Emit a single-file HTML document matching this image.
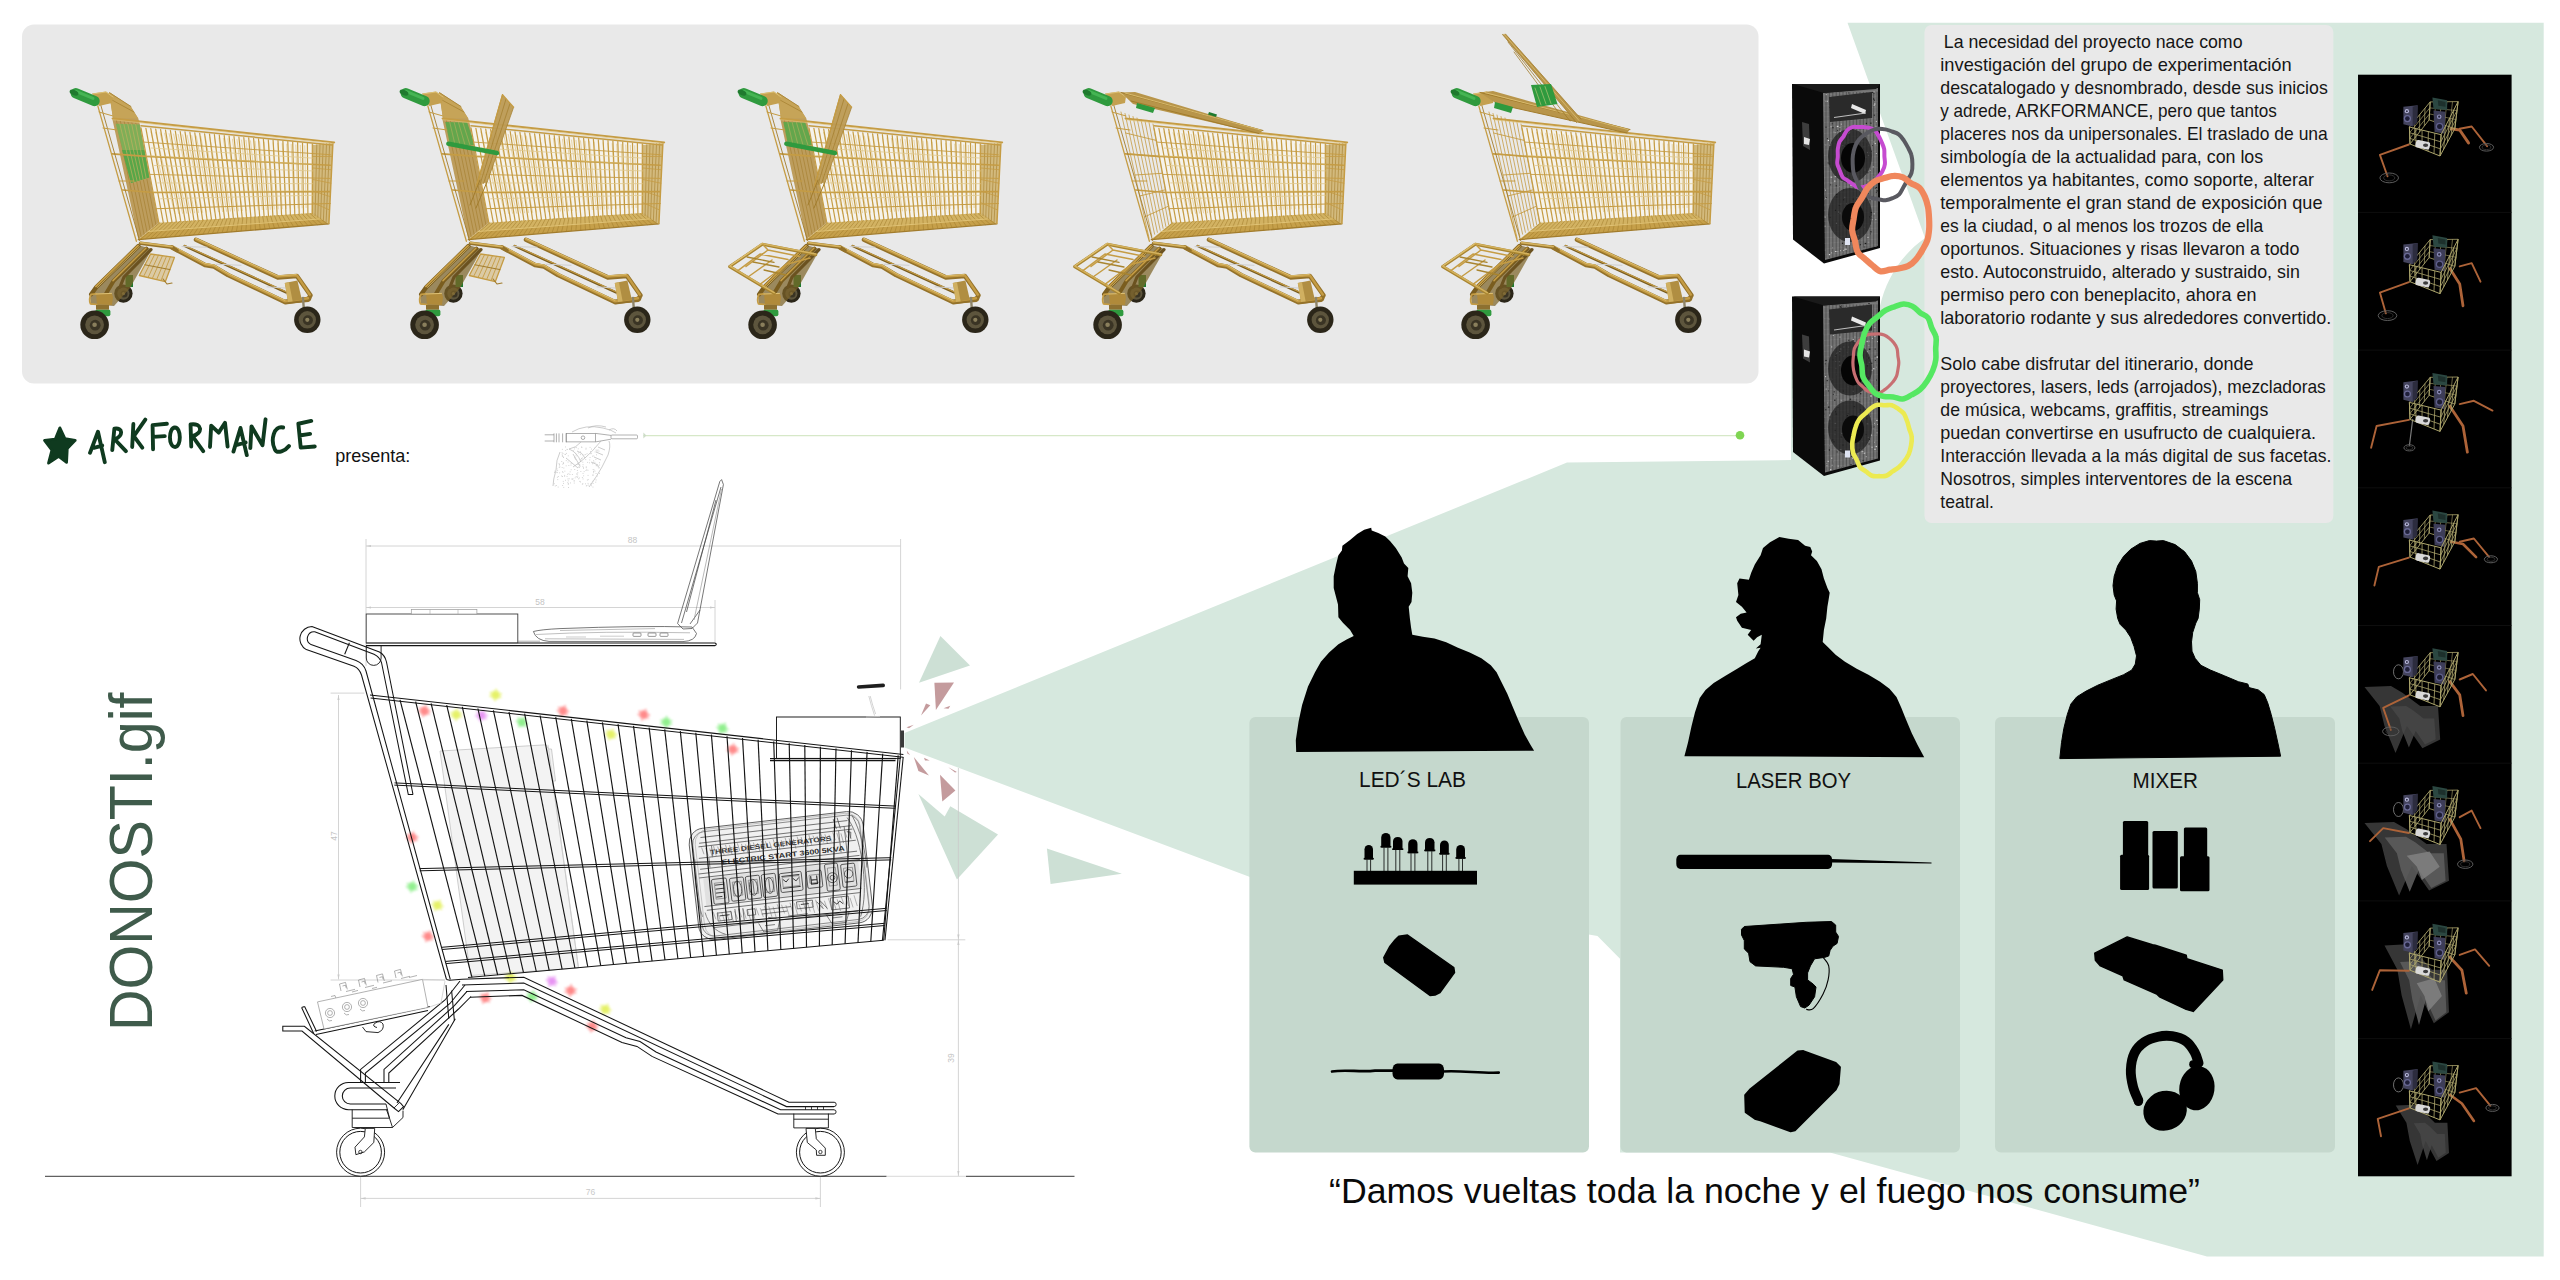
<!DOCTYPE html>
<html><head><meta charset="utf-8"><title>DONOSTI.gif - ARKFORMANCE</title>
<style>html,body{margin:0;padding:0;background:#fff;}body{width:2560px;height:1280px;overflow:hidden;}svg{display:block;font-family:"Liberation Sans", sans-serif;}</style></head><body>
<svg width="2560" height="1280" viewBox="0 0 2560 1280">
<defs><filter id="blur1" x="-20%" y="-20%" width="140%" height="140%"><feGaussianBlur stdDeviation="1.0"/></filter><filter id="blur2"><feGaussianBlur stdDeviation="0.6"/></filter></defs>
<rect width="2560" height="1280" fill="#fff"/>
<rect x="22" y="24.5" width="1736.5" height="359" rx="12" ry="12" fill="#e9e9e9"/>
<path d="M904.5,733 L1567,462.6 L1791,460 L1791,330 L1880,306 C1886,280 1900,256 1925,238 L1847.5,22.8 L2543.7,22.8 L2543.7,1256.6 L2207,1256.6 L1830,1152.5 L1620,1152.5 L1620,958.8 L1597.5,936 L1588.8,934.5 L1588.8,1000 L1250,1000 L1250,877 L904.5,747.5 Z" fill="#d6e8de"/>
<rect x="1249.4" y="716.9" width="339.6" height="435.6" rx="6" ry="6" fill="#c5d8cd"/>
<rect x="1620.5" y="716.9" width="339.5" height="435.6" rx="6" ry="6" fill="#c5d8cd"/>
<rect x="1995.0" y="716.9" width="340.0" height="435.6" rx="6" ry="6" fill="#c5d8cd"/>
<rect x="1924.5" y="25" width="408.8" height="498" rx="7" ry="7" fill="#e9e9e9"/>
<rect x="2358" y="74.7" width="153.6" height="1101.6" fill="#000"/>
<g transform="translate(0.0,0)">
<circle cx="123.4" cy="293.6" r="9.2" fill="#2b2619"/>
<circle cx="123.4" cy="293.6" r="6.1" fill="#5d553d"/>
<circle cx="124.0" cy="294.0" r="3.5" fill="#3a3424"/>
<circle cx="123.4" cy="293.6" r="1.5" fill="#8a7f5c"/>
<rect x="125.5" y="275" width="7.5" height="12" fill="#1f7a2e"/>
<polygon points="109,92 130.4,105.9 138.3,118.5 139.7,123.8 158.9,222.7 138.3,239.3 112.5,119.8 113,118.5" fill="#b89650" opacity="0.92"/>
<path d="M116.4,120.4 L141.2,236.9" stroke="#a27c2c" stroke-width="0.60" fill="none" stroke-linecap="round" stroke-linejoin="round" />
<path d="M120.3,120.9 L144.2,234.6" stroke="#a27c2c" stroke-width="0.60" fill="none" stroke-linecap="round" stroke-linejoin="round" />
<path d="M124.2,121.5 L147.1,232.2" stroke="#a27c2c" stroke-width="0.60" fill="none" stroke-linecap="round" stroke-linejoin="round" />
<path d="M128.0,122.1 L150.1,229.8" stroke="#a27c2c" stroke-width="0.60" fill="none" stroke-linecap="round" stroke-linejoin="round" />
<path d="M131.9,122.7 L153.0,227.4" stroke="#a27c2c" stroke-width="0.60" fill="none" stroke-linecap="round" stroke-linejoin="round" />
<path d="M135.8,123.2 L156.0,225.1" stroke="#a27c2c" stroke-width="0.60" fill="none" stroke-linecap="round" stroke-linejoin="round" />
<polygon points="109,92 130.4,105.9 138.3,118.5 113,118.5" fill="#c6a458"/>
<path d="M110,93 L131,106.5 M112,100 L134,112" stroke="#a27c2c" stroke-width="0.70" fill="none" stroke-linecap="round" stroke-linejoin="round" />
<polygon points="115.8,123.8 139.7,124.5 149.2,177.6 131,183" fill="#7fae57"/>
<polygon points="122,150 144.3,150 149.2,177.6 131,183" fill="#58a648"/>
<path d="M119.8,123.9 L134.0,182.1" stroke="#c2b060" stroke-width="0.70" fill="none" stroke-linecap="round" stroke-linejoin="round" />
<path d="M123.8,124.0 L137.1,181.2" stroke="#c2b060" stroke-width="0.70" fill="none" stroke-linecap="round" stroke-linejoin="round" />
<path d="M127.8,124.2 L140.1,180.3" stroke="#c2b060" stroke-width="0.70" fill="none" stroke-linecap="round" stroke-linejoin="round" />
<path d="M131.7,124.3 L143.1,179.4" stroke="#c2b060" stroke-width="0.70" fill="none" stroke-linecap="round" stroke-linejoin="round" />
<path d="M135.7,124.4 L146.2,178.5" stroke="#c2b060" stroke-width="0.70" fill="none" stroke-linecap="round" stroke-linejoin="round" />
<polygon points="141.0,127.8 312.3,143.9 312.3,213.5 158.9,223.0" fill="#f6f3ea" opacity="0.92"/>
<path d="M151.0,132.0 L170.7,213.9" stroke="#e2cc96" stroke-width="0.80" fill="none" stroke-linecap="round" stroke-linejoin="round" />
<path d="M155.6,132.4 L174.7,213.7" stroke="#e2cc96" stroke-width="0.80" fill="none" stroke-linecap="round" stroke-linejoin="round" />
<path d="M160.1,132.8 L178.7,213.5" stroke="#e2cc96" stroke-width="0.80" fill="none" stroke-linecap="round" stroke-linejoin="round" />
<path d="M164.6,133.2 L182.6,213.4" stroke="#e2cc96" stroke-width="0.80" fill="none" stroke-linecap="round" stroke-linejoin="round" />
<path d="M169.1,133.6 L186.6,213.2" stroke="#e2cc96" stroke-width="0.80" fill="none" stroke-linecap="round" stroke-linejoin="round" />
<path d="M173.6,134.0 L190.6,213.0" stroke="#e2cc96" stroke-width="0.80" fill="none" stroke-linecap="round" stroke-linejoin="round" />
<path d="M178.2,134.4 L194.6,212.8" stroke="#e2cc96" stroke-width="0.80" fill="none" stroke-linecap="round" stroke-linejoin="round" />
<path d="M182.7,134.8 L198.6,212.6" stroke="#e2cc96" stroke-width="0.80" fill="none" stroke-linecap="round" stroke-linejoin="round" />
<path d="M187.2,135.2 L202.6,212.4" stroke="#e2cc96" stroke-width="0.80" fill="none" stroke-linecap="round" stroke-linejoin="round" />
<path d="M191.7,135.6 L206.5,212.2" stroke="#e2cc96" stroke-width="0.80" fill="none" stroke-linecap="round" stroke-linejoin="round" />
<path d="M196.3,136.0 L210.5,212.1" stroke="#e2cc96" stroke-width="0.80" fill="none" stroke-linecap="round" stroke-linejoin="round" />
<path d="M200.8,136.4 L214.5,211.9" stroke="#e2cc96" stroke-width="0.80" fill="none" stroke-linecap="round" stroke-linejoin="round" />
<path d="M205.3,136.8 L218.5,211.7" stroke="#e2cc96" stroke-width="0.80" fill="none" stroke-linecap="round" stroke-linejoin="round" />
<path d="M209.8,137.2 L222.5,211.5" stroke="#e2cc96" stroke-width="0.80" fill="none" stroke-linecap="round" stroke-linejoin="round" />
<path d="M214.4,137.6 L226.5,211.3" stroke="#e2cc96" stroke-width="0.80" fill="none" stroke-linecap="round" stroke-linejoin="round" />
<path d="M218.9,138.0 L230.4,211.1" stroke="#e2cc96" stroke-width="0.80" fill="none" stroke-linecap="round" stroke-linejoin="round" />
<path d="M223.4,138.4 L234.4,210.9" stroke="#e2cc96" stroke-width="0.80" fill="none" stroke-linecap="round" stroke-linejoin="round" />
<path d="M227.9,138.8 L238.4,210.8" stroke="#e2cc96" stroke-width="0.80" fill="none" stroke-linecap="round" stroke-linejoin="round" />
<path d="M232.4,139.2 L242.4,210.6" stroke="#e2cc96" stroke-width="0.80" fill="none" stroke-linecap="round" stroke-linejoin="round" />
<path d="M237.0,139.6 L246.4,210.4" stroke="#e2cc96" stroke-width="0.80" fill="none" stroke-linecap="round" stroke-linejoin="round" />
<path d="M241.5,140.0 L250.3,210.2" stroke="#e2cc96" stroke-width="0.80" fill="none" stroke-linecap="round" stroke-linejoin="round" />
<path d="M246.0,140.4 L254.3,210.0" stroke="#e2cc96" stroke-width="0.80" fill="none" stroke-linecap="round" stroke-linejoin="round" />
<path d="M250.5,140.8 L258.3,209.8" stroke="#e2cc96" stroke-width="0.80" fill="none" stroke-linecap="round" stroke-linejoin="round" />
<path d="M255.1,141.2 L262.3,209.6" stroke="#e2cc96" stroke-width="0.80" fill="none" stroke-linecap="round" stroke-linejoin="round" />
<path d="M259.6,141.6 L266.3,209.5" stroke="#e2cc96" stroke-width="0.80" fill="none" stroke-linecap="round" stroke-linejoin="round" />
<path d="M264.1,142.1 L270.3,209.3" stroke="#e2cc96" stroke-width="0.80" fill="none" stroke-linecap="round" stroke-linejoin="round" />
<path d="M268.6,142.5 L274.2,209.1" stroke="#e2cc96" stroke-width="0.80" fill="none" stroke-linecap="round" stroke-linejoin="round" />
<path d="M273.2,142.9 L278.2,208.9" stroke="#e2cc96" stroke-width="0.80" fill="none" stroke-linecap="round" stroke-linejoin="round" />
<path d="M277.7,143.3 L282.2,208.7" stroke="#e2cc96" stroke-width="0.80" fill="none" stroke-linecap="round" stroke-linejoin="round" />
<path d="M282.2,143.7 L286.2,208.5" stroke="#e2cc96" stroke-width="0.80" fill="none" stroke-linecap="round" stroke-linejoin="round" />
<path d="M286.7,144.1 L290.2,208.3" stroke="#e2cc96" stroke-width="0.80" fill="none" stroke-linecap="round" stroke-linejoin="round" />
<path d="M291.2,144.5 L294.2,208.2" stroke="#e2cc96" stroke-width="0.80" fill="none" stroke-linecap="round" stroke-linejoin="round" />
<path d="M295.8,144.9 L298.1,208.0" stroke="#e2cc96" stroke-width="0.80" fill="none" stroke-linecap="round" stroke-linejoin="round" />
<path d="M300.3,145.3 L302.1,207.8" stroke="#e2cc96" stroke-width="0.80" fill="none" stroke-linecap="round" stroke-linejoin="round" />
<path d="M304.8,145.7 L306.1,207.6" stroke="#e2cc96" stroke-width="0.80" fill="none" stroke-linecap="round" stroke-linejoin="round" />
<polygon points="158.9,222.7 312.3,213 328.9,223.6 138.3,239.6" fill="#d2b262"/>
<polygon points="150,231 320,218.5 328.9,223.6 138.3,239.6" fill="#c39b45" opacity="0.8"/>
<path d="M160.0,222.5 L141.0,239.0" stroke="#a27c2c" stroke-width="0.55" fill="none" stroke-linecap="round" stroke-linejoin="round" />
<path d="M163.9,222.3 L145.8,238.6" stroke="#a27c2c" stroke-width="0.55" fill="none" stroke-linecap="round" stroke-linejoin="round" />
<path d="M167.9,222.0 L150.5,238.2" stroke="#a27c2c" stroke-width="0.55" fill="none" stroke-linecap="round" stroke-linejoin="round" />
<path d="M171.8,221.8 L155.3,237.8" stroke="#a27c2c" stroke-width="0.55" fill="none" stroke-linecap="round" stroke-linejoin="round" />
<path d="M175.8,221.6 L160.1,237.5" stroke="#a27c2c" stroke-width="0.55" fill="none" stroke-linecap="round" stroke-linejoin="round" />
<path d="M179.7,221.3 L164.8,237.1" stroke="#a27c2c" stroke-width="0.55" fill="none" stroke-linecap="round" stroke-linejoin="round" />
<path d="M183.7,221.1 L169.6,236.7" stroke="#a27c2c" stroke-width="0.55" fill="none" stroke-linecap="round" stroke-linejoin="round" />
<path d="M187.6,220.8 L174.4,236.3" stroke="#a27c2c" stroke-width="0.55" fill="none" stroke-linecap="round" stroke-linejoin="round" />
<path d="M191.6,220.6 L179.2,235.9" stroke="#a27c2c" stroke-width="0.55" fill="none" stroke-linecap="round" stroke-linejoin="round" />
<path d="M195.5,220.4 L183.9,235.5" stroke="#a27c2c" stroke-width="0.55" fill="none" stroke-linecap="round" stroke-linejoin="round" />
<path d="M199.5,220.1 L188.7,235.2" stroke="#a27c2c" stroke-width="0.55" fill="none" stroke-linecap="round" stroke-linejoin="round" />
<path d="M203.4,219.9 L193.5,234.8" stroke="#a27c2c" stroke-width="0.55" fill="none" stroke-linecap="round" stroke-linejoin="round" />
<path d="M207.4,219.7 L198.2,234.4" stroke="#a27c2c" stroke-width="0.55" fill="none" stroke-linecap="round" stroke-linejoin="round" />
<path d="M211.3,219.4 L203.0,234.0" stroke="#a27c2c" stroke-width="0.55" fill="none" stroke-linecap="round" stroke-linejoin="round" />
<path d="M215.3,219.2 L207.8,233.6" stroke="#a27c2c" stroke-width="0.55" fill="none" stroke-linecap="round" stroke-linejoin="round" />
<path d="M219.2,219.0 L212.5,233.2" stroke="#a27c2c" stroke-width="0.55" fill="none" stroke-linecap="round" stroke-linejoin="round" />
<path d="M223.2,218.7 L217.3,232.8" stroke="#a27c2c" stroke-width="0.55" fill="none" stroke-linecap="round" stroke-linejoin="round" />
<path d="M227.1,218.5 L222.1,232.5" stroke="#a27c2c" stroke-width="0.55" fill="none" stroke-linecap="round" stroke-linejoin="round" />
<path d="M231.1,218.3 L226.8,232.1" stroke="#a27c2c" stroke-width="0.55" fill="none" stroke-linecap="round" stroke-linejoin="round" />
<path d="M235.0,218.0 L231.6,231.7" stroke="#a27c2c" stroke-width="0.55" fill="none" stroke-linecap="round" stroke-linejoin="round" />
<path d="M239.0,217.8 L236.4,231.3" stroke="#a27c2c" stroke-width="0.55" fill="none" stroke-linecap="round" stroke-linejoin="round" />
<path d="M242.9,217.5 L241.2,230.9" stroke="#a27c2c" stroke-width="0.55" fill="none" stroke-linecap="round" stroke-linejoin="round" />
<path d="M246.9,217.3 L245.9,230.5" stroke="#a27c2c" stroke-width="0.55" fill="none" stroke-linecap="round" stroke-linejoin="round" />
<path d="M250.8,217.1 L250.7,230.2" stroke="#a27c2c" stroke-width="0.55" fill="none" stroke-linecap="round" stroke-linejoin="round" />
<path d="M254.8,216.8 L255.5,229.8" stroke="#a27c2c" stroke-width="0.55" fill="none" stroke-linecap="round" stroke-linejoin="round" />
<path d="M258.7,216.6 L260.2,229.4" stroke="#a27c2c" stroke-width="0.55" fill="none" stroke-linecap="round" stroke-linejoin="round" />
<path d="M262.7,216.4 L265.0,229.0" stroke="#a27c2c" stroke-width="0.55" fill="none" stroke-linecap="round" stroke-linejoin="round" />
<path d="M266.6,216.1 L269.8,228.6" stroke="#a27c2c" stroke-width="0.55" fill="none" stroke-linecap="round" stroke-linejoin="round" />
<path d="M270.6,215.9 L274.5,228.2" stroke="#a27c2c" stroke-width="0.55" fill="none" stroke-linecap="round" stroke-linejoin="round" />
<path d="M274.5,215.7 L279.3,227.8" stroke="#a27c2c" stroke-width="0.55" fill="none" stroke-linecap="round" stroke-linejoin="round" />
<path d="M278.5,215.4 L284.1,227.5" stroke="#a27c2c" stroke-width="0.55" fill="none" stroke-linecap="round" stroke-linejoin="round" />
<path d="M282.4,215.2 L288.8,227.1" stroke="#a27c2c" stroke-width="0.55" fill="none" stroke-linecap="round" stroke-linejoin="round" />
<path d="M286.4,215.0 L293.6,226.7" stroke="#a27c2c" stroke-width="0.55" fill="none" stroke-linecap="round" stroke-linejoin="round" />
<path d="M290.3,214.7 L298.4,226.3" stroke="#a27c2c" stroke-width="0.55" fill="none" stroke-linecap="round" stroke-linejoin="round" />
<path d="M294.3,214.5 L303.2,225.9" stroke="#a27c2c" stroke-width="0.55" fill="none" stroke-linecap="round" stroke-linejoin="round" />
<path d="M298.2,214.2 L307.9,225.5" stroke="#a27c2c" stroke-width="0.55" fill="none" stroke-linecap="round" stroke-linejoin="round" />
<path d="M302.2,214.0 L312.7,225.2" stroke="#a27c2c" stroke-width="0.55" fill="none" stroke-linecap="round" stroke-linejoin="round" />
<path d="M306.1,213.8 L317.5,224.8" stroke="#a27c2c" stroke-width="0.55" fill="none" stroke-linecap="round" stroke-linejoin="round" />
<path d="M310.1,213.5 L322.2,224.4" stroke="#a27c2c" stroke-width="0.55" fill="none" stroke-linecap="round" stroke-linejoin="round" />
<path d="M314.0,213.3 L327.0,224.0" stroke="#a27c2c" stroke-width="0.55" fill="none" stroke-linecap="round" stroke-linejoin="round" />
<path d="M148,231.5 L322,218.8" stroke="#e2c67a" stroke-width="0.90" fill="none" stroke-linecap="round" stroke-linejoin="round" />
<path d="M138.3,239.6 L328.9,223.8" stroke="#a27c2c" stroke-width="1.30" fill="none" stroke-linecap="round" stroke-linejoin="round" />
<polygon points="313.6,145 332.9,143 328.9,223.4 312.3,214" fill="#cfb26a" opacity="0.85"/>
<path d="M316.8,144.7 L315.1,215.6" stroke="#a27c2c" stroke-width="0.60" fill="none" stroke-linecap="round" stroke-linejoin="round" />
<path d="M320.0,144.3 L317.8,217.1" stroke="#a27c2c" stroke-width="0.60" fill="none" stroke-linecap="round" stroke-linejoin="round" />
<path d="M323.2,144.0 L320.6,218.7" stroke="#a27c2c" stroke-width="0.60" fill="none" stroke-linecap="round" stroke-linejoin="round" />
<path d="M326.5,143.7 L323.4,220.3" stroke="#a27c2c" stroke-width="0.60" fill="none" stroke-linecap="round" stroke-linejoin="round" />
<path d="M329.7,143.3 L326.1,221.8" stroke="#a27c2c" stroke-width="0.60" fill="none" stroke-linecap="round" stroke-linejoin="round" />
<path d="M313.4,156.5 L332.2,156.4" stroke="#c59c44" stroke-width="0.80" fill="none" stroke-linecap="round" stroke-linejoin="round" />
<path d="M313.2,168.0 L331.6,169.8" stroke="#c59c44" stroke-width="0.80" fill="none" stroke-linecap="round" stroke-linejoin="round" />
<path d="M313.0,179.5 L330.9,183.2" stroke="#c59c44" stroke-width="0.80" fill="none" stroke-linecap="round" stroke-linejoin="round" />
<path d="M312.7,191.0 L330.2,196.6" stroke="#c59c44" stroke-width="0.80" fill="none" stroke-linecap="round" stroke-linejoin="round" />
<path d="M312.5,202.5 L329.6,210.0" stroke="#c59c44" stroke-width="0.80" fill="none" stroke-linecap="round" stroke-linejoin="round" />
<path d="M332.9,143 L328.9,223.4" stroke="#c59c44" stroke-width="1.50" fill="none" stroke-linecap="round" stroke-linejoin="round" />
<path d="M313,145 L312.3,214" stroke="#c59c44" stroke-width="1.20" fill="none" stroke-linecap="round" stroke-linejoin="round" />
<path d="M141.0,127.8 L158.9,223.0" stroke="#c59c44" stroke-width="1.20" fill="none" stroke-linecap="round" stroke-linejoin="round" />
<path d="M145.9,128.3 L163.3,222.7" stroke="#c59c44" stroke-width="1.20" fill="none" stroke-linecap="round" stroke-linejoin="round" />
<path d="M150.8,128.7 L167.7,222.5" stroke="#c59c44" stroke-width="1.20" fill="none" stroke-linecap="round" stroke-linejoin="round" />
<path d="M155.7,129.2 L172.0,222.2" stroke="#c59c44" stroke-width="1.20" fill="none" stroke-linecap="round" stroke-linejoin="round" />
<path d="M160.6,129.6 L176.4,221.9" stroke="#c59c44" stroke-width="1.20" fill="none" stroke-linecap="round" stroke-linejoin="round" />
<path d="M165.5,130.1 L180.8,221.6" stroke="#c59c44" stroke-width="1.20" fill="none" stroke-linecap="round" stroke-linejoin="round" />
<path d="M170.4,130.6 L185.2,221.4" stroke="#c59c44" stroke-width="1.20" fill="none" stroke-linecap="round" stroke-linejoin="round" />
<path d="M175.3,131.0 L189.6,221.1" stroke="#c59c44" stroke-width="1.20" fill="none" stroke-linecap="round" stroke-linejoin="round" />
<path d="M180.2,131.5 L194.0,220.8" stroke="#c59c44" stroke-width="1.20" fill="none" stroke-linecap="round" stroke-linejoin="round" />
<path d="M185.0,131.9 L198.3,220.6" stroke="#c59c44" stroke-width="1.20" fill="none" stroke-linecap="round" stroke-linejoin="round" />
<path d="M189.9,132.4 L202.7,220.3" stroke="#c59c44" stroke-width="1.20" fill="none" stroke-linecap="round" stroke-linejoin="round" />
<path d="M194.8,132.9 L207.1,220.0" stroke="#c59c44" stroke-width="1.20" fill="none" stroke-linecap="round" stroke-linejoin="round" />
<path d="M199.7,133.3 L211.5,219.7" stroke="#c59c44" stroke-width="1.20" fill="none" stroke-linecap="round" stroke-linejoin="round" />
<path d="M204.6,133.8 L215.9,219.5" stroke="#c59c44" stroke-width="1.20" fill="none" stroke-linecap="round" stroke-linejoin="round" />
<path d="M209.5,134.2 L220.3,219.2" stroke="#c59c44" stroke-width="1.20" fill="none" stroke-linecap="round" stroke-linejoin="round" />
<path d="M214.4,134.7 L224.6,218.9" stroke="#c59c44" stroke-width="1.20" fill="none" stroke-linecap="round" stroke-linejoin="round" />
<path d="M219.3,135.2 L229.0,218.7" stroke="#c59c44" stroke-width="1.20" fill="none" stroke-linecap="round" stroke-linejoin="round" />
<path d="M224.2,135.6 L233.4,218.4" stroke="#c59c44" stroke-width="1.20" fill="none" stroke-linecap="round" stroke-linejoin="round" />
<path d="M229.1,136.1 L237.8,218.1" stroke="#c59c44" stroke-width="1.20" fill="none" stroke-linecap="round" stroke-linejoin="round" />
<path d="M234.0,136.5 L242.2,217.8" stroke="#c59c44" stroke-width="1.20" fill="none" stroke-linecap="round" stroke-linejoin="round" />
<path d="M238.9,137.0 L246.6,217.6" stroke="#c59c44" stroke-width="1.20" fill="none" stroke-linecap="round" stroke-linejoin="round" />
<path d="M243.8,137.5 L250.9,217.3" stroke="#c59c44" stroke-width="1.20" fill="none" stroke-linecap="round" stroke-linejoin="round" />
<path d="M248.7,137.9 L255.3,217.0" stroke="#c59c44" stroke-width="1.20" fill="none" stroke-linecap="round" stroke-linejoin="round" />
<path d="M253.6,138.4 L259.7,216.8" stroke="#c59c44" stroke-width="1.20" fill="none" stroke-linecap="round" stroke-linejoin="round" />
<path d="M258.5,138.8 L264.1,216.5" stroke="#c59c44" stroke-width="1.20" fill="none" stroke-linecap="round" stroke-linejoin="round" />
<path d="M263.4,139.3 L268.5,216.2" stroke="#c59c44" stroke-width="1.20" fill="none" stroke-linecap="round" stroke-linejoin="round" />
<path d="M268.3,139.8 L272.9,215.9" stroke="#c59c44" stroke-width="1.20" fill="none" stroke-linecap="round" stroke-linejoin="round" />
<path d="M273.1,140.2 L277.2,215.7" stroke="#c59c44" stroke-width="1.20" fill="none" stroke-linecap="round" stroke-linejoin="round" />
<path d="M278.0,140.7 L281.6,215.4" stroke="#c59c44" stroke-width="1.20" fill="none" stroke-linecap="round" stroke-linejoin="round" />
<path d="M282.9,141.1 L286.0,215.1" stroke="#c59c44" stroke-width="1.20" fill="none" stroke-linecap="round" stroke-linejoin="round" />
<path d="M287.8,141.6 L290.4,214.9" stroke="#c59c44" stroke-width="1.20" fill="none" stroke-linecap="round" stroke-linejoin="round" />
<path d="M292.7,142.1 L294.8,214.6" stroke="#c59c44" stroke-width="1.20" fill="none" stroke-linecap="round" stroke-linejoin="round" />
<path d="M297.6,142.5 L299.2,214.3" stroke="#c59c44" stroke-width="1.20" fill="none" stroke-linecap="round" stroke-linejoin="round" />
<path d="M302.5,143.0 L303.5,214.0" stroke="#c59c44" stroke-width="1.20" fill="none" stroke-linecap="round" stroke-linejoin="round" />
<path d="M307.4,143.4 L307.9,213.8" stroke="#c59c44" stroke-width="1.20" fill="none" stroke-linecap="round" stroke-linejoin="round" />
<path d="M312.3,143.9 L312.3,213.5" stroke="#c59c44" stroke-width="1.20" fill="none" stroke-linecap="round" stroke-linejoin="round" />
<path d="M143.7,142.1 L330.3,154.7" stroke="#c59c44" stroke-width="0.90" fill="none" stroke-linecap="round" stroke-linejoin="round" />
<path d="M112.3,153.9 L146.4,156.4 L330.3,165.2" stroke="#c59c44" stroke-width="1.60" fill="none" stroke-linecap="round" stroke-linejoin="round" />
<path d="M146.4,155.7 L312.3,164.3" stroke="#e2c67a" stroke-width="0.50" fill="none" stroke-linecap="round" stroke-linejoin="round" />
<path d="M149.8,174.4 L330.3,178.4" stroke="#c59c44" stroke-width="0.90" fill="none" stroke-linecap="round" stroke-linejoin="round" />
<path d="M122.6,190.0 L153.2,192.5 L330.3,191.6" stroke="#c59c44" stroke-width="1.60" fill="none" stroke-linecap="round" stroke-linejoin="round" />
<path d="M153.2,191.8 L312.3,190.7" stroke="#e2c67a" stroke-width="0.50" fill="none" stroke-linecap="round" stroke-linejoin="round" />
<path d="M156.2,208.7 L330.3,203.5" stroke="#c59c44" stroke-width="1.00" fill="none" stroke-linecap="round" stroke-linejoin="round" />
<path d="M151.2,148.0 L312.3,158.1" stroke="#e0c98f" stroke-width="0.80" fill="none" stroke-linecap="round" stroke-linejoin="round" />
<path d="M154.5,165.5 L312.3,170.9" stroke="#e0c98f" stroke-width="0.80" fill="none" stroke-linecap="round" stroke-linejoin="round" />
<path d="M157.7,182.9 L312.3,183.7" stroke="#e0c98f" stroke-width="0.80" fill="none" stroke-linecap="round" stroke-linejoin="round" />
<path d="M160.7,198.8 L312.3,195.3" stroke="#e0c98f" stroke-width="0.80" fill="none" stroke-linecap="round" stroke-linejoin="round" />
<path d="M112.5,118.5 L334.2,142.4" stroke="#c59c44" stroke-width="1.90" fill="none" stroke-linecap="round" stroke-linejoin="round" />
<path d="M141,125.8 L332.2,145" stroke="#c59c44" stroke-width="1.50" fill="none" stroke-linecap="round" stroke-linejoin="round" />
<path d="M113,119.8 L333,143.6" stroke="#e2c67a" stroke-width="0.60" fill="none" stroke-linecap="round" stroke-linejoin="round" />
<path d="M97.8,105.9 L136.4,241.3" stroke="#c59c44" stroke-width="1.30" fill="none" stroke-linecap="round" stroke-linejoin="round" />
<path d="M100.8,105.2 L139.6,240.6" stroke="#a27c2c" stroke-width="0.90" fill="none" stroke-linecap="round" stroke-linejoin="round" />
<path d="M99,112 L113,116 M103,128 L117,130 M119,181 L134,181" stroke="#c59c44" stroke-width="1.00" fill="none" stroke-linecap="round" stroke-linejoin="round" />
<polygon points="92,93.5 106,91.5 113,96.5 112,103 99,106" fill="#c4a050"/>
<path d="M93,94 L106,92 L113,97" stroke="#e2c67a" stroke-width="0.80" fill="none" stroke-linecap="round" stroke-linejoin="round" />
<line x1="75.8" y1="93.2" x2="94.5" y2="101" stroke="#2f9a3e" stroke-width="10.4" stroke-linecap="round"/>
<line x1="75.5" y1="91.2" x2="93" y2="98.4" stroke="#45b553" stroke-width="3" stroke-linecap="round"/>
<ellipse cx="74" cy="92.6" rx="2.6" ry="4.6" transform="rotate(-67 74 92.6)" fill="#1f7a2e"/>
<path d="M196,239.8 L277.8,277.4 L296.9,276 L310.5,295.2 L308.2,299.8 L285.5,301.8" stroke="#94722a" stroke-width="4.50" fill="none" stroke-linecap="round" stroke-linejoin="round" />
<path d="M196,239.2 L277.6,276.6 L296.7,275.2 L309.8,294.6" stroke="#c59c44" stroke-width="2.40" fill="none" stroke-linecap="round" stroke-linejoin="round" />
<path d="M196,238.4 L277.5,275.8 L296,274.6" stroke="#e2c67a" stroke-width="0.80" fill="none" stroke-linecap="round" stroke-linejoin="round" />
<path d="M172,247.4 L205,265 L214,266.6 L228,275 L285.4,302.2 L309,298.8" stroke="#94722a" stroke-width="4.50" fill="none" stroke-linecap="round" stroke-linejoin="round" />
<path d="M172,246.8 L205,264.3 L214,265.9 L228,274.3 L285.2,301.4 L308,298.2" stroke="#c59c44" stroke-width="2.40" fill="none" stroke-linecap="round" stroke-linejoin="round" />
<path d="M173,246 L205,263.4 L214,265 L228,273.4 L285,300.4" stroke="#e2c67a" stroke-width="0.80" fill="none" stroke-linecap="round" stroke-linejoin="round" />
<path d="M184.6,246 L286,292.4" stroke="#7a5d1f" stroke-width="2.40" fill="none" stroke-linecap="round" stroke-linejoin="round" />
<path d="M184.6,245.4 L286,291.8" stroke="#c59c44" stroke-width="1.10" fill="none" stroke-linecap="round" stroke-linejoin="round" />
<polygon points="284.8,283 297.4,280.6 301.8,299.6 288,301.9" fill="#b08e42"/>
<polygon points="284.8,283 289,282.2 292.6,301.2 288,301.9" fill="#d0b061"/>
<path d="M182,246.6 L207,247.2 M216,264.2 L241,265.3 M267,286.8 L285,288" stroke="#cfcfcf" stroke-width="1.00" fill="none" stroke-linecap="round" stroke-linejoin="round" />
<polygon points="138,245 152,249 130,288 114,306 91,304.6 89.5,294 96,285.5" fill="#7d6428" opacity="0.72"/>
<path d="M138.4,246.2 L96.4,287 L91.2,294.2" stroke="#7a5d1f" stroke-width="4.40" fill="none" stroke-linecap="round" stroke-linejoin="round" />
<path d="M138,245.6 L96,286.4" stroke="#c59c44" stroke-width="2.00" fill="none" stroke-linecap="round" stroke-linejoin="round" />
<path d="M146.4,248.6 L113.4,281.2 L104.6,296" stroke="#7a5d1f" stroke-width="4.00" fill="none" stroke-linecap="round" stroke-linejoin="round" />
<path d="M146,248 L113,280.6" stroke="#c59c44" stroke-width="1.50" fill="none" stroke-linecap="round" stroke-linejoin="round" />
<path d="M151,249.6 L124,277 L120,287" stroke="#6b5220" stroke-width="3.20" fill="none" stroke-linecap="round" stroke-linejoin="round" />
<path d="M140.6,243.2 L172,247.2 L177,250.6" stroke="#94722a" stroke-width="3.60" fill="none" stroke-linecap="round" stroke-linejoin="round" />
<path d="M140.6,242.6 L172,246.6" stroke="#d4b25e" stroke-width="1.90" fill="none" stroke-linecap="round" stroke-linejoin="round" />
<path d="M139.5,246.8 L97.5,287.4" stroke="#e2c67a" stroke-width="0.70" fill="none" stroke-linecap="round" stroke-linejoin="round" />
<path d="M96.5,293.8 L91,294.4 Q88.6,299 90.4,303.8 L97,304.5" stroke="#c59c44" stroke-width="1.70" fill="none" stroke-linecap="round" stroke-linejoin="round" />
<polygon points="96,293.5 111.5,293 113,297 112,305 97,304.6" fill="#b08a3a"/>
<path d="M96,294 L111.5,293.4" stroke="#e2c67a" stroke-width="0.90" fill="none" stroke-linecap="round" stroke-linejoin="round" />
<rect x="95.2" y="309.4" width="15.2" height="6.9" rx="2" fill="#2f9a3e"/>
<rect x="96" y="305" width="13" height="4.6" fill="#8d7030"/>
<polygon points="150.6,254 174.4,257.4 165.3,281.7 139.3,275.5" fill="#c9a552" opacity="0.45"/>
<path d="M150.6,254 L174.4,257.4 L165.3,281.7 L139.3,275.5 Z" stroke="#c59c44" stroke-width="1.30" fill="none" stroke-linecap="round" stroke-linejoin="round" />
<path d="M154.6,254.6 L143.6,276.5" stroke="#c59c44" stroke-width="0.90" fill="none" stroke-linecap="round" stroke-linejoin="round" />
<path d="M158.5,255.1 L148.0,277.6" stroke="#c59c44" stroke-width="0.90" fill="none" stroke-linecap="round" stroke-linejoin="round" />
<path d="M162.5,255.7 L152.3,278.6" stroke="#c59c44" stroke-width="0.90" fill="none" stroke-linecap="round" stroke-linejoin="round" />
<path d="M166.5,256.3 L156.6,279.6" stroke="#c59c44" stroke-width="0.90" fill="none" stroke-linecap="round" stroke-linejoin="round" />
<path d="M170.4,256.8 L161.0,280.7" stroke="#c59c44" stroke-width="0.90" fill="none" stroke-linecap="round" stroke-linejoin="round" />
<path d="M145,264.8 L170,269.6" stroke="#a27c2c" stroke-width="1.00" fill="none" stroke-linecap="round" stroke-linejoin="round" />
<path d="M163,279 L167,284 L172,283" stroke="#a27c2c" stroke-width="1.20" fill="none" stroke-linecap="round" stroke-linejoin="round" />
<circle cx="94.6" cy="324.8" r="14.3" fill="#2b2619"/>
<circle cx="94.6" cy="324.8" r="9.4" fill="#5d553d"/>
<circle cx="95.2" cy="325.2" r="5.4" fill="#3a3424"/>
<circle cx="94.6" cy="324.8" r="2.3" fill="#8a7f5c"/>
<path d="M303,298 L304.5,318" stroke="#8e8468" stroke-width="2.40" fill="none" stroke-linecap="round" stroke-linejoin="round" />
<circle cx="307.3" cy="319.8" r="13.2" fill="#2b2619"/>
<circle cx="307.3" cy="319.8" r="8.7" fill="#5d553d"/>
<circle cx="307.9" cy="320.2" r="5.0" fill="#3a3424"/>
<circle cx="307.3" cy="319.8" r="2.1" fill="#8a7f5c"/>
</g>
<g transform="translate(330.0,0)">
<circle cx="123.4" cy="293.6" r="9.2" fill="#2b2619"/>
<circle cx="123.4" cy="293.6" r="6.1" fill="#5d553d"/>
<circle cx="124.0" cy="294.0" r="3.5" fill="#3a3424"/>
<circle cx="123.4" cy="293.6" r="1.5" fill="#8a7f5c"/>
<rect x="125.5" y="275" width="7.5" height="12" fill="#1f7a2e"/>
<polygon points="109,92 130.4,105.9 138.3,118.5 139.7,123.8 158.9,222.7 138.3,239.3 112.5,119.8 113,118.5" fill="#b89650" opacity="0.92"/>
<path d="M116.4,120.4 L141.2,236.9" stroke="#a27c2c" stroke-width="0.60" fill="none" stroke-linecap="round" stroke-linejoin="round" />
<path d="M120.3,120.9 L144.2,234.6" stroke="#a27c2c" stroke-width="0.60" fill="none" stroke-linecap="round" stroke-linejoin="round" />
<path d="M124.2,121.5 L147.1,232.2" stroke="#a27c2c" stroke-width="0.60" fill="none" stroke-linecap="round" stroke-linejoin="round" />
<path d="M128.0,122.1 L150.1,229.8" stroke="#a27c2c" stroke-width="0.60" fill="none" stroke-linecap="round" stroke-linejoin="round" />
<path d="M131.9,122.7 L153.0,227.4" stroke="#a27c2c" stroke-width="0.60" fill="none" stroke-linecap="round" stroke-linejoin="round" />
<path d="M135.8,123.2 L156.0,225.1" stroke="#a27c2c" stroke-width="0.60" fill="none" stroke-linecap="round" stroke-linejoin="round" />
<polygon points="109,92 130.4,105.9 138.3,118.5 113,118.5" fill="#c6a458"/>
<path d="M110,93 L131,106.5 M112,100 L134,112" stroke="#a27c2c" stroke-width="0.70" fill="none" stroke-linecap="round" stroke-linejoin="round" />
<polygon points="115.3,121.9 137.2,122.5 145,145.3 120,144.4" fill="#63a64c"/>
<path d="M119.7,122.0 L125.0,144.6" stroke="#b9b060" stroke-width="0.60" fill="none" stroke-linecap="round" stroke-linejoin="round" />
<path d="M124.1,122.1 L130.0,144.8" stroke="#b9b060" stroke-width="0.60" fill="none" stroke-linecap="round" stroke-linejoin="round" />
<path d="M128.4,122.3 L135.0,144.9" stroke="#b9b060" stroke-width="0.60" fill="none" stroke-linecap="round" stroke-linejoin="round" />
<path d="M132.8,122.4 L140.0,145.1" stroke="#b9b060" stroke-width="0.60" fill="none" stroke-linecap="round" stroke-linejoin="round" />
<polygon points="141.0,127.8 312.3,143.9 312.3,213.5 158.9,223.0" fill="#f6f3ea" opacity="0.92"/>
<path d="M151.0,132.0 L170.7,213.9" stroke="#e2cc96" stroke-width="0.80" fill="none" stroke-linecap="round" stroke-linejoin="round" />
<path d="M155.6,132.4 L174.7,213.7" stroke="#e2cc96" stroke-width="0.80" fill="none" stroke-linecap="round" stroke-linejoin="round" />
<path d="M160.1,132.8 L178.7,213.5" stroke="#e2cc96" stroke-width="0.80" fill="none" stroke-linecap="round" stroke-linejoin="round" />
<path d="M164.6,133.2 L182.6,213.4" stroke="#e2cc96" stroke-width="0.80" fill="none" stroke-linecap="round" stroke-linejoin="round" />
<path d="M169.1,133.6 L186.6,213.2" stroke="#e2cc96" stroke-width="0.80" fill="none" stroke-linecap="round" stroke-linejoin="round" />
<path d="M173.6,134.0 L190.6,213.0" stroke="#e2cc96" stroke-width="0.80" fill="none" stroke-linecap="round" stroke-linejoin="round" />
<path d="M178.2,134.4 L194.6,212.8" stroke="#e2cc96" stroke-width="0.80" fill="none" stroke-linecap="round" stroke-linejoin="round" />
<path d="M182.7,134.8 L198.6,212.6" stroke="#e2cc96" stroke-width="0.80" fill="none" stroke-linecap="round" stroke-linejoin="round" />
<path d="M187.2,135.2 L202.6,212.4" stroke="#e2cc96" stroke-width="0.80" fill="none" stroke-linecap="round" stroke-linejoin="round" />
<path d="M191.7,135.6 L206.5,212.2" stroke="#e2cc96" stroke-width="0.80" fill="none" stroke-linecap="round" stroke-linejoin="round" />
<path d="M196.3,136.0 L210.5,212.1" stroke="#e2cc96" stroke-width="0.80" fill="none" stroke-linecap="round" stroke-linejoin="round" />
<path d="M200.8,136.4 L214.5,211.9" stroke="#e2cc96" stroke-width="0.80" fill="none" stroke-linecap="round" stroke-linejoin="round" />
<path d="M205.3,136.8 L218.5,211.7" stroke="#e2cc96" stroke-width="0.80" fill="none" stroke-linecap="round" stroke-linejoin="round" />
<path d="M209.8,137.2 L222.5,211.5" stroke="#e2cc96" stroke-width="0.80" fill="none" stroke-linecap="round" stroke-linejoin="round" />
<path d="M214.4,137.6 L226.5,211.3" stroke="#e2cc96" stroke-width="0.80" fill="none" stroke-linecap="round" stroke-linejoin="round" />
<path d="M218.9,138.0 L230.4,211.1" stroke="#e2cc96" stroke-width="0.80" fill="none" stroke-linecap="round" stroke-linejoin="round" />
<path d="M223.4,138.4 L234.4,210.9" stroke="#e2cc96" stroke-width="0.80" fill="none" stroke-linecap="round" stroke-linejoin="round" />
<path d="M227.9,138.8 L238.4,210.8" stroke="#e2cc96" stroke-width="0.80" fill="none" stroke-linecap="round" stroke-linejoin="round" />
<path d="M232.4,139.2 L242.4,210.6" stroke="#e2cc96" stroke-width="0.80" fill="none" stroke-linecap="round" stroke-linejoin="round" />
<path d="M237.0,139.6 L246.4,210.4" stroke="#e2cc96" stroke-width="0.80" fill="none" stroke-linecap="round" stroke-linejoin="round" />
<path d="M241.5,140.0 L250.3,210.2" stroke="#e2cc96" stroke-width="0.80" fill="none" stroke-linecap="round" stroke-linejoin="round" />
<path d="M246.0,140.4 L254.3,210.0" stroke="#e2cc96" stroke-width="0.80" fill="none" stroke-linecap="round" stroke-linejoin="round" />
<path d="M250.5,140.8 L258.3,209.8" stroke="#e2cc96" stroke-width="0.80" fill="none" stroke-linecap="round" stroke-linejoin="round" />
<path d="M255.1,141.2 L262.3,209.6" stroke="#e2cc96" stroke-width="0.80" fill="none" stroke-linecap="round" stroke-linejoin="round" />
<path d="M259.6,141.6 L266.3,209.5" stroke="#e2cc96" stroke-width="0.80" fill="none" stroke-linecap="round" stroke-linejoin="round" />
<path d="M264.1,142.1 L270.3,209.3" stroke="#e2cc96" stroke-width="0.80" fill="none" stroke-linecap="round" stroke-linejoin="round" />
<path d="M268.6,142.5 L274.2,209.1" stroke="#e2cc96" stroke-width="0.80" fill="none" stroke-linecap="round" stroke-linejoin="round" />
<path d="M273.2,142.9 L278.2,208.9" stroke="#e2cc96" stroke-width="0.80" fill="none" stroke-linecap="round" stroke-linejoin="round" />
<path d="M277.7,143.3 L282.2,208.7" stroke="#e2cc96" stroke-width="0.80" fill="none" stroke-linecap="round" stroke-linejoin="round" />
<path d="M282.2,143.7 L286.2,208.5" stroke="#e2cc96" stroke-width="0.80" fill="none" stroke-linecap="round" stroke-linejoin="round" />
<path d="M286.7,144.1 L290.2,208.3" stroke="#e2cc96" stroke-width="0.80" fill="none" stroke-linecap="round" stroke-linejoin="round" />
<path d="M291.2,144.5 L294.2,208.2" stroke="#e2cc96" stroke-width="0.80" fill="none" stroke-linecap="round" stroke-linejoin="round" />
<path d="M295.8,144.9 L298.1,208.0" stroke="#e2cc96" stroke-width="0.80" fill="none" stroke-linecap="round" stroke-linejoin="round" />
<path d="M300.3,145.3 L302.1,207.8" stroke="#e2cc96" stroke-width="0.80" fill="none" stroke-linecap="round" stroke-linejoin="round" />
<path d="M304.8,145.7 L306.1,207.6" stroke="#e2cc96" stroke-width="0.80" fill="none" stroke-linecap="round" stroke-linejoin="round" />
<polygon points="158.9,222.7 312.3,213 328.9,223.6 138.3,239.6" fill="#d2b262"/>
<polygon points="150,231 320,218.5 328.9,223.6 138.3,239.6" fill="#c39b45" opacity="0.8"/>
<path d="M160.0,222.5 L141.0,239.0" stroke="#a27c2c" stroke-width="0.55" fill="none" stroke-linecap="round" stroke-linejoin="round" />
<path d="M163.9,222.3 L145.8,238.6" stroke="#a27c2c" stroke-width="0.55" fill="none" stroke-linecap="round" stroke-linejoin="round" />
<path d="M167.9,222.0 L150.5,238.2" stroke="#a27c2c" stroke-width="0.55" fill="none" stroke-linecap="round" stroke-linejoin="round" />
<path d="M171.8,221.8 L155.3,237.8" stroke="#a27c2c" stroke-width="0.55" fill="none" stroke-linecap="round" stroke-linejoin="round" />
<path d="M175.8,221.6 L160.1,237.5" stroke="#a27c2c" stroke-width="0.55" fill="none" stroke-linecap="round" stroke-linejoin="round" />
<path d="M179.7,221.3 L164.8,237.1" stroke="#a27c2c" stroke-width="0.55" fill="none" stroke-linecap="round" stroke-linejoin="round" />
<path d="M183.7,221.1 L169.6,236.7" stroke="#a27c2c" stroke-width="0.55" fill="none" stroke-linecap="round" stroke-linejoin="round" />
<path d="M187.6,220.8 L174.4,236.3" stroke="#a27c2c" stroke-width="0.55" fill="none" stroke-linecap="round" stroke-linejoin="round" />
<path d="M191.6,220.6 L179.2,235.9" stroke="#a27c2c" stroke-width="0.55" fill="none" stroke-linecap="round" stroke-linejoin="round" />
<path d="M195.5,220.4 L183.9,235.5" stroke="#a27c2c" stroke-width="0.55" fill="none" stroke-linecap="round" stroke-linejoin="round" />
<path d="M199.5,220.1 L188.7,235.2" stroke="#a27c2c" stroke-width="0.55" fill="none" stroke-linecap="round" stroke-linejoin="round" />
<path d="M203.4,219.9 L193.5,234.8" stroke="#a27c2c" stroke-width="0.55" fill="none" stroke-linecap="round" stroke-linejoin="round" />
<path d="M207.4,219.7 L198.2,234.4" stroke="#a27c2c" stroke-width="0.55" fill="none" stroke-linecap="round" stroke-linejoin="round" />
<path d="M211.3,219.4 L203.0,234.0" stroke="#a27c2c" stroke-width="0.55" fill="none" stroke-linecap="round" stroke-linejoin="round" />
<path d="M215.3,219.2 L207.8,233.6" stroke="#a27c2c" stroke-width="0.55" fill="none" stroke-linecap="round" stroke-linejoin="round" />
<path d="M219.2,219.0 L212.5,233.2" stroke="#a27c2c" stroke-width="0.55" fill="none" stroke-linecap="round" stroke-linejoin="round" />
<path d="M223.2,218.7 L217.3,232.8" stroke="#a27c2c" stroke-width="0.55" fill="none" stroke-linecap="round" stroke-linejoin="round" />
<path d="M227.1,218.5 L222.1,232.5" stroke="#a27c2c" stroke-width="0.55" fill="none" stroke-linecap="round" stroke-linejoin="round" />
<path d="M231.1,218.3 L226.8,232.1" stroke="#a27c2c" stroke-width="0.55" fill="none" stroke-linecap="round" stroke-linejoin="round" />
<path d="M235.0,218.0 L231.6,231.7" stroke="#a27c2c" stroke-width="0.55" fill="none" stroke-linecap="round" stroke-linejoin="round" />
<path d="M239.0,217.8 L236.4,231.3" stroke="#a27c2c" stroke-width="0.55" fill="none" stroke-linecap="round" stroke-linejoin="round" />
<path d="M242.9,217.5 L241.2,230.9" stroke="#a27c2c" stroke-width="0.55" fill="none" stroke-linecap="round" stroke-linejoin="round" />
<path d="M246.9,217.3 L245.9,230.5" stroke="#a27c2c" stroke-width="0.55" fill="none" stroke-linecap="round" stroke-linejoin="round" />
<path d="M250.8,217.1 L250.7,230.2" stroke="#a27c2c" stroke-width="0.55" fill="none" stroke-linecap="round" stroke-linejoin="round" />
<path d="M254.8,216.8 L255.5,229.8" stroke="#a27c2c" stroke-width="0.55" fill="none" stroke-linecap="round" stroke-linejoin="round" />
<path d="M258.7,216.6 L260.2,229.4" stroke="#a27c2c" stroke-width="0.55" fill="none" stroke-linecap="round" stroke-linejoin="round" />
<path d="M262.7,216.4 L265.0,229.0" stroke="#a27c2c" stroke-width="0.55" fill="none" stroke-linecap="round" stroke-linejoin="round" />
<path d="M266.6,216.1 L269.8,228.6" stroke="#a27c2c" stroke-width="0.55" fill="none" stroke-linecap="round" stroke-linejoin="round" />
<path d="M270.6,215.9 L274.5,228.2" stroke="#a27c2c" stroke-width="0.55" fill="none" stroke-linecap="round" stroke-linejoin="round" />
<path d="M274.5,215.7 L279.3,227.8" stroke="#a27c2c" stroke-width="0.55" fill="none" stroke-linecap="round" stroke-linejoin="round" />
<path d="M278.5,215.4 L284.1,227.5" stroke="#a27c2c" stroke-width="0.55" fill="none" stroke-linecap="round" stroke-linejoin="round" />
<path d="M282.4,215.2 L288.8,227.1" stroke="#a27c2c" stroke-width="0.55" fill="none" stroke-linecap="round" stroke-linejoin="round" />
<path d="M286.4,215.0 L293.6,226.7" stroke="#a27c2c" stroke-width="0.55" fill="none" stroke-linecap="round" stroke-linejoin="round" />
<path d="M290.3,214.7 L298.4,226.3" stroke="#a27c2c" stroke-width="0.55" fill="none" stroke-linecap="round" stroke-linejoin="round" />
<path d="M294.3,214.5 L303.2,225.9" stroke="#a27c2c" stroke-width="0.55" fill="none" stroke-linecap="round" stroke-linejoin="round" />
<path d="M298.2,214.2 L307.9,225.5" stroke="#a27c2c" stroke-width="0.55" fill="none" stroke-linecap="round" stroke-linejoin="round" />
<path d="M302.2,214.0 L312.7,225.2" stroke="#a27c2c" stroke-width="0.55" fill="none" stroke-linecap="round" stroke-linejoin="round" />
<path d="M306.1,213.8 L317.5,224.8" stroke="#a27c2c" stroke-width="0.55" fill="none" stroke-linecap="round" stroke-linejoin="round" />
<path d="M310.1,213.5 L322.2,224.4" stroke="#a27c2c" stroke-width="0.55" fill="none" stroke-linecap="round" stroke-linejoin="round" />
<path d="M314.0,213.3 L327.0,224.0" stroke="#a27c2c" stroke-width="0.55" fill="none" stroke-linecap="round" stroke-linejoin="round" />
<path d="M148,231.5 L322,218.8" stroke="#e2c67a" stroke-width="0.90" fill="none" stroke-linecap="round" stroke-linejoin="round" />
<path d="M138.3,239.6 L328.9,223.8" stroke="#a27c2c" stroke-width="1.30" fill="none" stroke-linecap="round" stroke-linejoin="round" />
<polygon points="313.6,145 332.9,143 328.9,223.4 312.3,214" fill="#cfb26a" opacity="0.85"/>
<path d="M316.8,144.7 L315.1,215.6" stroke="#a27c2c" stroke-width="0.60" fill="none" stroke-linecap="round" stroke-linejoin="round" />
<path d="M320.0,144.3 L317.8,217.1" stroke="#a27c2c" stroke-width="0.60" fill="none" stroke-linecap="round" stroke-linejoin="round" />
<path d="M323.2,144.0 L320.6,218.7" stroke="#a27c2c" stroke-width="0.60" fill="none" stroke-linecap="round" stroke-linejoin="round" />
<path d="M326.5,143.7 L323.4,220.3" stroke="#a27c2c" stroke-width="0.60" fill="none" stroke-linecap="round" stroke-linejoin="round" />
<path d="M329.7,143.3 L326.1,221.8" stroke="#a27c2c" stroke-width="0.60" fill="none" stroke-linecap="round" stroke-linejoin="round" />
<path d="M313.4,156.5 L332.2,156.4" stroke="#c59c44" stroke-width="0.80" fill="none" stroke-linecap="round" stroke-linejoin="round" />
<path d="M313.2,168.0 L331.6,169.8" stroke="#c59c44" stroke-width="0.80" fill="none" stroke-linecap="round" stroke-linejoin="round" />
<path d="M313.0,179.5 L330.9,183.2" stroke="#c59c44" stroke-width="0.80" fill="none" stroke-linecap="round" stroke-linejoin="round" />
<path d="M312.7,191.0 L330.2,196.6" stroke="#c59c44" stroke-width="0.80" fill="none" stroke-linecap="round" stroke-linejoin="round" />
<path d="M312.5,202.5 L329.6,210.0" stroke="#c59c44" stroke-width="0.80" fill="none" stroke-linecap="round" stroke-linejoin="round" />
<path d="M332.9,143 L328.9,223.4" stroke="#c59c44" stroke-width="1.50" fill="none" stroke-linecap="round" stroke-linejoin="round" />
<path d="M313,145 L312.3,214" stroke="#c59c44" stroke-width="1.20" fill="none" stroke-linecap="round" stroke-linejoin="round" />
<path d="M141.0,127.8 L158.9,223.0" stroke="#c59c44" stroke-width="1.20" fill="none" stroke-linecap="round" stroke-linejoin="round" />
<path d="M145.9,128.3 L163.3,222.7" stroke="#c59c44" stroke-width="1.20" fill="none" stroke-linecap="round" stroke-linejoin="round" />
<path d="M150.8,128.7 L167.7,222.5" stroke="#c59c44" stroke-width="1.20" fill="none" stroke-linecap="round" stroke-linejoin="round" />
<path d="M155.7,129.2 L172.0,222.2" stroke="#c59c44" stroke-width="1.20" fill="none" stroke-linecap="round" stroke-linejoin="round" />
<path d="M160.6,129.6 L176.4,221.9" stroke="#c59c44" stroke-width="1.20" fill="none" stroke-linecap="round" stroke-linejoin="round" />
<path d="M165.5,130.1 L180.8,221.6" stroke="#c59c44" stroke-width="1.20" fill="none" stroke-linecap="round" stroke-linejoin="round" />
<path d="M170.4,130.6 L185.2,221.4" stroke="#c59c44" stroke-width="1.20" fill="none" stroke-linecap="round" stroke-linejoin="round" />
<path d="M175.3,131.0 L189.6,221.1" stroke="#c59c44" stroke-width="1.20" fill="none" stroke-linecap="round" stroke-linejoin="round" />
<path d="M180.2,131.5 L194.0,220.8" stroke="#c59c44" stroke-width="1.20" fill="none" stroke-linecap="round" stroke-linejoin="round" />
<path d="M185.0,131.9 L198.3,220.6" stroke="#c59c44" stroke-width="1.20" fill="none" stroke-linecap="round" stroke-linejoin="round" />
<path d="M189.9,132.4 L202.7,220.3" stroke="#c59c44" stroke-width="1.20" fill="none" stroke-linecap="round" stroke-linejoin="round" />
<path d="M194.8,132.9 L207.1,220.0" stroke="#c59c44" stroke-width="1.20" fill="none" stroke-linecap="round" stroke-linejoin="round" />
<path d="M199.7,133.3 L211.5,219.7" stroke="#c59c44" stroke-width="1.20" fill="none" stroke-linecap="round" stroke-linejoin="round" />
<path d="M204.6,133.8 L215.9,219.5" stroke="#c59c44" stroke-width="1.20" fill="none" stroke-linecap="round" stroke-linejoin="round" />
<path d="M209.5,134.2 L220.3,219.2" stroke="#c59c44" stroke-width="1.20" fill="none" stroke-linecap="round" stroke-linejoin="round" />
<path d="M214.4,134.7 L224.6,218.9" stroke="#c59c44" stroke-width="1.20" fill="none" stroke-linecap="round" stroke-linejoin="round" />
<path d="M219.3,135.2 L229.0,218.7" stroke="#c59c44" stroke-width="1.20" fill="none" stroke-linecap="round" stroke-linejoin="round" />
<path d="M224.2,135.6 L233.4,218.4" stroke="#c59c44" stroke-width="1.20" fill="none" stroke-linecap="round" stroke-linejoin="round" />
<path d="M229.1,136.1 L237.8,218.1" stroke="#c59c44" stroke-width="1.20" fill="none" stroke-linecap="round" stroke-linejoin="round" />
<path d="M234.0,136.5 L242.2,217.8" stroke="#c59c44" stroke-width="1.20" fill="none" stroke-linecap="round" stroke-linejoin="round" />
<path d="M238.9,137.0 L246.6,217.6" stroke="#c59c44" stroke-width="1.20" fill="none" stroke-linecap="round" stroke-linejoin="round" />
<path d="M243.8,137.5 L250.9,217.3" stroke="#c59c44" stroke-width="1.20" fill="none" stroke-linecap="round" stroke-linejoin="round" />
<path d="M248.7,137.9 L255.3,217.0" stroke="#c59c44" stroke-width="1.20" fill="none" stroke-linecap="round" stroke-linejoin="round" />
<path d="M253.6,138.4 L259.7,216.8" stroke="#c59c44" stroke-width="1.20" fill="none" stroke-linecap="round" stroke-linejoin="round" />
<path d="M258.5,138.8 L264.1,216.5" stroke="#c59c44" stroke-width="1.20" fill="none" stroke-linecap="round" stroke-linejoin="round" />
<path d="M263.4,139.3 L268.5,216.2" stroke="#c59c44" stroke-width="1.20" fill="none" stroke-linecap="round" stroke-linejoin="round" />
<path d="M268.3,139.8 L272.9,215.9" stroke="#c59c44" stroke-width="1.20" fill="none" stroke-linecap="round" stroke-linejoin="round" />
<path d="M273.1,140.2 L277.2,215.7" stroke="#c59c44" stroke-width="1.20" fill="none" stroke-linecap="round" stroke-linejoin="round" />
<path d="M278.0,140.7 L281.6,215.4" stroke="#c59c44" stroke-width="1.20" fill="none" stroke-linecap="round" stroke-linejoin="round" />
<path d="M282.9,141.1 L286.0,215.1" stroke="#c59c44" stroke-width="1.20" fill="none" stroke-linecap="round" stroke-linejoin="round" />
<path d="M287.8,141.6 L290.4,214.9" stroke="#c59c44" stroke-width="1.20" fill="none" stroke-linecap="round" stroke-linejoin="round" />
<path d="M292.7,142.1 L294.8,214.6" stroke="#c59c44" stroke-width="1.20" fill="none" stroke-linecap="round" stroke-linejoin="round" />
<path d="M297.6,142.5 L299.2,214.3" stroke="#c59c44" stroke-width="1.20" fill="none" stroke-linecap="round" stroke-linejoin="round" />
<path d="M302.5,143.0 L303.5,214.0" stroke="#c59c44" stroke-width="1.20" fill="none" stroke-linecap="round" stroke-linejoin="round" />
<path d="M307.4,143.4 L307.9,213.8" stroke="#c59c44" stroke-width="1.20" fill="none" stroke-linecap="round" stroke-linejoin="round" />
<path d="M312.3,143.9 L312.3,213.5" stroke="#c59c44" stroke-width="1.20" fill="none" stroke-linecap="round" stroke-linejoin="round" />
<path d="M143.7,142.1 L330.3,154.7" stroke="#c59c44" stroke-width="0.90" fill="none" stroke-linecap="round" stroke-linejoin="round" />
<path d="M112.3,153.9 L146.4,156.4 L330.3,165.2" stroke="#c59c44" stroke-width="1.60" fill="none" stroke-linecap="round" stroke-linejoin="round" />
<path d="M146.4,155.7 L312.3,164.3" stroke="#e2c67a" stroke-width="0.50" fill="none" stroke-linecap="round" stroke-linejoin="round" />
<path d="M149.8,174.4 L330.3,178.4" stroke="#c59c44" stroke-width="0.90" fill="none" stroke-linecap="round" stroke-linejoin="round" />
<path d="M122.6,190.0 L153.2,192.5 L330.3,191.6" stroke="#c59c44" stroke-width="1.60" fill="none" stroke-linecap="round" stroke-linejoin="round" />
<path d="M153.2,191.8 L312.3,190.7" stroke="#e2c67a" stroke-width="0.50" fill="none" stroke-linecap="round" stroke-linejoin="round" />
<path d="M156.2,208.7 L330.3,203.5" stroke="#c59c44" stroke-width="1.00" fill="none" stroke-linecap="round" stroke-linejoin="round" />
<path d="M151.2,148.0 L312.3,158.1" stroke="#e0c98f" stroke-width="0.80" fill="none" stroke-linecap="round" stroke-linejoin="round" />
<path d="M154.5,165.5 L312.3,170.9" stroke="#e0c98f" stroke-width="0.80" fill="none" stroke-linecap="round" stroke-linejoin="round" />
<path d="M157.7,182.9 L312.3,183.7" stroke="#e0c98f" stroke-width="0.80" fill="none" stroke-linecap="round" stroke-linejoin="round" />
<path d="M160.7,198.8 L312.3,195.3" stroke="#e0c98f" stroke-width="0.80" fill="none" stroke-linecap="round" stroke-linejoin="round" />
<path d="M112.5,118.5 L334.2,142.4" stroke="#c59c44" stroke-width="1.90" fill="none" stroke-linecap="round" stroke-linejoin="round" />
<path d="M141,125.8 L332.2,145" stroke="#c59c44" stroke-width="1.50" fill="none" stroke-linecap="round" stroke-linejoin="round" />
<path d="M113,119.8 L333,143.6" stroke="#e2c67a" stroke-width="0.60" fill="none" stroke-linecap="round" stroke-linejoin="round" />
<path d="M97.8,105.9 L136.4,241.3" stroke="#c59c44" stroke-width="1.30" fill="none" stroke-linecap="round" stroke-linejoin="round" />
<path d="M100.8,105.2 L139.6,240.6" stroke="#a27c2c" stroke-width="0.90" fill="none" stroke-linecap="round" stroke-linejoin="round" />
<path d="M99,112 L113,116 M103,128 L117,130 M119,181 L134,181" stroke="#c59c44" stroke-width="1.00" fill="none" stroke-linecap="round" stroke-linejoin="round" />
<polygon points="92,93.5 106,91.5 113,96.5 112,103 99,106" fill="#c4a050"/>
<path d="M93,94 L106,92 L113,97" stroke="#e2c67a" stroke-width="0.80" fill="none" stroke-linecap="round" stroke-linejoin="round" />
<line x1="75.8" y1="93.2" x2="94.5" y2="101" stroke="#2f9a3e" stroke-width="10.4" stroke-linecap="round"/>
<line x1="75.5" y1="91.2" x2="93" y2="98.4" stroke="#45b553" stroke-width="3" stroke-linecap="round"/>
<ellipse cx="74" cy="92.6" rx="2.6" ry="4.6" transform="rotate(-67 74 92.6)" fill="#1f7a2e"/>
<polygon points="172.5,94.6 183.6,107.3 157.2,182 146.5,186" fill="#bd9b54" opacity="0.95"/>
<path d="M172.5,94.6 L146.5,186 M183.6,107.3 L157.2,182 M176,99 L150,184.5 M180,103.5 L153.6,183.4" stroke="#a27c2c" stroke-width="0.70" fill="none" stroke-linecap="round" stroke-linejoin="round" />
<path d="M172.5,94.6 L183.6,107.3 M172.5,94.6 L146.5,186" stroke="#c59c44" stroke-width="1.30" fill="none" stroke-linecap="round" stroke-linejoin="round" />
<path d="M150,180 L140,205 M157,182 L146,208" stroke="#a27c2c" stroke-width="1.00" fill="none" stroke-linecap="round" stroke-linejoin="round" />
<line x1="118.4" y1="143.8" x2="166.9" y2="153" stroke="#2f9a3e" stroke-width="4.6" stroke-linecap="round"/>
<path d="M196,239.8 L277.8,277.4 L296.9,276 L310.5,295.2 L308.2,299.8 L285.5,301.8" stroke="#94722a" stroke-width="4.50" fill="none" stroke-linecap="round" stroke-linejoin="round" />
<path d="M196,239.2 L277.6,276.6 L296.7,275.2 L309.8,294.6" stroke="#c59c44" stroke-width="2.40" fill="none" stroke-linecap="round" stroke-linejoin="round" />
<path d="M196,238.4 L277.5,275.8 L296,274.6" stroke="#e2c67a" stroke-width="0.80" fill="none" stroke-linecap="round" stroke-linejoin="round" />
<path d="M172,247.4 L205,265 L214,266.6 L228,275 L285.4,302.2 L309,298.8" stroke="#94722a" stroke-width="4.50" fill="none" stroke-linecap="round" stroke-linejoin="round" />
<path d="M172,246.8 L205,264.3 L214,265.9 L228,274.3 L285.2,301.4 L308,298.2" stroke="#c59c44" stroke-width="2.40" fill="none" stroke-linecap="round" stroke-linejoin="round" />
<path d="M173,246 L205,263.4 L214,265 L228,273.4 L285,300.4" stroke="#e2c67a" stroke-width="0.80" fill="none" stroke-linecap="round" stroke-linejoin="round" />
<path d="M184.6,246 L286,292.4" stroke="#7a5d1f" stroke-width="2.40" fill="none" stroke-linecap="round" stroke-linejoin="round" />
<path d="M184.6,245.4 L286,291.8" stroke="#c59c44" stroke-width="1.10" fill="none" stroke-linecap="round" stroke-linejoin="round" />
<polygon points="284.8,283 297.4,280.6 301.8,299.6 288,301.9" fill="#b08e42"/>
<polygon points="284.8,283 289,282.2 292.6,301.2 288,301.9" fill="#d0b061"/>
<path d="M182,246.6 L207,247.2 M216,264.2 L241,265.3 M267,286.8 L285,288" stroke="#cfcfcf" stroke-width="1.00" fill="none" stroke-linecap="round" stroke-linejoin="round" />
<polygon points="138,245 152,249 130,288 114,306 91,304.6 89.5,294 96,285.5" fill="#7d6428" opacity="0.72"/>
<path d="M138.4,246.2 L96.4,287 L91.2,294.2" stroke="#7a5d1f" stroke-width="4.40" fill="none" stroke-linecap="round" stroke-linejoin="round" />
<path d="M138,245.6 L96,286.4" stroke="#c59c44" stroke-width="2.00" fill="none" stroke-linecap="round" stroke-linejoin="round" />
<path d="M146.4,248.6 L113.4,281.2 L104.6,296" stroke="#7a5d1f" stroke-width="4.00" fill="none" stroke-linecap="round" stroke-linejoin="round" />
<path d="M146,248 L113,280.6" stroke="#c59c44" stroke-width="1.50" fill="none" stroke-linecap="round" stroke-linejoin="round" />
<path d="M151,249.6 L124,277 L120,287" stroke="#6b5220" stroke-width="3.20" fill="none" stroke-linecap="round" stroke-linejoin="round" />
<path d="M140.6,243.2 L172,247.2 L177,250.6" stroke="#94722a" stroke-width="3.60" fill="none" stroke-linecap="round" stroke-linejoin="round" />
<path d="M140.6,242.6 L172,246.6" stroke="#d4b25e" stroke-width="1.90" fill="none" stroke-linecap="round" stroke-linejoin="round" />
<path d="M139.5,246.8 L97.5,287.4" stroke="#e2c67a" stroke-width="0.70" fill="none" stroke-linecap="round" stroke-linejoin="round" />
<path d="M96.5,293.8 L91,294.4 Q88.6,299 90.4,303.8 L97,304.5" stroke="#c59c44" stroke-width="1.70" fill="none" stroke-linecap="round" stroke-linejoin="round" />
<polygon points="96,293.5 111.5,293 113,297 112,305 97,304.6" fill="#b08a3a"/>
<path d="M96,294 L111.5,293.4" stroke="#e2c67a" stroke-width="0.90" fill="none" stroke-linecap="round" stroke-linejoin="round" />
<rect x="95.2" y="309.4" width="15.2" height="6.9" rx="2" fill="#2f9a3e"/>
<rect x="96" y="305" width="13" height="4.6" fill="#8d7030"/>
<polygon points="150.6,254 174.4,257.4 165.3,281.7 139.3,275.5" fill="#c9a552" opacity="0.45"/>
<path d="M150.6,254 L174.4,257.4 L165.3,281.7 L139.3,275.5 Z" stroke="#c59c44" stroke-width="1.30" fill="none" stroke-linecap="round" stroke-linejoin="round" />
<path d="M154.6,254.6 L143.6,276.5" stroke="#c59c44" stroke-width="0.90" fill="none" stroke-linecap="round" stroke-linejoin="round" />
<path d="M158.5,255.1 L148.0,277.6" stroke="#c59c44" stroke-width="0.90" fill="none" stroke-linecap="round" stroke-linejoin="round" />
<path d="M162.5,255.7 L152.3,278.6" stroke="#c59c44" stroke-width="0.90" fill="none" stroke-linecap="round" stroke-linejoin="round" />
<path d="M166.5,256.3 L156.6,279.6" stroke="#c59c44" stroke-width="0.90" fill="none" stroke-linecap="round" stroke-linejoin="round" />
<path d="M170.4,256.8 L161.0,280.7" stroke="#c59c44" stroke-width="0.90" fill="none" stroke-linecap="round" stroke-linejoin="round" />
<path d="M145,264.8 L170,269.6" stroke="#a27c2c" stroke-width="1.00" fill="none" stroke-linecap="round" stroke-linejoin="round" />
<path d="M163,279 L167,284 L172,283" stroke="#a27c2c" stroke-width="1.20" fill="none" stroke-linecap="round" stroke-linejoin="round" />
<circle cx="94.6" cy="324.8" r="14.3" fill="#2b2619"/>
<circle cx="94.6" cy="324.8" r="9.4" fill="#5d553d"/>
<circle cx="95.2" cy="325.2" r="5.4" fill="#3a3424"/>
<circle cx="94.6" cy="324.8" r="2.3" fill="#8a7f5c"/>
<path d="M303,298 L304.5,318" stroke="#8e8468" stroke-width="2.40" fill="none" stroke-linecap="round" stroke-linejoin="round" />
<circle cx="307.3" cy="319.8" r="13.2" fill="#2b2619"/>
<circle cx="307.3" cy="319.8" r="8.7" fill="#5d553d"/>
<circle cx="307.9" cy="320.2" r="5.0" fill="#3a3424"/>
<circle cx="307.3" cy="319.8" r="2.1" fill="#8a7f5c"/>
</g>
<g transform="translate(668.0,0)">
<circle cx="123.4" cy="293.6" r="9.2" fill="#2b2619"/>
<circle cx="123.4" cy="293.6" r="6.1" fill="#5d553d"/>
<circle cx="124.0" cy="294.0" r="3.5" fill="#3a3424"/>
<circle cx="123.4" cy="293.6" r="1.5" fill="#8a7f5c"/>
<rect x="125.5" y="275" width="7.5" height="12" fill="#1f7a2e"/>
<polygon points="109,92 130.4,105.9 138.3,118.5 139.7,123.8 158.9,222.7 138.3,239.3 112.5,119.8 113,118.5" fill="#b89650" opacity="0.92"/>
<path d="M116.4,120.4 L141.2,236.9" stroke="#a27c2c" stroke-width="0.60" fill="none" stroke-linecap="round" stroke-linejoin="round" />
<path d="M120.3,120.9 L144.2,234.6" stroke="#a27c2c" stroke-width="0.60" fill="none" stroke-linecap="round" stroke-linejoin="round" />
<path d="M124.2,121.5 L147.1,232.2" stroke="#a27c2c" stroke-width="0.60" fill="none" stroke-linecap="round" stroke-linejoin="round" />
<path d="M128.0,122.1 L150.1,229.8" stroke="#a27c2c" stroke-width="0.60" fill="none" stroke-linecap="round" stroke-linejoin="round" />
<path d="M131.9,122.7 L153.0,227.4" stroke="#a27c2c" stroke-width="0.60" fill="none" stroke-linecap="round" stroke-linejoin="round" />
<path d="M135.8,123.2 L156.0,225.1" stroke="#a27c2c" stroke-width="0.60" fill="none" stroke-linecap="round" stroke-linejoin="round" />
<polygon points="109,92 130.4,105.9 138.3,118.5 113,118.5" fill="#c6a458"/>
<path d="M110,93 L131,106.5 M112,100 L134,112" stroke="#a27c2c" stroke-width="0.70" fill="none" stroke-linecap="round" stroke-linejoin="round" />
<polygon points="115.3,121.9 137.2,122.5 145,145.3 120,144.4" fill="#63a64c"/>
<path d="M119.7,122.0 L125.0,144.6" stroke="#b9b060" stroke-width="0.60" fill="none" stroke-linecap="round" stroke-linejoin="round" />
<path d="M124.1,122.1 L130.0,144.8" stroke="#b9b060" stroke-width="0.60" fill="none" stroke-linecap="round" stroke-linejoin="round" />
<path d="M128.4,122.3 L135.0,144.9" stroke="#b9b060" stroke-width="0.60" fill="none" stroke-linecap="round" stroke-linejoin="round" />
<path d="M132.8,122.4 L140.0,145.1" stroke="#b9b060" stroke-width="0.60" fill="none" stroke-linecap="round" stroke-linejoin="round" />
<polygon points="141.0,127.8 312.3,143.9 312.3,213.5 158.9,223.0" fill="#f6f3ea" opacity="0.92"/>
<path d="M151.0,132.0 L170.7,213.9" stroke="#e2cc96" stroke-width="0.80" fill="none" stroke-linecap="round" stroke-linejoin="round" />
<path d="M155.6,132.4 L174.7,213.7" stroke="#e2cc96" stroke-width="0.80" fill="none" stroke-linecap="round" stroke-linejoin="round" />
<path d="M160.1,132.8 L178.7,213.5" stroke="#e2cc96" stroke-width="0.80" fill="none" stroke-linecap="round" stroke-linejoin="round" />
<path d="M164.6,133.2 L182.6,213.4" stroke="#e2cc96" stroke-width="0.80" fill="none" stroke-linecap="round" stroke-linejoin="round" />
<path d="M169.1,133.6 L186.6,213.2" stroke="#e2cc96" stroke-width="0.80" fill="none" stroke-linecap="round" stroke-linejoin="round" />
<path d="M173.6,134.0 L190.6,213.0" stroke="#e2cc96" stroke-width="0.80" fill="none" stroke-linecap="round" stroke-linejoin="round" />
<path d="M178.2,134.4 L194.6,212.8" stroke="#e2cc96" stroke-width="0.80" fill="none" stroke-linecap="round" stroke-linejoin="round" />
<path d="M182.7,134.8 L198.6,212.6" stroke="#e2cc96" stroke-width="0.80" fill="none" stroke-linecap="round" stroke-linejoin="round" />
<path d="M187.2,135.2 L202.6,212.4" stroke="#e2cc96" stroke-width="0.80" fill="none" stroke-linecap="round" stroke-linejoin="round" />
<path d="M191.7,135.6 L206.5,212.2" stroke="#e2cc96" stroke-width="0.80" fill="none" stroke-linecap="round" stroke-linejoin="round" />
<path d="M196.3,136.0 L210.5,212.1" stroke="#e2cc96" stroke-width="0.80" fill="none" stroke-linecap="round" stroke-linejoin="round" />
<path d="M200.8,136.4 L214.5,211.9" stroke="#e2cc96" stroke-width="0.80" fill="none" stroke-linecap="round" stroke-linejoin="round" />
<path d="M205.3,136.8 L218.5,211.7" stroke="#e2cc96" stroke-width="0.80" fill="none" stroke-linecap="round" stroke-linejoin="round" />
<path d="M209.8,137.2 L222.5,211.5" stroke="#e2cc96" stroke-width="0.80" fill="none" stroke-linecap="round" stroke-linejoin="round" />
<path d="M214.4,137.6 L226.5,211.3" stroke="#e2cc96" stroke-width="0.80" fill="none" stroke-linecap="round" stroke-linejoin="round" />
<path d="M218.9,138.0 L230.4,211.1" stroke="#e2cc96" stroke-width="0.80" fill="none" stroke-linecap="round" stroke-linejoin="round" />
<path d="M223.4,138.4 L234.4,210.9" stroke="#e2cc96" stroke-width="0.80" fill="none" stroke-linecap="round" stroke-linejoin="round" />
<path d="M227.9,138.8 L238.4,210.8" stroke="#e2cc96" stroke-width="0.80" fill="none" stroke-linecap="round" stroke-linejoin="round" />
<path d="M232.4,139.2 L242.4,210.6" stroke="#e2cc96" stroke-width="0.80" fill="none" stroke-linecap="round" stroke-linejoin="round" />
<path d="M237.0,139.6 L246.4,210.4" stroke="#e2cc96" stroke-width="0.80" fill="none" stroke-linecap="round" stroke-linejoin="round" />
<path d="M241.5,140.0 L250.3,210.2" stroke="#e2cc96" stroke-width="0.80" fill="none" stroke-linecap="round" stroke-linejoin="round" />
<path d="M246.0,140.4 L254.3,210.0" stroke="#e2cc96" stroke-width="0.80" fill="none" stroke-linecap="round" stroke-linejoin="round" />
<path d="M250.5,140.8 L258.3,209.8" stroke="#e2cc96" stroke-width="0.80" fill="none" stroke-linecap="round" stroke-linejoin="round" />
<path d="M255.1,141.2 L262.3,209.6" stroke="#e2cc96" stroke-width="0.80" fill="none" stroke-linecap="round" stroke-linejoin="round" />
<path d="M259.6,141.6 L266.3,209.5" stroke="#e2cc96" stroke-width="0.80" fill="none" stroke-linecap="round" stroke-linejoin="round" />
<path d="M264.1,142.1 L270.3,209.3" stroke="#e2cc96" stroke-width="0.80" fill="none" stroke-linecap="round" stroke-linejoin="round" />
<path d="M268.6,142.5 L274.2,209.1" stroke="#e2cc96" stroke-width="0.80" fill="none" stroke-linecap="round" stroke-linejoin="round" />
<path d="M273.2,142.9 L278.2,208.9" stroke="#e2cc96" stroke-width="0.80" fill="none" stroke-linecap="round" stroke-linejoin="round" />
<path d="M277.7,143.3 L282.2,208.7" stroke="#e2cc96" stroke-width="0.80" fill="none" stroke-linecap="round" stroke-linejoin="round" />
<path d="M282.2,143.7 L286.2,208.5" stroke="#e2cc96" stroke-width="0.80" fill="none" stroke-linecap="round" stroke-linejoin="round" />
<path d="M286.7,144.1 L290.2,208.3" stroke="#e2cc96" stroke-width="0.80" fill="none" stroke-linecap="round" stroke-linejoin="round" />
<path d="M291.2,144.5 L294.2,208.2" stroke="#e2cc96" stroke-width="0.80" fill="none" stroke-linecap="round" stroke-linejoin="round" />
<path d="M295.8,144.9 L298.1,208.0" stroke="#e2cc96" stroke-width="0.80" fill="none" stroke-linecap="round" stroke-linejoin="round" />
<path d="M300.3,145.3 L302.1,207.8" stroke="#e2cc96" stroke-width="0.80" fill="none" stroke-linecap="round" stroke-linejoin="round" />
<path d="M304.8,145.7 L306.1,207.6" stroke="#e2cc96" stroke-width="0.80" fill="none" stroke-linecap="round" stroke-linejoin="round" />
<polygon points="158.9,222.7 312.3,213 328.9,223.6 138.3,239.6" fill="#d2b262"/>
<polygon points="150,231 320,218.5 328.9,223.6 138.3,239.6" fill="#c39b45" opacity="0.8"/>
<path d="M160.0,222.5 L141.0,239.0" stroke="#a27c2c" stroke-width="0.55" fill="none" stroke-linecap="round" stroke-linejoin="round" />
<path d="M163.9,222.3 L145.8,238.6" stroke="#a27c2c" stroke-width="0.55" fill="none" stroke-linecap="round" stroke-linejoin="round" />
<path d="M167.9,222.0 L150.5,238.2" stroke="#a27c2c" stroke-width="0.55" fill="none" stroke-linecap="round" stroke-linejoin="round" />
<path d="M171.8,221.8 L155.3,237.8" stroke="#a27c2c" stroke-width="0.55" fill="none" stroke-linecap="round" stroke-linejoin="round" />
<path d="M175.8,221.6 L160.1,237.5" stroke="#a27c2c" stroke-width="0.55" fill="none" stroke-linecap="round" stroke-linejoin="round" />
<path d="M179.7,221.3 L164.8,237.1" stroke="#a27c2c" stroke-width="0.55" fill="none" stroke-linecap="round" stroke-linejoin="round" />
<path d="M183.7,221.1 L169.6,236.7" stroke="#a27c2c" stroke-width="0.55" fill="none" stroke-linecap="round" stroke-linejoin="round" />
<path d="M187.6,220.8 L174.4,236.3" stroke="#a27c2c" stroke-width="0.55" fill="none" stroke-linecap="round" stroke-linejoin="round" />
<path d="M191.6,220.6 L179.2,235.9" stroke="#a27c2c" stroke-width="0.55" fill="none" stroke-linecap="round" stroke-linejoin="round" />
<path d="M195.5,220.4 L183.9,235.5" stroke="#a27c2c" stroke-width="0.55" fill="none" stroke-linecap="round" stroke-linejoin="round" />
<path d="M199.5,220.1 L188.7,235.2" stroke="#a27c2c" stroke-width="0.55" fill="none" stroke-linecap="round" stroke-linejoin="round" />
<path d="M203.4,219.9 L193.5,234.8" stroke="#a27c2c" stroke-width="0.55" fill="none" stroke-linecap="round" stroke-linejoin="round" />
<path d="M207.4,219.7 L198.2,234.4" stroke="#a27c2c" stroke-width="0.55" fill="none" stroke-linecap="round" stroke-linejoin="round" />
<path d="M211.3,219.4 L203.0,234.0" stroke="#a27c2c" stroke-width="0.55" fill="none" stroke-linecap="round" stroke-linejoin="round" />
<path d="M215.3,219.2 L207.8,233.6" stroke="#a27c2c" stroke-width="0.55" fill="none" stroke-linecap="round" stroke-linejoin="round" />
<path d="M219.2,219.0 L212.5,233.2" stroke="#a27c2c" stroke-width="0.55" fill="none" stroke-linecap="round" stroke-linejoin="round" />
<path d="M223.2,218.7 L217.3,232.8" stroke="#a27c2c" stroke-width="0.55" fill="none" stroke-linecap="round" stroke-linejoin="round" />
<path d="M227.1,218.5 L222.1,232.5" stroke="#a27c2c" stroke-width="0.55" fill="none" stroke-linecap="round" stroke-linejoin="round" />
<path d="M231.1,218.3 L226.8,232.1" stroke="#a27c2c" stroke-width="0.55" fill="none" stroke-linecap="round" stroke-linejoin="round" />
<path d="M235.0,218.0 L231.6,231.7" stroke="#a27c2c" stroke-width="0.55" fill="none" stroke-linecap="round" stroke-linejoin="round" />
<path d="M239.0,217.8 L236.4,231.3" stroke="#a27c2c" stroke-width="0.55" fill="none" stroke-linecap="round" stroke-linejoin="round" />
<path d="M242.9,217.5 L241.2,230.9" stroke="#a27c2c" stroke-width="0.55" fill="none" stroke-linecap="round" stroke-linejoin="round" />
<path d="M246.9,217.3 L245.9,230.5" stroke="#a27c2c" stroke-width="0.55" fill="none" stroke-linecap="round" stroke-linejoin="round" />
<path d="M250.8,217.1 L250.7,230.2" stroke="#a27c2c" stroke-width="0.55" fill="none" stroke-linecap="round" stroke-linejoin="round" />
<path d="M254.8,216.8 L255.5,229.8" stroke="#a27c2c" stroke-width="0.55" fill="none" stroke-linecap="round" stroke-linejoin="round" />
<path d="M258.7,216.6 L260.2,229.4" stroke="#a27c2c" stroke-width="0.55" fill="none" stroke-linecap="round" stroke-linejoin="round" />
<path d="M262.7,216.4 L265.0,229.0" stroke="#a27c2c" stroke-width="0.55" fill="none" stroke-linecap="round" stroke-linejoin="round" />
<path d="M266.6,216.1 L269.8,228.6" stroke="#a27c2c" stroke-width="0.55" fill="none" stroke-linecap="round" stroke-linejoin="round" />
<path d="M270.6,215.9 L274.5,228.2" stroke="#a27c2c" stroke-width="0.55" fill="none" stroke-linecap="round" stroke-linejoin="round" />
<path d="M274.5,215.7 L279.3,227.8" stroke="#a27c2c" stroke-width="0.55" fill="none" stroke-linecap="round" stroke-linejoin="round" />
<path d="M278.5,215.4 L284.1,227.5" stroke="#a27c2c" stroke-width="0.55" fill="none" stroke-linecap="round" stroke-linejoin="round" />
<path d="M282.4,215.2 L288.8,227.1" stroke="#a27c2c" stroke-width="0.55" fill="none" stroke-linecap="round" stroke-linejoin="round" />
<path d="M286.4,215.0 L293.6,226.7" stroke="#a27c2c" stroke-width="0.55" fill="none" stroke-linecap="round" stroke-linejoin="round" />
<path d="M290.3,214.7 L298.4,226.3" stroke="#a27c2c" stroke-width="0.55" fill="none" stroke-linecap="round" stroke-linejoin="round" />
<path d="M294.3,214.5 L303.2,225.9" stroke="#a27c2c" stroke-width="0.55" fill="none" stroke-linecap="round" stroke-linejoin="round" />
<path d="M298.2,214.2 L307.9,225.5" stroke="#a27c2c" stroke-width="0.55" fill="none" stroke-linecap="round" stroke-linejoin="round" />
<path d="M302.2,214.0 L312.7,225.2" stroke="#a27c2c" stroke-width="0.55" fill="none" stroke-linecap="round" stroke-linejoin="round" />
<path d="M306.1,213.8 L317.5,224.8" stroke="#a27c2c" stroke-width="0.55" fill="none" stroke-linecap="round" stroke-linejoin="round" />
<path d="M310.1,213.5 L322.2,224.4" stroke="#a27c2c" stroke-width="0.55" fill="none" stroke-linecap="round" stroke-linejoin="round" />
<path d="M314.0,213.3 L327.0,224.0" stroke="#a27c2c" stroke-width="0.55" fill="none" stroke-linecap="round" stroke-linejoin="round" />
<path d="M148,231.5 L322,218.8" stroke="#e2c67a" stroke-width="0.90" fill="none" stroke-linecap="round" stroke-linejoin="round" />
<path d="M138.3,239.6 L328.9,223.8" stroke="#a27c2c" stroke-width="1.30" fill="none" stroke-linecap="round" stroke-linejoin="round" />
<polygon points="313.6,145 332.9,143 328.9,223.4 312.3,214" fill="#cfb26a" opacity="0.85"/>
<path d="M316.8,144.7 L315.1,215.6" stroke="#a27c2c" stroke-width="0.60" fill="none" stroke-linecap="round" stroke-linejoin="round" />
<path d="M320.0,144.3 L317.8,217.1" stroke="#a27c2c" stroke-width="0.60" fill="none" stroke-linecap="round" stroke-linejoin="round" />
<path d="M323.2,144.0 L320.6,218.7" stroke="#a27c2c" stroke-width="0.60" fill="none" stroke-linecap="round" stroke-linejoin="round" />
<path d="M326.5,143.7 L323.4,220.3" stroke="#a27c2c" stroke-width="0.60" fill="none" stroke-linecap="round" stroke-linejoin="round" />
<path d="M329.7,143.3 L326.1,221.8" stroke="#a27c2c" stroke-width="0.60" fill="none" stroke-linecap="round" stroke-linejoin="round" />
<path d="M313.4,156.5 L332.2,156.4" stroke="#c59c44" stroke-width="0.80" fill="none" stroke-linecap="round" stroke-linejoin="round" />
<path d="M313.2,168.0 L331.6,169.8" stroke="#c59c44" stroke-width="0.80" fill="none" stroke-linecap="round" stroke-linejoin="round" />
<path d="M313.0,179.5 L330.9,183.2" stroke="#c59c44" stroke-width="0.80" fill="none" stroke-linecap="round" stroke-linejoin="round" />
<path d="M312.7,191.0 L330.2,196.6" stroke="#c59c44" stroke-width="0.80" fill="none" stroke-linecap="round" stroke-linejoin="round" />
<path d="M312.5,202.5 L329.6,210.0" stroke="#c59c44" stroke-width="0.80" fill="none" stroke-linecap="round" stroke-linejoin="round" />
<path d="M332.9,143 L328.9,223.4" stroke="#c59c44" stroke-width="1.50" fill="none" stroke-linecap="round" stroke-linejoin="round" />
<path d="M313,145 L312.3,214" stroke="#c59c44" stroke-width="1.20" fill="none" stroke-linecap="round" stroke-linejoin="round" />
<path d="M141.0,127.8 L158.9,223.0" stroke="#c59c44" stroke-width="1.20" fill="none" stroke-linecap="round" stroke-linejoin="round" />
<path d="M145.9,128.3 L163.3,222.7" stroke="#c59c44" stroke-width="1.20" fill="none" stroke-linecap="round" stroke-linejoin="round" />
<path d="M150.8,128.7 L167.7,222.5" stroke="#c59c44" stroke-width="1.20" fill="none" stroke-linecap="round" stroke-linejoin="round" />
<path d="M155.7,129.2 L172.0,222.2" stroke="#c59c44" stroke-width="1.20" fill="none" stroke-linecap="round" stroke-linejoin="round" />
<path d="M160.6,129.6 L176.4,221.9" stroke="#c59c44" stroke-width="1.20" fill="none" stroke-linecap="round" stroke-linejoin="round" />
<path d="M165.5,130.1 L180.8,221.6" stroke="#c59c44" stroke-width="1.20" fill="none" stroke-linecap="round" stroke-linejoin="round" />
<path d="M170.4,130.6 L185.2,221.4" stroke="#c59c44" stroke-width="1.20" fill="none" stroke-linecap="round" stroke-linejoin="round" />
<path d="M175.3,131.0 L189.6,221.1" stroke="#c59c44" stroke-width="1.20" fill="none" stroke-linecap="round" stroke-linejoin="round" />
<path d="M180.2,131.5 L194.0,220.8" stroke="#c59c44" stroke-width="1.20" fill="none" stroke-linecap="round" stroke-linejoin="round" />
<path d="M185.0,131.9 L198.3,220.6" stroke="#c59c44" stroke-width="1.20" fill="none" stroke-linecap="round" stroke-linejoin="round" />
<path d="M189.9,132.4 L202.7,220.3" stroke="#c59c44" stroke-width="1.20" fill="none" stroke-linecap="round" stroke-linejoin="round" />
<path d="M194.8,132.9 L207.1,220.0" stroke="#c59c44" stroke-width="1.20" fill="none" stroke-linecap="round" stroke-linejoin="round" />
<path d="M199.7,133.3 L211.5,219.7" stroke="#c59c44" stroke-width="1.20" fill="none" stroke-linecap="round" stroke-linejoin="round" />
<path d="M204.6,133.8 L215.9,219.5" stroke="#c59c44" stroke-width="1.20" fill="none" stroke-linecap="round" stroke-linejoin="round" />
<path d="M209.5,134.2 L220.3,219.2" stroke="#c59c44" stroke-width="1.20" fill="none" stroke-linecap="round" stroke-linejoin="round" />
<path d="M214.4,134.7 L224.6,218.9" stroke="#c59c44" stroke-width="1.20" fill="none" stroke-linecap="round" stroke-linejoin="round" />
<path d="M219.3,135.2 L229.0,218.7" stroke="#c59c44" stroke-width="1.20" fill="none" stroke-linecap="round" stroke-linejoin="round" />
<path d="M224.2,135.6 L233.4,218.4" stroke="#c59c44" stroke-width="1.20" fill="none" stroke-linecap="round" stroke-linejoin="round" />
<path d="M229.1,136.1 L237.8,218.1" stroke="#c59c44" stroke-width="1.20" fill="none" stroke-linecap="round" stroke-linejoin="round" />
<path d="M234.0,136.5 L242.2,217.8" stroke="#c59c44" stroke-width="1.20" fill="none" stroke-linecap="round" stroke-linejoin="round" />
<path d="M238.9,137.0 L246.6,217.6" stroke="#c59c44" stroke-width="1.20" fill="none" stroke-linecap="round" stroke-linejoin="round" />
<path d="M243.8,137.5 L250.9,217.3" stroke="#c59c44" stroke-width="1.20" fill="none" stroke-linecap="round" stroke-linejoin="round" />
<path d="M248.7,137.9 L255.3,217.0" stroke="#c59c44" stroke-width="1.20" fill="none" stroke-linecap="round" stroke-linejoin="round" />
<path d="M253.6,138.4 L259.7,216.8" stroke="#c59c44" stroke-width="1.20" fill="none" stroke-linecap="round" stroke-linejoin="round" />
<path d="M258.5,138.8 L264.1,216.5" stroke="#c59c44" stroke-width="1.20" fill="none" stroke-linecap="round" stroke-linejoin="round" />
<path d="M263.4,139.3 L268.5,216.2" stroke="#c59c44" stroke-width="1.20" fill="none" stroke-linecap="round" stroke-linejoin="round" />
<path d="M268.3,139.8 L272.9,215.9" stroke="#c59c44" stroke-width="1.20" fill="none" stroke-linecap="round" stroke-linejoin="round" />
<path d="M273.1,140.2 L277.2,215.7" stroke="#c59c44" stroke-width="1.20" fill="none" stroke-linecap="round" stroke-linejoin="round" />
<path d="M278.0,140.7 L281.6,215.4" stroke="#c59c44" stroke-width="1.20" fill="none" stroke-linecap="round" stroke-linejoin="round" />
<path d="M282.9,141.1 L286.0,215.1" stroke="#c59c44" stroke-width="1.20" fill="none" stroke-linecap="round" stroke-linejoin="round" />
<path d="M287.8,141.6 L290.4,214.9" stroke="#c59c44" stroke-width="1.20" fill="none" stroke-linecap="round" stroke-linejoin="round" />
<path d="M292.7,142.1 L294.8,214.6" stroke="#c59c44" stroke-width="1.20" fill="none" stroke-linecap="round" stroke-linejoin="round" />
<path d="M297.6,142.5 L299.2,214.3" stroke="#c59c44" stroke-width="1.20" fill="none" stroke-linecap="round" stroke-linejoin="round" />
<path d="M302.5,143.0 L303.5,214.0" stroke="#c59c44" stroke-width="1.20" fill="none" stroke-linecap="round" stroke-linejoin="round" />
<path d="M307.4,143.4 L307.9,213.8" stroke="#c59c44" stroke-width="1.20" fill="none" stroke-linecap="round" stroke-linejoin="round" />
<path d="M312.3,143.9 L312.3,213.5" stroke="#c59c44" stroke-width="1.20" fill="none" stroke-linecap="round" stroke-linejoin="round" />
<path d="M143.7,142.1 L330.3,154.7" stroke="#c59c44" stroke-width="0.90" fill="none" stroke-linecap="round" stroke-linejoin="round" />
<path d="M112.3,153.9 L146.4,156.4 L330.3,165.2" stroke="#c59c44" stroke-width="1.60" fill="none" stroke-linecap="round" stroke-linejoin="round" />
<path d="M146.4,155.7 L312.3,164.3" stroke="#e2c67a" stroke-width="0.50" fill="none" stroke-linecap="round" stroke-linejoin="round" />
<path d="M149.8,174.4 L330.3,178.4" stroke="#c59c44" stroke-width="0.90" fill="none" stroke-linecap="round" stroke-linejoin="round" />
<path d="M122.6,190.0 L153.2,192.5 L330.3,191.6" stroke="#c59c44" stroke-width="1.60" fill="none" stroke-linecap="round" stroke-linejoin="round" />
<path d="M153.2,191.8 L312.3,190.7" stroke="#e2c67a" stroke-width="0.50" fill="none" stroke-linecap="round" stroke-linejoin="round" />
<path d="M156.2,208.7 L330.3,203.5" stroke="#c59c44" stroke-width="1.00" fill="none" stroke-linecap="round" stroke-linejoin="round" />
<path d="M151.2,148.0 L312.3,158.1" stroke="#e0c98f" stroke-width="0.80" fill="none" stroke-linecap="round" stroke-linejoin="round" />
<path d="M154.5,165.5 L312.3,170.9" stroke="#e0c98f" stroke-width="0.80" fill="none" stroke-linecap="round" stroke-linejoin="round" />
<path d="M157.7,182.9 L312.3,183.7" stroke="#e0c98f" stroke-width="0.80" fill="none" stroke-linecap="round" stroke-linejoin="round" />
<path d="M160.7,198.8 L312.3,195.3" stroke="#e0c98f" stroke-width="0.80" fill="none" stroke-linecap="round" stroke-linejoin="round" />
<path d="M112.5,118.5 L334.2,142.4" stroke="#c59c44" stroke-width="1.90" fill="none" stroke-linecap="round" stroke-linejoin="round" />
<path d="M141,125.8 L332.2,145" stroke="#c59c44" stroke-width="1.50" fill="none" stroke-linecap="round" stroke-linejoin="round" />
<path d="M113,119.8 L333,143.6" stroke="#e2c67a" stroke-width="0.60" fill="none" stroke-linecap="round" stroke-linejoin="round" />
<path d="M97.8,105.9 L136.4,241.3" stroke="#c59c44" stroke-width="1.30" fill="none" stroke-linecap="round" stroke-linejoin="round" />
<path d="M100.8,105.2 L139.6,240.6" stroke="#a27c2c" stroke-width="0.90" fill="none" stroke-linecap="round" stroke-linejoin="round" />
<path d="M99,112 L113,116 M103,128 L117,130 M119,181 L134,181" stroke="#c59c44" stroke-width="1.00" fill="none" stroke-linecap="round" stroke-linejoin="round" />
<polygon points="92,93.5 106,91.5 113,96.5 112,103 99,106" fill="#c4a050"/>
<path d="M93,94 L106,92 L113,97" stroke="#e2c67a" stroke-width="0.80" fill="none" stroke-linecap="round" stroke-linejoin="round" />
<line x1="75.8" y1="93.2" x2="94.5" y2="101" stroke="#2f9a3e" stroke-width="10.4" stroke-linecap="round"/>
<line x1="75.5" y1="91.2" x2="93" y2="98.4" stroke="#45b553" stroke-width="3" stroke-linecap="round"/>
<ellipse cx="74" cy="92.6" rx="2.6" ry="4.6" transform="rotate(-67 74 92.6)" fill="#1f7a2e"/>
<polygon points="172.5,94.6 183.6,107.3 157.2,182 146.5,186" fill="#bd9b54" opacity="0.95"/>
<path d="M172.5,94.6 L146.5,186 M183.6,107.3 L157.2,182 M176,99 L150,184.5 M180,103.5 L153.6,183.4" stroke="#a27c2c" stroke-width="0.70" fill="none" stroke-linecap="round" stroke-linejoin="round" />
<path d="M172.5,94.6 L183.6,107.3 M172.5,94.6 L146.5,186" stroke="#c59c44" stroke-width="1.30" fill="none" stroke-linecap="round" stroke-linejoin="round" />
<path d="M150,180 L140,205 M157,182 L146,208" stroke="#a27c2c" stroke-width="1.00" fill="none" stroke-linecap="round" stroke-linejoin="round" />
<line x1="118.4" y1="143.8" x2="166.9" y2="153" stroke="#2f9a3e" stroke-width="4.6" stroke-linecap="round"/>
<path d="M196,239.8 L277.8,277.4 L296.9,276 L310.5,295.2 L308.2,299.8 L285.5,301.8" stroke="#94722a" stroke-width="4.50" fill="none" stroke-linecap="round" stroke-linejoin="round" />
<path d="M196,239.2 L277.6,276.6 L296.7,275.2 L309.8,294.6" stroke="#c59c44" stroke-width="2.40" fill="none" stroke-linecap="round" stroke-linejoin="round" />
<path d="M196,238.4 L277.5,275.8 L296,274.6" stroke="#e2c67a" stroke-width="0.80" fill="none" stroke-linecap="round" stroke-linejoin="round" />
<path d="M172,247.4 L205,265 L214,266.6 L228,275 L285.4,302.2 L309,298.8" stroke="#94722a" stroke-width="4.50" fill="none" stroke-linecap="round" stroke-linejoin="round" />
<path d="M172,246.8 L205,264.3 L214,265.9 L228,274.3 L285.2,301.4 L308,298.2" stroke="#c59c44" stroke-width="2.40" fill="none" stroke-linecap="round" stroke-linejoin="round" />
<path d="M173,246 L205,263.4 L214,265 L228,273.4 L285,300.4" stroke="#e2c67a" stroke-width="0.80" fill="none" stroke-linecap="round" stroke-linejoin="round" />
<path d="M184.6,246 L286,292.4" stroke="#7a5d1f" stroke-width="2.40" fill="none" stroke-linecap="round" stroke-linejoin="round" />
<path d="M184.6,245.4 L286,291.8" stroke="#c59c44" stroke-width="1.10" fill="none" stroke-linecap="round" stroke-linejoin="round" />
<polygon points="284.8,283 297.4,280.6 301.8,299.6 288,301.9" fill="#b08e42"/>
<polygon points="284.8,283 289,282.2 292.6,301.2 288,301.9" fill="#d0b061"/>
<path d="M182,246.6 L207,247.2 M216,264.2 L241,265.3 M267,286.8 L285,288" stroke="#cfcfcf" stroke-width="1.00" fill="none" stroke-linecap="round" stroke-linejoin="round" />
<polygon points="138,245 152,249 130,288 114,306 91,304.6 89.5,294 96,285.5" fill="#7d6428" opacity="0.72"/>
<path d="M138.4,246.2 L96.4,287 L91.2,294.2" stroke="#7a5d1f" stroke-width="4.40" fill="none" stroke-linecap="round" stroke-linejoin="round" />
<path d="M138,245.6 L96,286.4" stroke="#c59c44" stroke-width="2.00" fill="none" stroke-linecap="round" stroke-linejoin="round" />
<path d="M146.4,248.6 L113.4,281.2 L104.6,296" stroke="#7a5d1f" stroke-width="4.00" fill="none" stroke-linecap="round" stroke-linejoin="round" />
<path d="M146,248 L113,280.6" stroke="#c59c44" stroke-width="1.50" fill="none" stroke-linecap="round" stroke-linejoin="round" />
<path d="M151,249.6 L124,277 L120,287" stroke="#6b5220" stroke-width="3.20" fill="none" stroke-linecap="round" stroke-linejoin="round" />
<path d="M140.6,243.2 L172,247.2 L177,250.6" stroke="#94722a" stroke-width="3.60" fill="none" stroke-linecap="round" stroke-linejoin="round" />
<path d="M140.6,242.6 L172,246.6" stroke="#d4b25e" stroke-width="1.90" fill="none" stroke-linecap="round" stroke-linejoin="round" />
<path d="M139.5,246.8 L97.5,287.4" stroke="#e2c67a" stroke-width="0.70" fill="none" stroke-linecap="round" stroke-linejoin="round" />
<path d="M96.5,293.8 L91,294.4 Q88.6,299 90.4,303.8 L97,304.5" stroke="#c59c44" stroke-width="1.70" fill="none" stroke-linecap="round" stroke-linejoin="round" />
<polygon points="96,293.5 111.5,293 113,297 112,305 97,304.6" fill="#b08a3a"/>
<path d="M96,294 L111.5,293.4" stroke="#e2c67a" stroke-width="0.90" fill="none" stroke-linecap="round" stroke-linejoin="round" />
<rect x="95.2" y="309.4" width="15.2" height="6.9" rx="2" fill="#2f9a3e"/>
<rect x="96" y="305" width="13" height="4.6" fill="#8d7030"/>
<path d="M61.7,266.6 L94.3,244.3 L147.8,254.7 M61.7,266.6 L106.2,293.3" stroke="#a8842f" stroke-width="3.00" fill="none" stroke-linecap="round" stroke-linejoin="round" />
<path d="M61.7,266 L94.3,243.7 L147.8,254.1 M61.7,266 L106.2,292.7" stroke="#d4b25e" stroke-width="1.50" fill="none" stroke-linecap="round" stroke-linejoin="round" />
<path d="M94.3,244.1 L100,250 L78,266.5 M100,250 L132,256.5 M70,270.6 L92,254 L120,259.5 M80,277 L104,260 M92,284.4 L118,264.5 L142,258" stroke="#c59c44" stroke-width="1.50" fill="none" stroke-linecap="round" stroke-linejoin="round" />
<path d="M85,262 L111,267 M79,257 L106,262.4 M96,270 L118,275" stroke="#a8842f" stroke-width="1.30" fill="none" stroke-linecap="round" stroke-linejoin="round" />
<path d="M62.5,265.4 L94.6,243" stroke="#e2c67a" stroke-width="0.70" fill="none" stroke-linecap="round" stroke-linejoin="round" />
<circle cx="94.6" cy="324.8" r="14.3" fill="#2b2619"/>
<circle cx="94.6" cy="324.8" r="9.4" fill="#5d553d"/>
<circle cx="95.2" cy="325.2" r="5.4" fill="#3a3424"/>
<circle cx="94.6" cy="324.8" r="2.3" fill="#8a7f5c"/>
<path d="M303,298 L304.5,318" stroke="#8e8468" stroke-width="2.40" fill="none" stroke-linecap="round" stroke-linejoin="round" />
<circle cx="307.3" cy="319.8" r="13.2" fill="#2b2619"/>
<circle cx="307.3" cy="319.8" r="8.7" fill="#5d553d"/>
<circle cx="307.9" cy="320.2" r="5.0" fill="#3a3424"/>
<circle cx="307.3" cy="319.8" r="2.1" fill="#8a7f5c"/>
</g>
<g transform="translate(1013.0,0)">
<circle cx="123.4" cy="293.6" r="9.2" fill="#2b2619"/>
<circle cx="123.4" cy="293.6" r="6.1" fill="#5d553d"/>
<circle cx="124.0" cy="294.0" r="3.5" fill="#3a3424"/>
<circle cx="123.4" cy="293.6" r="1.5" fill="#8a7f5c"/>
<rect x="125.5" y="275" width="7.5" height="12" fill="#1f7a2e"/>
<path d="M108.0,112.0 L136.0,238.0" stroke="#c59c44" stroke-width="0.80" fill="none" stroke-linecap="round" stroke-linejoin="round" />
<path d="M112.0,113.5 L138.8,236.1" stroke="#c59c44" stroke-width="0.80" fill="none" stroke-linecap="round" stroke-linejoin="round" />
<path d="M116.0,115.0 L141.6,234.2" stroke="#c59c44" stroke-width="0.80" fill="none" stroke-linecap="round" stroke-linejoin="round" />
<path d="M120.0,116.5 L144.4,232.3" stroke="#c59c44" stroke-width="0.80" fill="none" stroke-linecap="round" stroke-linejoin="round" />
<path d="M124.0,118.0 L147.2,230.3" stroke="#c59c44" stroke-width="0.80" fill="none" stroke-linecap="round" stroke-linejoin="round" />
<path d="M128.0,119.5 L150.1,228.4" stroke="#c59c44" stroke-width="0.80" fill="none" stroke-linecap="round" stroke-linejoin="round" />
<path d="M132.0,121.0 L152.9,226.5" stroke="#c59c44" stroke-width="0.80" fill="none" stroke-linecap="round" stroke-linejoin="round" />
<path d="M136.0,122.5 L155.7,224.6" stroke="#c59c44" stroke-width="0.80" fill="none" stroke-linecap="round" stroke-linejoin="round" />
<path d="M140.0,124.0 L158.5,222.7" stroke="#c59c44" stroke-width="0.80" fill="none" stroke-linecap="round" stroke-linejoin="round" />
<path d="M112.7,133.0 L143.1,140.4" stroke="#c59c44" stroke-width="0.90" fill="none" stroke-linecap="round" stroke-linejoin="round" />
<path d="M117.3,154.0 L146.2,156.9" stroke="#c59c44" stroke-width="0.90" fill="none" stroke-linecap="round" stroke-linejoin="round" />
<path d="M122.0,175.0 L149.2,173.3" stroke="#c59c44" stroke-width="0.90" fill="none" stroke-linecap="round" stroke-linejoin="round" />
<path d="M126.7,196.0 L152.3,189.8" stroke="#c59c44" stroke-width="0.90" fill="none" stroke-linecap="round" stroke-linejoin="round" />
<path d="M131.3,217.0 L155.4,206.2" stroke="#c59c44" stroke-width="0.90" fill="none" stroke-linecap="round" stroke-linejoin="round" />
<polygon points="141.0,127.8 312.3,143.9 312.3,213.5 158.9,223.0" fill="#f6f3ea" opacity="0.92"/>
<path d="M151.0,132.0 L170.7,213.9" stroke="#e2cc96" stroke-width="0.80" fill="none" stroke-linecap="round" stroke-linejoin="round" />
<path d="M155.6,132.4 L174.7,213.7" stroke="#e2cc96" stroke-width="0.80" fill="none" stroke-linecap="round" stroke-linejoin="round" />
<path d="M160.1,132.8 L178.7,213.5" stroke="#e2cc96" stroke-width="0.80" fill="none" stroke-linecap="round" stroke-linejoin="round" />
<path d="M164.6,133.2 L182.6,213.4" stroke="#e2cc96" stroke-width="0.80" fill="none" stroke-linecap="round" stroke-linejoin="round" />
<path d="M169.1,133.6 L186.6,213.2" stroke="#e2cc96" stroke-width="0.80" fill="none" stroke-linecap="round" stroke-linejoin="round" />
<path d="M173.6,134.0 L190.6,213.0" stroke="#e2cc96" stroke-width="0.80" fill="none" stroke-linecap="round" stroke-linejoin="round" />
<path d="M178.2,134.4 L194.6,212.8" stroke="#e2cc96" stroke-width="0.80" fill="none" stroke-linecap="round" stroke-linejoin="round" />
<path d="M182.7,134.8 L198.6,212.6" stroke="#e2cc96" stroke-width="0.80" fill="none" stroke-linecap="round" stroke-linejoin="round" />
<path d="M187.2,135.2 L202.6,212.4" stroke="#e2cc96" stroke-width="0.80" fill="none" stroke-linecap="round" stroke-linejoin="round" />
<path d="M191.7,135.6 L206.5,212.2" stroke="#e2cc96" stroke-width="0.80" fill="none" stroke-linecap="round" stroke-linejoin="round" />
<path d="M196.3,136.0 L210.5,212.1" stroke="#e2cc96" stroke-width="0.80" fill="none" stroke-linecap="round" stroke-linejoin="round" />
<path d="M200.8,136.4 L214.5,211.9" stroke="#e2cc96" stroke-width="0.80" fill="none" stroke-linecap="round" stroke-linejoin="round" />
<path d="M205.3,136.8 L218.5,211.7" stroke="#e2cc96" stroke-width="0.80" fill="none" stroke-linecap="round" stroke-linejoin="round" />
<path d="M209.8,137.2 L222.5,211.5" stroke="#e2cc96" stroke-width="0.80" fill="none" stroke-linecap="round" stroke-linejoin="round" />
<path d="M214.4,137.6 L226.5,211.3" stroke="#e2cc96" stroke-width="0.80" fill="none" stroke-linecap="round" stroke-linejoin="round" />
<path d="M218.9,138.0 L230.4,211.1" stroke="#e2cc96" stroke-width="0.80" fill="none" stroke-linecap="round" stroke-linejoin="round" />
<path d="M223.4,138.4 L234.4,210.9" stroke="#e2cc96" stroke-width="0.80" fill="none" stroke-linecap="round" stroke-linejoin="round" />
<path d="M227.9,138.8 L238.4,210.8" stroke="#e2cc96" stroke-width="0.80" fill="none" stroke-linecap="round" stroke-linejoin="round" />
<path d="M232.4,139.2 L242.4,210.6" stroke="#e2cc96" stroke-width="0.80" fill="none" stroke-linecap="round" stroke-linejoin="round" />
<path d="M237.0,139.6 L246.4,210.4" stroke="#e2cc96" stroke-width="0.80" fill="none" stroke-linecap="round" stroke-linejoin="round" />
<path d="M241.5,140.0 L250.3,210.2" stroke="#e2cc96" stroke-width="0.80" fill="none" stroke-linecap="round" stroke-linejoin="round" />
<path d="M246.0,140.4 L254.3,210.0" stroke="#e2cc96" stroke-width="0.80" fill="none" stroke-linecap="round" stroke-linejoin="round" />
<path d="M250.5,140.8 L258.3,209.8" stroke="#e2cc96" stroke-width="0.80" fill="none" stroke-linecap="round" stroke-linejoin="round" />
<path d="M255.1,141.2 L262.3,209.6" stroke="#e2cc96" stroke-width="0.80" fill="none" stroke-linecap="round" stroke-linejoin="round" />
<path d="M259.6,141.6 L266.3,209.5" stroke="#e2cc96" stroke-width="0.80" fill="none" stroke-linecap="round" stroke-linejoin="round" />
<path d="M264.1,142.1 L270.3,209.3" stroke="#e2cc96" stroke-width="0.80" fill="none" stroke-linecap="round" stroke-linejoin="round" />
<path d="M268.6,142.5 L274.2,209.1" stroke="#e2cc96" stroke-width="0.80" fill="none" stroke-linecap="round" stroke-linejoin="round" />
<path d="M273.2,142.9 L278.2,208.9" stroke="#e2cc96" stroke-width="0.80" fill="none" stroke-linecap="round" stroke-linejoin="round" />
<path d="M277.7,143.3 L282.2,208.7" stroke="#e2cc96" stroke-width="0.80" fill="none" stroke-linecap="round" stroke-linejoin="round" />
<path d="M282.2,143.7 L286.2,208.5" stroke="#e2cc96" stroke-width="0.80" fill="none" stroke-linecap="round" stroke-linejoin="round" />
<path d="M286.7,144.1 L290.2,208.3" stroke="#e2cc96" stroke-width="0.80" fill="none" stroke-linecap="round" stroke-linejoin="round" />
<path d="M291.2,144.5 L294.2,208.2" stroke="#e2cc96" stroke-width="0.80" fill="none" stroke-linecap="round" stroke-linejoin="round" />
<path d="M295.8,144.9 L298.1,208.0" stroke="#e2cc96" stroke-width="0.80" fill="none" stroke-linecap="round" stroke-linejoin="round" />
<path d="M300.3,145.3 L302.1,207.8" stroke="#e2cc96" stroke-width="0.80" fill="none" stroke-linecap="round" stroke-linejoin="round" />
<path d="M304.8,145.7 L306.1,207.6" stroke="#e2cc96" stroke-width="0.80" fill="none" stroke-linecap="round" stroke-linejoin="round" />
<polygon points="158.9,222.7 312.3,213 328.9,223.6 138.3,239.6" fill="#d2b262"/>
<polygon points="150,231 320,218.5 328.9,223.6 138.3,239.6" fill="#c39b45" opacity="0.8"/>
<path d="M160.0,222.5 L141.0,239.0" stroke="#a27c2c" stroke-width="0.55" fill="none" stroke-linecap="round" stroke-linejoin="round" />
<path d="M163.9,222.3 L145.8,238.6" stroke="#a27c2c" stroke-width="0.55" fill="none" stroke-linecap="round" stroke-linejoin="round" />
<path d="M167.9,222.0 L150.5,238.2" stroke="#a27c2c" stroke-width="0.55" fill="none" stroke-linecap="round" stroke-linejoin="round" />
<path d="M171.8,221.8 L155.3,237.8" stroke="#a27c2c" stroke-width="0.55" fill="none" stroke-linecap="round" stroke-linejoin="round" />
<path d="M175.8,221.6 L160.1,237.5" stroke="#a27c2c" stroke-width="0.55" fill="none" stroke-linecap="round" stroke-linejoin="round" />
<path d="M179.7,221.3 L164.8,237.1" stroke="#a27c2c" stroke-width="0.55" fill="none" stroke-linecap="round" stroke-linejoin="round" />
<path d="M183.7,221.1 L169.6,236.7" stroke="#a27c2c" stroke-width="0.55" fill="none" stroke-linecap="round" stroke-linejoin="round" />
<path d="M187.6,220.8 L174.4,236.3" stroke="#a27c2c" stroke-width="0.55" fill="none" stroke-linecap="round" stroke-linejoin="round" />
<path d="M191.6,220.6 L179.2,235.9" stroke="#a27c2c" stroke-width="0.55" fill="none" stroke-linecap="round" stroke-linejoin="round" />
<path d="M195.5,220.4 L183.9,235.5" stroke="#a27c2c" stroke-width="0.55" fill="none" stroke-linecap="round" stroke-linejoin="round" />
<path d="M199.5,220.1 L188.7,235.2" stroke="#a27c2c" stroke-width="0.55" fill="none" stroke-linecap="round" stroke-linejoin="round" />
<path d="M203.4,219.9 L193.5,234.8" stroke="#a27c2c" stroke-width="0.55" fill="none" stroke-linecap="round" stroke-linejoin="round" />
<path d="M207.4,219.7 L198.2,234.4" stroke="#a27c2c" stroke-width="0.55" fill="none" stroke-linecap="round" stroke-linejoin="round" />
<path d="M211.3,219.4 L203.0,234.0" stroke="#a27c2c" stroke-width="0.55" fill="none" stroke-linecap="round" stroke-linejoin="round" />
<path d="M215.3,219.2 L207.8,233.6" stroke="#a27c2c" stroke-width="0.55" fill="none" stroke-linecap="round" stroke-linejoin="round" />
<path d="M219.2,219.0 L212.5,233.2" stroke="#a27c2c" stroke-width="0.55" fill="none" stroke-linecap="round" stroke-linejoin="round" />
<path d="M223.2,218.7 L217.3,232.8" stroke="#a27c2c" stroke-width="0.55" fill="none" stroke-linecap="round" stroke-linejoin="round" />
<path d="M227.1,218.5 L222.1,232.5" stroke="#a27c2c" stroke-width="0.55" fill="none" stroke-linecap="round" stroke-linejoin="round" />
<path d="M231.1,218.3 L226.8,232.1" stroke="#a27c2c" stroke-width="0.55" fill="none" stroke-linecap="round" stroke-linejoin="round" />
<path d="M235.0,218.0 L231.6,231.7" stroke="#a27c2c" stroke-width="0.55" fill="none" stroke-linecap="round" stroke-linejoin="round" />
<path d="M239.0,217.8 L236.4,231.3" stroke="#a27c2c" stroke-width="0.55" fill="none" stroke-linecap="round" stroke-linejoin="round" />
<path d="M242.9,217.5 L241.2,230.9" stroke="#a27c2c" stroke-width="0.55" fill="none" stroke-linecap="round" stroke-linejoin="round" />
<path d="M246.9,217.3 L245.9,230.5" stroke="#a27c2c" stroke-width="0.55" fill="none" stroke-linecap="round" stroke-linejoin="round" />
<path d="M250.8,217.1 L250.7,230.2" stroke="#a27c2c" stroke-width="0.55" fill="none" stroke-linecap="round" stroke-linejoin="round" />
<path d="M254.8,216.8 L255.5,229.8" stroke="#a27c2c" stroke-width="0.55" fill="none" stroke-linecap="round" stroke-linejoin="round" />
<path d="M258.7,216.6 L260.2,229.4" stroke="#a27c2c" stroke-width="0.55" fill="none" stroke-linecap="round" stroke-linejoin="round" />
<path d="M262.7,216.4 L265.0,229.0" stroke="#a27c2c" stroke-width="0.55" fill="none" stroke-linecap="round" stroke-linejoin="round" />
<path d="M266.6,216.1 L269.8,228.6" stroke="#a27c2c" stroke-width="0.55" fill="none" stroke-linecap="round" stroke-linejoin="round" />
<path d="M270.6,215.9 L274.5,228.2" stroke="#a27c2c" stroke-width="0.55" fill="none" stroke-linecap="round" stroke-linejoin="round" />
<path d="M274.5,215.7 L279.3,227.8" stroke="#a27c2c" stroke-width="0.55" fill="none" stroke-linecap="round" stroke-linejoin="round" />
<path d="M278.5,215.4 L284.1,227.5" stroke="#a27c2c" stroke-width="0.55" fill="none" stroke-linecap="round" stroke-linejoin="round" />
<path d="M282.4,215.2 L288.8,227.1" stroke="#a27c2c" stroke-width="0.55" fill="none" stroke-linecap="round" stroke-linejoin="round" />
<path d="M286.4,215.0 L293.6,226.7" stroke="#a27c2c" stroke-width="0.55" fill="none" stroke-linecap="round" stroke-linejoin="round" />
<path d="M290.3,214.7 L298.4,226.3" stroke="#a27c2c" stroke-width="0.55" fill="none" stroke-linecap="round" stroke-linejoin="round" />
<path d="M294.3,214.5 L303.2,225.9" stroke="#a27c2c" stroke-width="0.55" fill="none" stroke-linecap="round" stroke-linejoin="round" />
<path d="M298.2,214.2 L307.9,225.5" stroke="#a27c2c" stroke-width="0.55" fill="none" stroke-linecap="round" stroke-linejoin="round" />
<path d="M302.2,214.0 L312.7,225.2" stroke="#a27c2c" stroke-width="0.55" fill="none" stroke-linecap="round" stroke-linejoin="round" />
<path d="M306.1,213.8 L317.5,224.8" stroke="#a27c2c" stroke-width="0.55" fill="none" stroke-linecap="round" stroke-linejoin="round" />
<path d="M310.1,213.5 L322.2,224.4" stroke="#a27c2c" stroke-width="0.55" fill="none" stroke-linecap="round" stroke-linejoin="round" />
<path d="M314.0,213.3 L327.0,224.0" stroke="#a27c2c" stroke-width="0.55" fill="none" stroke-linecap="round" stroke-linejoin="round" />
<path d="M148,231.5 L322,218.8" stroke="#e2c67a" stroke-width="0.90" fill="none" stroke-linecap="round" stroke-linejoin="round" />
<path d="M138.3,239.6 L328.9,223.8" stroke="#a27c2c" stroke-width="1.30" fill="none" stroke-linecap="round" stroke-linejoin="round" />
<polygon points="313.6,145 332.9,143 328.9,223.4 312.3,214" fill="#cfb26a" opacity="0.85"/>
<path d="M316.8,144.7 L315.1,215.6" stroke="#a27c2c" stroke-width="0.60" fill="none" stroke-linecap="round" stroke-linejoin="round" />
<path d="M320.0,144.3 L317.8,217.1" stroke="#a27c2c" stroke-width="0.60" fill="none" stroke-linecap="round" stroke-linejoin="round" />
<path d="M323.2,144.0 L320.6,218.7" stroke="#a27c2c" stroke-width="0.60" fill="none" stroke-linecap="round" stroke-linejoin="round" />
<path d="M326.5,143.7 L323.4,220.3" stroke="#a27c2c" stroke-width="0.60" fill="none" stroke-linecap="round" stroke-linejoin="round" />
<path d="M329.7,143.3 L326.1,221.8" stroke="#a27c2c" stroke-width="0.60" fill="none" stroke-linecap="round" stroke-linejoin="round" />
<path d="M313.4,156.5 L332.2,156.4" stroke="#c59c44" stroke-width="0.80" fill="none" stroke-linecap="round" stroke-linejoin="round" />
<path d="M313.2,168.0 L331.6,169.8" stroke="#c59c44" stroke-width="0.80" fill="none" stroke-linecap="round" stroke-linejoin="round" />
<path d="M313.0,179.5 L330.9,183.2" stroke="#c59c44" stroke-width="0.80" fill="none" stroke-linecap="round" stroke-linejoin="round" />
<path d="M312.7,191.0 L330.2,196.6" stroke="#c59c44" stroke-width="0.80" fill="none" stroke-linecap="round" stroke-linejoin="round" />
<path d="M312.5,202.5 L329.6,210.0" stroke="#c59c44" stroke-width="0.80" fill="none" stroke-linecap="round" stroke-linejoin="round" />
<path d="M332.9,143 L328.9,223.4" stroke="#c59c44" stroke-width="1.50" fill="none" stroke-linecap="round" stroke-linejoin="round" />
<path d="M313,145 L312.3,214" stroke="#c59c44" stroke-width="1.20" fill="none" stroke-linecap="round" stroke-linejoin="round" />
<path d="M141.0,127.8 L158.9,223.0" stroke="#c59c44" stroke-width="1.20" fill="none" stroke-linecap="round" stroke-linejoin="round" />
<path d="M145.9,128.3 L163.3,222.7" stroke="#c59c44" stroke-width="1.20" fill="none" stroke-linecap="round" stroke-linejoin="round" />
<path d="M150.8,128.7 L167.7,222.5" stroke="#c59c44" stroke-width="1.20" fill="none" stroke-linecap="round" stroke-linejoin="round" />
<path d="M155.7,129.2 L172.0,222.2" stroke="#c59c44" stroke-width="1.20" fill="none" stroke-linecap="round" stroke-linejoin="round" />
<path d="M160.6,129.6 L176.4,221.9" stroke="#c59c44" stroke-width="1.20" fill="none" stroke-linecap="round" stroke-linejoin="round" />
<path d="M165.5,130.1 L180.8,221.6" stroke="#c59c44" stroke-width="1.20" fill="none" stroke-linecap="round" stroke-linejoin="round" />
<path d="M170.4,130.6 L185.2,221.4" stroke="#c59c44" stroke-width="1.20" fill="none" stroke-linecap="round" stroke-linejoin="round" />
<path d="M175.3,131.0 L189.6,221.1" stroke="#c59c44" stroke-width="1.20" fill="none" stroke-linecap="round" stroke-linejoin="round" />
<path d="M180.2,131.5 L194.0,220.8" stroke="#c59c44" stroke-width="1.20" fill="none" stroke-linecap="round" stroke-linejoin="round" />
<path d="M185.0,131.9 L198.3,220.6" stroke="#c59c44" stroke-width="1.20" fill="none" stroke-linecap="round" stroke-linejoin="round" />
<path d="M189.9,132.4 L202.7,220.3" stroke="#c59c44" stroke-width="1.20" fill="none" stroke-linecap="round" stroke-linejoin="round" />
<path d="M194.8,132.9 L207.1,220.0" stroke="#c59c44" stroke-width="1.20" fill="none" stroke-linecap="round" stroke-linejoin="round" />
<path d="M199.7,133.3 L211.5,219.7" stroke="#c59c44" stroke-width="1.20" fill="none" stroke-linecap="round" stroke-linejoin="round" />
<path d="M204.6,133.8 L215.9,219.5" stroke="#c59c44" stroke-width="1.20" fill="none" stroke-linecap="round" stroke-linejoin="round" />
<path d="M209.5,134.2 L220.3,219.2" stroke="#c59c44" stroke-width="1.20" fill="none" stroke-linecap="round" stroke-linejoin="round" />
<path d="M214.4,134.7 L224.6,218.9" stroke="#c59c44" stroke-width="1.20" fill="none" stroke-linecap="round" stroke-linejoin="round" />
<path d="M219.3,135.2 L229.0,218.7" stroke="#c59c44" stroke-width="1.20" fill="none" stroke-linecap="round" stroke-linejoin="round" />
<path d="M224.2,135.6 L233.4,218.4" stroke="#c59c44" stroke-width="1.20" fill="none" stroke-linecap="round" stroke-linejoin="round" />
<path d="M229.1,136.1 L237.8,218.1" stroke="#c59c44" stroke-width="1.20" fill="none" stroke-linecap="round" stroke-linejoin="round" />
<path d="M234.0,136.5 L242.2,217.8" stroke="#c59c44" stroke-width="1.20" fill="none" stroke-linecap="round" stroke-linejoin="round" />
<path d="M238.9,137.0 L246.6,217.6" stroke="#c59c44" stroke-width="1.20" fill="none" stroke-linecap="round" stroke-linejoin="round" />
<path d="M243.8,137.5 L250.9,217.3" stroke="#c59c44" stroke-width="1.20" fill="none" stroke-linecap="round" stroke-linejoin="round" />
<path d="M248.7,137.9 L255.3,217.0" stroke="#c59c44" stroke-width="1.20" fill="none" stroke-linecap="round" stroke-linejoin="round" />
<path d="M253.6,138.4 L259.7,216.8" stroke="#c59c44" stroke-width="1.20" fill="none" stroke-linecap="round" stroke-linejoin="round" />
<path d="M258.5,138.8 L264.1,216.5" stroke="#c59c44" stroke-width="1.20" fill="none" stroke-linecap="round" stroke-linejoin="round" />
<path d="M263.4,139.3 L268.5,216.2" stroke="#c59c44" stroke-width="1.20" fill="none" stroke-linecap="round" stroke-linejoin="round" />
<path d="M268.3,139.8 L272.9,215.9" stroke="#c59c44" stroke-width="1.20" fill="none" stroke-linecap="round" stroke-linejoin="round" />
<path d="M273.1,140.2 L277.2,215.7" stroke="#c59c44" stroke-width="1.20" fill="none" stroke-linecap="round" stroke-linejoin="round" />
<path d="M278.0,140.7 L281.6,215.4" stroke="#c59c44" stroke-width="1.20" fill="none" stroke-linecap="round" stroke-linejoin="round" />
<path d="M282.9,141.1 L286.0,215.1" stroke="#c59c44" stroke-width="1.20" fill="none" stroke-linecap="round" stroke-linejoin="round" />
<path d="M287.8,141.6 L290.4,214.9" stroke="#c59c44" stroke-width="1.20" fill="none" stroke-linecap="round" stroke-linejoin="round" />
<path d="M292.7,142.1 L294.8,214.6" stroke="#c59c44" stroke-width="1.20" fill="none" stroke-linecap="round" stroke-linejoin="round" />
<path d="M297.6,142.5 L299.2,214.3" stroke="#c59c44" stroke-width="1.20" fill="none" stroke-linecap="round" stroke-linejoin="round" />
<path d="M302.5,143.0 L303.5,214.0" stroke="#c59c44" stroke-width="1.20" fill="none" stroke-linecap="round" stroke-linejoin="round" />
<path d="M307.4,143.4 L307.9,213.8" stroke="#c59c44" stroke-width="1.20" fill="none" stroke-linecap="round" stroke-linejoin="round" />
<path d="M312.3,143.9 L312.3,213.5" stroke="#c59c44" stroke-width="1.20" fill="none" stroke-linecap="round" stroke-linejoin="round" />
<path d="M143.7,142.1 L330.3,154.7" stroke="#c59c44" stroke-width="0.90" fill="none" stroke-linecap="round" stroke-linejoin="round" />
<path d="M112.3,153.9 L146.4,156.4 L330.3,165.2" stroke="#c59c44" stroke-width="1.60" fill="none" stroke-linecap="round" stroke-linejoin="round" />
<path d="M146.4,155.7 L312.3,164.3" stroke="#e2c67a" stroke-width="0.50" fill="none" stroke-linecap="round" stroke-linejoin="round" />
<path d="M149.8,174.4 L330.3,178.4" stroke="#c59c44" stroke-width="0.90" fill="none" stroke-linecap="round" stroke-linejoin="round" />
<path d="M122.6,190.0 L153.2,192.5 L330.3,191.6" stroke="#c59c44" stroke-width="1.60" fill="none" stroke-linecap="round" stroke-linejoin="round" />
<path d="M153.2,191.8 L312.3,190.7" stroke="#e2c67a" stroke-width="0.50" fill="none" stroke-linecap="round" stroke-linejoin="round" />
<path d="M156.2,208.7 L330.3,203.5" stroke="#c59c44" stroke-width="1.00" fill="none" stroke-linecap="round" stroke-linejoin="round" />
<path d="M151.2,148.0 L312.3,158.1" stroke="#e0c98f" stroke-width="0.80" fill="none" stroke-linecap="round" stroke-linejoin="round" />
<path d="M154.5,165.5 L312.3,170.9" stroke="#e0c98f" stroke-width="0.80" fill="none" stroke-linecap="round" stroke-linejoin="round" />
<path d="M157.7,182.9 L312.3,183.7" stroke="#e0c98f" stroke-width="0.80" fill="none" stroke-linecap="round" stroke-linejoin="round" />
<path d="M160.7,198.8 L312.3,195.3" stroke="#e0c98f" stroke-width="0.80" fill="none" stroke-linecap="round" stroke-linejoin="round" />
<path d="M112.5,118.5 L334.2,142.4" stroke="#c59c44" stroke-width="1.90" fill="none" stroke-linecap="round" stroke-linejoin="round" />
<path d="M141,125.8 L332.2,145" stroke="#c59c44" stroke-width="1.50" fill="none" stroke-linecap="round" stroke-linejoin="round" />
<path d="M113,119.8 L333,143.6" stroke="#e2c67a" stroke-width="0.60" fill="none" stroke-linecap="round" stroke-linejoin="round" />
<path d="M97.8,105.9 L136.4,241.3" stroke="#c59c44" stroke-width="1.30" fill="none" stroke-linecap="round" stroke-linejoin="round" />
<path d="M100.8,105.2 L139.6,240.6" stroke="#a27c2c" stroke-width="0.90" fill="none" stroke-linecap="round" stroke-linejoin="round" />
<path d="M99,112 L113,116 M103,128 L117,130 M119,181 L134,181" stroke="#c59c44" stroke-width="1.00" fill="none" stroke-linecap="round" stroke-linejoin="round" />
<polygon points="92,93.5 106,91.5 113,96.5 112,103 99,106" fill="#c4a050"/>
<path d="M93,94 L106,92 L113,97" stroke="#e2c67a" stroke-width="0.80" fill="none" stroke-linecap="round" stroke-linejoin="round" />
<line x1="75.8" y1="93.2" x2="94.5" y2="101" stroke="#2f9a3e" stroke-width="10.4" stroke-linecap="round"/>
<line x1="75.5" y1="91.2" x2="93" y2="98.4" stroke="#45b553" stroke-width="3" stroke-linecap="round"/>
<ellipse cx="74" cy="92.6" rx="2.6" ry="4.6" transform="rotate(-67 74 92.6)" fill="#1f7a2e"/>
<polygon points="108,92.5 122,92 250,130.5 246,133.5 120,104" fill="#b8954a"/>
<path d="M108,92.5 L250,130.5 M118,101 L246,133.5" stroke="#a27c2c" stroke-width="1.00" fill="none" stroke-linecap="round" stroke-linejoin="round" />
<path d="M112,93 L248,130.2" stroke="#e2c67a" stroke-width="0.80" fill="none" stroke-linecap="round" stroke-linejoin="round" />
<polygon points="124,103 142,108 140,113 123,108" fill="#2f9a3e"/>
<polygon points="196,112 204,114.4 203,117 195,114.6" fill="#1f7a2e"/>
<path d="M196,239.8 L277.8,277.4 L296.9,276 L310.5,295.2 L308.2,299.8 L285.5,301.8" stroke="#94722a" stroke-width="4.50" fill="none" stroke-linecap="round" stroke-linejoin="round" />
<path d="M196,239.2 L277.6,276.6 L296.7,275.2 L309.8,294.6" stroke="#c59c44" stroke-width="2.40" fill="none" stroke-linecap="round" stroke-linejoin="round" />
<path d="M196,238.4 L277.5,275.8 L296,274.6" stroke="#e2c67a" stroke-width="0.80" fill="none" stroke-linecap="round" stroke-linejoin="round" />
<path d="M172,247.4 L205,265 L214,266.6 L228,275 L285.4,302.2 L309,298.8" stroke="#94722a" stroke-width="4.50" fill="none" stroke-linecap="round" stroke-linejoin="round" />
<path d="M172,246.8 L205,264.3 L214,265.9 L228,274.3 L285.2,301.4 L308,298.2" stroke="#c59c44" stroke-width="2.40" fill="none" stroke-linecap="round" stroke-linejoin="round" />
<path d="M173,246 L205,263.4 L214,265 L228,273.4 L285,300.4" stroke="#e2c67a" stroke-width="0.80" fill="none" stroke-linecap="round" stroke-linejoin="round" />
<path d="M184.6,246 L286,292.4" stroke="#7a5d1f" stroke-width="2.40" fill="none" stroke-linecap="round" stroke-linejoin="round" />
<path d="M184.6,245.4 L286,291.8" stroke="#c59c44" stroke-width="1.10" fill="none" stroke-linecap="round" stroke-linejoin="round" />
<polygon points="284.8,283 297.4,280.6 301.8,299.6 288,301.9" fill="#b08e42"/>
<polygon points="284.8,283 289,282.2 292.6,301.2 288,301.9" fill="#d0b061"/>
<path d="M182,246.6 L207,247.2 M216,264.2 L241,265.3 M267,286.8 L285,288" stroke="#cfcfcf" stroke-width="1.00" fill="none" stroke-linecap="round" stroke-linejoin="round" />
<polygon points="138,245 152,249 130,288 114,306 91,304.6 89.5,294 96,285.5" fill="#7d6428" opacity="0.72"/>
<path d="M138.4,246.2 L96.4,287 L91.2,294.2" stroke="#7a5d1f" stroke-width="4.40" fill="none" stroke-linecap="round" stroke-linejoin="round" />
<path d="M138,245.6 L96,286.4" stroke="#c59c44" stroke-width="2.00" fill="none" stroke-linecap="round" stroke-linejoin="round" />
<path d="M146.4,248.6 L113.4,281.2 L104.6,296" stroke="#7a5d1f" stroke-width="4.00" fill="none" stroke-linecap="round" stroke-linejoin="round" />
<path d="M146,248 L113,280.6" stroke="#c59c44" stroke-width="1.50" fill="none" stroke-linecap="round" stroke-linejoin="round" />
<path d="M151,249.6 L124,277 L120,287" stroke="#6b5220" stroke-width="3.20" fill="none" stroke-linecap="round" stroke-linejoin="round" />
<path d="M140.6,243.2 L172,247.2 L177,250.6" stroke="#94722a" stroke-width="3.60" fill="none" stroke-linecap="round" stroke-linejoin="round" />
<path d="M140.6,242.6 L172,246.6" stroke="#d4b25e" stroke-width="1.90" fill="none" stroke-linecap="round" stroke-linejoin="round" />
<path d="M139.5,246.8 L97.5,287.4" stroke="#e2c67a" stroke-width="0.70" fill="none" stroke-linecap="round" stroke-linejoin="round" />
<path d="M96.5,293.8 L91,294.4 Q88.6,299 90.4,303.8 L97,304.5" stroke="#c59c44" stroke-width="1.70" fill="none" stroke-linecap="round" stroke-linejoin="round" />
<polygon points="96,293.5 111.5,293 113,297 112,305 97,304.6" fill="#b08a3a"/>
<path d="M96,294 L111.5,293.4" stroke="#e2c67a" stroke-width="0.90" fill="none" stroke-linecap="round" stroke-linejoin="round" />
<rect x="95.2" y="309.4" width="15.2" height="6.9" rx="2" fill="#2f9a3e"/>
<rect x="96" y="305" width="13" height="4.6" fill="#8d7030"/>
<path d="M61.7,266.6 L94.3,244.3 L147.8,254.7 M61.7,266.6 L106.2,293.3" stroke="#a8842f" stroke-width="3.00" fill="none" stroke-linecap="round" stroke-linejoin="round" />
<path d="M61.7,266 L94.3,243.7 L147.8,254.1 M61.7,266 L106.2,292.7" stroke="#d4b25e" stroke-width="1.50" fill="none" stroke-linecap="round" stroke-linejoin="round" />
<path d="M94.3,244.1 L100,250 L78,266.5 M100,250 L132,256.5 M70,270.6 L92,254 L120,259.5 M80,277 L104,260 M92,284.4 L118,264.5 L142,258" stroke="#c59c44" stroke-width="1.50" fill="none" stroke-linecap="round" stroke-linejoin="round" />
<path d="M85,262 L111,267 M79,257 L106,262.4 M96,270 L118,275" stroke="#a8842f" stroke-width="1.30" fill="none" stroke-linecap="round" stroke-linejoin="round" />
<path d="M62.5,265.4 L94.6,243" stroke="#e2c67a" stroke-width="0.70" fill="none" stroke-linecap="round" stroke-linejoin="round" />
<circle cx="94.6" cy="324.8" r="14.3" fill="#2b2619"/>
<circle cx="94.6" cy="324.8" r="9.4" fill="#5d553d"/>
<circle cx="95.2" cy="325.2" r="5.4" fill="#3a3424"/>
<circle cx="94.6" cy="324.8" r="2.3" fill="#8a7f5c"/>
<path d="M303,298 L304.5,318" stroke="#8e8468" stroke-width="2.40" fill="none" stroke-linecap="round" stroke-linejoin="round" />
<circle cx="307.3" cy="319.8" r="13.2" fill="#2b2619"/>
<circle cx="307.3" cy="319.8" r="8.7" fill="#5d553d"/>
<circle cx="307.9" cy="320.2" r="5.0" fill="#3a3424"/>
<circle cx="307.3" cy="319.8" r="2.1" fill="#8a7f5c"/>
</g>
<g transform="translate(1381.0,0)">
<circle cx="123.4" cy="293.6" r="9.2" fill="#2b2619"/>
<circle cx="123.4" cy="293.6" r="6.1" fill="#5d553d"/>
<circle cx="124.0" cy="294.0" r="3.5" fill="#3a3424"/>
<circle cx="123.4" cy="293.6" r="1.5" fill="#8a7f5c"/>
<rect x="125.5" y="275" width="7.5" height="12" fill="#1f7a2e"/>
<path d="M108.0,112.0 L136.0,238.0" stroke="#c59c44" stroke-width="0.80" fill="none" stroke-linecap="round" stroke-linejoin="round" />
<path d="M112.0,113.5 L138.8,236.1" stroke="#c59c44" stroke-width="0.80" fill="none" stroke-linecap="round" stroke-linejoin="round" />
<path d="M116.0,115.0 L141.6,234.2" stroke="#c59c44" stroke-width="0.80" fill="none" stroke-linecap="round" stroke-linejoin="round" />
<path d="M120.0,116.5 L144.4,232.3" stroke="#c59c44" stroke-width="0.80" fill="none" stroke-linecap="round" stroke-linejoin="round" />
<path d="M124.0,118.0 L147.2,230.3" stroke="#c59c44" stroke-width="0.80" fill="none" stroke-linecap="round" stroke-linejoin="round" />
<path d="M128.0,119.5 L150.1,228.4" stroke="#c59c44" stroke-width="0.80" fill="none" stroke-linecap="round" stroke-linejoin="round" />
<path d="M132.0,121.0 L152.9,226.5" stroke="#c59c44" stroke-width="0.80" fill="none" stroke-linecap="round" stroke-linejoin="round" />
<path d="M136.0,122.5 L155.7,224.6" stroke="#c59c44" stroke-width="0.80" fill="none" stroke-linecap="round" stroke-linejoin="round" />
<path d="M140.0,124.0 L158.5,222.7" stroke="#c59c44" stroke-width="0.80" fill="none" stroke-linecap="round" stroke-linejoin="round" />
<path d="M112.7,133.0 L143.1,140.4" stroke="#c59c44" stroke-width="0.90" fill="none" stroke-linecap="round" stroke-linejoin="round" />
<path d="M117.3,154.0 L146.2,156.9" stroke="#c59c44" stroke-width="0.90" fill="none" stroke-linecap="round" stroke-linejoin="round" />
<path d="M122.0,175.0 L149.2,173.3" stroke="#c59c44" stroke-width="0.90" fill="none" stroke-linecap="round" stroke-linejoin="round" />
<path d="M126.7,196.0 L152.3,189.8" stroke="#c59c44" stroke-width="0.90" fill="none" stroke-linecap="round" stroke-linejoin="round" />
<path d="M131.3,217.0 L155.4,206.2" stroke="#c59c44" stroke-width="0.90" fill="none" stroke-linecap="round" stroke-linejoin="round" />
<polygon points="141.0,127.8 312.3,143.9 312.3,213.5 158.9,223.0" fill="#f6f3ea" opacity="0.92"/>
<path d="M151.0,132.0 L170.7,213.9" stroke="#e2cc96" stroke-width="0.80" fill="none" stroke-linecap="round" stroke-linejoin="round" />
<path d="M155.6,132.4 L174.7,213.7" stroke="#e2cc96" stroke-width="0.80" fill="none" stroke-linecap="round" stroke-linejoin="round" />
<path d="M160.1,132.8 L178.7,213.5" stroke="#e2cc96" stroke-width="0.80" fill="none" stroke-linecap="round" stroke-linejoin="round" />
<path d="M164.6,133.2 L182.6,213.4" stroke="#e2cc96" stroke-width="0.80" fill="none" stroke-linecap="round" stroke-linejoin="round" />
<path d="M169.1,133.6 L186.6,213.2" stroke="#e2cc96" stroke-width="0.80" fill="none" stroke-linecap="round" stroke-linejoin="round" />
<path d="M173.6,134.0 L190.6,213.0" stroke="#e2cc96" stroke-width="0.80" fill="none" stroke-linecap="round" stroke-linejoin="round" />
<path d="M178.2,134.4 L194.6,212.8" stroke="#e2cc96" stroke-width="0.80" fill="none" stroke-linecap="round" stroke-linejoin="round" />
<path d="M182.7,134.8 L198.6,212.6" stroke="#e2cc96" stroke-width="0.80" fill="none" stroke-linecap="round" stroke-linejoin="round" />
<path d="M187.2,135.2 L202.6,212.4" stroke="#e2cc96" stroke-width="0.80" fill="none" stroke-linecap="round" stroke-linejoin="round" />
<path d="M191.7,135.6 L206.5,212.2" stroke="#e2cc96" stroke-width="0.80" fill="none" stroke-linecap="round" stroke-linejoin="round" />
<path d="M196.3,136.0 L210.5,212.1" stroke="#e2cc96" stroke-width="0.80" fill="none" stroke-linecap="round" stroke-linejoin="round" />
<path d="M200.8,136.4 L214.5,211.9" stroke="#e2cc96" stroke-width="0.80" fill="none" stroke-linecap="round" stroke-linejoin="round" />
<path d="M205.3,136.8 L218.5,211.7" stroke="#e2cc96" stroke-width="0.80" fill="none" stroke-linecap="round" stroke-linejoin="round" />
<path d="M209.8,137.2 L222.5,211.5" stroke="#e2cc96" stroke-width="0.80" fill="none" stroke-linecap="round" stroke-linejoin="round" />
<path d="M214.4,137.6 L226.5,211.3" stroke="#e2cc96" stroke-width="0.80" fill="none" stroke-linecap="round" stroke-linejoin="round" />
<path d="M218.9,138.0 L230.4,211.1" stroke="#e2cc96" stroke-width="0.80" fill="none" stroke-linecap="round" stroke-linejoin="round" />
<path d="M223.4,138.4 L234.4,210.9" stroke="#e2cc96" stroke-width="0.80" fill="none" stroke-linecap="round" stroke-linejoin="round" />
<path d="M227.9,138.8 L238.4,210.8" stroke="#e2cc96" stroke-width="0.80" fill="none" stroke-linecap="round" stroke-linejoin="round" />
<path d="M232.4,139.2 L242.4,210.6" stroke="#e2cc96" stroke-width="0.80" fill="none" stroke-linecap="round" stroke-linejoin="round" />
<path d="M237.0,139.6 L246.4,210.4" stroke="#e2cc96" stroke-width="0.80" fill="none" stroke-linecap="round" stroke-linejoin="round" />
<path d="M241.5,140.0 L250.3,210.2" stroke="#e2cc96" stroke-width="0.80" fill="none" stroke-linecap="round" stroke-linejoin="round" />
<path d="M246.0,140.4 L254.3,210.0" stroke="#e2cc96" stroke-width="0.80" fill="none" stroke-linecap="round" stroke-linejoin="round" />
<path d="M250.5,140.8 L258.3,209.8" stroke="#e2cc96" stroke-width="0.80" fill="none" stroke-linecap="round" stroke-linejoin="round" />
<path d="M255.1,141.2 L262.3,209.6" stroke="#e2cc96" stroke-width="0.80" fill="none" stroke-linecap="round" stroke-linejoin="round" />
<path d="M259.6,141.6 L266.3,209.5" stroke="#e2cc96" stroke-width="0.80" fill="none" stroke-linecap="round" stroke-linejoin="round" />
<path d="M264.1,142.1 L270.3,209.3" stroke="#e2cc96" stroke-width="0.80" fill="none" stroke-linecap="round" stroke-linejoin="round" />
<path d="M268.6,142.5 L274.2,209.1" stroke="#e2cc96" stroke-width="0.80" fill="none" stroke-linecap="round" stroke-linejoin="round" />
<path d="M273.2,142.9 L278.2,208.9" stroke="#e2cc96" stroke-width="0.80" fill="none" stroke-linecap="round" stroke-linejoin="round" />
<path d="M277.7,143.3 L282.2,208.7" stroke="#e2cc96" stroke-width="0.80" fill="none" stroke-linecap="round" stroke-linejoin="round" />
<path d="M282.2,143.7 L286.2,208.5" stroke="#e2cc96" stroke-width="0.80" fill="none" stroke-linecap="round" stroke-linejoin="round" />
<path d="M286.7,144.1 L290.2,208.3" stroke="#e2cc96" stroke-width="0.80" fill="none" stroke-linecap="round" stroke-linejoin="round" />
<path d="M291.2,144.5 L294.2,208.2" stroke="#e2cc96" stroke-width="0.80" fill="none" stroke-linecap="round" stroke-linejoin="round" />
<path d="M295.8,144.9 L298.1,208.0" stroke="#e2cc96" stroke-width="0.80" fill="none" stroke-linecap="round" stroke-linejoin="round" />
<path d="M300.3,145.3 L302.1,207.8" stroke="#e2cc96" stroke-width="0.80" fill="none" stroke-linecap="round" stroke-linejoin="round" />
<path d="M304.8,145.7 L306.1,207.6" stroke="#e2cc96" stroke-width="0.80" fill="none" stroke-linecap="round" stroke-linejoin="round" />
<polygon points="158.9,222.7 312.3,213 328.9,223.6 138.3,239.6" fill="#d2b262"/>
<polygon points="150,231 320,218.5 328.9,223.6 138.3,239.6" fill="#c39b45" opacity="0.8"/>
<path d="M160.0,222.5 L141.0,239.0" stroke="#a27c2c" stroke-width="0.55" fill="none" stroke-linecap="round" stroke-linejoin="round" />
<path d="M163.9,222.3 L145.8,238.6" stroke="#a27c2c" stroke-width="0.55" fill="none" stroke-linecap="round" stroke-linejoin="round" />
<path d="M167.9,222.0 L150.5,238.2" stroke="#a27c2c" stroke-width="0.55" fill="none" stroke-linecap="round" stroke-linejoin="round" />
<path d="M171.8,221.8 L155.3,237.8" stroke="#a27c2c" stroke-width="0.55" fill="none" stroke-linecap="round" stroke-linejoin="round" />
<path d="M175.8,221.6 L160.1,237.5" stroke="#a27c2c" stroke-width="0.55" fill="none" stroke-linecap="round" stroke-linejoin="round" />
<path d="M179.7,221.3 L164.8,237.1" stroke="#a27c2c" stroke-width="0.55" fill="none" stroke-linecap="round" stroke-linejoin="round" />
<path d="M183.7,221.1 L169.6,236.7" stroke="#a27c2c" stroke-width="0.55" fill="none" stroke-linecap="round" stroke-linejoin="round" />
<path d="M187.6,220.8 L174.4,236.3" stroke="#a27c2c" stroke-width="0.55" fill="none" stroke-linecap="round" stroke-linejoin="round" />
<path d="M191.6,220.6 L179.2,235.9" stroke="#a27c2c" stroke-width="0.55" fill="none" stroke-linecap="round" stroke-linejoin="round" />
<path d="M195.5,220.4 L183.9,235.5" stroke="#a27c2c" stroke-width="0.55" fill="none" stroke-linecap="round" stroke-linejoin="round" />
<path d="M199.5,220.1 L188.7,235.2" stroke="#a27c2c" stroke-width="0.55" fill="none" stroke-linecap="round" stroke-linejoin="round" />
<path d="M203.4,219.9 L193.5,234.8" stroke="#a27c2c" stroke-width="0.55" fill="none" stroke-linecap="round" stroke-linejoin="round" />
<path d="M207.4,219.7 L198.2,234.4" stroke="#a27c2c" stroke-width="0.55" fill="none" stroke-linecap="round" stroke-linejoin="round" />
<path d="M211.3,219.4 L203.0,234.0" stroke="#a27c2c" stroke-width="0.55" fill="none" stroke-linecap="round" stroke-linejoin="round" />
<path d="M215.3,219.2 L207.8,233.6" stroke="#a27c2c" stroke-width="0.55" fill="none" stroke-linecap="round" stroke-linejoin="round" />
<path d="M219.2,219.0 L212.5,233.2" stroke="#a27c2c" stroke-width="0.55" fill="none" stroke-linecap="round" stroke-linejoin="round" />
<path d="M223.2,218.7 L217.3,232.8" stroke="#a27c2c" stroke-width="0.55" fill="none" stroke-linecap="round" stroke-linejoin="round" />
<path d="M227.1,218.5 L222.1,232.5" stroke="#a27c2c" stroke-width="0.55" fill="none" stroke-linecap="round" stroke-linejoin="round" />
<path d="M231.1,218.3 L226.8,232.1" stroke="#a27c2c" stroke-width="0.55" fill="none" stroke-linecap="round" stroke-linejoin="round" />
<path d="M235.0,218.0 L231.6,231.7" stroke="#a27c2c" stroke-width="0.55" fill="none" stroke-linecap="round" stroke-linejoin="round" />
<path d="M239.0,217.8 L236.4,231.3" stroke="#a27c2c" stroke-width="0.55" fill="none" stroke-linecap="round" stroke-linejoin="round" />
<path d="M242.9,217.5 L241.2,230.9" stroke="#a27c2c" stroke-width="0.55" fill="none" stroke-linecap="round" stroke-linejoin="round" />
<path d="M246.9,217.3 L245.9,230.5" stroke="#a27c2c" stroke-width="0.55" fill="none" stroke-linecap="round" stroke-linejoin="round" />
<path d="M250.8,217.1 L250.7,230.2" stroke="#a27c2c" stroke-width="0.55" fill="none" stroke-linecap="round" stroke-linejoin="round" />
<path d="M254.8,216.8 L255.5,229.8" stroke="#a27c2c" stroke-width="0.55" fill="none" stroke-linecap="round" stroke-linejoin="round" />
<path d="M258.7,216.6 L260.2,229.4" stroke="#a27c2c" stroke-width="0.55" fill="none" stroke-linecap="round" stroke-linejoin="round" />
<path d="M262.7,216.4 L265.0,229.0" stroke="#a27c2c" stroke-width="0.55" fill="none" stroke-linecap="round" stroke-linejoin="round" />
<path d="M266.6,216.1 L269.8,228.6" stroke="#a27c2c" stroke-width="0.55" fill="none" stroke-linecap="round" stroke-linejoin="round" />
<path d="M270.6,215.9 L274.5,228.2" stroke="#a27c2c" stroke-width="0.55" fill="none" stroke-linecap="round" stroke-linejoin="round" />
<path d="M274.5,215.7 L279.3,227.8" stroke="#a27c2c" stroke-width="0.55" fill="none" stroke-linecap="round" stroke-linejoin="round" />
<path d="M278.5,215.4 L284.1,227.5" stroke="#a27c2c" stroke-width="0.55" fill="none" stroke-linecap="round" stroke-linejoin="round" />
<path d="M282.4,215.2 L288.8,227.1" stroke="#a27c2c" stroke-width="0.55" fill="none" stroke-linecap="round" stroke-linejoin="round" />
<path d="M286.4,215.0 L293.6,226.7" stroke="#a27c2c" stroke-width="0.55" fill="none" stroke-linecap="round" stroke-linejoin="round" />
<path d="M290.3,214.7 L298.4,226.3" stroke="#a27c2c" stroke-width="0.55" fill="none" stroke-linecap="round" stroke-linejoin="round" />
<path d="M294.3,214.5 L303.2,225.9" stroke="#a27c2c" stroke-width="0.55" fill="none" stroke-linecap="round" stroke-linejoin="round" />
<path d="M298.2,214.2 L307.9,225.5" stroke="#a27c2c" stroke-width="0.55" fill="none" stroke-linecap="round" stroke-linejoin="round" />
<path d="M302.2,214.0 L312.7,225.2" stroke="#a27c2c" stroke-width="0.55" fill="none" stroke-linecap="round" stroke-linejoin="round" />
<path d="M306.1,213.8 L317.5,224.8" stroke="#a27c2c" stroke-width="0.55" fill="none" stroke-linecap="round" stroke-linejoin="round" />
<path d="M310.1,213.5 L322.2,224.4" stroke="#a27c2c" stroke-width="0.55" fill="none" stroke-linecap="round" stroke-linejoin="round" />
<path d="M314.0,213.3 L327.0,224.0" stroke="#a27c2c" stroke-width="0.55" fill="none" stroke-linecap="round" stroke-linejoin="round" />
<path d="M148,231.5 L322,218.8" stroke="#e2c67a" stroke-width="0.90" fill="none" stroke-linecap="round" stroke-linejoin="round" />
<path d="M138.3,239.6 L328.9,223.8" stroke="#a27c2c" stroke-width="1.30" fill="none" stroke-linecap="round" stroke-linejoin="round" />
<polygon points="313.6,145 332.9,143 328.9,223.4 312.3,214" fill="#cfb26a" opacity="0.85"/>
<path d="M316.8,144.7 L315.1,215.6" stroke="#a27c2c" stroke-width="0.60" fill="none" stroke-linecap="round" stroke-linejoin="round" />
<path d="M320.0,144.3 L317.8,217.1" stroke="#a27c2c" stroke-width="0.60" fill="none" stroke-linecap="round" stroke-linejoin="round" />
<path d="M323.2,144.0 L320.6,218.7" stroke="#a27c2c" stroke-width="0.60" fill="none" stroke-linecap="round" stroke-linejoin="round" />
<path d="M326.5,143.7 L323.4,220.3" stroke="#a27c2c" stroke-width="0.60" fill="none" stroke-linecap="round" stroke-linejoin="round" />
<path d="M329.7,143.3 L326.1,221.8" stroke="#a27c2c" stroke-width="0.60" fill="none" stroke-linecap="round" stroke-linejoin="round" />
<path d="M313.4,156.5 L332.2,156.4" stroke="#c59c44" stroke-width="0.80" fill="none" stroke-linecap="round" stroke-linejoin="round" />
<path d="M313.2,168.0 L331.6,169.8" stroke="#c59c44" stroke-width="0.80" fill="none" stroke-linecap="round" stroke-linejoin="round" />
<path d="M313.0,179.5 L330.9,183.2" stroke="#c59c44" stroke-width="0.80" fill="none" stroke-linecap="round" stroke-linejoin="round" />
<path d="M312.7,191.0 L330.2,196.6" stroke="#c59c44" stroke-width="0.80" fill="none" stroke-linecap="round" stroke-linejoin="round" />
<path d="M312.5,202.5 L329.6,210.0" stroke="#c59c44" stroke-width="0.80" fill="none" stroke-linecap="round" stroke-linejoin="round" />
<path d="M332.9,143 L328.9,223.4" stroke="#c59c44" stroke-width="1.50" fill="none" stroke-linecap="round" stroke-linejoin="round" />
<path d="M313,145 L312.3,214" stroke="#c59c44" stroke-width="1.20" fill="none" stroke-linecap="round" stroke-linejoin="round" />
<path d="M141.0,127.8 L158.9,223.0" stroke="#c59c44" stroke-width="1.20" fill="none" stroke-linecap="round" stroke-linejoin="round" />
<path d="M145.9,128.3 L163.3,222.7" stroke="#c59c44" stroke-width="1.20" fill="none" stroke-linecap="round" stroke-linejoin="round" />
<path d="M150.8,128.7 L167.7,222.5" stroke="#c59c44" stroke-width="1.20" fill="none" stroke-linecap="round" stroke-linejoin="round" />
<path d="M155.7,129.2 L172.0,222.2" stroke="#c59c44" stroke-width="1.20" fill="none" stroke-linecap="round" stroke-linejoin="round" />
<path d="M160.6,129.6 L176.4,221.9" stroke="#c59c44" stroke-width="1.20" fill="none" stroke-linecap="round" stroke-linejoin="round" />
<path d="M165.5,130.1 L180.8,221.6" stroke="#c59c44" stroke-width="1.20" fill="none" stroke-linecap="round" stroke-linejoin="round" />
<path d="M170.4,130.6 L185.2,221.4" stroke="#c59c44" stroke-width="1.20" fill="none" stroke-linecap="round" stroke-linejoin="round" />
<path d="M175.3,131.0 L189.6,221.1" stroke="#c59c44" stroke-width="1.20" fill="none" stroke-linecap="round" stroke-linejoin="round" />
<path d="M180.2,131.5 L194.0,220.8" stroke="#c59c44" stroke-width="1.20" fill="none" stroke-linecap="round" stroke-linejoin="round" />
<path d="M185.0,131.9 L198.3,220.6" stroke="#c59c44" stroke-width="1.20" fill="none" stroke-linecap="round" stroke-linejoin="round" />
<path d="M189.9,132.4 L202.7,220.3" stroke="#c59c44" stroke-width="1.20" fill="none" stroke-linecap="round" stroke-linejoin="round" />
<path d="M194.8,132.9 L207.1,220.0" stroke="#c59c44" stroke-width="1.20" fill="none" stroke-linecap="round" stroke-linejoin="round" />
<path d="M199.7,133.3 L211.5,219.7" stroke="#c59c44" stroke-width="1.20" fill="none" stroke-linecap="round" stroke-linejoin="round" />
<path d="M204.6,133.8 L215.9,219.5" stroke="#c59c44" stroke-width="1.20" fill="none" stroke-linecap="round" stroke-linejoin="round" />
<path d="M209.5,134.2 L220.3,219.2" stroke="#c59c44" stroke-width="1.20" fill="none" stroke-linecap="round" stroke-linejoin="round" />
<path d="M214.4,134.7 L224.6,218.9" stroke="#c59c44" stroke-width="1.20" fill="none" stroke-linecap="round" stroke-linejoin="round" />
<path d="M219.3,135.2 L229.0,218.7" stroke="#c59c44" stroke-width="1.20" fill="none" stroke-linecap="round" stroke-linejoin="round" />
<path d="M224.2,135.6 L233.4,218.4" stroke="#c59c44" stroke-width="1.20" fill="none" stroke-linecap="round" stroke-linejoin="round" />
<path d="M229.1,136.1 L237.8,218.1" stroke="#c59c44" stroke-width="1.20" fill="none" stroke-linecap="round" stroke-linejoin="round" />
<path d="M234.0,136.5 L242.2,217.8" stroke="#c59c44" stroke-width="1.20" fill="none" stroke-linecap="round" stroke-linejoin="round" />
<path d="M238.9,137.0 L246.6,217.6" stroke="#c59c44" stroke-width="1.20" fill="none" stroke-linecap="round" stroke-linejoin="round" />
<path d="M243.8,137.5 L250.9,217.3" stroke="#c59c44" stroke-width="1.20" fill="none" stroke-linecap="round" stroke-linejoin="round" />
<path d="M248.7,137.9 L255.3,217.0" stroke="#c59c44" stroke-width="1.20" fill="none" stroke-linecap="round" stroke-linejoin="round" />
<path d="M253.6,138.4 L259.7,216.8" stroke="#c59c44" stroke-width="1.20" fill="none" stroke-linecap="round" stroke-linejoin="round" />
<path d="M258.5,138.8 L264.1,216.5" stroke="#c59c44" stroke-width="1.20" fill="none" stroke-linecap="round" stroke-linejoin="round" />
<path d="M263.4,139.3 L268.5,216.2" stroke="#c59c44" stroke-width="1.20" fill="none" stroke-linecap="round" stroke-linejoin="round" />
<path d="M268.3,139.8 L272.9,215.9" stroke="#c59c44" stroke-width="1.20" fill="none" stroke-linecap="round" stroke-linejoin="round" />
<path d="M273.1,140.2 L277.2,215.7" stroke="#c59c44" stroke-width="1.20" fill="none" stroke-linecap="round" stroke-linejoin="round" />
<path d="M278.0,140.7 L281.6,215.4" stroke="#c59c44" stroke-width="1.20" fill="none" stroke-linecap="round" stroke-linejoin="round" />
<path d="M282.9,141.1 L286.0,215.1" stroke="#c59c44" stroke-width="1.20" fill="none" stroke-linecap="round" stroke-linejoin="round" />
<path d="M287.8,141.6 L290.4,214.9" stroke="#c59c44" stroke-width="1.20" fill="none" stroke-linecap="round" stroke-linejoin="round" />
<path d="M292.7,142.1 L294.8,214.6" stroke="#c59c44" stroke-width="1.20" fill="none" stroke-linecap="round" stroke-linejoin="round" />
<path d="M297.6,142.5 L299.2,214.3" stroke="#c59c44" stroke-width="1.20" fill="none" stroke-linecap="round" stroke-linejoin="round" />
<path d="M302.5,143.0 L303.5,214.0" stroke="#c59c44" stroke-width="1.20" fill="none" stroke-linecap="round" stroke-linejoin="round" />
<path d="M307.4,143.4 L307.9,213.8" stroke="#c59c44" stroke-width="1.20" fill="none" stroke-linecap="round" stroke-linejoin="round" />
<path d="M312.3,143.9 L312.3,213.5" stroke="#c59c44" stroke-width="1.20" fill="none" stroke-linecap="round" stroke-linejoin="round" />
<path d="M143.7,142.1 L330.3,154.7" stroke="#c59c44" stroke-width="0.90" fill="none" stroke-linecap="round" stroke-linejoin="round" />
<path d="M112.3,153.9 L146.4,156.4 L330.3,165.2" stroke="#c59c44" stroke-width="1.60" fill="none" stroke-linecap="round" stroke-linejoin="round" />
<path d="M146.4,155.7 L312.3,164.3" stroke="#e2c67a" stroke-width="0.50" fill="none" stroke-linecap="round" stroke-linejoin="round" />
<path d="M149.8,174.4 L330.3,178.4" stroke="#c59c44" stroke-width="0.90" fill="none" stroke-linecap="round" stroke-linejoin="round" />
<path d="M122.6,190.0 L153.2,192.5 L330.3,191.6" stroke="#c59c44" stroke-width="1.60" fill="none" stroke-linecap="round" stroke-linejoin="round" />
<path d="M153.2,191.8 L312.3,190.7" stroke="#e2c67a" stroke-width="0.50" fill="none" stroke-linecap="round" stroke-linejoin="round" />
<path d="M156.2,208.7 L330.3,203.5" stroke="#c59c44" stroke-width="1.00" fill="none" stroke-linecap="round" stroke-linejoin="round" />
<path d="M151.2,148.0 L312.3,158.1" stroke="#e0c98f" stroke-width="0.80" fill="none" stroke-linecap="round" stroke-linejoin="round" />
<path d="M154.5,165.5 L312.3,170.9" stroke="#e0c98f" stroke-width="0.80" fill="none" stroke-linecap="round" stroke-linejoin="round" />
<path d="M157.7,182.9 L312.3,183.7" stroke="#e0c98f" stroke-width="0.80" fill="none" stroke-linecap="round" stroke-linejoin="round" />
<path d="M160.7,198.8 L312.3,195.3" stroke="#e0c98f" stroke-width="0.80" fill="none" stroke-linecap="round" stroke-linejoin="round" />
<path d="M112.5,118.5 L334.2,142.4" stroke="#c59c44" stroke-width="1.90" fill="none" stroke-linecap="round" stroke-linejoin="round" />
<path d="M141,125.8 L332.2,145" stroke="#c59c44" stroke-width="1.50" fill="none" stroke-linecap="round" stroke-linejoin="round" />
<path d="M113,119.8 L333,143.6" stroke="#e2c67a" stroke-width="0.60" fill="none" stroke-linecap="round" stroke-linejoin="round" />
<path d="M97.8,105.9 L136.4,241.3" stroke="#c59c44" stroke-width="1.30" fill="none" stroke-linecap="round" stroke-linejoin="round" />
<path d="M100.8,105.2 L139.6,240.6" stroke="#a27c2c" stroke-width="0.90" fill="none" stroke-linecap="round" stroke-linejoin="round" />
<path d="M99,112 L113,116 M103,128 L117,130 M119,181 L134,181" stroke="#c59c44" stroke-width="1.00" fill="none" stroke-linecap="round" stroke-linejoin="round" />
<polygon points="92,93.5 106,91.5 113,96.5 112,103 99,106" fill="#c4a050"/>
<path d="M93,94 L106,92 L113,97" stroke="#e2c67a" stroke-width="0.80" fill="none" stroke-linecap="round" stroke-linejoin="round" />
<line x1="75.8" y1="93.2" x2="94.5" y2="101" stroke="#2f9a3e" stroke-width="10.4" stroke-linecap="round"/>
<line x1="75.5" y1="91.2" x2="93" y2="98.4" stroke="#45b553" stroke-width="3" stroke-linecap="round"/>
<ellipse cx="74" cy="92.6" rx="2.6" ry="4.6" transform="rotate(-67 74 92.6)" fill="#1f7a2e"/>
<polygon points="99,92.5 112,91 249,129.5 246,133 116,104" fill="#b8954a"/>
<path d="M99,92.5 L249,129.5 M116,104 L246,133" stroke="#a27c2c" stroke-width="1.00" fill="none" stroke-linecap="round" stroke-linejoin="round" />
<path d="M104,92.6 L247,129.5" stroke="#e2c67a" stroke-width="0.80" fill="none" stroke-linecap="round" stroke-linejoin="round" />
<polygon points="114,102 132,107 130,113 113,108" fill="#2f9a3e"/>
<polygon points="121.5,34.5 124.5,34 200,119 195.5,122.5" fill="#b8954a"/>
<path d="M121.5,34.5 L195.5,122.5 M124.5,34 L200,119 M127,42 L189,121 M133,52 L178,113" stroke="#a27c2c" stroke-width="0.80" fill="none" stroke-linecap="round" stroke-linejoin="round" />
<path d="M123,34.2 L198,120.5" stroke="#e2c67a" stroke-width="0.70" fill="none" stroke-linecap="round" stroke-linejoin="round" />
<polygon points="150,85 170,84 176.5,104 156,107" fill="#2f9a3e"/>
<path d="M154,88 L160,105 M159,87 L165,104 M164,86.5 L170,103.5" stroke="#9fc070" stroke-width="0.80" fill="none" stroke-linecap="round" stroke-linejoin="round" />
<path d="M196,239.8 L277.8,277.4 L296.9,276 L310.5,295.2 L308.2,299.8 L285.5,301.8" stroke="#94722a" stroke-width="4.50" fill="none" stroke-linecap="round" stroke-linejoin="round" />
<path d="M196,239.2 L277.6,276.6 L296.7,275.2 L309.8,294.6" stroke="#c59c44" stroke-width="2.40" fill="none" stroke-linecap="round" stroke-linejoin="round" />
<path d="M196,238.4 L277.5,275.8 L296,274.6" stroke="#e2c67a" stroke-width="0.80" fill="none" stroke-linecap="round" stroke-linejoin="round" />
<path d="M172,247.4 L205,265 L214,266.6 L228,275 L285.4,302.2 L309,298.8" stroke="#94722a" stroke-width="4.50" fill="none" stroke-linecap="round" stroke-linejoin="round" />
<path d="M172,246.8 L205,264.3 L214,265.9 L228,274.3 L285.2,301.4 L308,298.2" stroke="#c59c44" stroke-width="2.40" fill="none" stroke-linecap="round" stroke-linejoin="round" />
<path d="M173,246 L205,263.4 L214,265 L228,273.4 L285,300.4" stroke="#e2c67a" stroke-width="0.80" fill="none" stroke-linecap="round" stroke-linejoin="round" />
<path d="M184.6,246 L286,292.4" stroke="#7a5d1f" stroke-width="2.40" fill="none" stroke-linecap="round" stroke-linejoin="round" />
<path d="M184.6,245.4 L286,291.8" stroke="#c59c44" stroke-width="1.10" fill="none" stroke-linecap="round" stroke-linejoin="round" />
<polygon points="284.8,283 297.4,280.6 301.8,299.6 288,301.9" fill="#b08e42"/>
<polygon points="284.8,283 289,282.2 292.6,301.2 288,301.9" fill="#d0b061"/>
<path d="M182,246.6 L207,247.2 M216,264.2 L241,265.3 M267,286.8 L285,288" stroke="#cfcfcf" stroke-width="1.00" fill="none" stroke-linecap="round" stroke-linejoin="round" />
<polygon points="138,245 152,249 130,288 114,306 91,304.6 89.5,294 96,285.5" fill="#7d6428" opacity="0.72"/>
<path d="M138.4,246.2 L96.4,287 L91.2,294.2" stroke="#7a5d1f" stroke-width="4.40" fill="none" stroke-linecap="round" stroke-linejoin="round" />
<path d="M138,245.6 L96,286.4" stroke="#c59c44" stroke-width="2.00" fill="none" stroke-linecap="round" stroke-linejoin="round" />
<path d="M146.4,248.6 L113.4,281.2 L104.6,296" stroke="#7a5d1f" stroke-width="4.00" fill="none" stroke-linecap="round" stroke-linejoin="round" />
<path d="M146,248 L113,280.6" stroke="#c59c44" stroke-width="1.50" fill="none" stroke-linecap="round" stroke-linejoin="round" />
<path d="M151,249.6 L124,277 L120,287" stroke="#6b5220" stroke-width="3.20" fill="none" stroke-linecap="round" stroke-linejoin="round" />
<path d="M140.6,243.2 L172,247.2 L177,250.6" stroke="#94722a" stroke-width="3.60" fill="none" stroke-linecap="round" stroke-linejoin="round" />
<path d="M140.6,242.6 L172,246.6" stroke="#d4b25e" stroke-width="1.90" fill="none" stroke-linecap="round" stroke-linejoin="round" />
<path d="M139.5,246.8 L97.5,287.4" stroke="#e2c67a" stroke-width="0.70" fill="none" stroke-linecap="round" stroke-linejoin="round" />
<path d="M96.5,293.8 L91,294.4 Q88.6,299 90.4,303.8 L97,304.5" stroke="#c59c44" stroke-width="1.70" fill="none" stroke-linecap="round" stroke-linejoin="round" />
<polygon points="96,293.5 111.5,293 113,297 112,305 97,304.6" fill="#b08a3a"/>
<path d="M96,294 L111.5,293.4" stroke="#e2c67a" stroke-width="0.90" fill="none" stroke-linecap="round" stroke-linejoin="round" />
<rect x="95.2" y="309.4" width="15.2" height="6.9" rx="2" fill="#2f9a3e"/>
<rect x="96" y="305" width="13" height="4.6" fill="#8d7030"/>
<path d="M61.7,266.6 L94.3,244.3 L147.8,254.7 M61.7,266.6 L106.2,293.3" stroke="#a8842f" stroke-width="3.00" fill="none" stroke-linecap="round" stroke-linejoin="round" />
<path d="M61.7,266 L94.3,243.7 L147.8,254.1 M61.7,266 L106.2,292.7" stroke="#d4b25e" stroke-width="1.50" fill="none" stroke-linecap="round" stroke-linejoin="round" />
<path d="M94.3,244.1 L100,250 L78,266.5 M100,250 L132,256.5 M70,270.6 L92,254 L120,259.5 M80,277 L104,260 M92,284.4 L118,264.5 L142,258" stroke="#c59c44" stroke-width="1.50" fill="none" stroke-linecap="round" stroke-linejoin="round" />
<path d="M85,262 L111,267 M79,257 L106,262.4 M96,270 L118,275" stroke="#a8842f" stroke-width="1.30" fill="none" stroke-linecap="round" stroke-linejoin="round" />
<path d="M62.5,265.4 L94.6,243" stroke="#e2c67a" stroke-width="0.70" fill="none" stroke-linecap="round" stroke-linejoin="round" />
<circle cx="94.6" cy="324.8" r="14.3" fill="#2b2619"/>
<circle cx="94.6" cy="324.8" r="9.4" fill="#5d553d"/>
<circle cx="95.2" cy="325.2" r="5.4" fill="#3a3424"/>
<circle cx="94.6" cy="324.8" r="2.3" fill="#8a7f5c"/>
<path d="M303,298 L304.5,318" stroke="#8e8468" stroke-width="2.40" fill="none" stroke-linecap="round" stroke-linejoin="round" />
<circle cx="307.3" cy="319.8" r="13.2" fill="#2b2619"/>
<circle cx="307.3" cy="319.8" r="8.7" fill="#5d553d"/>
<circle cx="307.9" cy="320.2" r="5.0" fill="#3a3424"/>
<circle cx="307.3" cy="319.8" r="2.1" fill="#8a7f5c"/>
</g>
<polygon points="1296.2,752.0 1295.8,740.3 1298.6,721.5 1302.1,705.1 1308.0,686.4 1315.0,672.3 1320.9,661.8 1329.1,652.4 1338.4,644.2 1346.6,639.5 1353.7,636.0 1350.1,630.1 1343.1,623.1 1338.4,617.3 1338.0,604.4 1336.1,597.3 1333.7,588.0 1333.7,576.2 1336.1,564.5 1338.4,555.2 1341.9,550.5 1342.4,545.8 1350.1,539.9 1357.2,534.1 1364.2,529.8 1371.2,527.7 1371.7,530.5 1378.3,532.9 1385.3,536.4 1390.0,541.1 1395.8,548.1 1401.7,557.5 1404.0,563.4 1408.3,568.0 1407.6,576.2 1411.1,583.3 1412.3,592.7 1411.5,602.0 1408.7,606.7 1409.9,618.4 1411.1,627.8 1412.3,634.8 1422.8,636.7 1434.5,638.4 1446.2,642.3 1458.0,647.7 1469.7,652.4 1481.4,658.3 1490.8,665.3 1496.6,672.3 1501.3,681.7 1507.2,693.4 1513.0,707.5 1518.9,721.5 1524.7,734.4 1530.6,745.0 1534.1,750.8" fill="#000" />
<polygon points="1684.4,756.2 1688.0,742.6 1691.5,726.2 1695.0,712.2 1699.7,698.1 1705.5,689.9 1713.7,682.9 1725.5,675.8 1737.2,668.8 1746.6,663.0 1754.8,658.3 1758.3,651.2 1760.6,647.7 1755.9,648.4 1760.6,644.2 1761.8,634.8 1757.1,637.2 1753.6,640.7 1747.7,634.8 1751.2,630.1 1741.9,627.8 1737.2,620.8 1736.0,617.3 1740.7,613.7 1746.6,612.6 1741.9,606.7 1736.0,602.0 1738.4,595.0 1737.2,583.3 1739.5,578.6 1748.9,579.8 1751.2,572.7 1754.8,564.5 1760.6,555.2 1763.0,548.1 1770.0,542.3 1779.4,536.9 1788.7,538.7 1798.1,539.9 1805.1,545.8 1810.3,547.0 1812.2,551.6 1811.0,555.2 1816.9,561.0 1821.5,569.2 1823.9,578.6 1827.4,588.0 1829.7,592.7 1828.6,599.7 1827.4,606.7 1826.2,618.4 1823.9,630.1 1822.7,641.9 1828.6,647.7 1835.6,654.8 1845.0,661.8 1856.7,668.8 1868.4,674.7 1880.1,681.7 1889.5,688.7 1896.5,696.9 1901.2,707.5 1905.9,719.2 1911.8,733.3 1917.6,745.0 1924.2,757.2" fill="#000" />
<polygon points="2059.8,758.6 2061.5,742.6 2063.8,728.6 2067.3,714.5 2070.9,704.0 2076.7,696.9 2086.1,691.1 2097.8,685.2 2111.9,679.4 2123.6,674.7 2131.8,670.0 2135.3,664.1 2136.5,655.9 2134.1,646.6 2130.6,637.2 2125.9,630.1 2120.1,624.3 2117.7,618.4 2116.1,609.1 2116.6,600.9 2114.2,595.0 2113.0,585.6 2114.2,576.2 2117.7,565.7 2123.6,556.3 2130.6,549.3 2140.0,543.4 2149.4,540.6 2156.4,541.1 2163.4,540.6 2175.1,544.6 2184.5,551.6 2191.5,561.0 2195.8,571.6 2197.4,583.3 2197.4,592.7 2199.7,599.7 2199.3,609.1 2198.1,618.4 2195.8,623.1 2192.7,632.5 2191.5,641.9 2192.0,651.2 2195.1,658.3 2200.9,665.3 2210.3,670.0 2224.4,675.8 2238.4,681.7 2247.8,684.0 2249.0,687.6 2258.3,689.9 2264.2,694.6 2267.7,702.8 2271.2,714.5 2274.7,728.6 2278.3,745.0 2280.6,756.2" fill="#000" stroke="#000" stroke-width="1" stroke-linejoin="round"/>
<rect x="1353.8" y="870.8" width="123.2" height="13.8" fill="#000"/>
<path d="M1364.5,859.5 L1364.5,849.2 A4.2,4.2 0 0 1 1373.0,849.2 L1373.0,859.5 Z" fill="#000"/>
<rect x="1363.7" y="857.9" width="10.1" height="1.6" fill="#000"/>
<path d="M1367.0,859.5 V871 M1370.6,859.5 V871" stroke="#000" stroke-width="0.8" fill="none"/>
<path d="M1381.2,847.5 L1381.2,837.6 A4.6,4.6 0 0 1 1390.5,837.6 L1390.5,847.5 Z" fill="#000"/>
<rect x="1380.5" y="845.9" width="10.8" height="1.6" fill="#000"/>
<path d="M1384.0,847.5 V871 M1387.9,847.5 V871" stroke="#000" stroke-width="0.8" fill="none"/>
<path d="M1393.0,850.0 L1393.0,841.0 A4.8,4.8 0 0 1 1402.5,841.0 L1402.5,850.0 Z" fill="#000"/>
<rect x="1392.2" y="848.4" width="11.1" height="1.6" fill="#000"/>
<path d="M1395.8,850.0 V871 M1399.8,850.0 V871" stroke="#000" stroke-width="0.8" fill="none"/>
<path d="M1408.2,853.2 L1408.2,843.9 A4.6,4.6 0 0 1 1417.5,843.9 L1417.5,853.2 Z" fill="#000"/>
<rect x="1407.5" y="851.6" width="10.8" height="1.6" fill="#000"/>
<path d="M1411.0,853.2 V871 M1414.9,853.2 V871" stroke="#000" stroke-width="0.8" fill="none"/>
<path d="M1425.0,851.2 L1425.0,842.2 A4.8,4.8 0 0 1 1434.5,842.2 L1434.5,851.2 Z" fill="#000"/>
<rect x="1424.2" y="849.6" width="11.1" height="1.6" fill="#000"/>
<path d="M1427.8,851.2 V871 M1431.8,851.2 V871" stroke="#000" stroke-width="0.8" fill="none"/>
<path d="M1440.0,854.5 L1440.0,844.9 A4.4,4.4 0 0 1 1448.8,844.9 L1448.8,854.5 Z" fill="#000"/>
<rect x="1439.2" y="852.9" width="10.3" height="1.6" fill="#000"/>
<path d="M1442.6,854.5 V871 M1446.3,854.5 V871" stroke="#000" stroke-width="0.8" fill="none"/>
<path d="M1456.2,858.8 L1456.2,849.4 A4.4,4.4 0 0 1 1465.0,849.4 L1465.0,858.8 Z" fill="#000"/>
<rect x="1455.5" y="857.1" width="10.3" height="1.6" fill="#000"/>
<path d="M1458.9,858.8 V871 M1462.5,858.8 V871" stroke="#000" stroke-width="0.8" fill="none"/>
<polygon points="1383.8,957.5 1390.0,946.2 1395.0,940.0 1398.8,936.2 1407.5,935.0 1453.8,967.5 1454.5,972.5 1440.0,992.5 1435.0,995.0 1430.0,995.5 1385.0,962.5" fill="#000" stroke="#000" stroke-width="1.5" stroke-linejoin="round"/>
<path d="M1332,1071.6 C1345,1069 1360,1072.5 1375,1070.6 L1394,1070.5 L1442,1071.5 C1460,1070 1480,1073.5 1498.8,1072.6" stroke="#000" stroke-width="2.6" stroke-linecap="round" fill="none"/>
<rect x="1392.5" y="1063.6" width="51.5" height="16" rx="5" ry="6" fill="#000"/>
<rect x="1676.3" y="854.8" width="155.8" height="14.2" rx="4" ry="5" fill="#000"/>
<polygon points="1831,858.9 1931.5,862.4 1931.5,863.6 1831,862.4" fill="#000"/>
<polygon points="1741.5,929.3 1744.3,926.5 1806.2,922.3 1831.5,921.5 1835.7,925.1 1835.7,932.1 1838.5,936.4 1837.1,943.4 1832.9,946.2 1830.1,950.4 1828.7,956.0 1824.5,957.4 1814.6,958.8 1810.4,965.9 1807.6,972.9 1807.6,979.9 1813.2,984.1 1816.0,987.0 1814.6,996.8 1809.0,1005.2 1804.8,1008.0 1800.6,1006.6 1796.4,996.8 1794.9,987.0 1790.7,985.5 1790.7,978.5 1793.5,974.3 1792.1,968.7 1783.7,967.3 1755.6,965.9 1750.0,961.7 1748.6,953.2 1744.3,949.0 1744.3,940.6 1741.5,934.9" fill="#000" stroke="#000" stroke-width="1" stroke-linejoin="round"/>
<path d="M1823.1,957.4 C1824.0,958.8 1827.8,962.1 1828.7,965.9 C1829.5,969.6 1829.1,975.2 1828.1,979.9 C1827.2,984.6 1825.5,989.2 1823.1,994.0 C1820.6,998.8 1816.0,1006.0 1813.2,1008.6 C1810.4,1011.2 1807.4,1009.3 1806.2,1009.4 " stroke="#000" stroke-width="1.1" fill="none"/>
<polygon points="1797.8,1051.6 1803.4,1051.1 1835.7,1062.9 1839.9,1067.1 1838.5,1083.9 1835.7,1089.6 1794.9,1130.3 1790.7,1131.2 1761.2,1120.5 1755.6,1119.1 1745.7,1112.1 1745.2,1095.2 1750.0,1089.6" fill="#000" stroke="#000" stroke-width="2" stroke-linejoin="round"/>
<rect x="2122.9" y="821.1" width="25.3" height="35.1" rx="1.5" fill="#000"/>
<rect x="2120.1" y="854.8" width="29.0" height="35.1" rx="1.5" fill="#000"/>
<rect x="2152.5" y="830.9" width="25.3" height="57.6" rx="1.5" fill="#000"/>
<rect x="2183.9" y="827.6" width="23.3" height="30.1" rx="1.5" fill="#000"/>
<rect x="2180.0" y="856.2" width="29.5" height="35.1" rx="1.5" fill="#000"/>
<polygon points="2094.8,953.2 2127.2,936.9 2152.5,944.8 2155.3,945.3 2186.2,955.2 2186.8,958.8 2222.2,970.1 2222.7,979.9 2193.2,1011.4 2186.2,1009.4 2159.5,996.8 2156.7,994.0 2124.3,979.9 2122.9,975.7 2100.4,965.9 2095.4,960.2" fill="#000" stroke="#000" stroke-width="1.5" stroke-linejoin="round"/>
<path d="M2138.4,1100.3 C2137.5,1098.0 2134.3,1091.8 2133.1,1086.8 C2131.8,1081.7 2130.6,1075.5 2130.8,1069.9 C2131.0,1064.3 2132.2,1057.7 2134.5,1053.0 C2136.7,1048.4 2140.4,1044.8 2144.3,1042.1 C2148.2,1039.3 2153.4,1037.7 2158.1,1036.7 C2162.7,1035.7 2167.4,1035.4 2172.1,1036.2 C2176.8,1037.0 2182.4,1038.8 2186.2,1041.5 C2189.9,1044.2 2192.6,1048.6 2194.6,1052.2 C2196.7,1055.8 2197.9,1061.3 2198.6,1063.1 " stroke="#000" stroke-width="9.8" stroke-linecap="round" fill="none"/>
<ellipse cx="2196.9" cy="1088.2" rx="17.6" ry="22.2" transform="rotate(8 2196.9 1088.2)" fill="#000"/>
<ellipse cx="2165.1" cy="1110.7" rx="22" ry="19.8" transform="rotate(-20 2165.1 1110.7)" fill="#000"/>
<circle cx="2138.4" cy="1101.4" r="4.6" fill="#000"/>
<circle cx="2197.4" cy="1060.1" r="4.4" fill="#000"/>
<circle cx="2193.2" cy="1064.3" r="4" fill="#000"/>
<polygon points="940.4,636.0 970.0,665.6 919.0,682.8" fill="#cde0d5"/>
<polygon points="918.4,794.0 944.7,816.6 950.3,806.3 998.0,834.4 956.9,879.4" fill="#cde0d5"/>
<polygon points="1046.9,848.4 1121.9,873.8 1050.6,884.0" fill="#cde0d5"/>
<polygon points="934.4,682.8 954.0,682.4 935.9,710.0" fill="#c49b9d"/>
<polygon points="926.0,703.4 930.3,705.3 921.0,715.6" fill="#c49b9d"/>
<polygon points="943.5,708.3 950.3,705.8 948.5,708.8" fill="#c49b9d"/>
<polygon points="906.5,727.2 913.8,724.8 909.0,728.2" fill="#c49b9d"/>
<polygon points="913.8,757.0 929.0,775.6 918.4,771.0" fill="#c49b9d"/>
<polygon points="924.0,757.8 929.7,760.6 925.0,760.6" fill="#c49b9d"/>
<polygon points="940.0,774.7 955.4,790.6 942.3,801.5" fill="#c49b9d"/>
<polygon points="948.4,767.2 956.9,771.9 955.0,772.5" fill="#c49b9d"/>
<polygon points="906.8,750.5 910.0,755.0 907.3,753.5" fill="#c49b9d"/>
<line x1="366.0" y1="546.0" x2="900.6" y2="546.0" stroke="#c9c9c9" stroke-width="0.80" />
<line x1="366.0" y1="539.0" x2="366.0" y2="666.0" stroke="#c9c9c9" stroke-width="0.80" />
<line x1="900.6" y1="539.0" x2="900.6" y2="689.4" stroke="#c9c9c9" stroke-width="0.80" />
<line x1="366.0" y1="607.5" x2="715.0" y2="607.5" stroke="#c9c9c9" stroke-width="0.80" />
<line x1="715.0" y1="600.0" x2="715.0" y2="642.0" stroke="#c9c9c9" stroke-width="0.80" />
<line x1="338.5" y1="695.0" x2="338.5" y2="979.4" stroke="#c9c9c9" stroke-width="0.80" />
<line x1="330.6" y1="693.1" x2="364.4" y2="693.1" stroke="#c9c9c9" stroke-width="0.80" />
<line x1="330.6" y1="980.0" x2="445.0" y2="980.0" stroke="#c9c9c9" stroke-width="0.80" />
<line x1="958.4" y1="768.0" x2="958.4" y2="1176.0" stroke="#c9c9c9" stroke-width="0.80" />
<line x1="887.5" y1="939.8" x2="965.3" y2="939.8" stroke="#c9c9c9" stroke-width="0.80" />
<line x1="360.6" y1="1198.4" x2="820.4" y2="1198.4" stroke="#c9c9c9" stroke-width="0.80" />
<line x1="360.6" y1="1176.0" x2="360.6" y2="1207.0" stroke="#c9c9c9" stroke-width="0.80" />
<line x1="820.4" y1="1176.0" x2="820.4" y2="1207.0" stroke="#c9c9c9" stroke-width="0.80" />
<polygon points="366.0,546.0 371.0,544.9 371.0,547.1" fill="#c9c9c9"/>
<polygon points="366.0,607.5 371.0,606.4 371.0,608.6" fill="#c9c9c9"/>
<polygon points="715.0,607.5 710.0,606.4 710.0,608.6" fill="#c9c9c9"/>
<polygon points="360.6,1198.4 365.6,1197.3 365.6,1199.5" fill="#c9c9c9"/>
<polygon points="820.4,1198.4 815.4,1197.3 815.4,1199.5" fill="#c9c9c9"/>
<polygon points="338.5,695.0 337.4,700.0 339.6,700.0" fill="#c9c9c9"/>
<polygon points="338.5,979.4 337.4,974.4 339.6,974.4" fill="#c9c9c9"/>
<polygon points="958.4,1176.0 957.3,1171.0 959.5,1171.0" fill="#c9c9c9"/>
<polygon points="958.4,940.0 957.3,945.0 959.5,945.0" fill="#c9c9c9"/>
<polygon points="958.4,939.5 957.3,934.5 959.5,934.5" fill="#c9c9c9"/>
<line x1="45.0" y1="1176.3" x2="886.6" y2="1176.3" stroke="#3a3a3a" stroke-width="1.00" />
<line x1="886.6" y1="1176.3" x2="966.0" y2="1176.3" stroke="#d4d4d4" stroke-width="0.90" />
<line x1="966.0" y1="1176.3" x2="1074.5" y2="1176.3" stroke="#3a3a3a" stroke-width="1.00" />
<polygon points="440,751 546,744.8 548.5,749 551.5,749 555.5,781 552.5,781 578.5,968 470.5,975.5" fill="#f3f3f3" stroke="#c2c2c2" stroke-width="0.8"/>
<line x1="548.0" y1="744.8" x2="578.5" y2="968.0" stroke="#c8c8c8" stroke-width="0.70" />
<g transform="translate(687.5,830) rotate(-6.6)" fill="none" stroke="#464646" stroke-width="0.8" font-family='"Liberation Sans", sans-serif'>
<rect x="0" y="0" width="175" height="112" rx="15" ry="15" fill="#6f6f6f" fill-opacity="0.10"/>
<path d="M10,50 H166 V77 H10 Z" fill="#555" fill-opacity="0.10" stroke="none"/>
<path d="M12.0,19.0 l1.6,7.0" stroke="#6a6a6a" stroke-width="0.5"/>
<path d="M16.0,20.0 l1.6,8.0" stroke="#6a6a6a" stroke-width="0.5"/>
<path d="M20.0,21.0 l1.6,9.0" stroke="#6a6a6a" stroke-width="0.5"/>
<path d="M24.0,19.0 l1.6,10.0" stroke="#6a6a6a" stroke-width="0.5"/>
<path d="M28.0,20.0 l1.6,7.0" stroke="#6a6a6a" stroke-width="0.5"/>
<path d="M32.0,21.0 l1.6,8.0" stroke="#6a6a6a" stroke-width="0.5"/>
<path d="M36.0,19.0 l1.6,9.0" stroke="#6a6a6a" stroke-width="0.5"/>
<path d="M40.0,20.0 l1.6,10.0" stroke="#6a6a6a" stroke-width="0.5"/>
<path d="M44.0,21.0 l1.6,7.0" stroke="#6a6a6a" stroke-width="0.5"/>
<path d="M48.0,19.0 l1.6,8.0" stroke="#6a6a6a" stroke-width="0.5"/>
<path d="M52.0,20.0 l1.6,9.0" stroke="#6a6a6a" stroke-width="0.5"/>
<path d="M56.0,21.0 l1.6,10.0" stroke="#6a6a6a" stroke-width="0.5"/>
<path d="M60.0,19.0 l1.6,7.0" stroke="#6a6a6a" stroke-width="0.5"/>
<path d="M64.0,20.0 l1.6,8.0" stroke="#6a6a6a" stroke-width="0.5"/>
<path d="M68.0,21.0 l1.6,9.0" stroke="#6a6a6a" stroke-width="0.5"/>
<path d="M72.0,19.0 l1.6,10.0" stroke="#6a6a6a" stroke-width="0.5"/>
<path d="M76.0,20.0 l1.6,7.0" stroke="#6a6a6a" stroke-width="0.5"/>
<path d="M80.0,21.0 l1.6,8.0" stroke="#6a6a6a" stroke-width="0.5"/>
<path d="M84.0,19.0 l1.6,9.0" stroke="#6a6a6a" stroke-width="0.5"/>
<path d="M88.0,20.0 l1.6,10.0" stroke="#6a6a6a" stroke-width="0.5"/>
<path d="M92.0,21.0 l1.6,7.0" stroke="#6a6a6a" stroke-width="0.5"/>
<path d="M96.0,19.0 l1.6,8.0" stroke="#6a6a6a" stroke-width="0.5"/>
<path d="M100.0,20.0 l1.6,9.0" stroke="#6a6a6a" stroke-width="0.5"/>
<path d="M104.0,21.0 l1.6,10.0" stroke="#6a6a6a" stroke-width="0.5"/>
<path d="M108.0,19.0 l1.6,7.0" stroke="#6a6a6a" stroke-width="0.5"/>
<path d="M112.0,20.0 l1.6,8.0" stroke="#6a6a6a" stroke-width="0.5"/>
<path d="M116.0,21.0 l1.6,9.0" stroke="#6a6a6a" stroke-width="0.5"/>
<path d="M120.0,19.0 l1.6,10.0" stroke="#6a6a6a" stroke-width="0.5"/>
<path d="M124.0,20.0 l1.6,7.0" stroke="#6a6a6a" stroke-width="0.5"/>
<path d="M128.0,21.0 l1.6,8.0" stroke="#6a6a6a" stroke-width="0.5"/>
<path d="M132.0,19.0 l1.6,9.0" stroke="#6a6a6a" stroke-width="0.5"/>
<path d="M136.0,20.0 l1.6,10.0" stroke="#6a6a6a" stroke-width="0.5"/>
<path d="M140.0,21.0 l1.6,7.0" stroke="#6a6a6a" stroke-width="0.5"/>
<path d="M144.0,19.0 l1.6,8.0" stroke="#6a6a6a" stroke-width="0.5"/>
<path d="M148.0,20.0 l1.6,9.0" stroke="#6a6a6a" stroke-width="0.5"/>
<path d="M152.0,21.0 l1.6,10.0" stroke="#6a6a6a" stroke-width="0.5"/>
<path d="M156.0,19.0 l1.6,7.0" stroke="#6a6a6a" stroke-width="0.5"/>
<path d="M160.0,20.0 l1.6,8.0" stroke="#6a6a6a" stroke-width="0.5"/>
<path d="M16.0,84.0 l2,8.0" stroke="#777" stroke-width="0.5"/>
<path d="M20.3,85.0 l2,9.0" stroke="#777" stroke-width="0.5"/>
<path d="M24.6,86.0 l2,10.0" stroke="#777" stroke-width="0.5"/>
<path d="M28.9,84.0 l2,11.0" stroke="#777" stroke-width="0.5"/>
<path d="M33.2,85.0 l2,12.0" stroke="#777" stroke-width="0.5"/>
<path d="M37.5,86.0 l2,8.0" stroke="#777" stroke-width="0.5"/>
<path d="M41.8,84.0 l2,9.0" stroke="#777" stroke-width="0.5"/>
<path d="M46.1,85.0 l2,10.0" stroke="#777" stroke-width="0.5"/>
<path d="M50.4,86.0 l2,11.0" stroke="#777" stroke-width="0.5"/>
<path d="M54.7,84.0 l2,12.0" stroke="#777" stroke-width="0.5"/>
<path d="M59.0,85.0 l2,8.0" stroke="#777" stroke-width="0.5"/>
<path d="M63.3,86.0 l2,9.0" stroke="#777" stroke-width="0.5"/>
<path d="M67.6,84.0 l2,10.0" stroke="#777" stroke-width="0.5"/>
<path d="M71.9,85.0 l2,11.0" stroke="#777" stroke-width="0.5"/>
<path d="M76.2,86.0 l2,12.0" stroke="#777" stroke-width="0.5"/>
<path d="M80.5,84.0 l2,8.0" stroke="#777" stroke-width="0.5"/>
<path d="M84.8,85.0 l2,9.0" stroke="#777" stroke-width="0.5"/>
<path d="M89.1,86.0 l2,10.0" stroke="#777" stroke-width="0.5"/>
<path d="M93.4,84.0 l2,11.0" stroke="#777" stroke-width="0.5"/>
<path d="M97.7,85.0 l2,12.0" stroke="#777" stroke-width="0.5"/>
<path d="M102.0,86.0 l2,8.0" stroke="#777" stroke-width="0.5"/>
<path d="M106.3,84.0 l2,9.0" stroke="#777" stroke-width="0.5"/>
<path d="M110.6,85.0 l2,10.0" stroke="#777" stroke-width="0.5"/>
<path d="M114.9,86.0 l2,11.0" stroke="#777" stroke-width="0.5"/>
<path d="M119.2,84.0 l2,12.0" stroke="#777" stroke-width="0.5"/>
<path d="M123.5,85.0 l2,8.0" stroke="#777" stroke-width="0.5"/>
<path d="M127.8,86.0 l2,9.0" stroke="#777" stroke-width="0.5"/>
<path d="M132.1,84.0 l2,10.0" stroke="#777" stroke-width="0.5"/>
<path d="M136.4,85.0 l2,11.0" stroke="#777" stroke-width="0.5"/>
<path d="M140.7,86.0 l2,12.0" stroke="#777" stroke-width="0.5"/>
<path d="M145.0,84.0 l2,8.0" stroke="#777" stroke-width="0.5"/>
<path d="M149.3,85.0 l2,9.0" stroke="#777" stroke-width="0.5"/>
<path d="M153.6,86.0 l2,10.0" stroke="#777" stroke-width="0.5"/>
<path d="M157.9,84.0 l2,11.0" stroke="#777" stroke-width="0.5"/>
<rect x="3.5" y="3.5" width="168" height="105" rx="12" ry="12" stroke="#777"/>
<rect x="6" y="1.5" width="166" height="109" rx="14" ry="14" stroke="#9a9a9a" stroke-width="0.5"/>
<path d="M12,9 H160 M10,14.5 H163 M9,18 H164 M8,29.5 H166 M8,40.5 H166 M6,45 H168 M6,49 H168 M8,78 H166 M10,82 H164 M14,100 H160" stroke="#5a5a5a"/>
<path d="M22,18 V29.5 M150,18 V40 M156,14 V46 M18,30 V40" stroke="#666"/>
<text x="20" y="27" font-size="6.6" fill="#3a3a3a" stroke="none" textLength="122" lengthAdjust="spacingAndGlyphs" font-weight="bold">THREE  DIESEL GENERATORS</text>
<text x="30" y="38.5" font-size="7" fill="#2e2e2e" stroke="none" textLength="124" lengthAdjust="spacingAndGlyphs" font-weight="bold">ELECTRIC START 3600 5KVA</text>
<rect x="18" y="52" width="15" height="25" rx="1.5" stroke="#3c3c3c" stroke-width="0.8"/>
<rect x="20.5" y="56.0" width="10.0" height="16.0" stroke="#6a6a6a" stroke-width="0.6"/>
<rect x="36" y="53" width="14" height="23" rx="1.5" stroke="#3c3c3c" stroke-width="0.8"/>
<rect x="38.5" y="57.0" width="9.0" height="14.0" stroke="#6a6a6a" stroke-width="0.6"/>
<rect x="52" y="53" width="14" height="23" rx="1.5" stroke="#3c3c3c" stroke-width="0.8"/>
<rect x="54.5" y="57.0" width="9.0" height="14.0" stroke="#6a6a6a" stroke-width="0.6"/>
<rect x="68" y="53" width="14" height="23" rx="1.5" stroke="#3c3c3c" stroke-width="0.8"/>
<rect x="70.5" y="57.0" width="9.0" height="14.0" stroke="#6a6a6a" stroke-width="0.6"/>
<rect x="86" y="54" width="22" height="19" rx="1.5" stroke="#3c3c3c" stroke-width="0.8"/>
<rect x="88.5" y="58.0" width="17.0" height="10.0" stroke="#6a6a6a" stroke-width="0.6"/>
<rect x="113" y="55" width="15" height="17" rx="1.5" stroke="#3c3c3c" stroke-width="0.8"/>
<rect x="115.5" y="59.0" width="10.0" height="8.0" stroke="#6a6a6a" stroke-width="0.6"/>
<rect x="132" y="50" width="13" height="27" rx="1.5" stroke="#3c3c3c" stroke-width="0.8"/>
<rect x="134.5" y="54.0" width="8.0" height="18.0" stroke="#6a6a6a" stroke-width="0.6"/>
<rect x="148" y="52" width="14" height="23" rx="1.5" stroke="#3c3c3c" stroke-width="0.8"/>
<rect x="150.5" y="56.0" width="9.0" height="14.0" stroke="#6a6a6a" stroke-width="0.6"/>
<path d="M21,58 h9 M21,62 h9 M21,66 h9 M21,70 h6" stroke="#333" stroke-width="0.9"/>
<ellipse cx="43" cy="64.5" rx="4" ry="8" stroke="#444"/><path d="M43,58 v13" stroke="#555"/>
<ellipse cx="59" cy="64.5" rx="4" ry="8" stroke="#444"/><path d="M59,58 v13" stroke="#555"/>
<ellipse cx="75" cy="64.5" rx="4" ry="8" stroke="#444"/><path d="M75,58 v13" stroke="#555"/>
<path d="M89,60 l3,3 l3,-3 M99,60 l3,3 l3,-3 M88,57 h18 M88,69 h18" stroke="#333" stroke-width="0.9"/>
<path d="M117,60 v8 h6 v-8 M117,64 h6" stroke="#2e2e2e" stroke-width="1.1"/>
<circle cx="138.5" cy="64" r="5"/><circle cx="138.5" cy="64" r="2.4"/><circle cx="155" cy="62" r="4.2"/><path d="M151,70 h8"/>
<path d="M20,86 h14 v8 h-14 Z M38,84 v12 M42,84 v12 M46,84 v12 M50,86 h8 v6 h-8 Z M64,88 h30 M64,92 h26 M100,84 h16 v7 h-16 Z M120,86 l6,8 M124,86 l6,8 M134,84 h18 v12 h-18 Z" stroke="#5c5c5c"/>
<path d="M104,87 h8 M137,88 l3,3 l3,-3 l3,3 M22,89 h10" stroke="#3a3a3a" stroke-width="0.9"/>
<path d="M60,101 l4,9 h14 l3,-9 M128,100 l5,10 h14 l4,-10 M66,104 h10 M134,104 h10 M70,96 l8,2 M90,97 h20" stroke="#666"/>
<path d="M160,6 C168,20 170,40 170,58 C170,76 168,92 162,106 M165,4 C172,22 174,40 174,58" stroke="#666"/>
<path d="M146,6 l2,10 M150,5 l2,11 M158,20 l4,1 l-1,6" stroke="#555"/>
<path d="M4,30 C1,45 1,70 5,88 M8,84 C10,96 16,104 26,108" stroke="#777"/>
</g>
<g filter="url(#blur1)" opacity="0.9">
<circle cx="424.4" cy="711.0" r="3.4" fill="#ff7f7f"/>
<line x1="419.2" y1="707.6" x2="429.6" y2="714.4" stroke="#ff7f7f" stroke-width="1.5"/>
<line x1="422.6" y1="706.3" x2="426.2" y2="715.7" stroke="#ff7f7f" stroke-width="1.5"/>
<line x1="426.0" y1="705.0" x2="422.8" y2="717.0" stroke="#ff7f7f" stroke-width="1.5"/>
<line x1="428.3" y1="707.9" x2="420.5" y2="714.1" stroke="#ff7f7f" stroke-width="1.5"/>
<line x1="430.6" y1="710.7" x2="418.2" y2="711.3" stroke="#ff7f7f" stroke-width="1.5"/>
<circle cx="456.3" cy="714.7" r="3.4" fill="#e3f05a"/>
<line x1="450.5" y1="712.5" x2="462.1" y2="716.9" stroke="#e3f05a" stroke-width="1.5"/>
<line x1="453.5" y1="710.5" x2="459.1" y2="718.9" stroke="#e3f05a" stroke-width="1.5"/>
<line x1="456.6" y1="708.5" x2="456.0" y2="720.9" stroke="#e3f05a" stroke-width="1.5"/>
<line x1="459.4" y1="710.8" x2="453.2" y2="718.6" stroke="#e3f05a" stroke-width="1.5"/>
<line x1="462.3" y1="713.1" x2="450.3" y2="716.3" stroke="#e3f05a" stroke-width="1.5"/>
<circle cx="481.6" cy="715.6" r="3.0" fill="#e58af2"/>
<line x1="476.6" y1="712.0" x2="486.6" y2="719.2" stroke="#e58af2" stroke-width="1.5"/>
<line x1="480.0" y1="710.9" x2="483.2" y2="720.3" stroke="#e58af2" stroke-width="1.5"/>
<line x1="483.5" y1="709.7" x2="479.7" y2="721.5" stroke="#e58af2" stroke-width="1.5"/>
<line x1="485.6" y1="712.6" x2="477.6" y2="718.6" stroke="#e58af2" stroke-width="1.5"/>
<line x1="487.8" y1="715.5" x2="475.4" y2="715.7" stroke="#e58af2" stroke-width="1.5"/>
<circle cx="495.6" cy="695.0" r="3.4" fill="#e3f05a"/>
<line x1="489.9" y1="692.5" x2="501.3" y2="697.5" stroke="#e3f05a" stroke-width="1.5"/>
<line x1="493.1" y1="690.7" x2="498.1" y2="699.3" stroke="#e3f05a" stroke-width="1.5"/>
<line x1="496.3" y1="688.8" x2="494.9" y2="701.2" stroke="#e3f05a" stroke-width="1.5"/>
<line x1="498.9" y1="691.3" x2="492.3" y2="698.7" stroke="#e3f05a" stroke-width="1.5"/>
<line x1="501.7" y1="693.7" x2="489.5" y2="696.3" stroke="#e3f05a" stroke-width="1.5"/>
<circle cx="521.9" cy="722.2" r="3.4" fill="#86ee83"/>
<line x1="517.9" y1="717.4" x2="525.9" y2="727.0" stroke="#86ee83" stroke-width="1.5"/>
<line x1="521.6" y1="717.2" x2="522.2" y2="727.2" stroke="#86ee83" stroke-width="1.5"/>
<line x1="525.2" y1="717.0" x2="518.6" y2="727.4" stroke="#86ee83" stroke-width="1.5"/>
<line x1="526.5" y1="720.4" x2="517.3" y2="724.0" stroke="#86ee83" stroke-width="1.5"/>
<line x1="527.9" y1="723.7" x2="515.9" y2="720.7" stroke="#86ee83" stroke-width="1.5"/>
<circle cx="563.0" cy="711.0" r="3.4" fill="#ff7f7f"/>
<line x1="558.3" y1="707.0" x2="567.7" y2="715.0" stroke="#ff7f7f" stroke-width="1.5"/>
<line x1="561.8" y1="706.1" x2="564.2" y2="715.9" stroke="#ff7f7f" stroke-width="1.5"/>
<line x1="565.3" y1="705.3" x2="560.7" y2="716.7" stroke="#ff7f7f" stroke-width="1.5"/>
<line x1="567.2" y1="708.4" x2="558.8" y2="713.6" stroke="#ff7f7f" stroke-width="1.5"/>
<line x1="569.2" y1="711.4" x2="556.8" y2="710.6" stroke="#ff7f7f" stroke-width="1.5"/>
<circle cx="611.0" cy="734.4" r="3.4" fill="#e3f05a"/>
<line x1="606.3" y1="730.4" x2="615.7" y2="738.4" stroke="#e3f05a" stroke-width="1.5"/>
<line x1="609.8" y1="729.5" x2="612.2" y2="739.3" stroke="#e3f05a" stroke-width="1.5"/>
<line x1="613.3" y1="728.7" x2="608.7" y2="740.1" stroke="#e3f05a" stroke-width="1.5"/>
<line x1="615.2" y1="731.8" x2="606.8" y2="737.0" stroke="#e3f05a" stroke-width="1.5"/>
<line x1="617.2" y1="734.8" x2="604.8" y2="734.0" stroke="#e3f05a" stroke-width="1.5"/>
<circle cx="643.8" cy="714.7" r="3.4" fill="#ff7f7f"/>
<line x1="638.9" y1="710.9" x2="648.7" y2="718.5" stroke="#ff7f7f" stroke-width="1.5"/>
<line x1="642.4" y1="709.9" x2="645.2" y2="719.5" stroke="#ff7f7f" stroke-width="1.5"/>
<line x1="645.9" y1="708.9" x2="641.7" y2="720.5" stroke="#ff7f7f" stroke-width="1.5"/>
<line x1="647.9" y1="711.9" x2="639.7" y2="717.5" stroke="#ff7f7f" stroke-width="1.5"/>
<line x1="650.0" y1="714.9" x2="637.6" y2="714.5" stroke="#ff7f7f" stroke-width="1.5"/>
<circle cx="666.3" cy="722.2" r="3.4" fill="#86ee83"/>
<line x1="660.5" y1="720.0" x2="672.1" y2="724.4" stroke="#86ee83" stroke-width="1.5"/>
<line x1="663.5" y1="718.0" x2="669.1" y2="726.4" stroke="#86ee83" stroke-width="1.5"/>
<line x1="666.6" y1="716.0" x2="666.0" y2="728.4" stroke="#86ee83" stroke-width="1.5"/>
<line x1="669.4" y1="718.3" x2="663.2" y2="726.1" stroke="#86ee83" stroke-width="1.5"/>
<line x1="672.3" y1="720.6" x2="660.3" y2="723.8" stroke="#86ee83" stroke-width="1.5"/>
<circle cx="722.5" cy="728.3" r="3.4" fill="#86ee83"/>
<line x1="718.2" y1="723.9" x2="726.8" y2="732.7" stroke="#86ee83" stroke-width="1.5"/>
<line x1="721.8" y1="723.4" x2="723.2" y2="733.2" stroke="#86ee83" stroke-width="1.5"/>
<line x1="725.4" y1="722.8" x2="719.6" y2="733.8" stroke="#86ee83" stroke-width="1.5"/>
<line x1="727.0" y1="726.1" x2="718.0" y2="730.5" stroke="#86ee83" stroke-width="1.5"/>
<line x1="728.6" y1="729.4" x2="716.4" y2="727.2" stroke="#86ee83" stroke-width="1.5"/>
<circle cx="732.8" cy="749.4" r="3.4" fill="#ff7f7f"/>
<line x1="727.2" y1="746.6" x2="738.4" y2="752.2" stroke="#ff7f7f" stroke-width="1.5"/>
<line x1="730.5" y1="745.0" x2="735.1" y2="753.8" stroke="#ff7f7f" stroke-width="1.5"/>
<line x1="733.7" y1="743.3" x2="731.9" y2="755.5" stroke="#ff7f7f" stroke-width="1.5"/>
<line x1="736.3" y1="745.8" x2="729.3" y2="753.0" stroke="#ff7f7f" stroke-width="1.5"/>
<line x1="738.9" y1="748.4" x2="726.7" y2="750.4" stroke="#ff7f7f" stroke-width="1.5"/>
<circle cx="412.2" cy="837.5" r="3.4" fill="#ff7f7f"/>
<line x1="406.9" y1="834.3" x2="417.5" y2="840.7" stroke="#ff7f7f" stroke-width="1.5"/>
<line x1="410.2" y1="832.9" x2="414.2" y2="842.1" stroke="#ff7f7f" stroke-width="1.5"/>
<line x1="413.6" y1="831.5" x2="410.8" y2="843.5" stroke="#ff7f7f" stroke-width="1.5"/>
<line x1="416.0" y1="834.2" x2="408.4" y2="840.8" stroke="#ff7f7f" stroke-width="1.5"/>
<line x1="418.4" y1="837.0" x2="406.0" y2="838.0" stroke="#ff7f7f" stroke-width="1.5"/>
<circle cx="412.2" cy="886.6" r="3.4" fill="#86ee83"/>
<line x1="406.9" y1="883.4" x2="417.5" y2="889.8" stroke="#86ee83" stroke-width="1.5"/>
<line x1="410.2" y1="882.0" x2="414.2" y2="891.2" stroke="#86ee83" stroke-width="1.5"/>
<line x1="413.6" y1="880.6" x2="410.8" y2="892.6" stroke="#86ee83" stroke-width="1.5"/>
<line x1="416.0" y1="883.3" x2="408.4" y2="889.9" stroke="#86ee83" stroke-width="1.5"/>
<line x1="418.4" y1="886.1" x2="406.0" y2="887.1" stroke="#86ee83" stroke-width="1.5"/>
<circle cx="437.5" cy="905.3" r="3.4" fill="#e3f05a"/>
<line x1="433.2" y1="900.9" x2="441.8" y2="909.7" stroke="#e3f05a" stroke-width="1.5"/>
<line x1="436.8" y1="900.4" x2="438.2" y2="910.2" stroke="#e3f05a" stroke-width="1.5"/>
<line x1="440.4" y1="899.8" x2="434.6" y2="910.8" stroke="#e3f05a" stroke-width="1.5"/>
<line x1="442.0" y1="903.1" x2="433.0" y2="907.5" stroke="#e3f05a" stroke-width="1.5"/>
<line x1="443.6" y1="906.4" x2="431.4" y2="904.2" stroke="#e3f05a" stroke-width="1.5"/>
<circle cx="428.0" cy="936.3" r="3.4" fill="#ff7f7f"/>
<line x1="423.3" y1="932.3" x2="432.7" y2="940.3" stroke="#ff7f7f" stroke-width="1.5"/>
<line x1="426.8" y1="931.4" x2="429.2" y2="941.2" stroke="#ff7f7f" stroke-width="1.5"/>
<line x1="430.3" y1="930.6" x2="425.7" y2="942.0" stroke="#ff7f7f" stroke-width="1.5"/>
<line x1="432.2" y1="933.7" x2="423.8" y2="938.9" stroke="#ff7f7f" stroke-width="1.5"/>
<line x1="434.2" y1="936.7" x2="421.8" y2="935.9" stroke="#ff7f7f" stroke-width="1.5"/>
<circle cx="510.6" cy="977.5" r="3.4" fill="#e3f05a"/>
<line x1="504.9" y1="975.0" x2="516.3" y2="980.0" stroke="#e3f05a" stroke-width="1.5"/>
<line x1="508.1" y1="973.2" x2="513.1" y2="981.8" stroke="#e3f05a" stroke-width="1.5"/>
<line x1="511.3" y1="971.3" x2="509.9" y2="983.7" stroke="#e3f05a" stroke-width="1.5"/>
<line x1="513.9" y1="973.8" x2="507.3" y2="981.2" stroke="#e3f05a" stroke-width="1.5"/>
<line x1="516.7" y1="976.2" x2="504.5" y2="978.8" stroke="#e3f05a" stroke-width="1.5"/>
<circle cx="551.9" cy="981.3" r="3.0" fill="#e58af2"/>
<line x1="547.9" y1="976.5" x2="555.9" y2="986.1" stroke="#e58af2" stroke-width="1.5"/>
<line x1="551.6" y1="976.3" x2="552.2" y2="986.3" stroke="#e58af2" stroke-width="1.5"/>
<line x1="555.2" y1="976.1" x2="548.6" y2="986.5" stroke="#e58af2" stroke-width="1.5"/>
<line x1="556.5" y1="979.5" x2="547.3" y2="983.1" stroke="#e58af2" stroke-width="1.5"/>
<line x1="557.9" y1="982.8" x2="545.9" y2="979.8" stroke="#e58af2" stroke-width="1.5"/>
<circle cx="570.6" cy="990.6" r="3.4" fill="#ff7f7f"/>
<line x1="564.9" y1="988.1" x2="576.3" y2="993.1" stroke="#ff7f7f" stroke-width="1.5"/>
<line x1="568.1" y1="986.3" x2="573.1" y2="994.9" stroke="#ff7f7f" stroke-width="1.5"/>
<line x1="571.3" y1="984.4" x2="569.9" y2="996.8" stroke="#ff7f7f" stroke-width="1.5"/>
<line x1="573.9" y1="986.9" x2="567.3" y2="994.3" stroke="#ff7f7f" stroke-width="1.5"/>
<line x1="576.7" y1="989.3" x2="564.5" y2="991.9" stroke="#ff7f7f" stroke-width="1.5"/>
<circle cx="485.3" cy="998.0" r="3.4" fill="#ff7f7f"/>
<line x1="480.8" y1="993.7" x2="489.8" y2="1002.3" stroke="#ff7f7f" stroke-width="1.5"/>
<line x1="484.4" y1="993.1" x2="486.2" y2="1002.9" stroke="#ff7f7f" stroke-width="1.5"/>
<line x1="488.0" y1="992.4" x2="482.6" y2="1003.6" stroke="#ff7f7f" stroke-width="1.5"/>
<line x1="489.7" y1="995.6" x2="480.9" y2="1000.4" stroke="#ff7f7f" stroke-width="1.5"/>
<line x1="491.4" y1="998.8" x2="479.2" y2="997.2" stroke="#ff7f7f" stroke-width="1.5"/>
<circle cx="532.2" cy="996.3" r="3.4" fill="#86ee83"/>
<line x1="526.9" y1="993.1" x2="537.5" y2="999.5" stroke="#86ee83" stroke-width="1.5"/>
<line x1="530.2" y1="991.7" x2="534.2" y2="1000.9" stroke="#86ee83" stroke-width="1.5"/>
<line x1="533.6" y1="990.3" x2="530.8" y2="1002.3" stroke="#86ee83" stroke-width="1.5"/>
<line x1="536.0" y1="993.0" x2="528.4" y2="999.6" stroke="#86ee83" stroke-width="1.5"/>
<line x1="538.4" y1="995.8" x2="526.0" y2="996.8" stroke="#86ee83" stroke-width="1.5"/>
<circle cx="605.3" cy="1009.4" r="3.4" fill="#e3f05a"/>
<line x1="600.8" y1="1005.1" x2="609.8" y2="1013.7" stroke="#e3f05a" stroke-width="1.5"/>
<line x1="604.4" y1="1004.5" x2="606.2" y2="1014.3" stroke="#e3f05a" stroke-width="1.5"/>
<line x1="608.0" y1="1003.8" x2="602.6" y2="1015.0" stroke="#e3f05a" stroke-width="1.5"/>
<line x1="609.7" y1="1007.0" x2="600.9" y2="1011.8" stroke="#e3f05a" stroke-width="1.5"/>
<line x1="611.4" y1="1010.2" x2="599.2" y2="1008.6" stroke="#e3f05a" stroke-width="1.5"/>
<circle cx="592.2" cy="1026.3" r="3.4" fill="#ff7f7f"/>
<line x1="586.9" y1="1023.1" x2="597.5" y2="1029.5" stroke="#ff7f7f" stroke-width="1.5"/>
<line x1="590.2" y1="1021.7" x2="594.2" y2="1030.9" stroke="#ff7f7f" stroke-width="1.5"/>
<line x1="593.6" y1="1020.3" x2="590.8" y2="1032.3" stroke="#ff7f7f" stroke-width="1.5"/>
<line x1="596.0" y1="1023.0" x2="588.4" y2="1029.6" stroke="#ff7f7f" stroke-width="1.5"/>
<line x1="598.4" y1="1025.8" x2="586.0" y2="1026.8" stroke="#ff7f7f" stroke-width="1.5"/>
</g>
<rect x="776.5" y="717" width="123.8" height="41.4" fill="#fff" stroke="#141414" stroke-width="0.95"/>
<rect x="900.8" y="730.5" width="3.2" height="17" fill="#3a3a3a"/>
<line x1="770.0" y1="758.6" x2="896.0" y2="758.6" stroke="#141414" stroke-width="1.05" />
<line x1="770.0" y1="760.6" x2="895.5" y2="760.6" stroke="#141414" stroke-width="1.05" />
<line x1="370.0" y1="695.0" x2="903.4" y2="754.4" stroke="#141414" stroke-width="1.05" />
<line x1="370.6" y1="697.9" x2="903.2" y2="757.2" stroke="#141414" stroke-width="1.05" />
<line x1="400.0" y1="699.8" x2="472.0" y2="977.3" stroke="#141414" stroke-width="1.15" />
<line x1="415.6" y1="701.6" x2="484.9" y2="976.1" stroke="#141414" stroke-width="1.15" />
<line x1="431.1" y1="703.3" x2="497.7" y2="975.0" stroke="#141414" stroke-width="1.15" />
<line x1="446.7" y1="705.1" x2="510.6" y2="973.8" stroke="#141414" stroke-width="1.15" />
<line x1="462.3" y1="706.8" x2="523.5" y2="972.7" stroke="#141414" stroke-width="1.15" />
<line x1="477.9" y1="708.5" x2="536.3" y2="971.5" stroke="#141414" stroke-width="1.15" />
<line x1="493.4" y1="710.3" x2="549.2" y2="970.4" stroke="#141414" stroke-width="1.15" />
<line x1="509.0" y1="712.0" x2="562.1" y2="969.2" stroke="#141414" stroke-width="1.15" />
<line x1="524.6" y1="713.7" x2="574.9" y2="968.0" stroke="#141414" stroke-width="1.15" />
<line x1="540.1" y1="715.5" x2="587.8" y2="966.9" stroke="#141414" stroke-width="1.15" />
<line x1="555.7" y1="717.2" x2="600.7" y2="965.7" stroke="#141414" stroke-width="1.15" />
<line x1="571.3" y1="718.9" x2="613.5" y2="964.6" stroke="#141414" stroke-width="1.15" />
<line x1="586.8" y1="720.7" x2="626.4" y2="963.4" stroke="#141414" stroke-width="1.15" />
<line x1="602.4" y1="722.4" x2="639.3" y2="962.3" stroke="#141414" stroke-width="1.15" />
<line x1="618.0" y1="724.1" x2="652.1" y2="961.1" stroke="#141414" stroke-width="1.15" />
<line x1="633.5" y1="725.9" x2="665.0" y2="960.0" stroke="#141414" stroke-width="1.15" />
<line x1="649.1" y1="727.6" x2="677.9" y2="958.8" stroke="#141414" stroke-width="1.15" />
<line x1="664.7" y1="729.4" x2="690.7" y2="957.6" stroke="#141414" stroke-width="1.15" />
<line x1="680.3" y1="731.1" x2="703.6" y2="956.5" stroke="#141414" stroke-width="1.15" />
<line x1="695.8" y1="732.8" x2="716.4" y2="955.3" stroke="#141414" stroke-width="1.15" />
<line x1="711.4" y1="734.6" x2="729.3" y2="954.2" stroke="#141414" stroke-width="1.15" />
<line x1="727.0" y1="736.3" x2="742.2" y2="953.0" stroke="#141414" stroke-width="1.15" />
<line x1="742.5" y1="738.0" x2="755.0" y2="951.9" stroke="#141414" stroke-width="1.15" />
<line x1="758.1" y1="739.8" x2="767.9" y2="950.7" stroke="#141414" stroke-width="1.15" />
<line x1="773.7" y1="741.5" x2="780.8" y2="949.5" stroke="#141414" stroke-width="1.15" />
<line x1="789.2" y1="743.2" x2="793.6" y2="948.4" stroke="#141414" stroke-width="1.15" />
<line x1="804.8" y1="745.0" x2="806.5" y2="947.2" stroke="#141414" stroke-width="1.15" />
<line x1="820.4" y1="746.7" x2="819.4" y2="946.1" stroke="#141414" stroke-width="1.15" />
<line x1="836.0" y1="748.5" x2="832.2" y2="944.9" stroke="#141414" stroke-width="1.15" />
<line x1="851.5" y1="750.2" x2="845.1" y2="943.8" stroke="#141414" stroke-width="1.15" />
<line x1="867.1" y1="751.9" x2="858.0" y2="942.6" stroke="#141414" stroke-width="1.15" />
<line x1="882.7" y1="753.7" x2="870.8" y2="941.5" stroke="#141414" stroke-width="1.15" />
<line x1="898.2" y1="755.4" x2="883.7" y2="940.3" stroke="#141414" stroke-width="1.15" />
<line x1="394.3" y1="785.1" x2="895.3" y2="808.3" stroke="#141414" stroke-width="1.00" />
<line x1="394.5" y1="782.9" x2="895.5" y2="806.1" stroke="#141414" stroke-width="1.00" />
<line x1="419.7" y1="870.8" x2="891.3" y2="859.9" stroke="#141414" stroke-width="1.00" />
<line x1="419.7" y1="868.6" x2="891.3" y2="857.7" stroke="#141414" stroke-width="1.00" />
<line x1="442.1" y1="949.5" x2="886.7" y2="910.5" stroke="#141414" stroke-width="1.00" />
<line x1="441.9" y1="947.3" x2="886.5" y2="908.3" stroke="#141414" stroke-width="1.00" />
<line x1="446.1" y1="963.6" x2="884.8" y2="925.5" stroke="#141414" stroke-width="1.00" />
<line x1="445.9" y1="961.4" x2="884.6" y2="923.3" stroke="#141414" stroke-width="1.00" />
<line x1="468.0" y1="977.6" x2="883.7" y2="940.3" stroke="#141414" stroke-width="1.05" />
<line x1="903.2" y1="757.0" x2="885.0" y2="940.3" stroke="#141414" stroke-width="1.05" />
<line x1="900.3" y1="757.0" x2="882.4" y2="940.3" stroke="#141414" stroke-width="1.05" />
<path d="M311.9,626.5 L379.4,652 Q385,655 386.5,662 L413,794.5 M306.3,649.6 L354,666.2 Q359.5,668.5 361.5,675 L446.5,979.5 M311.9,626.5 A12.3,12.3 0 0 0 306.3,649.6" stroke="#141414" stroke-width="1.05" fill="none" />
<path d="M314.7,631.8 L374,654.2 Q380,657 381.6,663 L408.3,794.5 L413,794.5 M311,644.6 L356,660.4 Q364,663.5 366,671 L450.3,979.5 M314.7,631.8 A6.8,6.8 0 0 0 311,644.6" stroke="#141414" stroke-width="1.05" fill="none" />
<line x1="349.4" y1="642.8" x2="344.7" y2="654.2" stroke="#141414" stroke-width="1.05" />
<path d="M366.3,645.8 V658 A7.4,7.4 0 0 0 381.1,658 V645.8" stroke="#141414" stroke-width="0.90" fill="none" />
<path d="M366,643 H715 Q717.6,644.2 715,645.6 H366" stroke="#141414" stroke-width="1.05" fill="none" />
<rect x="366.2" y="614" width="151.6" height="28.8" fill="#fff" stroke="#3c3c3c" stroke-width="0.9"/>
<rect x="411.3" y="609.6" width="65.6" height="4.4" fill="#fff" stroke="#9a9a9a" stroke-width="0.7"/>
<line x1="430.0" y1="609.6" x2="430.0" y2="614.0" stroke="#aaa" stroke-width="0.60" />
<line x1="458.0" y1="609.6" x2="458.0" y2="614.0" stroke="#aaa" stroke-width="0.60" />
<line x1="518.0" y1="641.2" x2="540.0" y2="641.2" stroke="#777" stroke-width="0.60" />
<path d="M533.4,631.5 Q536,640.5 549,641.4 L683,641.6 Q695,641 696.5,633.5 L692,627 Q640,625.5 560,628.6 Q541,629.5 533.4,631.5 Z" stroke="#4a4a4a" stroke-width="0.75" fill="#fff" />
<path d="M536,634.5 Q600,631 690,632.8 M545,638.8 L684,639.4 M560,630.5 L655,628.6" stroke="#8a8a8a" stroke-width="0.55" fill="none" />
<rect x="633.0" y="633" width="8" height="3.4" rx="0.8" fill="none" stroke="#555" stroke-width="0.6"/>
<rect x="648.0" y="633" width="8" height="3.4" rx="0.8" fill="none" stroke="#555" stroke-width="0.6"/>
<rect x="660.0" y="633" width="8" height="3.4" rx="0.8" fill="none" stroke="#555" stroke-width="0.6"/>
<path d="M600,636.2 h24 M566,637 h20" stroke="#999" stroke-width="0.50" fill="none" />
<path d="M677.6,623.5 L719.8,481.5 L721.6,479.6 L723.4,484.5 L697.5,623 M681.5,623 L721,487 M686.5,612 L716,500 M677.6,623.5 L683,629 L692,628.5 L697.5,623 M690,624 L700,610" stroke="#4a4a4a" stroke-width="0.75" fill="none" />
<path d="M694,620 L721.5,489" stroke="#8a8a8a" stroke-width="0.60" fill="none" />
<line x1="858.6" y1="687" x2="883.2" y2="685.4" stroke="#1e1e1e" stroke-width="3.6" stroke-linecap="round"/>
<path d="M868.8,696 Q871,705 874.6,715.6 M870.2,696 Q872.4,705 875.6,714" stroke="#c9c9c9" stroke-width="0.80" fill="none" />
<line x1="866.0" y1="717.0" x2="880.0" y2="716.4" stroke="#d0d0d0" stroke-width="0.70" />
<path d="M462.0,979.2 L523.8,977.2 L789.0,1102.2 L834,1102.2" stroke="#141414" stroke-width="1.05" fill="none" />
<path d="M462.0,985.0 L523.8,983.0 L786.5,1106.6 L834,1106.6" stroke="#141414" stroke-width="1.05" fill="none" />
<path d="M466,991.6 L523.8,989.7 L626,1037.8 L640,1041.5 L656,1052 L780.6,1109.8 L834,1109.8" stroke="#141414" stroke-width="1.05" fill="none" />
<path d="M470,997.2 L522,995.4 L622,1042.4 L637,1046.4 L652,1056.4 L778,1114 L834,1114" stroke="#141414" stroke-width="1.05" fill="none" />
<path d="M834,1102.2 A2.2,2.2 0 0 1 834,1106.6 M834,1109.8 A2.1,2.1 0 0 1 834,1114" stroke="#141414" stroke-width="0.90" fill="none" />
<line x1="805.5" y1="1106.6" x2="805.5" y2="1109.8" stroke="#141414" stroke-width="0.80" />
<line x1="811.5" y1="1106.6" x2="811.5" y2="1109.8" stroke="#141414" stroke-width="0.80" />
<line x1="817.5" y1="1106.6" x2="817.5" y2="1109.8" stroke="#141414" stroke-width="0.80" />
<line x1="823.5" y1="1106.6" x2="823.5" y2="1109.8" stroke="#141414" stroke-width="0.80" />
<path d="M446.5,979.5 L449.7,980.3 L462,979.2 M446,985 L448.8,1018.8 M451.6,990.6 L454.4,1020.6" stroke="#141414" stroke-width="1.05" fill="none" />
<path d="M460,981 L445,1000 L360.6,1069.4 V1082.5" stroke="#141414" stroke-width="1.05" fill="none" />
<path d="M465,985 L450,1003.5 L365.4,1073 V1082.5" stroke="#141414" stroke-width="1.05" fill="none" />
<path d="M467,991.4 L454.4,1005.6 L384,1069.4 V1082.5" stroke="#141414" stroke-width="1.05" fill="none" />
<path d="M471,996.5 L458.5,1009 L388.8,1073 V1082.5" stroke="#141414" stroke-width="1.05" fill="none" />
<path d="M455.3,1018.8 L402.8,1109.7 M448.8,1024.4 L397,1103" stroke="#141414" stroke-width="1.05" fill="none" />
<path d="M400,1082.5 H348.4 A13.6,13.6 0 0 0 348.4,1109.7 H387.8" stroke="#141414" stroke-width="1.05" fill="none" />
<path d="M396,1088 H350.3 A8,8 0 0 0 350.3,1104 H386" stroke="#141414" stroke-width="1.05" fill="none" />
<path d="M352.2,1109.7 V1127.5 H392.5 L403,1117.5 V1110.6 M352.2,1118.2 H389.5 L392.5,1127.5 M389.5,1118.2 L386.5,1109.7 M386,1104 L389.5,1118.2" stroke="#141414" stroke-width="0.90" fill="none" />
<path d="M282.8,1026.3 H304.4 L401,1103.6 L403.6,1106.6 L398.5,1111.6 L394,1108 L302,1031 H282.8 Z" stroke="#141414" stroke-width="1.05" fill="none" />
<path d="M394,1108 L399,1103" stroke="#141414" stroke-width="0.80" fill="none" />
<path d="M301.6,1007.5 L313.8,1033.8 M304.6,1006.4 L316.6,1031.6 M301.6,1007.5 L304.6,1006.4" stroke="#141414" stroke-width="1.05" fill="none" />
<path d="M314.7,1031 L430,1006.6 M316,1034.6 L428,1010.6" stroke="#141414" stroke-width="1.05" fill="none" />
<path d="M362.5,1027 L366,1031.6 L378,1032.6 Q384.5,1030 383,1024 Q380,1019.6 374.5,1023.5 Q372,1026.5 377,1027.5" stroke="#141414" stroke-width="0.90" fill="none" />
<circle cx="360.6" cy="1152.2" r="24" fill="#fff" stroke="#141414" stroke-width="0.95"/>
<circle cx="360.6" cy="1152.2" r="20.8" fill="none" stroke="#141414" stroke-width="1.0"/>
<circle cx="820.4" cy="1152.2" r="24" fill="#fff" stroke="#141414" stroke-width="0.95"/>
<circle cx="820.4" cy="1152.2" r="20.8" fill="none" stroke="#141414" stroke-width="1.0"/>
<path d="M365.3,1128.4 H374.7 L373.8,1142.5 L364.4,1151.9 L355.9,1154.7 L355,1147.2 L364.4,1136.9 Z" stroke="#141414" stroke-width="0.90" fill="#fff" />
<circle cx="360.4" cy="1152" r="1.7" fill="none" stroke="#141414" stroke-width="0.8"/>
<path d="M793.8,1113.6 V1127.9 H828.4 V1113.6 M793.8,1119.2 H828.4" stroke="#141414" stroke-width="0.90" fill="none" />
<path d="M806,1128.4 H815.3 L816.3,1138.8 L825.3,1148.1 V1155.3 H816.6 L816.3,1150 L807.3,1142.5 Z" stroke="#141414" stroke-width="0.90" fill="#fff" />
<circle cx="820.4" cy="1152" r="1.7" fill="none" stroke="#141414" stroke-width="0.8"/>
<g stroke="#7d7d7d" fill="none" stroke-width="0.6">
<polygon points="317.5,1001.9 422.5,979.4 428,1007.5 324,1029" fill="#fff"/>
<circle cx="330.0" cy="1013.0" r="4.6"/><circle cx="330.0" cy="1013.0" r="2.4"/>
<path d="M327.0,1019.0 q2,3 5,1.5"/>
<circle cx="347.0" cy="1007.0" r="4.6"/><circle cx="347.0" cy="1007.0" r="2.4"/>
<path d="M344.0,1013.0 q2,3 5,1.5"/>
<circle cx="363.0" cy="1003.0" r="4.6"/><circle cx="363.0" cy="1003.0" r="2.4"/>
<path d="M360.0,1009.0 q2,3 5,1.5"/>
<path d="M341.0,991.0 l-1.5,-7 l6,-1.6 l1.8,7 M346.0,991.5 l9,-2.2 M342.5,986.0 l3,-0.8 l0.6,2.6"/>
<path d="M360.0,987.0 l-1.5,-7 l6,-1.6 l1.8,7 M365.0,987.5 l9,-2.2 M361.5,982.0 l3,-0.8 l0.6,2.6"/>
<path d="M378.0,982.5 l-1.5,-7 l6,-1.6 l1.8,7 M383.0,983.0 l9,-2.2 M379.5,977.5 l3,-0.8 l0.6,2.6"/>
<path d="M396.0,978.0 l-1.5,-7 l6,-1.6 l1.8,7 M401.0,978.5 l9,-2.2 M397.5,973.0 l3,-0.8 l0.6,2.6"/>
<path d="M331,996.5 l4,-1 l0.8,2.4 M352,992 l6,-1.6 M372,988.5 l5,-1.2 M409,977.5 l8,-2"/>
</g>
<path d="M422.5,979.4 L445,980 M428,1007.5 L441,1003 L445,981" stroke="#c4c4c4" stroke-width="0.70" fill="none" />
<line x1="643.4" y1="435.6" x2="1740" y2="435.6" stroke="#d6e8c8" stroke-width="1.1"/>
<circle cx="1740" cy="435.3" r="4.3" fill="#7fd552"/>
<polygon points="643.4,432.6 646.4,435.6 643.4,438.6" fill="#cddcc8"/>
<g stroke="#858585" fill="none" stroke-width="0.65">
<rect x="566.2" y="433.4" width="29.4" height="8.5" fill="#fff"/>
<path d="M544.7,434.8 H554 M544.7,441 H554 M554,433.4 V442.3 M556.4,433.4 V442.3 M559,433.4 V442.3 M562.6,433.4 V442.3 M566.2,433.4 V442.3 M595.6,433.4 L611,435.4 M595.6,441.9 L611,439.2"/>
<rect x="611" y="435" width="26.5" height="3.8" rx="1" stroke="#888"/>
<circle cx="583" cy="437.7" r="1.8"/>
</g>
<g stroke="#b2b2b2" fill="none" stroke-width="0.65">
<path d="M572,432 Q585,424 603,428 Q612,430 616,433 M588,428 Q596,424 606,427 M609,430 Q614,427 617,431"/>
<path d="M581,442 Q576,448 569,449 M601,441 Q592,452 585,458 Q579,463 573,467 M609,441 Q611,446 608,455 Q602,468 596,477 Q592,483 589,487"/>
<path d="M569,449 Q577,452 581,462 M573,454 L580,466 M566,458 L578,468 M585,458 Q582,452 577,451"/>
<path d="M556,470 Q553,480 553,486 M560,452 Q556,460 556,470 M596,452 l7,3 M594,457 l7,3 M591,462 l7,3 M598,447 l7,3"/>
</g>
<g fill="#cdcdcd">
<rect x="574.3" y="469.0" width="0.9" height="0.9"/>
<rect x="596.4" y="465.1" width="0.9" height="0.9"/>
<rect x="576.9" y="470.1" width="0.9" height="0.9"/>
<rect x="561.7" y="467.0" width="0.9" height="0.9"/>
<rect x="582.6" y="478.5" width="0.9" height="0.9"/>
<rect x="557.3" y="479.2" width="0.9" height="0.9"/>
<rect x="585.6" y="447.7" width="0.9" height="0.9"/>
<rect x="583.7" y="471.2" width="0.9" height="0.9"/>
<rect x="577.8" y="448.4" width="0.9" height="0.9"/>
<rect x="561.9" y="455.9" width="0.9" height="0.9"/>
<rect x="573.7" y="480.5" width="0.9" height="0.9"/>
<rect x="577.4" y="472.3" width="0.9" height="0.9"/>
<rect x="576.5" y="473.2" width="0.9" height="0.9"/>
<rect x="574.5" y="457.4" width="0.9" height="0.9"/>
<rect x="592.5" y="475.0" width="0.9" height="0.9"/>
<rect x="567.8" y="455.4" width="0.9" height="0.9"/>
<rect x="566.6" y="448.9" width="0.9" height="0.9"/>
<rect x="589.0" y="462.4" width="0.9" height="0.9"/>
<rect x="592.8" y="461.8" width="0.9" height="0.9"/>
<rect x="595.8" y="465.3" width="0.9" height="0.9"/>
<rect x="599.1" y="462.3" width="0.9" height="0.9"/>
<rect x="556.4" y="471.8" width="0.9" height="0.9"/>
<rect x="589.6" y="457.1" width="0.9" height="0.9"/>
<rect x="590.5" y="453.3" width="0.9" height="0.9"/>
<rect x="579.3" y="464.3" width="0.9" height="0.9"/>
<rect x="562.0" y="476.0" width="0.9" height="0.9"/>
<rect x="559.2" y="472.4" width="0.9" height="0.9"/>
<rect x="558.5" y="463.3" width="0.9" height="0.9"/>
<rect x="563.0" y="457.1" width="0.9" height="0.9"/>
<rect x="567.3" y="482.3" width="0.9" height="0.9"/>
<rect x="562.9" y="462.2" width="0.9" height="0.9"/>
<rect x="593.2" y="472.3" width="0.9" height="0.9"/>
<rect x="557.7" y="486.6" width="0.9" height="0.9"/>
<rect x="563.0" y="456.6" width="0.9" height="0.9"/>
<rect x="589.3" y="459.5" width="0.9" height="0.9"/>
<rect x="566.9" y="449.0" width="0.9" height="0.9"/>
<rect x="557.2" y="469.9" width="0.9" height="0.9"/>
<rect x="564.4" y="470.7" width="0.9" height="0.9"/>
<rect x="570.5" y="464.6" width="0.9" height="0.9"/>
<rect x="598.1" y="465.8" width="0.9" height="0.9"/>
<rect x="580.0" y="481.5" width="0.9" height="0.9"/>
<rect x="561.6" y="452.3" width="0.9" height="0.9"/>
<rect x="595.7" y="479.5" width="0.9" height="0.9"/>
<rect x="564.7" y="453.8" width="0.9" height="0.9"/>
<rect x="587.8" y="484.6" width="0.9" height="0.9"/>
<rect x="562.2" y="485.0" width="0.9" height="0.9"/>
<rect x="594.5" y="470.7" width="0.9" height="0.9"/>
<rect x="572.8" y="450.3" width="0.9" height="0.9"/>
<rect x="554.8" y="485.5" width="0.9" height="0.9"/>
<rect x="564.2" y="474.9" width="0.9" height="0.9"/>
<rect x="565.1" y="479.8" width="0.9" height="0.9"/>
<rect x="581.0" y="458.0" width="0.9" height="0.9"/>
<rect x="561.2" y="475.5" width="0.9" height="0.9"/>
<rect x="579.3" y="480.9" width="0.9" height="0.9"/>
<rect x="581.9" y="457.5" width="0.9" height="0.9"/>
<rect x="596.1" y="454.4" width="0.9" height="0.9"/>
<rect x="573.9" y="448.5" width="0.9" height="0.9"/>
<rect x="561.3" y="461.1" width="0.9" height="0.9"/>
<rect x="579.9" y="451.4" width="0.9" height="0.9"/>
<rect x="570.0" y="482.5" width="0.9" height="0.9"/>
<rect x="599.1" y="472.9" width="0.9" height="0.9"/>
<rect x="585.5" y="470.0" width="0.9" height="0.9"/>
<rect x="553.8" y="483.3" width="0.9" height="0.9"/>
<rect x="585.9" y="485.5" width="0.9" height="0.9"/>
<rect x="554.0" y="472.1" width="0.9" height="0.9"/>
<rect x="575.7" y="476.0" width="0.9" height="0.9"/>
<rect x="568.0" y="487.0" width="0.9" height="0.9"/>
<rect x="556.5" y="468.4" width="0.9" height="0.9"/>
<rect x="587.6" y="482.9" width="0.9" height="0.9"/>
<rect x="587.6" y="474.9" width="0.9" height="0.9"/>
<rect x="590.3" y="483.5" width="0.9" height="0.9"/>
<rect x="569.5" y="474.1" width="0.9" height="0.9"/>
<rect x="595.3" y="481.7" width="0.9" height="0.9"/>
<rect x="572.6" y="478.4" width="0.9" height="0.9"/>
<rect x="593.6" y="469.5" width="0.9" height="0.9"/>
<rect x="582.4" y="461.7" width="0.9" height="0.9"/>
<rect x="580.4" y="471.0" width="0.9" height="0.9"/>
<rect x="556.8" y="472.2" width="0.9" height="0.9"/>
<rect x="587.2" y="461.9" width="0.9" height="0.9"/>
<rect x="587.5" y="469.8" width="0.9" height="0.9"/>
<rect x="573.7" y="480.4" width="0.9" height="0.9"/>
<rect x="556.9" y="476.8" width="0.9" height="0.9"/>
<rect x="554.4" y="470.7" width="0.9" height="0.9"/>
<rect x="575.6" y="455.4" width="0.9" height="0.9"/>
<rect x="585.8" y="466.4" width="0.9" height="0.9"/>
<rect x="581.9" y="483.7" width="0.9" height="0.9"/>
<rect x="565.0" y="446.5" width="0.9" height="0.9"/>
<rect x="567.1" y="473.8" width="0.9" height="0.9"/>
<rect x="562.5" y="453.0" width="0.9" height="0.9"/>
<rect x="595.6" y="473.1" width="0.9" height="0.9"/>
<rect x="573.8" y="482.6" width="0.9" height="0.9"/>
<rect x="568.4" y="473.3" width="0.9" height="0.9"/>
<rect x="562.3" y="463.7" width="0.9" height="0.9"/>
<rect x="590.9" y="483.5" width="0.9" height="0.9"/>
<rect x="594.4" y="461.8" width="0.9" height="0.9"/>
<rect x="580.4" y="459.0" width="0.9" height="0.9"/>
<rect x="559.4" y="466.4" width="0.9" height="0.9"/>
<rect x="592.3" y="480.8" width="0.9" height="0.9"/>
<rect x="586.4" y="485.0" width="0.9" height="0.9"/>
<rect x="566.0" y="452.9" width="0.9" height="0.9"/>
<rect x="574.2" y="457.3" width="0.9" height="0.9"/>
<rect x="563.1" y="463.0" width="0.9" height="0.9"/>
<rect x="582.4" y="466.2" width="0.9" height="0.9"/>
<rect x="567.8" y="480.4" width="0.9" height="0.9"/>
<rect x="599.2" y="464.6" width="0.9" height="0.9"/>
<rect x="594.0" y="447.7" width="0.9" height="0.9"/>
<rect x="586.3" y="469.4" width="0.9" height="0.9"/>
<rect x="567.5" y="478.5" width="0.9" height="0.9"/>
<rect x="574.4" y="447.0" width="0.9" height="0.9"/>
<rect x="592.0" y="455.7" width="0.9" height="0.9"/>
<rect x="582.6" y="464.3" width="0.9" height="0.9"/>
<rect x="582.6" y="472.9" width="0.9" height="0.9"/>
<rect x="590.9" y="485.3" width="0.9" height="0.9"/>
<rect x="585.2" y="454.2" width="0.9" height="0.9"/>
<rect x="575.3" y="453.3" width="0.9" height="0.9"/>
<rect x="586.6" y="453.3" width="0.9" height="0.9"/>
<rect x="565.8" y="460.2" width="0.9" height="0.9"/>
<rect x="585.8" y="467.3" width="0.9" height="0.9"/>
<rect x="581.9" y="477.0" width="0.9" height="0.9"/>
<rect x="571.5" y="478.5" width="0.9" height="0.9"/>
<rect x="595.6" y="449.6" width="0.9" height="0.9"/>
<rect x="596.8" y="475.6" width="0.9" height="0.9"/>
<rect x="559.1" y="464.6" width="0.9" height="0.9"/>
<rect x="582.4" y="483.3" width="0.9" height="0.9"/>
<rect x="570.7" y="469.3" width="0.9" height="0.9"/>
<rect x="594.3" y="478.7" width="0.9" height="0.9"/>
<rect x="597.4" y="465.0" width="0.9" height="0.9"/>
<rect x="583.6" y="454.4" width="0.9" height="0.9"/>
<rect x="586.9" y="479.6" width="0.9" height="0.9"/>
<rect x="583.2" y="475.4" width="0.9" height="0.9"/>
<rect x="563.0" y="482.9" width="0.9" height="0.9"/>
<rect x="578.2" y="478.4" width="0.9" height="0.9"/>
<rect x="568.1" y="483.3" width="0.9" height="0.9"/>
<rect x="593.2" y="460.3" width="0.9" height="0.9"/>
<rect x="578.9" y="477.5" width="0.9" height="0.9"/>
<rect x="575.9" y="447.2" width="0.9" height="0.9"/>
<rect x="591.0" y="448.6" width="0.9" height="0.9"/>
<rect x="590.6" y="453.1" width="0.9" height="0.9"/>
<rect x="568.7" y="478.3" width="0.9" height="0.9"/>
<rect x="577.3" y="475.7" width="0.9" height="0.9"/>
<rect x="592.5" y="474.3" width="0.9" height="0.9"/>
<rect x="597.5" y="466.2" width="0.9" height="0.9"/>
<rect x="597.6" y="449.5" width="0.9" height="0.9"/>
<rect x="563.4" y="467.6" width="0.9" height="0.9"/>
<rect x="566.6" y="475.9" width="0.9" height="0.9"/>
<rect x="583.0" y="467.4" width="0.9" height="0.9"/>
<rect x="592.7" y="469.0" width="0.9" height="0.9"/>
<rect x="567.6" y="461.6" width="0.9" height="0.9"/>
<rect x="592.7" y="482.9" width="0.9" height="0.9"/>
<rect x="562.8" y="480.9" width="0.9" height="0.9"/>
<rect x="598.5" y="467.5" width="0.9" height="0.9"/>
<rect x="579.9" y="454.2" width="0.9" height="0.9"/>
<rect x="578.2" y="466.6" width="0.9" height="0.9"/>
<rect x="581.4" y="447.1" width="0.9" height="0.9"/>
<rect x="598.6" y="467.2" width="0.9" height="0.9"/>
<rect x="571.8" y="478.8" width="0.9" height="0.9"/>
<rect x="579.5" y="466.1" width="0.9" height="0.9"/>
<rect x="585.5" y="448.7" width="0.9" height="0.9"/>
<rect x="578.3" y="463.0" width="0.9" height="0.9"/>
<rect x="565.7" y="465.4" width="0.9" height="0.9"/>
<rect x="559.0" y="463.8" width="0.9" height="0.9"/>
<rect x="591.3" y="482.9" width="0.9" height="0.9"/>
<rect x="575.4" y="459.0" width="0.9" height="0.9"/>
<rect x="562.0" y="471.3" width="0.9" height="0.9"/>
<rect x="596.5" y="451.3" width="0.9" height="0.9"/>
<rect x="589.6" y="446.9" width="0.9" height="0.9"/>
<rect x="562.1" y="455.3" width="0.9" height="0.9"/>
<rect x="585.3" y="459.2" width="0.9" height="0.9"/>
<rect x="569.7" y="471.4" width="0.9" height="0.9"/>
<rect x="557.9" y="476.0" width="0.9" height="0.9"/>
<rect x="558.8" y="466.9" width="0.9" height="0.9"/>
<rect x="564.8" y="454.1" width="0.9" height="0.9"/>
<rect x="577.9" y="463.9" width="0.9" height="0.9"/>
<rect x="570.7" y="462.9" width="0.9" height="0.9"/>
<rect x="577.9" y="452.5" width="0.9" height="0.9"/>
<rect x="562.6" y="471.9" width="0.9" height="0.9"/>
<rect x="583.0" y="467.7" width="0.9" height="0.9"/>
<rect x="593.0" y="471.1" width="0.9" height="0.9"/>
<rect x="593.3" y="455.5" width="0.9" height="0.9"/>
<rect x="587.8" y="479.2" width="0.9" height="0.9"/>
<rect x="595.4" y="459.0" width="0.9" height="0.9"/>
<rect x="567.8" y="483.8" width="0.9" height="0.9"/>
<rect x="563.3" y="486.9" width="0.9" height="0.9"/>
<rect x="594.7" y="451.5" width="0.9" height="0.9"/>
<rect x="564.2" y="475.8" width="0.9" height="0.9"/>
<rect x="565.2" y="450.0" width="0.9" height="0.9"/>
<rect x="592.1" y="463.3" width="0.9" height="0.9"/>
<rect x="590.1" y="451.2" width="0.9" height="0.9"/>
<rect x="571.9" y="474.1" width="0.9" height="0.9"/>
<rect x="585.1" y="483.4" width="0.9" height="0.9"/>
<rect x="598.5" y="450.7" width="0.9" height="0.9"/>
<rect x="576.8" y="477.1" width="0.9" height="0.9"/>
<rect x="576.6" y="474.1" width="0.9" height="0.9"/>
<rect x="561.9" y="448.9" width="0.9" height="0.9"/>
<rect x="578.9" y="467.1" width="0.9" height="0.9"/>
<rect x="579.7" y="452.0" width="0.9" height="0.9"/>
<rect x="561.7" y="454.4" width="0.9" height="0.9"/>
<rect x="592.5" y="486.6" width="0.9" height="0.9"/>
<rect x="596.6" y="449.9" width="0.9" height="0.9"/>
<rect x="555.9" y="485.0" width="0.9" height="0.9"/>
<rect x="574.7" y="477.4" width="0.9" height="0.9"/>
<rect x="568.4" y="465.1" width="0.9" height="0.9"/>
<rect x="577.2" y="463.6" width="0.9" height="0.9"/>
<rect x="581.2" y="446.5" width="0.9" height="0.9"/>
</g>
<g transform="translate(0.0,0.0)">
<polygon points="1792,84 1880,84 1880,248 1824,263.6 1793,239.5" fill="#0a0a0a"/>
<clipPath id="spk0"><polygon points="1823,93 1878,88 1878,246 1825,260"/></clipPath>
<polygon points="1823,93 1878,88 1878,246 1825,260" fill="#727272"/>
<g clip-path="url(#spk0)">
<line x1="1824" y1="95.0" x2="1878" y2="90.5" stroke="#8a8a8a" stroke-width="0.7" opacity="0.55"/>
<line x1="1824" y1="100.5" x2="1878" y2="96.0" stroke="#8a8a8a" stroke-width="0.7" opacity="0.55"/>
<line x1="1824" y1="106.0" x2="1878" y2="101.5" stroke="#8a8a8a" stroke-width="0.7" opacity="0.55"/>
<line x1="1824" y1="111.5" x2="1878" y2="107.0" stroke="#8a8a8a" stroke-width="0.7" opacity="0.55"/>
<line x1="1824" y1="117.0" x2="1878" y2="112.5" stroke="#8a8a8a" stroke-width="0.7" opacity="0.55"/>
<line x1="1824" y1="122.5" x2="1878" y2="118.0" stroke="#8a8a8a" stroke-width="0.7" opacity="0.55"/>
<line x1="1824" y1="128.0" x2="1878" y2="123.5" stroke="#8a8a8a" stroke-width="0.7" opacity="0.55"/>
<line x1="1824" y1="133.5" x2="1878" y2="129.0" stroke="#8a8a8a" stroke-width="0.7" opacity="0.55"/>
<line x1="1824" y1="139.0" x2="1878" y2="134.5" stroke="#8a8a8a" stroke-width="0.7" opacity="0.55"/>
<line x1="1824" y1="144.5" x2="1878" y2="140.0" stroke="#8a8a8a" stroke-width="0.7" opacity="0.55"/>
<line x1="1824" y1="150.0" x2="1878" y2="145.5" stroke="#8a8a8a" stroke-width="0.7" opacity="0.55"/>
<line x1="1824" y1="155.5" x2="1878" y2="151.0" stroke="#8a8a8a" stroke-width="0.7" opacity="0.55"/>
<line x1="1824" y1="161.0" x2="1878" y2="156.5" stroke="#8a8a8a" stroke-width="0.7" opacity="0.55"/>
<line x1="1824" y1="166.5" x2="1878" y2="162.0" stroke="#8a8a8a" stroke-width="0.7" opacity="0.55"/>
<line x1="1824" y1="172.0" x2="1878" y2="167.5" stroke="#8a8a8a" stroke-width="0.7" opacity="0.55"/>
<line x1="1824" y1="177.5" x2="1878" y2="173.0" stroke="#8a8a8a" stroke-width="0.7" opacity="0.55"/>
<line x1="1824" y1="183.0" x2="1878" y2="178.5" stroke="#8a8a8a" stroke-width="0.7" opacity="0.55"/>
<line x1="1824" y1="188.5" x2="1878" y2="184.0" stroke="#8a8a8a" stroke-width="0.7" opacity="0.55"/>
<line x1="1824" y1="194.0" x2="1878" y2="189.5" stroke="#8a8a8a" stroke-width="0.7" opacity="0.55"/>
<line x1="1824" y1="199.5" x2="1878" y2="195.0" stroke="#8a8a8a" stroke-width="0.7" opacity="0.55"/>
<line x1="1824" y1="205.0" x2="1878" y2="200.5" stroke="#8a8a8a" stroke-width="0.7" opacity="0.55"/>
<line x1="1824" y1="210.5" x2="1878" y2="206.0" stroke="#8a8a8a" stroke-width="0.7" opacity="0.55"/>
<line x1="1824" y1="216.0" x2="1878" y2="211.5" stroke="#8a8a8a" stroke-width="0.7" opacity="0.55"/>
<line x1="1824" y1="221.5" x2="1878" y2="217.0" stroke="#8a8a8a" stroke-width="0.7" opacity="0.55"/>
<line x1="1824" y1="227.0" x2="1878" y2="222.5" stroke="#8a8a8a" stroke-width="0.7" opacity="0.55"/>
<line x1="1824" y1="232.5" x2="1878" y2="228.0" stroke="#8a8a8a" stroke-width="0.7" opacity="0.55"/>
<line x1="1824" y1="238.0" x2="1878" y2="233.5" stroke="#8a8a8a" stroke-width="0.7" opacity="0.55"/>
<line x1="1824" y1="243.5" x2="1878" y2="239.0" stroke="#8a8a8a" stroke-width="0.7" opacity="0.55"/>
<line x1="1824" y1="249.0" x2="1878" y2="244.5" stroke="#8a8a8a" stroke-width="0.7" opacity="0.55"/>
<line x1="1824" y1="254.5" x2="1878" y2="250.0" stroke="#8a8a8a" stroke-width="0.7" opacity="0.55"/>
<line x1="1826.0" y1="92" x2="1826.0" y2="258" stroke="#1e1e1e" stroke-width="0.9" opacity="0.42"/>
<line x1="1829.4" y1="92" x2="1829.4" y2="258" stroke="#1e1e1e" stroke-width="0.9" opacity="0.42"/>
<line x1="1832.8" y1="92" x2="1832.8" y2="258" stroke="#1e1e1e" stroke-width="0.9" opacity="0.42"/>
<line x1="1836.2" y1="92" x2="1836.2" y2="258" stroke="#1e1e1e" stroke-width="0.9" opacity="0.42"/>
<line x1="1839.6" y1="92" x2="1839.6" y2="258" stroke="#1e1e1e" stroke-width="0.9" opacity="0.42"/>
<line x1="1843.0" y1="92" x2="1843.0" y2="258" stroke="#1e1e1e" stroke-width="0.9" opacity="0.42"/>
<line x1="1846.4" y1="92" x2="1846.4" y2="258" stroke="#1e1e1e" stroke-width="0.9" opacity="0.42"/>
<line x1="1849.8" y1="92" x2="1849.8" y2="258" stroke="#1e1e1e" stroke-width="0.9" opacity="0.42"/>
<line x1="1853.2" y1="92" x2="1853.2" y2="258" stroke="#1e1e1e" stroke-width="0.9" opacity="0.42"/>
<line x1="1856.6" y1="92" x2="1856.6" y2="258" stroke="#1e1e1e" stroke-width="0.9" opacity="0.42"/>
<line x1="1860.0" y1="92" x2="1860.0" y2="258" stroke="#1e1e1e" stroke-width="0.9" opacity="0.42"/>
<line x1="1863.4" y1="92" x2="1863.4" y2="258" stroke="#1e1e1e" stroke-width="0.9" opacity="0.42"/>
<line x1="1866.8" y1="92" x2="1866.8" y2="258" stroke="#1e1e1e" stroke-width="0.9" opacity="0.42"/>
<line x1="1870.2" y1="92" x2="1870.2" y2="258" stroke="#1e1e1e" stroke-width="0.9" opacity="0.42"/>
<line x1="1873.6" y1="92" x2="1873.6" y2="258" stroke="#1e1e1e" stroke-width="0.9" opacity="0.42"/>
<line x1="1877.0" y1="92" x2="1877.0" y2="258" stroke="#1e1e1e" stroke-width="0.9" opacity="0.42"/>
<rect x="1852.2" y="225.5" width="1.2" height="0.9" fill="#d6d6d6"/>
<rect x="1865.4" y="208.3" width="1.2" height="0.9" fill="#777"/>
<rect x="1873.5" y="131.8" width="1.2" height="1.2" fill="#777"/>
<rect x="1870.4" y="224.8" width="1.6" height="1.2" fill="#777"/>
<rect x="1831.4" y="182.6" width="0.9" height="0.9" fill="#9a9a9a"/>
<rect x="1871.7" y="179.5" width="0.9" height="1.2" fill="#777"/>
<rect x="1853.2" y="238.3" width="0.9" height="1.2" fill="#777"/>
<rect x="1846.1" y="175.2" width="1.6" height="0.9" fill="#2a2a2a"/>
<rect x="1860.9" y="158.7" width="1.2" height="0.9" fill="#1a1a1a"/>
<rect x="1847.4" y="186.0" width="1.2" height="0.9" fill="#777"/>
<rect x="1875.8" y="153.0" width="1.2" height="0.9" fill="#b9b9b9"/>
<rect x="1830.3" y="125.9" width="1.6" height="1.2" fill="#9a9a9a"/>
<rect x="1827.1" y="100.8" width="0.9" height="0.9" fill="#d6d6d6"/>
<rect x="1837.5" y="141.7" width="1.2" height="0.9" fill="#d6d6d6"/>
<rect x="1841.9" y="242.7" width="1.2" height="1.2" fill="#1a1a1a"/>
<rect x="1824.5" y="216.5" width="0.9" height="1.2" fill="#d6d6d6"/>
<rect x="1864.2" y="169.6" width="1.6" height="0.9" fill="#b9b9b9"/>
<rect x="1840.7" y="102.6" width="1.2" height="0.9" fill="#777"/>
<rect x="1857.5" y="178.2" width="1.2" height="1.2" fill="#9a9a9a"/>
<rect x="1863.5" y="251.2" width="1.2" height="0.9" fill="#1a1a1a"/>
<rect x="1834.6" y="132.2" width="1.6" height="0.9" fill="#9a9a9a"/>
<rect x="1873.0" y="98.4" width="1.2" height="1.2" fill="#1a1a1a"/>
<rect x="1867.8" y="98.3" width="0.9" height="1.2" fill="#2a2a2a"/>
<rect x="1869.3" y="200.5" width="1.2" height="0.9" fill="#2a2a2a"/>
<rect x="1853.3" y="181.2" width="0.9" height="1.2" fill="#9a9a9a"/>
<rect x="1855.1" y="224.6" width="1.6" height="1.2" fill="#b9b9b9"/>
<rect x="1855.7" y="228.5" width="1.6" height="1.2" fill="#9a9a9a"/>
<rect x="1851.8" y="164.8" width="0.9" height="0.9" fill="#2a2a2a"/>
<rect x="1850.1" y="227.7" width="1.6" height="0.9" fill="#d6d6d6"/>
<rect x="1875.9" y="187.1" width="1.2" height="0.9" fill="#1a1a1a"/>
<rect x="1872.2" y="145.2" width="0.9" height="0.9" fill="#1a1a1a"/>
<rect x="1857.1" y="151.8" width="1.2" height="1.2" fill="#9a9a9a"/>
<rect x="1843.2" y="189.4" width="0.9" height="0.9" fill="#1a1a1a"/>
<rect x="1834.4" y="186.7" width="1.6" height="0.9" fill="#777"/>
<rect x="1848.3" y="164.9" width="0.9" height="1.2" fill="#1a1a1a"/>
<rect x="1848.5" y="139.4" width="0.9" height="1.2" fill="#9a9a9a"/>
<rect x="1842.2" y="145.2" width="1.2" height="0.9" fill="#b9b9b9"/>
<rect x="1852.0" y="207.5" width="0.9" height="1.2" fill="#b9b9b9"/>
<rect x="1862.4" y="140.6" width="0.9" height="0.9" fill="#9a9a9a"/>
<rect x="1848.6" y="228.0" width="1.6" height="0.9" fill="#9a9a9a"/>
<rect x="1869.9" y="223.4" width="0.9" height="0.9" fill="#2a2a2a"/>
<rect x="1834.2" y="180.5" width="1.2" height="1.2" fill="#d6d6d6"/>
<rect x="1874.8" y="187.7" width="1.2" height="0.9" fill="#2a2a2a"/>
<rect x="1852.4" y="257.1" width="1.6" height="0.9" fill="#b9b9b9"/>
<rect x="1857.8" y="235.3" width="1.2" height="0.9" fill="#d6d6d6"/>
<rect x="1842.0" y="180.4" width="1.2" height="1.2" fill="#9a9a9a"/>
<rect x="1847.9" y="132.8" width="1.6" height="1.2" fill="#b9b9b9"/>
<rect x="1840.8" y="123.7" width="0.9" height="0.9" fill="#d6d6d6"/>
<rect x="1851.3" y="253.8" width="0.9" height="1.2" fill="#1a1a1a"/>
<rect x="1828.5" y="163.5" width="1.6" height="0.9" fill="#2a2a2a"/>
<rect x="1859.8" y="114.0" width="1.6" height="1.2" fill="#1a1a1a"/>
<rect x="1850.6" y="236.7" width="1.2" height="0.9" fill="#d6d6d6"/>
<rect x="1857.3" y="118.3" width="0.9" height="0.9" fill="#777"/>
<rect x="1847.1" y="144.0" width="1.6" height="0.9" fill="#2a2a2a"/>
<rect x="1839.6" y="130.8" width="1.6" height="0.9" fill="#d6d6d6"/>
<rect x="1844.1" y="196.8" width="1.2" height="0.9" fill="#d6d6d6"/>
<rect x="1847.2" y="239.5" width="0.9" height="0.9" fill="#2a2a2a"/>
<rect x="1827.8" y="139.8" width="1.2" height="1.2" fill="#d6d6d6"/>
<rect x="1841.4" y="251.9" width="1.2" height="1.2" fill="#777"/>
<rect x="1844.7" y="144.7" width="1.6" height="0.9" fill="#1a1a1a"/>
<rect x="1847.6" y="249.4" width="1.6" height="1.2" fill="#777"/>
<rect x="1836.8" y="125.8" width="1.6" height="1.2" fill="#d6d6d6"/>
<rect x="1844.3" y="248.7" width="1.2" height="0.9" fill="#d6d6d6"/>
<rect x="1871.6" y="92.0" width="1.6" height="0.9" fill="#1a1a1a"/>
<rect x="1843.0" y="199.2" width="1.2" height="1.2" fill="#2a2a2a"/>
<rect x="1861.2" y="165.5" width="1.2" height="0.9" fill="#9a9a9a"/>
<rect x="1834.2" y="233.5" width="1.6" height="0.9" fill="#777"/>
<rect x="1836.4" y="196.4" width="0.9" height="1.2" fill="#2a2a2a"/>
<rect x="1859.6" y="149.6" width="0.9" height="1.2" fill="#1a1a1a"/>
<rect x="1863.8" y="226.7" width="0.9" height="0.9" fill="#b9b9b9"/>
<rect x="1871.4" y="219.0" width="1.6" height="1.2" fill="#9a9a9a"/>
<rect x="1844.4" y="146.2" width="0.9" height="1.2" fill="#777"/>
<rect x="1875.4" y="246.2" width="1.2" height="0.9" fill="#9a9a9a"/>
<rect x="1849.6" y="158.3" width="1.2" height="0.9" fill="#777"/>
<rect x="1875.8" y="120.9" width="1.2" height="1.2" fill="#b9b9b9"/>
<rect x="1831.0" y="116.3" width="0.9" height="0.9" fill="#9a9a9a"/>
<rect x="1839.7" y="99.1" width="1.6" height="1.2" fill="#d6d6d6"/>
<rect x="1852.7" y="198.7" width="1.2" height="0.9" fill="#1a1a1a"/>
<rect x="1865.9" y="95.2" width="1.2" height="0.9" fill="#1a1a1a"/>
<rect x="1862.0" y="136.1" width="1.2" height="1.2" fill="#1a1a1a"/>
<rect x="1875.4" y="218.9" width="0.9" height="1.2" fill="#b9b9b9"/>
<rect x="1844.1" y="165.0" width="1.2" height="0.9" fill="#2a2a2a"/>
<rect x="1824.4" y="225.7" width="1.2" height="0.9" fill="#b9b9b9"/>
<rect x="1870.0" y="109.4" width="0.9" height="0.9" fill="#1a1a1a"/>
<rect x="1862.5" y="247.7" width="1.6" height="1.2" fill="#777"/>
<rect x="1831.8" y="123.1" width="0.9" height="1.2" fill="#2a2a2a"/>
<rect x="1825.0" y="189.6" width="0.9" height="1.2" fill="#b9b9b9"/>
<rect x="1835.9" y="222.7" width="1.2" height="1.2" fill="#d6d6d6"/>
<rect x="1853.8" y="163.5" width="0.9" height="1.2" fill="#2a2a2a"/>
<rect x="1829.6" y="144.8" width="1.6" height="1.2" fill="#d6d6d6"/>
<rect x="1874.0" y="99.6" width="0.9" height="1.2" fill="#2a2a2a"/>
<rect x="1840.0" y="246.1" width="1.6" height="0.9" fill="#777"/>
<rect x="1865.1" y="101.9" width="1.6" height="0.9" fill="#d6d6d6"/>
<rect x="1870.1" y="231.4" width="1.6" height="0.9" fill="#1a1a1a"/>
<rect x="1871.2" y="215.7" width="0.9" height="1.2" fill="#b9b9b9"/>
<rect x="1867.2" y="172.2" width="1.2" height="1.2" fill="#2a2a2a"/>
<rect x="1855.2" y="184.5" width="1.2" height="0.9" fill="#777"/>
<rect x="1865.7" y="127.3" width="0.9" height="1.2" fill="#d6d6d6"/>
<rect x="1849.4" y="222.8" width="1.6" height="0.9" fill="#9a9a9a"/>
<rect x="1869.1" y="216.3" width="0.9" height="1.2" fill="#2a2a2a"/>
<rect x="1847.5" y="226.5" width="0.9" height="0.9" fill="#1a1a1a"/>
<rect x="1875.9" y="131.9" width="0.9" height="1.2" fill="#d6d6d6"/>
<rect x="1870.9" y="150.8" width="1.2" height="0.9" fill="#2a2a2a"/>
<rect x="1852.9" y="177.6" width="0.9" height="1.2" fill="#b9b9b9"/>
<rect x="1861.8" y="144.0" width="0.9" height="1.2" fill="#777"/>
<rect x="1855.6" y="200.9" width="0.9" height="1.2" fill="#1a1a1a"/>
<rect x="1854.9" y="245.1" width="0.9" height="0.9" fill="#b9b9b9"/>
<rect x="1872.5" y="166.3" width="1.6" height="1.2" fill="#9a9a9a"/>
<rect x="1873.6" y="91.2" width="0.9" height="1.2" fill="#b9b9b9"/>
<rect x="1844.3" y="207.5" width="1.2" height="0.9" fill="#b9b9b9"/>
<rect x="1834.9" y="209.7" width="1.2" height="1.2" fill="#1a1a1a"/>
<rect x="1832.1" y="127.1" width="1.6" height="1.2" fill="#2a2a2a"/>
<rect x="1838.1" y="212.4" width="1.2" height="0.9" fill="#2a2a2a"/>
<rect x="1833.3" y="131.6" width="1.2" height="0.9" fill="#9a9a9a"/>
<rect x="1838.0" y="211.5" width="1.2" height="1.2" fill="#d6d6d6"/>
<rect x="1838.1" y="155.7" width="1.2" height="0.9" fill="#2a2a2a"/>
<rect x="1875.5" y="125.7" width="0.9" height="1.2" fill="#b9b9b9"/>
<rect x="1830.1" y="96.8" width="1.2" height="0.9" fill="#d6d6d6"/>
<rect x="1835.3" y="119.4" width="1.6" height="0.9" fill="#1a1a1a"/>
<rect x="1850.4" y="233.2" width="1.6" height="1.2" fill="#777"/>
<rect x="1846.2" y="146.3" width="1.2" height="0.9" fill="#1a1a1a"/>
<rect x="1825.4" y="100.7" width="1.2" height="1.2" fill="#9a9a9a"/>
<rect x="1859.3" y="116.1" width="0.9" height="1.2" fill="#d6d6d6"/>
<rect x="1869.1" y="117.5" width="1.2" height="1.2" fill="#777"/>
<rect x="1850.4" y="184.7" width="1.6" height="1.2" fill="#d6d6d6"/>
<rect x="1835.7" y="185.2" width="1.2" height="1.2" fill="#2a2a2a"/>
<rect x="1853.4" y="196.2" width="1.6" height="1.2" fill="#777"/>
<rect x="1831.2" y="252.2" width="0.9" height="1.2" fill="#b9b9b9"/>
<rect x="1866.5" y="104.3" width="0.9" height="0.9" fill="#1a1a1a"/>
<rect x="1873.7" y="104.7" width="0.9" height="1.2" fill="#d6d6d6"/>
<rect x="1869.6" y="169.8" width="1.2" height="1.2" fill="#9a9a9a"/>
<rect x="1875.9" y="192.1" width="0.9" height="0.9" fill="#2a2a2a"/>
<rect x="1867.7" y="241.7" width="1.6" height="0.9" fill="#9a9a9a"/>
<rect x="1846.3" y="131.7" width="1.6" height="1.2" fill="#d6d6d6"/>
<rect x="1852.7" y="147.6" width="1.6" height="1.2" fill="#9a9a9a"/>
<rect x="1876.1" y="134.5" width="1.6" height="1.2" fill="#b9b9b9"/>
<rect x="1838.2" y="166.0" width="0.9" height="0.9" fill="#777"/>
<rect x="1846.0" y="203.4" width="0.9" height="0.9" fill="#b9b9b9"/>
<rect x="1850.1" y="110.5" width="1.6" height="1.2" fill="#777"/>
<rect x="1872.9" y="175.8" width="1.2" height="0.9" fill="#777"/>
<rect x="1825.7" y="94.2" width="1.2" height="0.9" fill="#b9b9b9"/>
<rect x="1845.3" y="248.7" width="1.6" height="0.9" fill="#d6d6d6"/>
<rect x="1864.7" y="242.9" width="1.6" height="1.2" fill="#1a1a1a"/>
<rect x="1838.7" y="175.1" width="1.6" height="0.9" fill="#1a1a1a"/>
<rect x="1824.3" y="249.7" width="0.9" height="0.9" fill="#d6d6d6"/>
<rect x="1853.9" y="112.3" width="0.9" height="1.2" fill="#2a2a2a"/>
<rect x="1867.6" y="193.3" width="1.2" height="0.9" fill="#1a1a1a"/>
<rect x="1834.8" y="176.2" width="1.6" height="0.9" fill="#d6d6d6"/>
<rect x="1851.7" y="152.2" width="1.2" height="1.2" fill="#b9b9b9"/>
<rect x="1877.4" y="247.2" width="1.6" height="1.2" fill="#1a1a1a"/>
<rect x="1853.2" y="126.5" width="1.2" height="0.9" fill="#9a9a9a"/>
<rect x="1854.8" y="244.3" width="1.6" height="1.2" fill="#2a2a2a"/>
<rect x="1830.1" y="117.7" width="0.9" height="0.9" fill="#b9b9b9"/>
<rect x="1866.9" y="152.2" width="1.2" height="0.9" fill="#d6d6d6"/>
<rect x="1827.6" y="162.5" width="1.2" height="0.9" fill="#1a1a1a"/>
<rect x="1829.5" y="216.9" width="1.2" height="0.9" fill="#2a2a2a"/>
<rect x="1852.0" y="166.6" width="0.9" height="0.9" fill="#1a1a1a"/>
<rect x="1825.4" y="144.6" width="0.9" height="0.9" fill="#9a9a9a"/>
<rect x="1844.9" y="215.1" width="1.2" height="0.9" fill="#b9b9b9"/>
<rect x="1834.9" y="251.0" width="1.6" height="0.9" fill="#d6d6d6"/>
<rect x="1873.6" y="141.4" width="0.9" height="1.2" fill="#b9b9b9"/>
<rect x="1872.6" y="195.7" width="1.2" height="1.2" fill="#2a2a2a"/>
<rect x="1855.7" y="240.7" width="0.9" height="0.9" fill="#777"/>
<rect x="1840.1" y="250.3" width="0.9" height="0.9" fill="#d6d6d6"/>
<rect x="1856.6" y="197.0" width="0.9" height="1.2" fill="#d6d6d6"/>
<rect x="1865.8" y="122.8" width="1.2" height="1.2" fill="#1a1a1a"/>
<rect x="1849.1" y="157.1" width="1.2" height="0.9" fill="#2a2a2a"/>
<rect x="1835.8" y="193.8" width="1.6" height="1.2" fill="#1a1a1a"/>
<rect x="1842.6" y="117.4" width="1.2" height="0.9" fill="#1a1a1a"/>
<rect x="1837.3" y="122.4" width="0.9" height="0.9" fill="#777"/>
<rect x="1830.6" y="176.7" width="1.6" height="0.9" fill="#d6d6d6"/>
<rect x="1837.2" y="251.0" width="1.2" height="1.2" fill="#9a9a9a"/>
<rect x="1825.2" y="126.7" width="1.6" height="0.9" fill="#2a2a2a"/>
<rect x="1873.7" y="213.2" width="0.9" height="1.2" fill="#d6d6d6"/>
<rect x="1869.2" y="152.4" width="1.2" height="0.9" fill="#9a9a9a"/>
<rect x="1862.0" y="162.5" width="0.9" height="1.2" fill="#b9b9b9"/>
<rect x="1859.9" y="244.1" width="0.9" height="1.2" fill="#1a1a1a"/>
<rect x="1852.5" y="159.5" width="1.6" height="1.2" fill="#9a9a9a"/>
<rect x="1843.2" y="249.9" width="1.2" height="1.2" fill="#b9b9b9"/>
<rect x="1851.5" y="119.3" width="1.2" height="0.9" fill="#777"/>
<rect x="1831.2" y="103.3" width="1.6" height="0.9" fill="#777"/>
<rect x="1847.2" y="221.8" width="0.9" height="1.2" fill="#9a9a9a"/>
<rect x="1828.0" y="94.2" width="0.9" height="0.9" fill="#777"/>
<rect x="1855.1" y="147.7" width="1.2" height="0.9" fill="#9a9a9a"/>
<rect x="1876.2" y="249.5" width="0.9" height="0.9" fill="#1a1a1a"/>
<rect x="1870.0" y="233.5" width="0.9" height="0.9" fill="#2a2a2a"/>
<rect x="1863.3" y="146.5" width="1.2" height="0.9" fill="#9a9a9a"/>
<rect x="1839.1" y="186.1" width="1.6" height="0.9" fill="#777"/>
<rect x="1853.7" y="125.7" width="0.9" height="0.9" fill="#2a2a2a"/>
<rect x="1847.0" y="257.0" width="0.9" height="0.9" fill="#2a2a2a"/>
<rect x="1858.3" y="118.8" width="1.6" height="1.2" fill="#777"/>
<rect x="1839.8" y="203.7" width="1.6" height="0.9" fill="#9a9a9a"/>
<rect x="1873.5" y="93.1" width="0.9" height="0.9" fill="#2a2a2a"/>
<rect x="1870.1" y="219.1" width="1.2" height="1.2" fill="#9a9a9a"/>
<rect x="1865.9" y="141.5" width="1.6" height="1.2" fill="#777"/>
<rect x="1825.7" y="197.0" width="1.2" height="1.2" fill="#1a1a1a"/>
<rect x="1853.4" y="177.5" width="0.9" height="0.9" fill="#777"/>
<rect x="1867.6" y="187.6" width="1.2" height="1.2" fill="#1a1a1a"/>
<rect x="1859.3" y="161.0" width="0.9" height="0.9" fill="#9a9a9a"/>
<rect x="1867.4" y="236.8" width="1.2" height="1.2" fill="#b9b9b9"/>
<rect x="1826.8" y="138.3" width="1.2" height="0.9" fill="#1a1a1a"/>
<rect x="1875.3" y="199.4" width="0.9" height="1.2" fill="#b9b9b9"/>
<rect x="1870.5" y="211.9" width="1.6" height="1.2" fill="#1a1a1a"/>
<rect x="1874.6" y="143.0" width="1.2" height="1.2" fill="#d6d6d6"/>
<rect x="1858.9" y="220.2" width="1.2" height="1.2" fill="#b9b9b9"/>
<rect x="1844.8" y="226.0" width="0.9" height="1.2" fill="#b9b9b9"/>
<rect x="1864.3" y="175.0" width="1.2" height="1.2" fill="#9a9a9a"/>
<rect x="1830.9" y="143.5" width="0.9" height="1.2" fill="#b9b9b9"/>
<rect x="1832.9" y="115.4" width="1.2" height="1.2" fill="#1a1a1a"/>
<rect x="1856.3" y="246.5" width="0.9" height="1.2" fill="#777"/>
<rect x="1857.3" y="203.9" width="0.9" height="1.2" fill="#2a2a2a"/>
<rect x="1848.9" y="256.5" width="1.2" height="1.2" fill="#1a1a1a"/>
<rect x="1873.7" y="114.6" width="1.2" height="1.2" fill="#2a2a2a"/>
<rect x="1841.2" y="98.8" width="0.9" height="0.9" fill="#d6d6d6"/>
<rect x="1858.8" y="199.3" width="0.9" height="0.9" fill="#1a1a1a"/>
<rect x="1846.7" y="242.7" width="1.6" height="0.9" fill="#d6d6d6"/>
<rect x="1865.4" y="156.7" width="1.2" height="0.9" fill="#9a9a9a"/>
<rect x="1853.1" y="126.9" width="1.6" height="1.2" fill="#1a1a1a"/>
<rect x="1832.2" y="247.3" width="0.9" height="1.2" fill="#9a9a9a"/>
<rect x="1871.4" y="99.8" width="1.2" height="0.9" fill="#777"/>
<rect x="1870.0" y="198.3" width="1.6" height="1.2" fill="#d6d6d6"/>
<rect x="1835.8" y="167.1" width="0.9" height="0.9" fill="#777"/>
<rect x="1855.1" y="165.5" width="0.9" height="0.9" fill="#d6d6d6"/>
<rect x="1851.3" y="173.3" width="0.9" height="0.9" fill="#2a2a2a"/>
<rect x="1838.7" y="205.1" width="1.2" height="0.9" fill="#2a2a2a"/>
<rect x="1846.4" y="111.2" width="1.6" height="1.2" fill="#9a9a9a"/>
<rect x="1870.3" y="122.6" width="1.2" height="1.2" fill="#1a1a1a"/>
<rect x="1839.6" y="213.0" width="1.6" height="0.9" fill="#777"/>
<rect x="1851.6" y="163.4" width="1.6" height="1.2" fill="#b9b9b9"/>
<rect x="1829.4" y="107.0" width="1.6" height="0.9" fill="#1a1a1a"/>
<rect x="1849.0" y="131.6" width="1.2" height="1.2" fill="#d6d6d6"/>
<rect x="1851.0" y="109.4" width="0.9" height="0.9" fill="#b9b9b9"/>
<rect x="1874.2" y="103.4" width="1.2" height="1.2" fill="#d6d6d6"/>
<rect x="1828.9" y="254.0" width="1.2" height="1.2" fill="#d6d6d6"/>
<rect x="1876.5" y="190.3" width="1.2" height="1.2" fill="#1a1a1a"/>
<rect x="1850.1" y="106.5" width="1.2" height="1.2" fill="#d6d6d6"/>
<rect x="1876.1" y="134.6" width="0.9" height="1.2" fill="#b9b9b9"/>
<rect x="1874.2" y="177.9" width="0.9" height="1.2" fill="#b9b9b9"/>
<rect x="1848.1" y="92.5" width="0.9" height="0.9" fill="#2a2a2a"/>
<rect x="1852.0" y="128.5" width="1.2" height="1.2" fill="#1a1a1a"/>
<rect x="1855.9" y="176.3" width="1.2" height="1.2" fill="#9a9a9a"/>
<rect x="1868.2" y="145.0" width="1.2" height="0.9" fill="#9a9a9a"/>
<rect x="1876.6" y="180.8" width="1.2" height="1.2" fill="#2a2a2a"/>
<rect x="1876.0" y="135.6" width="0.9" height="1.2" fill="#777"/>
<rect x="1837.8" y="143.2" width="0.9" height="0.9" fill="#2a2a2a"/>
<rect x="1867.5" y="179.7" width="1.2" height="1.2" fill="#9a9a9a"/>
<rect x="1855.9" y="141.6" width="1.6" height="0.9" fill="#b9b9b9"/>
<rect x="1864.3" y="246.5" width="0.9" height="0.9" fill="#2a2a2a"/>
<rect x="1845.6" y="90.7" width="1.2" height="0.9" fill="#777"/>
<rect x="1825.4" y="197.6" width="0.9" height="1.2" fill="#d6d6d6"/>
<rect x="1850.5" y="188.1" width="0.9" height="1.2" fill="#777"/>
<rect x="1854.4" y="204.7" width="0.9" height="1.2" fill="#777"/>
<rect x="1837.2" y="129.9" width="0.9" height="1.2" fill="#2a2a2a"/>
<rect x="1843.8" y="160.8" width="1.6" height="1.2" fill="#1a1a1a"/>
<rect x="1839.7" y="99.5" width="1.2" height="0.9" fill="#1a1a1a"/>
<rect x="1839.5" y="127.0" width="0.9" height="0.9" fill="#b9b9b9"/>
<rect x="1829.9" y="184.4" width="1.2" height="0.9" fill="#2a2a2a"/>
<rect x="1867.9" y="154.9" width="1.2" height="0.9" fill="#d6d6d6"/>
<rect x="1839.5" y="212.6" width="1.6" height="0.9" fill="#b9b9b9"/>
<rect x="1867.9" y="101.7" width="0.9" height="1.2" fill="#9a9a9a"/>
<ellipse cx="1850" cy="156" rx="22" ry="27" fill="#1c1c1c" opacity="0.72"/>
<ellipse cx="1850" cy="215" rx="22" ry="27" fill="#1b1b1b" opacity="0.7"/>
<ellipse cx="1853" cy="158" rx="12" ry="15" fill="#050505"/>
<ellipse cx="1853" cy="217" rx="11" ry="14" fill="#0a0a0a"/>
</g>
<polygon points="1829,97 1872,92 1872,118 1830,122" fill="#2a2a2a"/>
<polygon points="1852,104 1866,110 1865,114 1851,108" fill="#e8e8e8"/>
<line x1="1834" y1="117.5" x2="1866" y2="113" stroke="#bdbdbd" stroke-width="1.2"/>
<rect x="1845" y="238" width="5" height="7" fill="#dfe4f2"/>
<polygon points="1802,122 1809,124 1810,150 1803,146" fill="#3d3d3d"/>
<polygon points="1804,137 1810,139 1809,145 1804,144" fill="#e4e4e4"/>
<polygon points="1793,84 1880,84 1876,89 1824,93" fill="#1a1a1a"/>
</g>
<g transform="translate(0.0,212.5)">
<polygon points="1792,84 1880,84 1880,248 1824,263.6 1793,239.5" fill="#0a0a0a"/>
<clipPath id="spk212"><polygon points="1823,93 1878,88 1878,246 1825,260"/></clipPath>
<polygon points="1823,93 1878,88 1878,246 1825,260" fill="#727272"/>
<g clip-path="url(#spk212)">
<line x1="1824" y1="95.0" x2="1878" y2="90.5" stroke="#8a8a8a" stroke-width="0.7" opacity="0.55"/>
<line x1="1824" y1="100.5" x2="1878" y2="96.0" stroke="#8a8a8a" stroke-width="0.7" opacity="0.55"/>
<line x1="1824" y1="106.0" x2="1878" y2="101.5" stroke="#8a8a8a" stroke-width="0.7" opacity="0.55"/>
<line x1="1824" y1="111.5" x2="1878" y2="107.0" stroke="#8a8a8a" stroke-width="0.7" opacity="0.55"/>
<line x1="1824" y1="117.0" x2="1878" y2="112.5" stroke="#8a8a8a" stroke-width="0.7" opacity="0.55"/>
<line x1="1824" y1="122.5" x2="1878" y2="118.0" stroke="#8a8a8a" stroke-width="0.7" opacity="0.55"/>
<line x1="1824" y1="128.0" x2="1878" y2="123.5" stroke="#8a8a8a" stroke-width="0.7" opacity="0.55"/>
<line x1="1824" y1="133.5" x2="1878" y2="129.0" stroke="#8a8a8a" stroke-width="0.7" opacity="0.55"/>
<line x1="1824" y1="139.0" x2="1878" y2="134.5" stroke="#8a8a8a" stroke-width="0.7" opacity="0.55"/>
<line x1="1824" y1="144.5" x2="1878" y2="140.0" stroke="#8a8a8a" stroke-width="0.7" opacity="0.55"/>
<line x1="1824" y1="150.0" x2="1878" y2="145.5" stroke="#8a8a8a" stroke-width="0.7" opacity="0.55"/>
<line x1="1824" y1="155.5" x2="1878" y2="151.0" stroke="#8a8a8a" stroke-width="0.7" opacity="0.55"/>
<line x1="1824" y1="161.0" x2="1878" y2="156.5" stroke="#8a8a8a" stroke-width="0.7" opacity="0.55"/>
<line x1="1824" y1="166.5" x2="1878" y2="162.0" stroke="#8a8a8a" stroke-width="0.7" opacity="0.55"/>
<line x1="1824" y1="172.0" x2="1878" y2="167.5" stroke="#8a8a8a" stroke-width="0.7" opacity="0.55"/>
<line x1="1824" y1="177.5" x2="1878" y2="173.0" stroke="#8a8a8a" stroke-width="0.7" opacity="0.55"/>
<line x1="1824" y1="183.0" x2="1878" y2="178.5" stroke="#8a8a8a" stroke-width="0.7" opacity="0.55"/>
<line x1="1824" y1="188.5" x2="1878" y2="184.0" stroke="#8a8a8a" stroke-width="0.7" opacity="0.55"/>
<line x1="1824" y1="194.0" x2="1878" y2="189.5" stroke="#8a8a8a" stroke-width="0.7" opacity="0.55"/>
<line x1="1824" y1="199.5" x2="1878" y2="195.0" stroke="#8a8a8a" stroke-width="0.7" opacity="0.55"/>
<line x1="1824" y1="205.0" x2="1878" y2="200.5" stroke="#8a8a8a" stroke-width="0.7" opacity="0.55"/>
<line x1="1824" y1="210.5" x2="1878" y2="206.0" stroke="#8a8a8a" stroke-width="0.7" opacity="0.55"/>
<line x1="1824" y1="216.0" x2="1878" y2="211.5" stroke="#8a8a8a" stroke-width="0.7" opacity="0.55"/>
<line x1="1824" y1="221.5" x2="1878" y2="217.0" stroke="#8a8a8a" stroke-width="0.7" opacity="0.55"/>
<line x1="1824" y1="227.0" x2="1878" y2="222.5" stroke="#8a8a8a" stroke-width="0.7" opacity="0.55"/>
<line x1="1824" y1="232.5" x2="1878" y2="228.0" stroke="#8a8a8a" stroke-width="0.7" opacity="0.55"/>
<line x1="1824" y1="238.0" x2="1878" y2="233.5" stroke="#8a8a8a" stroke-width="0.7" opacity="0.55"/>
<line x1="1824" y1="243.5" x2="1878" y2="239.0" stroke="#8a8a8a" stroke-width="0.7" opacity="0.55"/>
<line x1="1824" y1="249.0" x2="1878" y2="244.5" stroke="#8a8a8a" stroke-width="0.7" opacity="0.55"/>
<line x1="1824" y1="254.5" x2="1878" y2="250.0" stroke="#8a8a8a" stroke-width="0.7" opacity="0.55"/>
<line x1="1826.0" y1="92" x2="1826.0" y2="258" stroke="#1e1e1e" stroke-width="0.9" opacity="0.42"/>
<line x1="1829.4" y1="92" x2="1829.4" y2="258" stroke="#1e1e1e" stroke-width="0.9" opacity="0.42"/>
<line x1="1832.8" y1="92" x2="1832.8" y2="258" stroke="#1e1e1e" stroke-width="0.9" opacity="0.42"/>
<line x1="1836.2" y1="92" x2="1836.2" y2="258" stroke="#1e1e1e" stroke-width="0.9" opacity="0.42"/>
<line x1="1839.6" y1="92" x2="1839.6" y2="258" stroke="#1e1e1e" stroke-width="0.9" opacity="0.42"/>
<line x1="1843.0" y1="92" x2="1843.0" y2="258" stroke="#1e1e1e" stroke-width="0.9" opacity="0.42"/>
<line x1="1846.4" y1="92" x2="1846.4" y2="258" stroke="#1e1e1e" stroke-width="0.9" opacity="0.42"/>
<line x1="1849.8" y1="92" x2="1849.8" y2="258" stroke="#1e1e1e" stroke-width="0.9" opacity="0.42"/>
<line x1="1853.2" y1="92" x2="1853.2" y2="258" stroke="#1e1e1e" stroke-width="0.9" opacity="0.42"/>
<line x1="1856.6" y1="92" x2="1856.6" y2="258" stroke="#1e1e1e" stroke-width="0.9" opacity="0.42"/>
<line x1="1860.0" y1="92" x2="1860.0" y2="258" stroke="#1e1e1e" stroke-width="0.9" opacity="0.42"/>
<line x1="1863.4" y1="92" x2="1863.4" y2="258" stroke="#1e1e1e" stroke-width="0.9" opacity="0.42"/>
<line x1="1866.8" y1="92" x2="1866.8" y2="258" stroke="#1e1e1e" stroke-width="0.9" opacity="0.42"/>
<line x1="1870.2" y1="92" x2="1870.2" y2="258" stroke="#1e1e1e" stroke-width="0.9" opacity="0.42"/>
<line x1="1873.6" y1="92" x2="1873.6" y2="258" stroke="#1e1e1e" stroke-width="0.9" opacity="0.42"/>
<line x1="1877.0" y1="92" x2="1877.0" y2="258" stroke="#1e1e1e" stroke-width="0.9" opacity="0.42"/>
<rect x="1852.6" y="127.8" width="1.2" height="1.2" fill="#1a1a1a"/>
<rect x="1868.6" y="230.9" width="0.9" height="1.2" fill="#1a1a1a"/>
<rect x="1861.5" y="102.9" width="0.9" height="0.9" fill="#b9b9b9"/>
<rect x="1877.4" y="211.4" width="0.9" height="0.9" fill="#d6d6d6"/>
<rect x="1836.0" y="161.8" width="1.6" height="0.9" fill="#777"/>
<rect x="1861.1" y="141.0" width="1.2" height="1.2" fill="#9a9a9a"/>
<rect x="1858.9" y="236.5" width="0.9" height="1.2" fill="#1a1a1a"/>
<rect x="1840.2" y="94.1" width="1.6" height="1.2" fill="#1a1a1a"/>
<rect x="1859.7" y="155.3" width="1.6" height="1.2" fill="#b9b9b9"/>
<rect x="1841.3" y="254.9" width="1.2" height="1.2" fill="#1a1a1a"/>
<rect x="1836.3" y="140.3" width="0.9" height="1.2" fill="#b9b9b9"/>
<rect x="1845.3" y="217.8" width="0.9" height="0.9" fill="#1a1a1a"/>
<rect x="1854.1" y="225.2" width="1.6" height="1.2" fill="#d6d6d6"/>
<rect x="1844.0" y="257.7" width="0.9" height="0.9" fill="#1a1a1a"/>
<rect x="1829.4" y="202.0" width="0.9" height="1.2" fill="#d6d6d6"/>
<rect x="1868.2" y="255.3" width="1.2" height="1.2" fill="#b9b9b9"/>
<rect x="1828.7" y="105.9" width="1.6" height="1.2" fill="#9a9a9a"/>
<rect x="1827.0" y="120.2" width="1.6" height="1.2" fill="#777"/>
<rect x="1869.6" y="203.9" width="0.9" height="0.9" fill="#9a9a9a"/>
<rect x="1838.2" y="113.4" width="0.9" height="0.9" fill="#d6d6d6"/>
<rect x="1876.5" y="105.0" width="1.6" height="1.2" fill="#d6d6d6"/>
<rect x="1874.4" y="98.0" width="0.9" height="0.9" fill="#777"/>
<rect x="1877.9" y="254.1" width="0.9" height="1.2" fill="#2a2a2a"/>
<rect x="1856.9" y="95.0" width="0.9" height="0.9" fill="#b9b9b9"/>
<rect x="1855.1" y="167.1" width="1.2" height="1.2" fill="#d6d6d6"/>
<rect x="1866.2" y="205.8" width="1.2" height="1.2" fill="#2a2a2a"/>
<rect x="1871.5" y="213.7" width="0.9" height="0.9" fill="#777"/>
<rect x="1831.0" y="118.3" width="1.2" height="0.9" fill="#b9b9b9"/>
<rect x="1834.5" y="210.4" width="1.6" height="0.9" fill="#d6d6d6"/>
<rect x="1862.6" y="240.2" width="0.9" height="1.2" fill="#9a9a9a"/>
<rect x="1873.2" y="253.9" width="1.2" height="0.9" fill="#777"/>
<rect x="1868.6" y="128.1" width="0.9" height="1.2" fill="#b9b9b9"/>
<rect x="1853.5" y="193.7" width="1.6" height="0.9" fill="#2a2a2a"/>
<rect x="1868.0" y="145.1" width="1.2" height="0.9" fill="#1a1a1a"/>
<rect x="1860.1" y="180.6" width="1.2" height="1.2" fill="#1a1a1a"/>
<rect x="1832.8" y="122.5" width="0.9" height="0.9" fill="#d6d6d6"/>
<rect x="1870.8" y="150.3" width="1.6" height="0.9" fill="#1a1a1a"/>
<rect x="1841.5" y="201.1" width="1.6" height="0.9" fill="#777"/>
<rect x="1876.0" y="167.1" width="0.9" height="0.9" fill="#1a1a1a"/>
<rect x="1827.5" y="173.8" width="0.9" height="0.9" fill="#9a9a9a"/>
<rect x="1861.4" y="122.6" width="1.2" height="1.2" fill="#d6d6d6"/>
<rect x="1839.9" y="135.9" width="1.6" height="1.2" fill="#d6d6d6"/>
<rect x="1852.6" y="126.4" width="1.2" height="1.2" fill="#b9b9b9"/>
<rect x="1866.9" y="151.3" width="1.6" height="0.9" fill="#9a9a9a"/>
<rect x="1847.6" y="173.4" width="0.9" height="0.9" fill="#9a9a9a"/>
<rect x="1848.4" y="154.6" width="1.6" height="1.2" fill="#2a2a2a"/>
<rect x="1848.2" y="157.8" width="1.6" height="0.9" fill="#b9b9b9"/>
<rect x="1870.3" y="252.5" width="1.6" height="1.2" fill="#2a2a2a"/>
<rect x="1828.8" y="236.9" width="1.2" height="1.2" fill="#1a1a1a"/>
<rect x="1853.6" y="140.5" width="1.2" height="1.2" fill="#777"/>
<rect x="1863.1" y="132.5" width="1.2" height="1.2" fill="#2a2a2a"/>
<rect x="1868.9" y="226.3" width="0.9" height="1.2" fill="#1a1a1a"/>
<rect x="1867.8" y="106.7" width="1.2" height="0.9" fill="#1a1a1a"/>
<rect x="1837.1" y="236.5" width="1.6" height="1.2" fill="#777"/>
<rect x="1825.7" y="176.1" width="0.9" height="0.9" fill="#d6d6d6"/>
<rect x="1846.2" y="94.6" width="0.9" height="0.9" fill="#9a9a9a"/>
<rect x="1850.2" y="251.7" width="1.6" height="1.2" fill="#2a2a2a"/>
<rect x="1854.1" y="167.9" width="0.9" height="1.2" fill="#b9b9b9"/>
<rect x="1863.9" y="97.5" width="0.9" height="0.9" fill="#777"/>
<rect x="1837.7" y="90.2" width="0.9" height="1.2" fill="#1a1a1a"/>
<rect x="1839.2" y="141.5" width="1.6" height="1.2" fill="#777"/>
<rect x="1877.5" y="256.6" width="1.6" height="0.9" fill="#1a1a1a"/>
<rect x="1831.3" y="252.3" width="1.6" height="0.9" fill="#9a9a9a"/>
<rect x="1861.4" y="252.4" width="0.9" height="0.9" fill="#b9b9b9"/>
<rect x="1876.1" y="207.3" width="1.6" height="1.2" fill="#b9b9b9"/>
<rect x="1854.2" y="123.7" width="1.2" height="1.2" fill="#9a9a9a"/>
<rect x="1856.0" y="225.0" width="1.6" height="0.9" fill="#9a9a9a"/>
<rect x="1831.1" y="245.1" width="1.2" height="1.2" fill="#b9b9b9"/>
<rect x="1862.9" y="162.4" width="1.6" height="0.9" fill="#9a9a9a"/>
<rect x="1876.5" y="144.0" width="1.6" height="1.2" fill="#d6d6d6"/>
<rect x="1873.9" y="114.3" width="1.6" height="1.2" fill="#9a9a9a"/>
<rect x="1837.7" y="253.1" width="0.9" height="0.9" fill="#d6d6d6"/>
<rect x="1875.8" y="178.9" width="1.2" height="0.9" fill="#2a2a2a"/>
<rect x="1827.9" y="177.8" width="0.9" height="1.2" fill="#2a2a2a"/>
<rect x="1847.9" y="167.7" width="1.6" height="1.2" fill="#b9b9b9"/>
<rect x="1840.9" y="92.9" width="0.9" height="0.9" fill="#2a2a2a"/>
<rect x="1837.6" y="194.6" width="0.9" height="0.9" fill="#2a2a2a"/>
<rect x="1846.4" y="145.8" width="1.6" height="1.2" fill="#2a2a2a"/>
<rect x="1854.4" y="96.9" width="1.6" height="0.9" fill="#777"/>
<rect x="1847.9" y="134.1" width="1.2" height="0.9" fill="#d6d6d6"/>
<rect x="1861.3" y="238.5" width="1.6" height="0.9" fill="#9a9a9a"/>
<rect x="1827.9" y="194.0" width="1.6" height="1.2" fill="#1a1a1a"/>
<rect x="1867.8" y="177.6" width="1.2" height="0.9" fill="#b9b9b9"/>
<rect x="1855.0" y="147.7" width="1.6" height="1.2" fill="#777"/>
<rect x="1825.2" y="147.4" width="1.6" height="0.9" fill="#1a1a1a"/>
<rect x="1877.9" y="150.1" width="0.9" height="0.9" fill="#9a9a9a"/>
<rect x="1832.6" y="147.0" width="0.9" height="0.9" fill="#2a2a2a"/>
<rect x="1870.2" y="182.9" width="1.6" height="1.2" fill="#d6d6d6"/>
<rect x="1841.0" y="220.4" width="1.6" height="0.9" fill="#d6d6d6"/>
<rect x="1842.9" y="142.5" width="0.9" height="1.2" fill="#2a2a2a"/>
<rect x="1830.8" y="117.2" width="0.9" height="1.2" fill="#9a9a9a"/>
<rect x="1868.1" y="164.9" width="0.9" height="0.9" fill="#2a2a2a"/>
<rect x="1848.4" y="166.1" width="1.2" height="0.9" fill="#d6d6d6"/>
<rect x="1833.4" y="228.9" width="1.2" height="0.9" fill="#1a1a1a"/>
<rect x="1852.5" y="178.2" width="1.6" height="1.2" fill="#9a9a9a"/>
<rect x="1846.8" y="108.5" width="0.9" height="0.9" fill="#b9b9b9"/>
<rect x="1836.7" y="239.0" width="0.9" height="0.9" fill="#1a1a1a"/>
<rect x="1839.6" y="98.4" width="1.2" height="1.2" fill="#9a9a9a"/>
<rect x="1826.2" y="252.7" width="1.6" height="1.2" fill="#9a9a9a"/>
<rect x="1853.8" y="208.2" width="1.6" height="1.2" fill="#d6d6d6"/>
<rect x="1834.0" y="187.1" width="1.6" height="1.2" fill="#2a2a2a"/>
<rect x="1857.8" y="230.7" width="1.6" height="0.9" fill="#9a9a9a"/>
<rect x="1845.3" y="102.8" width="1.6" height="1.2" fill="#1a1a1a"/>
<rect x="1859.9" y="197.0" width="1.2" height="0.9" fill="#1a1a1a"/>
<rect x="1839.1" y="152.2" width="1.6" height="1.2" fill="#b9b9b9"/>
<rect x="1868.8" y="97.5" width="1.6" height="0.9" fill="#2a2a2a"/>
<rect x="1834.8" y="143.2" width="1.2" height="1.2" fill="#b9b9b9"/>
<rect x="1865.7" y="221.4" width="0.9" height="1.2" fill="#2a2a2a"/>
<rect x="1866.6" y="144.9" width="0.9" height="1.2" fill="#9a9a9a"/>
<rect x="1835.4" y="183.8" width="1.6" height="1.2" fill="#777"/>
<rect x="1871.8" y="110.3" width="0.9" height="1.2" fill="#1a1a1a"/>
<rect x="1856.8" y="213.4" width="0.9" height="0.9" fill="#777"/>
<rect x="1839.9" y="236.6" width="1.6" height="0.9" fill="#d6d6d6"/>
<rect x="1868.4" y="169.6" width="0.9" height="0.9" fill="#d6d6d6"/>
<rect x="1873.7" y="213.9" width="0.9" height="0.9" fill="#2a2a2a"/>
<rect x="1868.6" y="250.7" width="0.9" height="1.2" fill="#9a9a9a"/>
<rect x="1861.8" y="228.7" width="0.9" height="0.9" fill="#9a9a9a"/>
<rect x="1858.1" y="200.6" width="1.2" height="1.2" fill="#9a9a9a"/>
<rect x="1859.7" y="236.9" width="0.9" height="0.9" fill="#d6d6d6"/>
<rect x="1850.0" y="233.0" width="0.9" height="0.9" fill="#d6d6d6"/>
<rect x="1835.2" y="155.3" width="1.2" height="1.2" fill="#9a9a9a"/>
<rect x="1827.1" y="189.9" width="0.9" height="0.9" fill="#b9b9b9"/>
<rect x="1874.4" y="128.8" width="0.9" height="0.9" fill="#777"/>
<rect x="1857.2" y="135.3" width="1.2" height="1.2" fill="#9a9a9a"/>
<rect x="1844.2" y="222.3" width="0.9" height="1.2" fill="#d6d6d6"/>
<rect x="1860.5" y="215.5" width="0.9" height="0.9" fill="#2a2a2a"/>
<rect x="1831.9" y="166.2" width="1.2" height="1.2" fill="#777"/>
<rect x="1877.4" y="128.5" width="0.9" height="1.2" fill="#d6d6d6"/>
<rect x="1851.0" y="241.3" width="0.9" height="1.2" fill="#9a9a9a"/>
<rect x="1839.4" y="124.1" width="1.2" height="0.9" fill="#b9b9b9"/>
<rect x="1849.6" y="113.3" width="0.9" height="0.9" fill="#b9b9b9"/>
<rect x="1868.8" y="136.1" width="1.6" height="1.2" fill="#1a1a1a"/>
<rect x="1838.3" y="114.4" width="1.2" height="1.2" fill="#b9b9b9"/>
<rect x="1875.2" y="143.2" width="0.9" height="1.2" fill="#b9b9b9"/>
<rect x="1850.3" y="146.6" width="1.2" height="0.9" fill="#2a2a2a"/>
<rect x="1832.7" y="100.0" width="1.6" height="1.2" fill="#1a1a1a"/>
<rect x="1859.1" y="125.6" width="0.9" height="0.9" fill="#1a1a1a"/>
<rect x="1842.4" y="232.1" width="1.2" height="0.9" fill="#1a1a1a"/>
<rect x="1839.0" y="138.6" width="1.6" height="0.9" fill="#d6d6d6"/>
<rect x="1855.8" y="184.8" width="0.9" height="1.2" fill="#777"/>
<rect x="1870.8" y="222.0" width="1.2" height="1.2" fill="#b9b9b9"/>
<rect x="1869.2" y="167.0" width="0.9" height="1.2" fill="#9a9a9a"/>
<rect x="1845.0" y="206.2" width="1.6" height="0.9" fill="#2a2a2a"/>
<rect x="1843.5" y="133.9" width="0.9" height="1.2" fill="#d6d6d6"/>
<rect x="1833.6" y="178.9" width="1.2" height="0.9" fill="#1a1a1a"/>
<rect x="1859.3" y="188.7" width="0.9" height="0.9" fill="#2a2a2a"/>
<rect x="1874.1" y="210.4" width="0.9" height="0.9" fill="#b9b9b9"/>
<rect x="1847.1" y="239.3" width="0.9" height="0.9" fill="#d6d6d6"/>
<rect x="1848.2" y="127.3" width="1.2" height="0.9" fill="#1a1a1a"/>
<rect x="1829.5" y="206.0" width="1.6" height="0.9" fill="#b9b9b9"/>
<rect x="1855.2" y="216.2" width="0.9" height="1.2" fill="#777"/>
<rect x="1854.0" y="123.1" width="1.6" height="0.9" fill="#777"/>
<rect x="1831.1" y="134.0" width="1.2" height="0.9" fill="#d6d6d6"/>
<rect x="1862.6" y="215.1" width="0.9" height="0.9" fill="#777"/>
<rect x="1868.4" y="132.5" width="0.9" height="1.2" fill="#9a9a9a"/>
<rect x="1875.7" y="233.4" width="1.2" height="1.2" fill="#d6d6d6"/>
<rect x="1866.0" y="108.0" width="1.2" height="0.9" fill="#b9b9b9"/>
<rect x="1866.5" y="128.3" width="1.6" height="1.2" fill="#b9b9b9"/>
<rect x="1871.9" y="125.4" width="0.9" height="0.9" fill="#d6d6d6"/>
<rect x="1827.7" y="206.2" width="1.2" height="0.9" fill="#777"/>
<rect x="1857.1" y="255.4" width="1.6" height="0.9" fill="#9a9a9a"/>
<rect x="1831.9" y="227.0" width="1.6" height="0.9" fill="#2a2a2a"/>
<rect x="1852.1" y="245.3" width="0.9" height="0.9" fill="#d6d6d6"/>
<rect x="1841.3" y="223.5" width="1.2" height="0.9" fill="#9a9a9a"/>
<rect x="1865.7" y="243.5" width="0.9" height="1.2" fill="#b9b9b9"/>
<rect x="1866.9" y="201.1" width="1.6" height="1.2" fill="#d6d6d6"/>
<rect x="1861.8" y="238.7" width="1.6" height="0.9" fill="#b9b9b9"/>
<rect x="1847.6" y="200.7" width="0.9" height="0.9" fill="#2a2a2a"/>
<rect x="1824.0" y="203.0" width="0.9" height="0.9" fill="#777"/>
<rect x="1851.2" y="243.5" width="1.2" height="0.9" fill="#1a1a1a"/>
<rect x="1852.7" y="134.9" width="0.9" height="1.2" fill="#b9b9b9"/>
<rect x="1840.6" y="187.4" width="1.6" height="0.9" fill="#9a9a9a"/>
<rect x="1830.1" y="256.6" width="1.2" height="1.2" fill="#d6d6d6"/>
<rect x="1866.6" y="138.7" width="0.9" height="1.2" fill="#d6d6d6"/>
<rect x="1835.2" y="198.7" width="0.9" height="1.2" fill="#1a1a1a"/>
<rect x="1861.8" y="158.2" width="1.6" height="1.2" fill="#2a2a2a"/>
<rect x="1824.9" y="150.9" width="0.9" height="0.9" fill="#2a2a2a"/>
<rect x="1860.0" y="201.5" width="1.2" height="1.2" fill="#777"/>
<rect x="1842.8" y="142.9" width="1.6" height="1.2" fill="#9a9a9a"/>
<rect x="1866.5" y="200.6" width="1.2" height="0.9" fill="#9a9a9a"/>
<rect x="1834.1" y="221.3" width="1.6" height="0.9" fill="#9a9a9a"/>
<rect x="1845.7" y="205.8" width="0.9" height="0.9" fill="#b9b9b9"/>
<rect x="1868.5" y="186.0" width="1.6" height="1.2" fill="#777"/>
<rect x="1824.6" y="231.7" width="0.9" height="0.9" fill="#777"/>
<rect x="1867.8" y="224.3" width="0.9" height="1.2" fill="#d6d6d6"/>
<rect x="1857.9" y="128.8" width="0.9" height="0.9" fill="#777"/>
<rect x="1838.8" y="148.6" width="0.9" height="1.2" fill="#d6d6d6"/>
<rect x="1870.9" y="157.3" width="1.6" height="1.2" fill="#b9b9b9"/>
<rect x="1832.8" y="181.4" width="0.9" height="1.2" fill="#2a2a2a"/>
<rect x="1826.6" y="167.5" width="1.2" height="1.2" fill="#2a2a2a"/>
<rect x="1834.7" y="217.4" width="0.9" height="0.9" fill="#1a1a1a"/>
<rect x="1845.3" y="208.4" width="0.9" height="0.9" fill="#777"/>
<rect x="1876.0" y="250.1" width="1.2" height="1.2" fill="#d6d6d6"/>
<rect x="1827.3" y="189.1" width="1.6" height="1.2" fill="#777"/>
<rect x="1849.0" y="104.2" width="1.6" height="0.9" fill="#b9b9b9"/>
<rect x="1825.2" y="163.5" width="0.9" height="1.2" fill="#d6d6d6"/>
<rect x="1846.2" y="208.1" width="1.2" height="0.9" fill="#b9b9b9"/>
<rect x="1840.9" y="164.1" width="1.6" height="0.9" fill="#9a9a9a"/>
<rect x="1836.9" y="139.7" width="1.6" height="1.2" fill="#9a9a9a"/>
<rect x="1846.7" y="202.5" width="1.2" height="1.2" fill="#1a1a1a"/>
<rect x="1874.6" y="143.2" width="1.6" height="0.9" fill="#1a1a1a"/>
<rect x="1850.7" y="104.3" width="1.2" height="0.9" fill="#d6d6d6"/>
<rect x="1849.2" y="164.6" width="0.9" height="1.2" fill="#1a1a1a"/>
<rect x="1857.3" y="118.9" width="1.2" height="0.9" fill="#2a2a2a"/>
<rect x="1877.4" y="179.0" width="1.6" height="0.9" fill="#777"/>
<rect x="1875.6" y="222.6" width="0.9" height="0.9" fill="#777"/>
<rect x="1868.2" y="99.3" width="1.6" height="0.9" fill="#2a2a2a"/>
<rect x="1859.3" y="118.2" width="0.9" height="0.9" fill="#2a2a2a"/>
<rect x="1826.4" y="250.4" width="0.9" height="0.9" fill="#9a9a9a"/>
<rect x="1843.5" y="221.7" width="1.2" height="0.9" fill="#2a2a2a"/>
<rect x="1851.4" y="128.2" width="1.2" height="1.2" fill="#1a1a1a"/>
<rect x="1874.8" y="147.4" width="1.2" height="0.9" fill="#2a2a2a"/>
<rect x="1842.8" y="178.1" width="1.2" height="0.9" fill="#2a2a2a"/>
<rect x="1835.5" y="201.0" width="1.6" height="1.2" fill="#2a2a2a"/>
<rect x="1876.3" y="219.9" width="1.6" height="0.9" fill="#9a9a9a"/>
<rect x="1852.6" y="233.0" width="1.6" height="0.9" fill="#b9b9b9"/>
<rect x="1833.2" y="248.7" width="0.9" height="1.2" fill="#777"/>
<rect x="1856.8" y="140.2" width="1.2" height="0.9" fill="#9a9a9a"/>
<rect x="1873.7" y="105.2" width="1.2" height="1.2" fill="#9a9a9a"/>
<rect x="1876.6" y="188.8" width="1.6" height="0.9" fill="#b9b9b9"/>
<rect x="1859.6" y="169.2" width="0.9" height="1.2" fill="#d6d6d6"/>
<rect x="1829.3" y="232.7" width="1.2" height="1.2" fill="#777"/>
<rect x="1841.5" y="255.3" width="1.6" height="0.9" fill="#d6d6d6"/>
<rect x="1866.8" y="152.8" width="1.2" height="1.2" fill="#2a2a2a"/>
<rect x="1824.4" y="237.6" width="0.9" height="0.9" fill="#777"/>
<rect x="1862.5" y="247.6" width="1.2" height="0.9" fill="#2a2a2a"/>
<rect x="1862.7" y="101.7" width="1.2" height="0.9" fill="#777"/>
<rect x="1866.7" y="210.7" width="1.6" height="1.2" fill="#b9b9b9"/>
<rect x="1864.3" y="240.2" width="0.9" height="1.2" fill="#d6d6d6"/>
<rect x="1849.5" y="109.1" width="0.9" height="1.2" fill="#9a9a9a"/>
<rect x="1851.3" y="124.8" width="1.6" height="1.2" fill="#777"/>
<rect x="1868.5" y="121.5" width="0.9" height="1.2" fill="#777"/>
<rect x="1872.9" y="155.8" width="1.6" height="0.9" fill="#d6d6d6"/>
<rect x="1874.7" y="136.0" width="0.9" height="1.2" fill="#1a1a1a"/>
<rect x="1874.1" y="229.2" width="0.9" height="1.2" fill="#9a9a9a"/>
<rect x="1876.2" y="154.2" width="0.9" height="0.9" fill="#9a9a9a"/>
<rect x="1868.8" y="149.2" width="0.9" height="1.2" fill="#d6d6d6"/>
<rect x="1854.5" y="213.9" width="1.6" height="1.2" fill="#1a1a1a"/>
<rect x="1825.4" y="196.6" width="0.9" height="1.2" fill="#1a1a1a"/>
<rect x="1857.8" y="165.7" width="0.9" height="0.9" fill="#9a9a9a"/>
<rect x="1837.9" y="177.9" width="0.9" height="0.9" fill="#d6d6d6"/>
<rect x="1871.3" y="234.3" width="1.6" height="0.9" fill="#b9b9b9"/>
<rect x="1849.6" y="186.1" width="1.6" height="1.2" fill="#1a1a1a"/>
<rect x="1867.3" y="252.5" width="1.6" height="0.9" fill="#2a2a2a"/>
<rect x="1835.0" y="142.8" width="1.6" height="0.9" fill="#2a2a2a"/>
<rect x="1839.8" y="93.6" width="1.2" height="0.9" fill="#2a2a2a"/>
<rect x="1874.4" y="236.2" width="1.2" height="1.2" fill="#d6d6d6"/>
<rect x="1846.8" y="139.4" width="1.2" height="0.9" fill="#9a9a9a"/>
<rect x="1870.0" y="173.7" width="1.2" height="1.2" fill="#2a2a2a"/>
<rect x="1840.6" y="223.9" width="1.6" height="1.2" fill="#2a2a2a"/>
<rect x="1845.5" y="161.3" width="1.6" height="1.2" fill="#777"/>
<rect x="1874.3" y="123.2" width="1.2" height="1.2" fill="#b9b9b9"/>
<rect x="1848.3" y="102.9" width="1.6" height="0.9" fill="#2a2a2a"/>
<rect x="1827.7" y="248.3" width="0.9" height="1.2" fill="#d6d6d6"/>
<rect x="1830.0" y="102.1" width="1.6" height="1.2" fill="#d6d6d6"/>
<rect x="1872.6" y="215.9" width="0.9" height="0.9" fill="#9a9a9a"/>
<rect x="1856.0" y="152.4" width="1.6" height="0.9" fill="#d6d6d6"/>
<rect x="1844.8" y="217.0" width="1.6" height="1.2" fill="#b9b9b9"/>
<rect x="1835.0" y="148.5" width="1.2" height="0.9" fill="#b9b9b9"/>
<rect x="1868.4" y="90.4" width="1.2" height="1.2" fill="#1a1a1a"/>
<ellipse cx="1850" cy="156" rx="22" ry="27" fill="#1c1c1c" opacity="0.72"/>
<ellipse cx="1850" cy="215" rx="22" ry="27" fill="#1b1b1b" opacity="0.7"/>
<ellipse cx="1853" cy="158" rx="12" ry="15" fill="#050505"/>
<ellipse cx="1853" cy="217" rx="11" ry="14" fill="#0a0a0a"/>
</g>
<polygon points="1829,97 1872,92 1872,118 1830,122" fill="#2a2a2a"/>
<polygon points="1852,104 1866,110 1865,114 1851,108" fill="#e8e8e8"/>
<line x1="1834" y1="117.5" x2="1866" y2="113" stroke="#bdbdbd" stroke-width="1.2"/>
<rect x="1845" y="238" width="5" height="7" fill="#dfe4f2"/>
<polygon points="1802,122 1809,124 1810,150 1803,146" fill="#3d3d3d"/>
<polygon points="1804,137 1810,139 1809,145 1804,144" fill="#e4e4e4"/>
<polygon points="1793,84 1880,84 1876,89 1824,93" fill="#1a1a1a"/>
</g>
<path d="M1884.4,156.4 C1884.5,158.9 1885.2,161.5 1884.9,163.9 C1884.6,166.3 1883.7,168.8 1882.6,170.8 C1881.6,172.9 1880.0,174.5 1878.7,176.3 C1877.3,178.1 1876.2,180.1 1874.6,181.5 C1873.1,182.9 1871.3,183.9 1869.5,184.8 C1867.7,185.7 1865.8,186.6 1863.9,187.0 C1862.0,187.4 1859.9,187.8 1858.0,187.3 C1856.2,186.8 1854.4,185.2 1852.7,184.1 C1851.0,183.0 1849.5,181.8 1847.8,180.7 C1846.1,179.5 1843.9,178.8 1842.6,177.1 C1841.3,175.4 1840.7,172.7 1839.8,170.5 C1839.0,168.3 1837.6,166.2 1837.3,163.8 C1836.9,161.5 1837.8,158.9 1837.8,156.4 C1837.9,153.9 1837.5,151.5 1837.8,149.1 C1838.1,146.7 1838.5,144.1 1839.4,142.0 C1840.4,139.9 1842.1,138.5 1843.4,136.6 C1844.6,134.6 1845.5,132.1 1846.9,130.5 C1848.4,128.9 1850.4,127.6 1852.3,127.1 C1854.1,126.5 1856.3,127.1 1858.2,127.1 C1860.1,127.1 1861.9,127.0 1863.8,127.1 C1865.7,127.2 1867.7,127.2 1869.5,127.8 C1871.4,128.4 1873.5,129.1 1875.1,130.5 C1876.6,132.0 1877.7,134.3 1878.8,136.3 C1879.9,138.3 1880.9,140.4 1881.8,142.5 C1882.7,144.6 1883.7,146.8 1884.2,149.1 C1884.6,151.5 1884.3,153.9 1884.4,156.4 Z" fill="none" stroke="#c64bd0" stroke-width="4.0" stroke-linejoin="round" transform="rotate(0.0 1861.0 156.4)"/>
<path d="M1912.4,164.0 C1912.5,167.0 1912.4,170.2 1911.5,172.9 C1910.7,175.6 1908.7,177.8 1907.3,180.2 C1906.0,182.6 1904.8,184.8 1903.4,187.2 C1902.1,189.5 1901.0,192.5 1899.2,194.3 C1897.4,196.2 1894.9,197.2 1892.6,198.2 C1890.4,199.2 1888.0,200.0 1885.6,200.2 C1883.2,200.3 1880.8,199.6 1878.5,199.3 C1876.1,198.9 1873.7,198.8 1871.5,197.9 C1869.2,197.0 1867.1,195.5 1865.1,193.8 C1863.2,192.2 1861.2,190.3 1859.8,188.0 C1858.4,185.8 1857.6,182.9 1856.5,180.3 C1855.5,177.8 1854.1,175.3 1853.5,172.6 C1852.9,169.9 1852.8,166.9 1852.7,164.0 C1852.6,161.1 1852.5,158.1 1852.9,155.3 C1853.3,152.4 1853.9,149.3 1855.0,146.7 C1856.0,144.0 1857.5,141.4 1859.2,139.4 C1860.9,137.3 1863.1,135.8 1865.2,134.3 C1867.2,132.8 1869.4,131.4 1871.6,130.5 C1873.8,129.6 1876.2,129.0 1878.5,128.8 C1880.8,128.7 1883.2,129.0 1885.4,129.4 C1887.7,129.9 1889.9,130.6 1892.1,131.5 C1894.3,132.3 1896.8,132.9 1898.7,134.4 C1900.7,135.9 1902.3,138.3 1903.8,140.4 C1905.3,142.6 1906.6,145.0 1907.9,147.4 C1909.2,149.9 1910.7,152.4 1911.4,155.1 C1912.2,157.9 1912.4,161.0 1912.4,164.0 Z" fill="none" stroke="#595960" stroke-width="4.0" stroke-linejoin="round" transform="rotate(0.0 1882.0 164.0)"/>
<path d="M1929.5,224.0 C1929.7,227.7 1929.9,231.8 1929.2,235.4 C1928.5,239.0 1926.9,242.5 1925.5,245.9 C1924.1,249.3 1922.7,252.8 1920.7,255.7 C1918.8,258.7 1916.4,261.5 1913.8,263.4 C1911.1,265.3 1907.9,266.0 1904.9,267.1 C1902.0,268.1 1899.2,268.7 1896.2,269.5 C1893.2,270.4 1889.9,272.6 1886.9,272.3 C1884.0,272.0 1881.1,269.3 1878.3,267.7 C1875.5,266.0 1873.0,264.2 1870.2,262.4 C1867.5,260.5 1864.0,259.3 1861.9,256.6 C1859.8,253.9 1859.1,249.5 1857.7,246.0 C1856.3,242.5 1854.2,239.3 1853.4,235.6 C1852.7,232.0 1853.2,227.9 1853.3,224.0 C1853.3,220.1 1853.1,216.1 1854.0,212.5 C1854.8,208.9 1857.0,205.9 1858.4,202.5 C1859.9,199.1 1860.8,195.3 1862.6,192.2 C1864.4,189.1 1866.7,186.0 1869.3,183.9 C1871.8,181.8 1875.1,180.8 1878.0,179.5 C1881.0,178.2 1883.9,176.6 1887.0,176.1 C1890.0,175.5 1893.4,175.5 1896.4,176.3 C1899.4,177.1 1902.0,179.6 1904.9,180.9 C1907.9,182.3 1911.3,182.3 1914.0,184.2 C1916.6,186.1 1918.8,189.3 1920.7,192.3 C1922.6,195.3 1924.1,198.8 1925.3,202.2 C1926.5,205.7 1927.2,209.4 1927.9,213.0 C1928.6,216.6 1929.3,220.3 1929.5,224.0 Z" fill="none" stroke="#f0875c" stroke-width="6.2" stroke-linejoin="round" transform="rotate(8.0 1891.7 224.0)"/>
<path d="M1898.8,362.8 C1898.8,365.1 1898.3,367.4 1897.9,369.7 C1897.5,372.0 1897.3,374.4 1896.4,376.4 C1895.6,378.5 1894.2,380.3 1892.9,381.9 C1891.6,383.6 1890.2,385.0 1888.7,386.4 C1887.2,387.7 1885.7,389.1 1884.0,390.2 C1882.4,391.3 1880.5,392.5 1878.7,393.0 C1876.8,393.4 1874.8,393.1 1872.9,392.7 C1871.0,392.4 1869.0,391.9 1867.3,390.9 C1865.6,389.9 1864.2,388.0 1862.7,386.6 C1861.2,385.2 1859.4,384.2 1858.1,382.4 C1856.9,380.7 1856.1,378.4 1855.3,376.3 C1854.5,374.2 1853.9,372.0 1853.5,369.7 C1853.1,367.5 1852.9,365.1 1852.9,362.8 C1852.9,360.5 1853.2,358.3 1853.4,355.9 C1853.6,353.6 1853.6,350.9 1854.3,348.7 C1855.1,346.5 1856.5,344.6 1857.8,342.8 C1859.1,341.0 1860.5,339.4 1862.1,338.0 C1863.7,336.7 1865.4,335.3 1867.3,334.7 C1869.1,334.0 1871.1,334.3 1873.0,334.2 C1874.9,334.0 1876.7,333.8 1878.6,333.9 C1880.4,334.1 1882.4,334.3 1884.2,335.0 C1886.0,335.7 1887.7,336.9 1889.3,338.2 C1890.9,339.4 1892.5,341.0 1893.8,342.8 C1895.1,344.5 1896.4,346.5 1897.1,348.7 C1897.8,350.9 1897.6,353.6 1897.9,356.0 C1898.2,358.3 1898.8,360.5 1898.8,362.8 Z" fill="none" stroke="#c86f72" stroke-width="3.2" stroke-linejoin="round" transform="rotate(0.0 1875.8 362.8)"/>
<path d="M1936.6,351.9 C1936.9,355.6 1936.5,359.6 1935.8,363.3 C1935.2,367.0 1934.0,370.7 1932.6,374.2 C1931.3,377.6 1929.7,381.2 1927.6,384.0 C1925.6,386.9 1922.8,389.0 1920.2,391.2 C1917.7,393.4 1915.1,396.2 1912.2,397.1 C1909.3,398.1 1905.8,396.8 1902.7,397.0 C1899.7,397.2 1896.8,398.4 1893.7,398.4 C1890.7,398.5 1887.3,398.4 1884.4,397.2 C1881.5,395.9 1879.0,393.2 1876.5,391.0 C1873.9,388.8 1870.9,386.9 1869.1,383.9 C1867.2,381.0 1866.8,376.6 1865.6,373.1 C1864.3,369.7 1862.2,366.6 1861.5,363.1 C1860.7,359.6 1861.0,355.6 1861.0,351.9 C1860.9,348.1 1860.7,344.3 1861.3,340.6 C1861.9,336.9 1862.9,333.1 1864.5,329.9 C1866.1,326.8 1868.7,324.4 1870.8,321.8 C1872.9,319.1 1874.8,316.2 1877.1,314.0 C1879.5,311.8 1882.3,310.3 1885.0,308.6 C1887.8,306.9 1890.6,304.6 1893.6,303.9 C1896.6,303.2 1900.0,303.5 1903.0,304.4 C1905.9,305.2 1908.6,307.6 1911.5,309.0 C1914.3,310.3 1917.9,310.3 1920.3,312.4 C1922.8,314.5 1924.0,318.6 1926.0,321.5 C1928.0,324.4 1930.9,326.6 1932.2,329.9 C1933.6,333.1 1933.5,337.3 1934.2,340.9 C1935.0,344.6 1936.4,348.2 1936.6,351.9 Z" fill="none" stroke="#55e862" stroke-width="5.6" stroke-linejoin="round" transform="rotate(12.0 1898.3 351.9)"/>
<path d="M1911.5,440.5 C1911.5,443.4 1911.3,446.5 1910.7,449.3 C1910.0,452.1 1908.8,454.8 1907.5,457.2 C1906.3,459.6 1904.9,462.0 1903.2,464.0 C1901.6,465.9 1899.6,467.3 1897.8,469.1 C1896.0,470.8 1894.4,473.4 1892.3,474.5 C1890.2,475.7 1887.7,475.8 1885.4,476.1 C1883.1,476.5 1880.6,477.3 1878.3,476.9 C1876.1,476.5 1873.9,474.9 1871.7,473.8 C1869.5,472.8 1867.0,472.3 1865.1,470.7 C1863.2,469.0 1862.1,466.2 1860.5,464.0 C1859.0,461.8 1856.9,460.0 1855.7,457.6 C1854.5,455.1 1853.7,452.1 1853.3,449.2 C1852.8,446.4 1853.0,443.4 1853.1,440.5 C1853.1,437.6 1853.2,434.7 1853.7,431.8 C1854.1,429.0 1854.7,426.0 1855.9,423.5 C1857.1,421.1 1859.1,419.3 1860.6,417.1 C1862.2,415.0 1863.6,412.6 1865.4,410.7 C1867.1,408.9 1869.2,407.0 1871.4,406.1 C1873.6,405.2 1876.1,405.7 1878.5,405.3 C1880.8,405.0 1883.2,403.8 1885.5,404.0 C1887.8,404.2 1890.1,405.4 1892.3,406.4 C1894.5,407.4 1896.9,408.4 1898.8,410.1 C1900.6,411.9 1902.0,414.5 1903.3,416.9 C1904.7,419.2 1905.6,421.8 1906.8,424.2 C1908.1,426.7 1909.9,429.0 1910.6,431.7 C1911.4,434.4 1911.5,437.6 1911.5,440.5 Z" fill="none" stroke="#ecea52" stroke-width="4.6" stroke-linejoin="round" transform="rotate(10.0 1881.9 440.5)"/>
<clipPath id="filmclip"><rect x="2358" y="74.7" width="153.6" height="1101.6"/></clipPath><g clip-path="url(#filmclip)">
<polyline points="2408.9,144.5 2379.9,154.9 2387.5,176.3" stroke="#ad6338" stroke-width="1.9" fill="none" stroke-linejoin="round" stroke-linecap="round"/>
<ellipse cx="2389.2" cy="177.9" rx="9.3" ry="4.9" fill="none" stroke="#5c5c5c" stroke-width="1"/>
<ellipse cx="2389.2" cy="177.9" rx="5.6" ry="3.0" fill="none" stroke="#3a3a3a" stroke-width="0.8"/>
<polyline points="2451.0,128.7 2459.7,130.0 2468.5,142.9" stroke="#ad6338" stroke-width="3.0" fill="none" stroke-linejoin="round" stroke-linecap="round"/>
<polyline points="2459.7,128.7 2471.7,126.5 2487.1,146.2" stroke="#ad6338" stroke-width="1.9" fill="none" stroke-linejoin="round" stroke-linecap="round"/>
<ellipse cx="2486.5" cy="147.3" rx="7.1" ry="3.8" fill="none" stroke="#5c5c5c" stroke-width="1"/>
<ellipse cx="2486.5" cy="147.3" rx="4.3" ry="2.3" fill="none" stroke="#3a3a3a" stroke-width="0.8"/>
<polygon points="2430.2,101.9 2458.1,101.6 2454.8,128.7 2429.1,119.9" fill="none" stroke="#aca56c" stroke-width="0.8"/>
<line x1="2435.8" y1="101.8" x2="2434.2" y2="121.7" stroke="#aca56c" stroke-width="0.6"/>
<line x1="2441.3" y1="101.8" x2="2439.4" y2="123.4" stroke="#aca56c" stroke-width="0.6"/>
<line x1="2446.9" y1="101.7" x2="2444.5" y2="125.2" stroke="#aca56c" stroke-width="0.6"/>
<line x1="2452.5" y1="101.6" x2="2449.7" y2="126.9" stroke="#aca56c" stroke-width="0.6"/>
<line x1="2429.8" y1="107.9" x2="2457.0" y2="110.6" stroke="#aca56c" stroke-width="0.6"/>
<line x1="2429.5" y1="113.9" x2="2455.9" y2="119.6" stroke="#aca56c" stroke-width="0.6"/>
<polygon points="2409.4,127.0 2430.2,101.9 2429.1,119.9 2410.0,144.0" fill="none" stroke="#aca56c" stroke-width="0.9"/>
<line x1="2414.6" y1="120.8" x2="2414.7" y2="138.0" stroke="#aca56c" stroke-width="0.7"/>
<line x1="2419.8" y1="114.5" x2="2419.5" y2="132.0" stroke="#aca56c" stroke-width="0.7"/>
<line x1="2425.0" y1="108.2" x2="2424.3" y2="126.0" stroke="#aca56c" stroke-width="0.7"/>
<line x1="2409.6" y1="132.7" x2="2429.8" y2="107.9" stroke="#aca56c" stroke-width="0.7"/>
<line x1="2409.8" y1="138.3" x2="2429.5" y2="113.9" stroke="#aca56c" stroke-width="0.7"/>
<polygon points="2432.4,97.5 2447.1,100.2 2447.1,110.1 2433.5,109.0" fill="#2b4741"/>
<polygon points="2437.8,100.2 2445.5,101.9 2445.5,106.8 2438.4,105.7" fill="#1d302c"/>
<polygon points="2433.5,110.6 2445.5,111.7 2444.4,133.6 2434.6,132.0" fill="#3d3d58"/>
<circle cx="2439.2" cy="116.7" r="2.3" fill="#8c8cb8"/><circle cx="2439.2" cy="116.7" r="1.1" fill="#22223a"/>
<circle cx="2439.6" cy="126.5" r="3.8" fill="#5e5e8a"/><circle cx="2439.6" cy="126.5" r="2.5" fill="#1c1c30"/>
<polygon points="2409.4,127.0 2441.1,134.7 2440.0,156.0 2410.0,144.0" fill="none" stroke="#aca56c" stroke-width="1.0"/>
<line x1="2415.7" y1="128.6" x2="2416.0" y2="146.4" stroke="#aca56c" stroke-width="0.8"/>
<line x1="2422.1" y1="130.1" x2="2422.0" y2="148.8" stroke="#aca56c" stroke-width="0.8"/>
<line x1="2428.4" y1="131.6" x2="2428.0" y2="151.2" stroke="#aca56c" stroke-width="0.8"/>
<line x1="2434.8" y1="133.2" x2="2434.0" y2="153.6" stroke="#aca56c" stroke-width="0.8"/>
<line x1="2409.6" y1="132.7" x2="2440.8" y2="141.8" stroke="#aca56c" stroke-width="0.8"/>
<line x1="2409.8" y1="138.3" x2="2440.4" y2="148.9" stroke="#aca56c" stroke-width="0.8"/>
<polygon points="2441.1,134.7 2458.1,101.6 2454.8,128.7 2440.0,156.0" fill="none" stroke="#aca56c" stroke-width="1.0"/>
<line x1="2445.4" y1="126.4" x2="2443.7" y2="149.2" stroke="#aca56c" stroke-width="0.8"/>
<line x1="2449.6" y1="118.1" x2="2447.4" y2="142.4" stroke="#aca56c" stroke-width="0.8"/>
<line x1="2453.8" y1="109.8" x2="2451.1" y2="135.5" stroke="#aca56c" stroke-width="0.8"/>
<line x1="2440.8" y1="141.8" x2="2457.0" y2="110.6" stroke="#aca56c" stroke-width="0.8"/>
<line x1="2440.4" y1="148.9" x2="2455.9" y2="119.6" stroke="#aca56c" stroke-width="0.8"/>
<polygon points="2403.4,106.8 2417.6,105.2 2417.1,122.1 2412.7,126.5 2403.4,124.3" fill="#44445e"/>
<polygon points="2412.7,106.8 2417.6,105.2 2417.1,122.1 2412.7,126.5" fill="#2c2c3e"/>
<circle cx="2406.9" cy="111.2" r="2.1" fill="#b9b9dc"/><circle cx="2406.9" cy="111.2" r="1" fill="#33334a"/>
<circle cx="2407.4" cy="118.6" r="3.6" fill="#6a6a96"/><circle cx="2407.4" cy="118.6" r="2.3" fill="#20203a"/>
<rect x="2416.5" y="139.6" width="14.4" height="7.6" rx="2.4" fill="#d9d9d9" transform="rotate(12 2416.5 139.6)"/>
<ellipse cx="2425.6" cy="145.3" rx="2.6" ry="1.8" fill="#3c3c3c"/>
<polyline points="2408.9,282.2 2379.9,292.6 2385.9,313.4" stroke="#ad6338" stroke-width="1.9" fill="none" stroke-linejoin="round" stroke-linecap="round"/>
<ellipse cx="2387.5" cy="315.6" rx="9.3" ry="4.9" fill="none" stroke="#5c5c5c" stroke-width="1"/>
<ellipse cx="2387.5" cy="315.6" rx="5.6" ry="3.0" fill="none" stroke="#3a3a3a" stroke-width="0.8"/>
<polyline points="2449.9,268.6 2459.7,283.9 2463.0,305.8" stroke="#ad6338" stroke-width="2.8" fill="none" stroke-linejoin="round" stroke-linecap="round"/>
<polyline points="2459.7,266.4 2471.7,263.1 2480.5,281.7" stroke="#ad6338" stroke-width="1.9" fill="none" stroke-linejoin="round" stroke-linecap="round"/>
<polygon points="2430.2,239.6 2458.1,239.3 2454.8,266.4 2429.1,257.6" fill="none" stroke="#aca56c" stroke-width="0.8"/>
<line x1="2435.8" y1="239.5" x2="2434.2" y2="259.4" stroke="#aca56c" stroke-width="0.6"/>
<line x1="2441.3" y1="239.5" x2="2439.4" y2="261.1" stroke="#aca56c" stroke-width="0.6"/>
<line x1="2446.9" y1="239.4" x2="2444.5" y2="262.9" stroke="#aca56c" stroke-width="0.6"/>
<line x1="2452.5" y1="239.3" x2="2449.7" y2="264.6" stroke="#aca56c" stroke-width="0.6"/>
<line x1="2429.8" y1="245.6" x2="2457.0" y2="248.3" stroke="#aca56c" stroke-width="0.6"/>
<line x1="2429.5" y1="251.6" x2="2455.9" y2="257.3" stroke="#aca56c" stroke-width="0.6"/>
<polygon points="2409.4,264.7 2430.2,239.6 2429.1,257.6 2410.0,281.7" fill="none" stroke="#aca56c" stroke-width="0.9"/>
<line x1="2414.6" y1="258.5" x2="2414.7" y2="275.7" stroke="#aca56c" stroke-width="0.7"/>
<line x1="2419.8" y1="252.2" x2="2419.5" y2="269.7" stroke="#aca56c" stroke-width="0.7"/>
<line x1="2425.0" y1="245.9" x2="2424.3" y2="263.7" stroke="#aca56c" stroke-width="0.7"/>
<line x1="2409.6" y1="270.4" x2="2429.8" y2="245.6" stroke="#aca56c" stroke-width="0.7"/>
<line x1="2409.8" y1="276.0" x2="2429.5" y2="251.6" stroke="#aca56c" stroke-width="0.7"/>
<polygon points="2432.4,235.2 2447.1,237.9 2447.1,247.8 2433.5,246.7" fill="#2b4741"/>
<polygon points="2437.8,237.9 2445.5,239.6 2445.5,244.5 2438.4,243.4" fill="#1d302c"/>
<polygon points="2433.5,248.3 2445.5,249.4 2444.4,271.3 2434.6,269.7" fill="#3d3d58"/>
<circle cx="2439.2" cy="254.4" r="2.3" fill="#8c8cb8"/><circle cx="2439.2" cy="254.4" r="1.1" fill="#22223a"/>
<circle cx="2439.6" cy="264.2" r="3.8" fill="#5e5e8a"/><circle cx="2439.6" cy="264.2" r="2.5" fill="#1c1c30"/>
<polygon points="2409.4,264.7 2441.1,272.4 2440.0,293.7 2410.0,281.7" fill="none" stroke="#aca56c" stroke-width="1.0"/>
<line x1="2415.7" y1="266.3" x2="2416.0" y2="284.1" stroke="#aca56c" stroke-width="0.8"/>
<line x1="2422.1" y1="267.8" x2="2422.0" y2="286.5" stroke="#aca56c" stroke-width="0.8"/>
<line x1="2428.4" y1="269.3" x2="2428.0" y2="288.9" stroke="#aca56c" stroke-width="0.8"/>
<line x1="2434.8" y1="270.9" x2="2434.0" y2="291.3" stroke="#aca56c" stroke-width="0.8"/>
<line x1="2409.6" y1="270.4" x2="2440.8" y2="279.5" stroke="#aca56c" stroke-width="0.8"/>
<line x1="2409.8" y1="276.0" x2="2440.4" y2="286.6" stroke="#aca56c" stroke-width="0.8"/>
<polygon points="2441.1,272.4 2458.1,239.3 2454.8,266.4 2440.0,293.7" fill="none" stroke="#aca56c" stroke-width="1.0"/>
<line x1="2445.4" y1="264.1" x2="2443.7" y2="286.9" stroke="#aca56c" stroke-width="0.8"/>
<line x1="2449.6" y1="255.8" x2="2447.4" y2="280.1" stroke="#aca56c" stroke-width="0.8"/>
<line x1="2453.8" y1="247.5" x2="2451.1" y2="273.2" stroke="#aca56c" stroke-width="0.8"/>
<line x1="2440.8" y1="279.5" x2="2457.0" y2="248.3" stroke="#aca56c" stroke-width="0.8"/>
<line x1="2440.4" y1="286.6" x2="2455.9" y2="257.3" stroke="#aca56c" stroke-width="0.8"/>
<polygon points="2403.4,244.5 2417.6,242.9 2417.1,259.8 2412.7,264.2 2403.4,262.0" fill="#44445e"/>
<polygon points="2412.7,244.5 2417.6,242.9 2417.1,259.8 2412.7,264.2" fill="#2c2c3e"/>
<circle cx="2406.9" cy="248.9" r="2.1" fill="#b9b9dc"/><circle cx="2406.9" cy="248.9" r="1" fill="#33334a"/>
<circle cx="2407.4" cy="256.3" r="3.6" fill="#6a6a96"/><circle cx="2407.4" cy="256.3" r="2.3" fill="#20203a"/>
<rect x="2416.5" y="277.3" width="14.4" height="7.6" rx="2.4" fill="#d9d9d9" transform="rotate(12 2416.5 277.3)"/>
<ellipse cx="2425.6" cy="283.0" rx="2.6" ry="1.8" fill="#3c3c3c"/>
<line x1="2358" y1="212.4" x2="2511.6" y2="212.4" stroke="#0e0e0e" stroke-width="1"/>
<polyline points="2408.9,419.9 2376.6,426.0 2371.1,447.8" stroke="#ad6338" stroke-width="1.9" fill="none" stroke-linejoin="round" stroke-linecap="round"/>
<polyline points="2412.7,419.4 2409.4,445.6" stroke="#7a7a7a" stroke-width="1.2" fill="none" stroke-linejoin="round" stroke-linecap="round"/>
<ellipse cx="2409.4" cy="447.8" rx="5.5" ry="3.1" fill="none" stroke="#5c5c5c" stroke-width="1"/>
<ellipse cx="2409.4" cy="447.8" rx="3.3" ry="1.8" fill="none" stroke="#3a3a3a" stroke-width="0.8"/>
<polyline points="2449.9,406.3 2463.0,426.0 2467.4,452.2" stroke="#ad6338" stroke-width="2.8" fill="none" stroke-linejoin="round" stroke-linecap="round"/>
<polyline points="2459.7,404.1 2473.9,400.8 2492.5,410.6" stroke="#ad6338" stroke-width="1.9" fill="none" stroke-linejoin="round" stroke-linecap="round"/>
<polygon points="2430.2,377.3 2458.1,377.0 2454.8,404.1 2429.1,395.3" fill="none" stroke="#aca56c" stroke-width="0.8"/>
<line x1="2435.8" y1="377.2" x2="2434.2" y2="397.1" stroke="#aca56c" stroke-width="0.6"/>
<line x1="2441.3" y1="377.2" x2="2439.4" y2="398.8" stroke="#aca56c" stroke-width="0.6"/>
<line x1="2446.9" y1="377.1" x2="2444.5" y2="400.6" stroke="#aca56c" stroke-width="0.6"/>
<line x1="2452.5" y1="377.0" x2="2449.7" y2="402.3" stroke="#aca56c" stroke-width="0.6"/>
<line x1="2429.8" y1="383.3" x2="2457.0" y2="386.0" stroke="#aca56c" stroke-width="0.6"/>
<line x1="2429.5" y1="389.3" x2="2455.9" y2="395.0" stroke="#aca56c" stroke-width="0.6"/>
<polygon points="2409.4,402.4 2430.2,377.3 2429.1,395.3 2410.0,419.4" fill="none" stroke="#aca56c" stroke-width="0.9"/>
<line x1="2414.6" y1="396.2" x2="2414.7" y2="413.4" stroke="#aca56c" stroke-width="0.7"/>
<line x1="2419.8" y1="389.9" x2="2419.5" y2="407.4" stroke="#aca56c" stroke-width="0.7"/>
<line x1="2425.0" y1="383.6" x2="2424.3" y2="401.4" stroke="#aca56c" stroke-width="0.7"/>
<line x1="2409.6" y1="408.1" x2="2429.8" y2="383.3" stroke="#aca56c" stroke-width="0.7"/>
<line x1="2409.8" y1="413.7" x2="2429.5" y2="389.3" stroke="#aca56c" stroke-width="0.7"/>
<polygon points="2432.4,372.9 2447.1,375.6 2447.1,385.5 2433.5,384.4" fill="#2b4741"/>
<polygon points="2437.8,375.6 2445.5,377.3 2445.5,382.2 2438.4,381.1" fill="#1d302c"/>
<polygon points="2433.5,386.0 2445.5,387.1 2444.4,409.0 2434.6,407.4" fill="#3d3d58"/>
<circle cx="2439.2" cy="392.1" r="2.3" fill="#8c8cb8"/><circle cx="2439.2" cy="392.1" r="1.1" fill="#22223a"/>
<circle cx="2439.6" cy="401.9" r="3.8" fill="#5e5e8a"/><circle cx="2439.6" cy="401.9" r="2.5" fill="#1c1c30"/>
<polygon points="2409.4,402.4 2441.1,410.1 2440.0,431.4 2410.0,419.4" fill="none" stroke="#aca56c" stroke-width="1.0"/>
<line x1="2415.7" y1="404.0" x2="2416.0" y2="421.8" stroke="#aca56c" stroke-width="0.8"/>
<line x1="2422.1" y1="405.5" x2="2422.0" y2="424.2" stroke="#aca56c" stroke-width="0.8"/>
<line x1="2428.4" y1="407.0" x2="2428.0" y2="426.6" stroke="#aca56c" stroke-width="0.8"/>
<line x1="2434.8" y1="408.6" x2="2434.0" y2="429.0" stroke="#aca56c" stroke-width="0.8"/>
<line x1="2409.6" y1="408.1" x2="2440.8" y2="417.2" stroke="#aca56c" stroke-width="0.8"/>
<line x1="2409.8" y1="413.7" x2="2440.4" y2="424.3" stroke="#aca56c" stroke-width="0.8"/>
<polygon points="2441.1,410.1 2458.1,377.0 2454.8,404.1 2440.0,431.4" fill="none" stroke="#aca56c" stroke-width="1.0"/>
<line x1="2445.4" y1="401.8" x2="2443.7" y2="424.6" stroke="#aca56c" stroke-width="0.8"/>
<line x1="2449.6" y1="393.5" x2="2447.4" y2="417.8" stroke="#aca56c" stroke-width="0.8"/>
<line x1="2453.8" y1="385.2" x2="2451.1" y2="410.9" stroke="#aca56c" stroke-width="0.8"/>
<line x1="2440.8" y1="417.2" x2="2457.0" y2="386.0" stroke="#aca56c" stroke-width="0.8"/>
<line x1="2440.4" y1="424.3" x2="2455.9" y2="395.0" stroke="#aca56c" stroke-width="0.8"/>
<polygon points="2403.4,382.2 2417.6,380.6 2417.1,397.5 2412.7,401.9 2403.4,399.7" fill="#44445e"/>
<polygon points="2412.7,382.2 2417.6,380.6 2417.1,397.5 2412.7,401.9" fill="#2c2c3e"/>
<circle cx="2406.9" cy="386.6" r="2.1" fill="#b9b9dc"/><circle cx="2406.9" cy="386.6" r="1" fill="#33334a"/>
<circle cx="2407.4" cy="394.0" r="3.6" fill="#6a6a96"/><circle cx="2407.4" cy="394.0" r="2.3" fill="#20203a"/>
<rect x="2416.5" y="415.0" width="14.4" height="7.6" rx="2.4" fill="#d9d9d9" transform="rotate(12 2416.5 415.0)"/>
<ellipse cx="2425.6" cy="420.7" rx="2.6" ry="1.8" fill="#3c3c3c"/>
<line x1="2358" y1="350.1" x2="2511.6" y2="350.1" stroke="#0e0e0e" stroke-width="1"/>
<polyline points="2408.9,557.6 2378.8,566.9 2374.4,585.5" stroke="#ad6338" stroke-width="1.9" fill="none" stroke-linejoin="round" stroke-linecap="round"/>
<polyline points="2451.0,541.8 2463.0,544.0 2476.1,557.1" stroke="#ad6338" stroke-width="2.6" fill="none" stroke-linejoin="round" stroke-linecap="round"/>
<polyline points="2459.7,541.8 2473.9,538.5 2489.2,557.1" stroke="#ad6338" stroke-width="1.9" fill="none" stroke-linejoin="round" stroke-linecap="round"/>
<ellipse cx="2490.9" cy="559.3" rx="6.6" ry="3.5" fill="none" stroke="#5c5c5c" stroke-width="1"/>
<ellipse cx="2490.9" cy="559.3" rx="3.9" ry="2.1" fill="none" stroke="#3a3a3a" stroke-width="0.8"/>
<polygon points="2430.2,515.0 2458.1,514.7 2454.8,541.8 2429.1,533.0" fill="none" stroke="#aca56c" stroke-width="0.8"/>
<line x1="2435.8" y1="514.9" x2="2434.2" y2="534.8" stroke="#aca56c" stroke-width="0.6"/>
<line x1="2441.3" y1="514.9" x2="2439.4" y2="536.5" stroke="#aca56c" stroke-width="0.6"/>
<line x1="2446.9" y1="514.8" x2="2444.5" y2="538.3" stroke="#aca56c" stroke-width="0.6"/>
<line x1="2452.5" y1="514.7" x2="2449.7" y2="540.0" stroke="#aca56c" stroke-width="0.6"/>
<line x1="2429.8" y1="521.0" x2="2457.0" y2="523.7" stroke="#aca56c" stroke-width="0.6"/>
<line x1="2429.5" y1="527.0" x2="2455.9" y2="532.7" stroke="#aca56c" stroke-width="0.6"/>
<polygon points="2409.4,540.1 2430.2,515.0 2429.1,533.0 2410.0,557.1" fill="none" stroke="#aca56c" stroke-width="0.9"/>
<line x1="2414.6" y1="533.9" x2="2414.7" y2="551.1" stroke="#aca56c" stroke-width="0.7"/>
<line x1="2419.8" y1="527.6" x2="2419.5" y2="545.1" stroke="#aca56c" stroke-width="0.7"/>
<line x1="2425.0" y1="521.3" x2="2424.3" y2="539.1" stroke="#aca56c" stroke-width="0.7"/>
<line x1="2409.6" y1="545.8" x2="2429.8" y2="521.0" stroke="#aca56c" stroke-width="0.7"/>
<line x1="2409.8" y1="551.4" x2="2429.5" y2="527.0" stroke="#aca56c" stroke-width="0.7"/>
<polygon points="2432.4,510.6 2447.1,513.3 2447.1,523.2 2433.5,522.1" fill="#2b4741"/>
<polygon points="2437.8,513.3 2445.5,515.0 2445.5,519.9 2438.4,518.8" fill="#1d302c"/>
<polygon points="2433.5,523.7 2445.5,524.8 2444.4,546.7 2434.6,545.1" fill="#3d3d58"/>
<circle cx="2439.2" cy="529.8" r="2.3" fill="#8c8cb8"/><circle cx="2439.2" cy="529.8" r="1.1" fill="#22223a"/>
<circle cx="2439.6" cy="539.6" r="3.8" fill="#5e5e8a"/><circle cx="2439.6" cy="539.6" r="2.5" fill="#1c1c30"/>
<polygon points="2409.4,540.1 2441.1,547.8 2440.0,569.1 2410.0,557.1" fill="none" stroke="#aca56c" stroke-width="1.0"/>
<line x1="2415.7" y1="541.7" x2="2416.0" y2="559.5" stroke="#aca56c" stroke-width="0.8"/>
<line x1="2422.1" y1="543.2" x2="2422.0" y2="561.9" stroke="#aca56c" stroke-width="0.8"/>
<line x1="2428.4" y1="544.7" x2="2428.0" y2="564.3" stroke="#aca56c" stroke-width="0.8"/>
<line x1="2434.8" y1="546.3" x2="2434.0" y2="566.7" stroke="#aca56c" stroke-width="0.8"/>
<line x1="2409.6" y1="545.8" x2="2440.8" y2="554.9" stroke="#aca56c" stroke-width="0.8"/>
<line x1="2409.8" y1="551.4" x2="2440.4" y2="562.0" stroke="#aca56c" stroke-width="0.8"/>
<polygon points="2441.1,547.8 2458.1,514.7 2454.8,541.8 2440.0,569.1" fill="none" stroke="#aca56c" stroke-width="1.0"/>
<line x1="2445.4" y1="539.5" x2="2443.7" y2="562.3" stroke="#aca56c" stroke-width="0.8"/>
<line x1="2449.6" y1="531.2" x2="2447.4" y2="555.5" stroke="#aca56c" stroke-width="0.8"/>
<line x1="2453.8" y1="522.9" x2="2451.1" y2="548.6" stroke="#aca56c" stroke-width="0.8"/>
<line x1="2440.8" y1="554.9" x2="2457.0" y2="523.7" stroke="#aca56c" stroke-width="0.8"/>
<line x1="2440.4" y1="562.0" x2="2455.9" y2="532.7" stroke="#aca56c" stroke-width="0.8"/>
<polygon points="2403.4,519.9 2417.6,518.3 2417.1,535.2 2412.7,539.6 2403.4,537.4" fill="#44445e"/>
<polygon points="2412.7,519.9 2417.6,518.3 2417.1,535.2 2412.7,539.6" fill="#2c2c3e"/>
<circle cx="2406.9" cy="524.3" r="2.1" fill="#b9b9dc"/><circle cx="2406.9" cy="524.3" r="1" fill="#33334a"/>
<circle cx="2407.4" cy="531.7" r="3.6" fill="#6a6a96"/><circle cx="2407.4" cy="531.7" r="2.3" fill="#20203a"/>
<rect x="2416.5" y="552.7" width="14.4" height="7.6" rx="2.4" fill="#d9d9d9" transform="rotate(12 2416.5 552.7)"/>
<ellipse cx="2425.6" cy="558.4" rx="2.6" ry="1.8" fill="#3c3c3c"/>
<line x1="2358" y1="487.8" x2="2511.6" y2="487.8" stroke="#0e0e0e" stroke-width="1"/>
<polygon points="2364.5,686.9 2391.0,686.0 2402.4,692.7 2420.2,706.1 2438.0,706.1 2440.2,739.5 2422.4,748.2 2406.9,726.1 2395.5,752.9 2384.5,726.1 2379.6,706.1" fill="#363636"/>
<polygon points="2390.2,706.6 2406.1,706.1 2413.0,710.2 2423.6,718.5 2434.3,718.5 2435.7,739.2 2425.0,744.6 2415.7,731.0 2408.9,747.5 2402.3,731.0 2399.3,718.5" fill="#474747" opacity="0.85"/>
<polyline points="2408.9,695.3 2383.2,707.9 2390.8,729.8" stroke="#ad6338" stroke-width="1.9" fill="none" stroke-linejoin="round" stroke-linecap="round"/>
<ellipse cx="2390.8" cy="731.4" rx="8.2" ry="4.4" fill="none" stroke="#5c5c5c" stroke-width="1"/>
<ellipse cx="2390.8" cy="731.4" rx="4.9" ry="2.6" fill="none" stroke="#3a3a3a" stroke-width="0.8"/>
<polyline points="2449.9,681.7 2459.7,694.8 2463.0,715.6" stroke="#ad6338" stroke-width="2.8" fill="none" stroke-linejoin="round" stroke-linecap="round"/>
<polyline points="2459.7,679.5 2472.8,674.0 2486.0,690.4" stroke="#ad6338" stroke-width="1.9" fill="none" stroke-linejoin="round" stroke-linecap="round"/>
<ellipse cx="2398.5" cy="671.8" rx="5" ry="7" fill="none" stroke="#8a8a8a" stroke-width="0.8"/>
<polygon points="2430.2,652.7 2458.1,652.4 2454.8,679.5 2429.1,670.7" fill="none" stroke="#aca56c" stroke-width="0.8"/>
<line x1="2435.8" y1="652.6" x2="2434.2" y2="672.5" stroke="#aca56c" stroke-width="0.6"/>
<line x1="2441.3" y1="652.6" x2="2439.4" y2="674.2" stroke="#aca56c" stroke-width="0.6"/>
<line x1="2446.9" y1="652.5" x2="2444.5" y2="676.0" stroke="#aca56c" stroke-width="0.6"/>
<line x1="2452.5" y1="652.4" x2="2449.7" y2="677.7" stroke="#aca56c" stroke-width="0.6"/>
<line x1="2429.8" y1="658.7" x2="2457.0" y2="661.4" stroke="#aca56c" stroke-width="0.6"/>
<line x1="2429.5" y1="664.7" x2="2455.9" y2="670.4" stroke="#aca56c" stroke-width="0.6"/>
<polygon points="2409.4,677.8 2430.2,652.7 2429.1,670.7 2410.0,694.8" fill="none" stroke="#aca56c" stroke-width="0.9"/>
<line x1="2414.6" y1="671.6" x2="2414.7" y2="688.8" stroke="#aca56c" stroke-width="0.7"/>
<line x1="2419.8" y1="665.3" x2="2419.5" y2="682.8" stroke="#aca56c" stroke-width="0.7"/>
<line x1="2425.0" y1="659.0" x2="2424.3" y2="676.8" stroke="#aca56c" stroke-width="0.7"/>
<line x1="2409.6" y1="683.5" x2="2429.8" y2="658.7" stroke="#aca56c" stroke-width="0.7"/>
<line x1="2409.8" y1="689.1" x2="2429.5" y2="664.7" stroke="#aca56c" stroke-width="0.7"/>
<polygon points="2432.4,648.3 2447.1,651.0 2447.1,660.9 2433.5,659.8" fill="#2b4741"/>
<polygon points="2437.8,651.0 2445.5,652.7 2445.5,657.6 2438.4,656.5" fill="#1d302c"/>
<polygon points="2433.5,661.4 2445.5,662.5 2444.4,684.4 2434.6,682.8" fill="#3d3d58"/>
<circle cx="2439.2" cy="667.5" r="2.3" fill="#8c8cb8"/><circle cx="2439.2" cy="667.5" r="1.1" fill="#22223a"/>
<circle cx="2439.6" cy="677.3" r="3.8" fill="#5e5e8a"/><circle cx="2439.6" cy="677.3" r="2.5" fill="#1c1c30"/>
<polygon points="2409.4,677.8 2441.1,685.5 2440.0,706.8 2410.0,694.8" fill="none" stroke="#aca56c" stroke-width="1.0"/>
<line x1="2415.7" y1="679.4" x2="2416.0" y2="697.2" stroke="#aca56c" stroke-width="0.8"/>
<line x1="2422.1" y1="680.9" x2="2422.0" y2="699.6" stroke="#aca56c" stroke-width="0.8"/>
<line x1="2428.4" y1="682.4" x2="2428.0" y2="702.0" stroke="#aca56c" stroke-width="0.8"/>
<line x1="2434.8" y1="684.0" x2="2434.0" y2="704.4" stroke="#aca56c" stroke-width="0.8"/>
<line x1="2409.6" y1="683.5" x2="2440.8" y2="692.6" stroke="#aca56c" stroke-width="0.8"/>
<line x1="2409.8" y1="689.1" x2="2440.4" y2="699.7" stroke="#aca56c" stroke-width="0.8"/>
<polygon points="2441.1,685.5 2458.1,652.4 2454.8,679.5 2440.0,706.8" fill="none" stroke="#aca56c" stroke-width="1.0"/>
<line x1="2445.4" y1="677.2" x2="2443.7" y2="700.0" stroke="#aca56c" stroke-width="0.8"/>
<line x1="2449.6" y1="668.9" x2="2447.4" y2="693.2" stroke="#aca56c" stroke-width="0.8"/>
<line x1="2453.8" y1="660.6" x2="2451.1" y2="686.3" stroke="#aca56c" stroke-width="0.8"/>
<line x1="2440.8" y1="692.6" x2="2457.0" y2="661.4" stroke="#aca56c" stroke-width="0.8"/>
<line x1="2440.4" y1="699.7" x2="2455.9" y2="670.4" stroke="#aca56c" stroke-width="0.8"/>
<polygon points="2403.4,657.6 2417.6,656.0 2417.1,672.9 2412.7,677.3 2403.4,675.1" fill="#44445e"/>
<polygon points="2412.7,657.6 2417.6,656.0 2417.1,672.9 2412.7,677.3" fill="#2c2c3e"/>
<circle cx="2406.9" cy="662.0" r="2.1" fill="#b9b9dc"/><circle cx="2406.9" cy="662.0" r="1" fill="#33334a"/>
<circle cx="2407.4" cy="669.4" r="3.6" fill="#6a6a96"/><circle cx="2407.4" cy="669.4" r="2.3" fill="#20203a"/>
<rect x="2416.5" y="690.4" width="14.4" height="7.6" rx="2.4" fill="#d9d9d9" transform="rotate(12 2416.5 690.4)"/>
<ellipse cx="2425.6" cy="696.1" rx="2.6" ry="1.8" fill="#3c3c3c"/>
<line x1="2358" y1="625.5" x2="2511.6" y2="625.5" stroke="#0e0e0e" stroke-width="1"/>
<polygon points="2364.5,823.0 2394.0,822.0 2406.7,829.3 2426.6,844.0 2446.5,844.0 2449.0,880.8 2429.1,890.4 2411.8,866.1 2399.1,895.5 2386.9,866.1 2381.4,844.0" fill="#363636"/>
<polygon points="2384.7,837.4 2406.0,836.7 2415.2,842.2 2429.5,853.2 2443.8,853.2 2445.6,880.8 2431.3,888.0 2418.8,869.8 2409.7,891.8 2400.9,869.8 2396.9,853.2" fill="#5c5c5c" opacity="0.9"/>
<polygon points="2406.7,855.8 2429.6,851.4 2439.7,866.8 2421.9,880.1 2416.9,866.8" fill="#858585" opacity="0.8"/>
<polyline points="2408.9,833.0 2383.2,828.1 2370.0,841.2" stroke="#ad6338" stroke-width="1.9" fill="none" stroke-linejoin="round" stroke-linecap="round"/>
<polyline points="2449.9,819.4 2460.8,839.1 2464.1,860.9" stroke="#ad6338" stroke-width="2.8" fill="none" stroke-linejoin="round" stroke-linecap="round"/>
<ellipse cx="2465.2" cy="864.2" rx="7.7" ry="4.2" fill="none" stroke="#5c5c5c" stroke-width="1"/>
<ellipse cx="2465.2" cy="864.2" rx="4.6" ry="2.5" fill="none" stroke="#3a3a3a" stroke-width="0.8"/>
<polyline points="2459.7,817.2 2471.7,810.6 2480.5,828.1" stroke="#ad6338" stroke-width="1.9" fill="none" stroke-linejoin="round" stroke-linecap="round"/>
<ellipse cx="2398.5" cy="809.5" rx="5" ry="7" fill="none" stroke="#8a8a8a" stroke-width="0.8"/>
<polygon points="2430.2,790.4 2458.1,790.1 2454.8,817.2 2429.1,808.4" fill="none" stroke="#aca56c" stroke-width="0.8"/>
<line x1="2435.8" y1="790.3" x2="2434.2" y2="810.2" stroke="#aca56c" stroke-width="0.6"/>
<line x1="2441.3" y1="790.3" x2="2439.4" y2="811.9" stroke="#aca56c" stroke-width="0.6"/>
<line x1="2446.9" y1="790.2" x2="2444.5" y2="813.7" stroke="#aca56c" stroke-width="0.6"/>
<line x1="2452.5" y1="790.1" x2="2449.7" y2="815.4" stroke="#aca56c" stroke-width="0.6"/>
<line x1="2429.8" y1="796.4" x2="2457.0" y2="799.1" stroke="#aca56c" stroke-width="0.6"/>
<line x1="2429.5" y1="802.4" x2="2455.9" y2="808.1" stroke="#aca56c" stroke-width="0.6"/>
<polygon points="2409.4,815.5 2430.2,790.4 2429.1,808.4 2410.0,832.5" fill="none" stroke="#aca56c" stroke-width="0.9"/>
<line x1="2414.6" y1="809.3" x2="2414.7" y2="826.5" stroke="#aca56c" stroke-width="0.7"/>
<line x1="2419.8" y1="803.0" x2="2419.5" y2="820.5" stroke="#aca56c" stroke-width="0.7"/>
<line x1="2425.0" y1="796.7" x2="2424.3" y2="814.5" stroke="#aca56c" stroke-width="0.7"/>
<line x1="2409.6" y1="821.2" x2="2429.8" y2="796.4" stroke="#aca56c" stroke-width="0.7"/>
<line x1="2409.8" y1="826.8" x2="2429.5" y2="802.4" stroke="#aca56c" stroke-width="0.7"/>
<polygon points="2432.4,786.0 2447.1,788.7 2447.1,798.6 2433.5,797.5" fill="#2b4741"/>
<polygon points="2437.8,788.7 2445.5,790.4 2445.5,795.3 2438.4,794.2" fill="#1d302c"/>
<polygon points="2433.5,799.1 2445.5,800.2 2444.4,822.1 2434.6,820.5" fill="#3d3d58"/>
<circle cx="2439.2" cy="805.2" r="2.3" fill="#8c8cb8"/><circle cx="2439.2" cy="805.2" r="1.1" fill="#22223a"/>
<circle cx="2439.6" cy="815.0" r="3.8" fill="#5e5e8a"/><circle cx="2439.6" cy="815.0" r="2.5" fill="#1c1c30"/>
<polygon points="2409.4,815.5 2441.1,823.2 2440.0,844.5 2410.0,832.5" fill="none" stroke="#aca56c" stroke-width="1.0"/>
<line x1="2415.7" y1="817.1" x2="2416.0" y2="834.9" stroke="#aca56c" stroke-width="0.8"/>
<line x1="2422.1" y1="818.6" x2="2422.0" y2="837.3" stroke="#aca56c" stroke-width="0.8"/>
<line x1="2428.4" y1="820.1" x2="2428.0" y2="839.7" stroke="#aca56c" stroke-width="0.8"/>
<line x1="2434.8" y1="821.7" x2="2434.0" y2="842.1" stroke="#aca56c" stroke-width="0.8"/>
<line x1="2409.6" y1="821.2" x2="2440.8" y2="830.3" stroke="#aca56c" stroke-width="0.8"/>
<line x1="2409.8" y1="826.8" x2="2440.4" y2="837.4" stroke="#aca56c" stroke-width="0.8"/>
<polygon points="2441.1,823.2 2458.1,790.1 2454.8,817.2 2440.0,844.5" fill="none" stroke="#aca56c" stroke-width="1.0"/>
<line x1="2445.4" y1="814.9" x2="2443.7" y2="837.7" stroke="#aca56c" stroke-width="0.8"/>
<line x1="2449.6" y1="806.6" x2="2447.4" y2="830.9" stroke="#aca56c" stroke-width="0.8"/>
<line x1="2453.8" y1="798.3" x2="2451.1" y2="824.0" stroke="#aca56c" stroke-width="0.8"/>
<line x1="2440.8" y1="830.3" x2="2457.0" y2="799.1" stroke="#aca56c" stroke-width="0.8"/>
<line x1="2440.4" y1="837.4" x2="2455.9" y2="808.1" stroke="#aca56c" stroke-width="0.8"/>
<polygon points="2403.4,795.3 2417.6,793.7 2417.1,810.6 2412.7,815.0 2403.4,812.8" fill="#44445e"/>
<polygon points="2412.7,795.3 2417.6,793.7 2417.1,810.6 2412.7,815.0" fill="#2c2c3e"/>
<circle cx="2406.9" cy="799.7" r="2.1" fill="#b9b9dc"/><circle cx="2406.9" cy="799.7" r="1" fill="#33334a"/>
<circle cx="2407.4" cy="807.1" r="3.6" fill="#6a6a96"/><circle cx="2407.4" cy="807.1" r="2.3" fill="#20203a"/>
<rect x="2416.5" y="828.1" width="14.4" height="7.6" rx="2.4" fill="#d9d9d9" transform="rotate(12 2416.5 828.1)"/>
<ellipse cx="2425.6" cy="833.8" rx="2.6" ry="1.8" fill="#3c3c3c"/>
<line x1="2358" y1="763.2" x2="2511.6" y2="763.2" stroke="#0e0e0e" stroke-width="1"/>
<polygon points="2384.5,945.4 2407.1,944.3 2416.7,952.8 2431.9,969.7 2447.1,969.7 2449.0,1012.2 2433.8,1023.2 2420.6,995.2 2410.9,1029.2 2401.6,995.2 2397.4,969.7" fill="#363636"/>
<polygon points="2400.0,962.1 2416.2,961.3 2423.2,967.6 2434.1,980.3 2445.0,980.3 2446.4,1012.2 2435.5,1020.5 2426.0,999.4 2419.0,1024.9 2412.3,999.4 2409.2,980.3" fill="#5c5c5c" opacity="0.9"/>
<polygon points="2416.7,983.3 2434.2,978.2 2441.9,996.1 2428.3,1011.3 2424.5,996.1" fill="#858585" opacity="0.8"/>
<polyline points="2408.9,970.7 2379.9,970.2 2372.2,989.9" stroke="#ad6338" stroke-width="1.9" fill="none" stroke-linejoin="round" stroke-linecap="round"/>
<polyline points="2449.9,957.1 2461.9,970.2 2466.3,993.2" stroke="#ad6338" stroke-width="2.8" fill="none" stroke-linejoin="round" stroke-linecap="round"/>
<polyline points="2459.7,954.9 2475.0,949.4 2489.2,965.8" stroke="#ad6338" stroke-width="1.9" fill="none" stroke-linejoin="round" stroke-linecap="round"/>
<polygon points="2430.2,928.1 2458.1,927.8 2454.8,954.9 2429.1,946.1" fill="none" stroke="#aca56c" stroke-width="0.8"/>
<line x1="2435.8" y1="928.0" x2="2434.2" y2="947.9" stroke="#aca56c" stroke-width="0.6"/>
<line x1="2441.3" y1="928.0" x2="2439.4" y2="949.6" stroke="#aca56c" stroke-width="0.6"/>
<line x1="2446.9" y1="927.9" x2="2444.5" y2="951.4" stroke="#aca56c" stroke-width="0.6"/>
<line x1="2452.5" y1="927.8" x2="2449.7" y2="953.1" stroke="#aca56c" stroke-width="0.6"/>
<line x1="2429.8" y1="934.1" x2="2457.0" y2="936.8" stroke="#aca56c" stroke-width="0.6"/>
<line x1="2429.5" y1="940.1" x2="2455.9" y2="945.8" stroke="#aca56c" stroke-width="0.6"/>
<polygon points="2409.4,953.2 2430.2,928.1 2429.1,946.1 2410.0,970.2" fill="none" stroke="#aca56c" stroke-width="0.9"/>
<line x1="2414.6" y1="947.0" x2="2414.7" y2="964.2" stroke="#aca56c" stroke-width="0.7"/>
<line x1="2419.8" y1="940.7" x2="2419.5" y2="958.2" stroke="#aca56c" stroke-width="0.7"/>
<line x1="2425.0" y1="934.4" x2="2424.3" y2="952.2" stroke="#aca56c" stroke-width="0.7"/>
<line x1="2409.6" y1="958.9" x2="2429.8" y2="934.1" stroke="#aca56c" stroke-width="0.7"/>
<line x1="2409.8" y1="964.5" x2="2429.5" y2="940.1" stroke="#aca56c" stroke-width="0.7"/>
<polygon points="2432.4,923.7 2447.1,926.4 2447.1,936.3 2433.5,935.2" fill="#2b4741"/>
<polygon points="2437.8,926.4 2445.5,928.1 2445.5,933.0 2438.4,931.9" fill="#1d302c"/>
<polygon points="2433.5,936.8 2445.5,937.9 2444.4,959.8 2434.6,958.2" fill="#3d3d58"/>
<circle cx="2439.2" cy="942.9" r="2.3" fill="#8c8cb8"/><circle cx="2439.2" cy="942.9" r="1.1" fill="#22223a"/>
<circle cx="2439.6" cy="952.7" r="3.8" fill="#5e5e8a"/><circle cx="2439.6" cy="952.7" r="2.5" fill="#1c1c30"/>
<polygon points="2409.4,953.2 2441.1,960.9 2440.0,982.2 2410.0,970.2" fill="none" stroke="#aca56c" stroke-width="1.0"/>
<line x1="2415.7" y1="954.8" x2="2416.0" y2="972.6" stroke="#aca56c" stroke-width="0.8"/>
<line x1="2422.1" y1="956.3" x2="2422.0" y2="975.0" stroke="#aca56c" stroke-width="0.8"/>
<line x1="2428.4" y1="957.8" x2="2428.0" y2="977.4" stroke="#aca56c" stroke-width="0.8"/>
<line x1="2434.8" y1="959.4" x2="2434.0" y2="979.8" stroke="#aca56c" stroke-width="0.8"/>
<line x1="2409.6" y1="958.9" x2="2440.8" y2="968.0" stroke="#aca56c" stroke-width="0.8"/>
<line x1="2409.8" y1="964.5" x2="2440.4" y2="975.1" stroke="#aca56c" stroke-width="0.8"/>
<polygon points="2441.1,960.9 2458.1,927.8 2454.8,954.9 2440.0,982.2" fill="none" stroke="#aca56c" stroke-width="1.0"/>
<line x1="2445.4" y1="952.6" x2="2443.7" y2="975.4" stroke="#aca56c" stroke-width="0.8"/>
<line x1="2449.6" y1="944.3" x2="2447.4" y2="968.6" stroke="#aca56c" stroke-width="0.8"/>
<line x1="2453.8" y1="936.0" x2="2451.1" y2="961.7" stroke="#aca56c" stroke-width="0.8"/>
<line x1="2440.8" y1="968.0" x2="2457.0" y2="936.8" stroke="#aca56c" stroke-width="0.8"/>
<line x1="2440.4" y1="975.1" x2="2455.9" y2="945.8" stroke="#aca56c" stroke-width="0.8"/>
<polygon points="2403.4,933.0 2417.6,931.4 2417.1,948.3 2412.7,952.7 2403.4,950.5" fill="#44445e"/>
<polygon points="2412.7,933.0 2417.6,931.4 2417.1,948.3 2412.7,952.7" fill="#2c2c3e"/>
<circle cx="2406.9" cy="937.4" r="2.1" fill="#b9b9dc"/><circle cx="2406.9" cy="937.4" r="1" fill="#33334a"/>
<circle cx="2407.4" cy="944.8" r="3.6" fill="#6a6a96"/><circle cx="2407.4" cy="944.8" r="2.3" fill="#20203a"/>
<rect x="2416.5" y="965.8" width="14.4" height="7.6" rx="2.4" fill="#d9d9d9" transform="rotate(12 2416.5 965.8)"/>
<ellipse cx="2425.6" cy="971.5" rx="2.6" ry="1.8" fill="#3c3c3c"/>
<line x1="2358" y1="900.9" x2="2511.6" y2="900.9" stroke="#0e0e0e" stroke-width="1"/>
<polygon points="2395.7,1105.5 2414.4,1104.7 2422.4,1110.8 2434.9,1122.8 2447.4,1122.8 2449.0,1153.0 2436.5,1160.9 2425.6,1141.0 2417.6,1165.1 2409.8,1141.0 2406.4,1122.8" fill="#363636"/>
<polygon points="2413.8,1123.3 2425.0,1122.8 2429.8,1126.6 2437.3,1134.1 2444.8,1134.1 2445.8,1152.8 2438.3,1157.7 2431.7,1145.3 2426.9,1160.3 2422.3,1145.3 2420.2,1134.1" fill="#474747" opacity="0.85"/>
<polyline points="2408.9,1108.4 2377.7,1118.8 2381.0,1136.3" stroke="#ad6338" stroke-width="1.9" fill="none" stroke-linejoin="round" stroke-linecap="round"/>
<polyline points="2449.9,1094.8 2461.9,1103.5 2473.9,1121.0" stroke="#ad6338" stroke-width="2.6" fill="none" stroke-linejoin="round" stroke-linecap="round"/>
<polyline points="2459.7,1092.6 2476.1,1088.2 2490.3,1105.7" stroke="#ad6338" stroke-width="1.9" fill="none" stroke-linejoin="round" stroke-linecap="round"/>
<ellipse cx="2492.5" cy="1107.9" rx="6.6" ry="3.5" fill="none" stroke="#5c5c5c" stroke-width="1"/>
<ellipse cx="2492.5" cy="1107.9" rx="3.9" ry="2.1" fill="none" stroke="#3a3a3a" stroke-width="0.8"/>
<ellipse cx="2398.5" cy="1084.9" rx="5" ry="7" fill="none" stroke="#8a8a8a" stroke-width="0.8"/>
<polygon points="2430.2,1065.8 2458.1,1065.5 2454.8,1092.6 2429.1,1083.8" fill="none" stroke="#aca56c" stroke-width="0.8"/>
<line x1="2435.8" y1="1065.7" x2="2434.2" y2="1085.6" stroke="#aca56c" stroke-width="0.6"/>
<line x1="2441.3" y1="1065.7" x2="2439.4" y2="1087.3" stroke="#aca56c" stroke-width="0.6"/>
<line x1="2446.9" y1="1065.6" x2="2444.5" y2="1089.1" stroke="#aca56c" stroke-width="0.6"/>
<line x1="2452.5" y1="1065.5" x2="2449.7" y2="1090.8" stroke="#aca56c" stroke-width="0.6"/>
<line x1="2429.8" y1="1071.8" x2="2457.0" y2="1074.5" stroke="#aca56c" stroke-width="0.6"/>
<line x1="2429.5" y1="1077.8" x2="2455.9" y2="1083.5" stroke="#aca56c" stroke-width="0.6"/>
<polygon points="2409.4,1090.9 2430.2,1065.8 2429.1,1083.8 2410.0,1107.9" fill="none" stroke="#aca56c" stroke-width="0.9"/>
<line x1="2414.6" y1="1084.7" x2="2414.7" y2="1101.9" stroke="#aca56c" stroke-width="0.7"/>
<line x1="2419.8" y1="1078.4" x2="2419.5" y2="1095.9" stroke="#aca56c" stroke-width="0.7"/>
<line x1="2425.0" y1="1072.1" x2="2424.3" y2="1089.9" stroke="#aca56c" stroke-width="0.7"/>
<line x1="2409.6" y1="1096.6" x2="2429.8" y2="1071.8" stroke="#aca56c" stroke-width="0.7"/>
<line x1="2409.8" y1="1102.2" x2="2429.5" y2="1077.8" stroke="#aca56c" stroke-width="0.7"/>
<polygon points="2432.4,1061.4 2447.1,1064.1 2447.1,1074.0 2433.5,1072.9" fill="#2b4741"/>
<polygon points="2437.8,1064.1 2445.5,1065.8 2445.5,1070.7 2438.4,1069.6" fill="#1d302c"/>
<polygon points="2433.5,1074.5 2445.5,1075.6 2444.4,1097.5 2434.6,1095.9" fill="#3d3d58"/>
<circle cx="2439.2" cy="1080.6" r="2.3" fill="#8c8cb8"/><circle cx="2439.2" cy="1080.6" r="1.1" fill="#22223a"/>
<circle cx="2439.6" cy="1090.4" r="3.8" fill="#5e5e8a"/><circle cx="2439.6" cy="1090.4" r="2.5" fill="#1c1c30"/>
<polygon points="2409.4,1090.9 2441.1,1098.6 2440.0,1119.9 2410.0,1107.9" fill="none" stroke="#aca56c" stroke-width="1.0"/>
<line x1="2415.7" y1="1092.5" x2="2416.0" y2="1110.3" stroke="#aca56c" stroke-width="0.8"/>
<line x1="2422.1" y1="1094.0" x2="2422.0" y2="1112.7" stroke="#aca56c" stroke-width="0.8"/>
<line x1="2428.4" y1="1095.5" x2="2428.0" y2="1115.1" stroke="#aca56c" stroke-width="0.8"/>
<line x1="2434.8" y1="1097.1" x2="2434.0" y2="1117.5" stroke="#aca56c" stroke-width="0.8"/>
<line x1="2409.6" y1="1096.6" x2="2440.8" y2="1105.7" stroke="#aca56c" stroke-width="0.8"/>
<line x1="2409.8" y1="1102.2" x2="2440.4" y2="1112.8" stroke="#aca56c" stroke-width="0.8"/>
<polygon points="2441.1,1098.6 2458.1,1065.5 2454.8,1092.6 2440.0,1119.9" fill="none" stroke="#aca56c" stroke-width="1.0"/>
<line x1="2445.4" y1="1090.3" x2="2443.7" y2="1113.1" stroke="#aca56c" stroke-width="0.8"/>
<line x1="2449.6" y1="1082.0" x2="2447.4" y2="1106.3" stroke="#aca56c" stroke-width="0.8"/>
<line x1="2453.8" y1="1073.7" x2="2451.1" y2="1099.4" stroke="#aca56c" stroke-width="0.8"/>
<line x1="2440.8" y1="1105.7" x2="2457.0" y2="1074.5" stroke="#aca56c" stroke-width="0.8"/>
<line x1="2440.4" y1="1112.8" x2="2455.9" y2="1083.5" stroke="#aca56c" stroke-width="0.8"/>
<polygon points="2403.4,1070.7 2417.6,1069.1 2417.1,1086.0 2412.7,1090.4 2403.4,1088.2" fill="#44445e"/>
<polygon points="2412.7,1070.7 2417.6,1069.1 2417.1,1086.0 2412.7,1090.4" fill="#2c2c3e"/>
<circle cx="2406.9" cy="1075.1" r="2.1" fill="#b9b9dc"/><circle cx="2406.9" cy="1075.1" r="1" fill="#33334a"/>
<circle cx="2407.4" cy="1082.5" r="3.6" fill="#6a6a96"/><circle cx="2407.4" cy="1082.5" r="2.3" fill="#20203a"/>
<rect x="2416.5" y="1103.5" width="14.4" height="7.6" rx="2.4" fill="#d9d9d9" transform="rotate(12 2416.5 1103.5)"/>
<ellipse cx="2425.6" cy="1109.2" rx="2.6" ry="1.8" fill="#3c3c3c"/>
<line x1="2358" y1="1038.6" x2="2511.6" y2="1038.6" stroke="#0e0e0e" stroke-width="1"/>
</g>
<text x="1943.8" y="48.4" font-size="17.80" fill="#161616" textLength="298.7" lengthAdjust="spacingAndGlyphs" >La necesidad del proyecto nace como</text>
<text x="1940.3" y="71.4" font-size="17.80" fill="#161616" textLength="351.4" lengthAdjust="spacingAndGlyphs" >investigación del grupo de experimentación</text>
<text x="1940.3" y="94.3" font-size="17.80" fill="#161616" textLength="387.5" lengthAdjust="spacingAndGlyphs" >descatalogado y desnombrado, desde sus inicios</text>
<text x="1940.3" y="117.3" font-size="17.80" fill="#161616" textLength="336.5" lengthAdjust="spacingAndGlyphs" >y adrede, ARKFORMANCE, pero que tantos</text>
<text x="1940.3" y="140.2" font-size="17.80" fill="#161616" textLength="387.5" lengthAdjust="spacingAndGlyphs" >placeres nos da unipersonales. El traslado de una</text>
<text x="1940.3" y="163.2" font-size="17.80" fill="#161616" textLength="322.9" lengthAdjust="spacingAndGlyphs" >simbología de la actualidad para, con los</text>
<text x="1940.3" y="186.2" font-size="17.80" fill="#161616" textLength="373.7" lengthAdjust="spacingAndGlyphs" >elementos ya habitantes, como soporte, alterar</text>
<text x="1940.3" y="209.1" font-size="17.80" fill="#161616" textLength="382.2" lengthAdjust="spacingAndGlyphs" >temporalmente el gran stand de exposición que</text>
<text x="1940.3" y="232.1" font-size="17.80" fill="#161616" textLength="322.9" lengthAdjust="spacingAndGlyphs" >es la ciudad, o al menos los trozos de ella</text>
<text x="1940.3" y="255.0" font-size="17.80" fill="#161616" textLength="359.1" lengthAdjust="spacingAndGlyphs" >oportunos. Situaciones y risas llevaron a todo</text>
<text x="1940.3" y="278.0" font-size="17.80" fill="#161616" textLength="359.5" lengthAdjust="spacingAndGlyphs" >esto. Autoconstruido, alterado y sustraido, sin</text>
<text x="1940.3" y="301.0" font-size="17.80" fill="#161616" textLength="316.2" lengthAdjust="spacingAndGlyphs" >permiso pero con beneplacito, ahora en</text>
<text x="1940.3" y="323.9" font-size="17.80" fill="#161616" textLength="391.0" lengthAdjust="spacingAndGlyphs" >laboratorio rodante y sus alrededores convertido.</text>
<text x="1940.3" y="369.8" font-size="17.80" fill="#161616" textLength="313.2" lengthAdjust="spacingAndGlyphs" >Solo cabe disfrutar del itinerario, donde</text>
<text x="1940.3" y="392.8" font-size="17.80" fill="#161616" textLength="385.5" lengthAdjust="spacingAndGlyphs" >proyectores, lasers, leds (arrojados), mezcladoras</text>
<text x="1940.3" y="415.8" font-size="17.80" fill="#161616" textLength="328.0" lengthAdjust="spacingAndGlyphs" >de música, webcams, graffitis, streamings</text>
<text x="1940.3" y="438.7" font-size="17.80" fill="#161616" textLength="375.7" lengthAdjust="spacingAndGlyphs" >puedan convertirse en usufructo de cualquiera.</text>
<text x="1940.3" y="461.7" font-size="17.80" fill="#161616" textLength="391.0" lengthAdjust="spacingAndGlyphs" >Interacción llevada a la más digital de sus facetas.</text>
<text x="1940.3" y="484.6" font-size="17.80" fill="#161616" textLength="351.7" lengthAdjust="spacingAndGlyphs" >Nosotros, simples interventores de la escena</text>
<text x="1940.3" y="507.6" font-size="17.80" fill="#161616" textLength="53.7" lengthAdjust="spacingAndGlyphs" >teatral.</text>
<text x="1359.0" y="787.0" font-size="22.60" fill="#111" textLength="107.0" lengthAdjust="spacingAndGlyphs" >LED´S LAB</text>
<text x="1736.0" y="788.3" font-size="22.60" fill="#111" textLength="115.0" lengthAdjust="spacingAndGlyphs" >LASER BOY</text>
<text x="2132.5" y="788.3" font-size="22.60" fill="#111" textLength="65.4" lengthAdjust="spacingAndGlyphs" >MIXER</text>
<text x="1329.0" y="1203.4" font-size="35.60" fill="#0a0a0a" textLength="871.0" lengthAdjust="spacingAndGlyphs" >“Damos vueltas toda la noche y el fuego nos consume”</text>
<text x="335.2" y="462.0" font-size="18.40" fill="#111" textLength="75.2" lengthAdjust="spacingAndGlyphs" >presenta:</text>
<g transform="translate(152.2,1031) rotate(-90)">
<text x="0.0" y="0.0" font-size="60.50" fill="#3f5b4b" textLength="338.5" lengthAdjust="spacingAndGlyphs" >DONOSTI.gif</text>
</g>
<text x="632.5" y="543.0" font-size="8.50" fill="#c4c4c4" text-anchor="middle" >88</text>
<text x="540.0" y="604.5" font-size="8.50" fill="#c4c4c4" text-anchor="middle" >58</text>
<text x="590.5" y="1195.0" font-size="8.50" fill="#c9c9c9" text-anchor="middle" >76</text>
<g transform="translate(336.5,836) rotate(-90)">
<text x="0.0" y="0.0" font-size="8.50" fill="#c4c4c4" text-anchor="middle" >47</text>
</g>
<g transform="translate(954,1058) rotate(-90)">
<text x="0.0" y="0.0" font-size="8.50" fill="#c4c4c4" text-anchor="middle" >39</text>
</g>
<g transform="translate(30,405) scale(0.11719)" stroke="#0f3a1f" fill="none" stroke-width="33" stroke-linecap="round" stroke-linejoin="round">
<polygon points="255,195 298,287 386,302 318,372 312,490 245,438 158,496 187,385 124,302 215,292" fill="#0f3a1f" stroke-width="24"/>
<path d="M512,408 L580,228 L638,488 M545,366 L616,346 M702,384 L720,202 C792,190 800,262 722,292 L818,394 M872,358 L882,162 M984,124 L886,266 L958,364 M1050,378 L1046,172 L1168,160 M1050,272 L1150,266 M1236,192 C1180,196 1180,358 1238,358 C1294,356 1290,190 1236,192 Z M1376,354 L1370,166 C1470,150 1480,242 1386,266 L1478,394 M1536,358 L1546,176 L1610,236 L1664,152 L1686,354 M1736,398 L1796,196 L1850,428 M1766,340 L1840,320 M1880,368 L1890,182 L1984,344 L2010,122 M2160,192 C2080,172 2050,300 2090,380 C2110,420 2180,390 2210,350 M2290,160 L2400,136 M2290,160 L2310,364 L2430,354 M2300,260 L2390,246"/>
</g>
</svg></body></html>
